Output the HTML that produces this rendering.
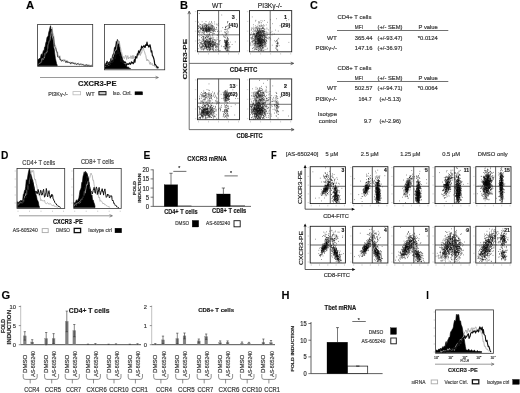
<!DOCTYPE html>
<html><head><meta charset="utf-8"><title>Figure</title>
<style>html,body{margin:0;padding:0;background:#fff;overflow:hidden}body{width:520px;height:393px}</style>
</head><body>
<svg width="520" height="393" viewBox="0 0 520 393" font-family='"Liberation Sans", sans-serif' style="display:block">
<style>text{stroke:#333;stroke-width:.22px;stroke-opacity:.8}</style>
<defs><filter id="bl" x="-2%" y="-2%" width="104%" height="104%"><feGaussianBlur stdDeviation="0.35"/></filter></defs>
<rect width="520" height="393" fill="#fff"/>
<g filter="url(#bl)" stroke-linecap="butt">
<text x="26.0" y="8.7" font-size="11" textLength="8.2" lengthAdjust="spacingAndGlyphs" font-weight="bold" fill="#000" stroke="#000" stroke-width=".4" stroke-opacity="1">A</text>
<text x="180.0" y="8.7" font-size="11" textLength="8.0" lengthAdjust="spacingAndGlyphs" font-weight="bold" fill="#000" stroke="#000" stroke-width=".4" stroke-opacity="1">B</text>
<text x="310.0" y="8.6" font-size="11" textLength="7.8" lengthAdjust="spacingAndGlyphs" font-weight="bold" fill="#000" stroke="#000" stroke-width=".4" stroke-opacity="1">C</text>
<text x="0.9" y="158.6" font-size="11" textLength="7.4" lengthAdjust="spacingAndGlyphs" font-weight="bold" fill="#000" stroke="#000" stroke-width=".4" stroke-opacity="1">D</text>
<text x="143.5" y="158.6" font-size="11" textLength="6.9" lengthAdjust="spacingAndGlyphs" font-weight="bold" fill="#000" stroke="#000" stroke-width=".4" stroke-opacity="1">E</text>
<text x="271.1" y="158.8" font-size="11" textLength="5.7" lengthAdjust="spacingAndGlyphs" font-weight="bold" fill="#000" stroke="#000" stroke-width=".4" stroke-opacity="1">F</text>
<text x="1.4" y="299.1" font-size="11" textLength="8.7" lengthAdjust="spacingAndGlyphs" font-weight="bold" fill="#000" stroke="#000" stroke-width=".4" stroke-opacity="1">G</text>
<text x="281.4" y="298.8" font-size="11" textLength="8.0" lengthAdjust="spacingAndGlyphs" font-weight="bold" fill="#000" stroke="#000" stroke-width=".4" stroke-opacity="1">H</text>
<text x="426.3" y="298.7" font-size="11" textLength="2.6" lengthAdjust="spacingAndGlyphs" font-weight="bold" fill="#000" stroke="#000" stroke-width=".4" stroke-opacity="1">I</text>
<path d="M38.0 59.2L38.6 59.5L39.2 58.4L39.8 58.6L40.4 57.9L41.0 54.9L41.6 53.8L42.2 56.3L42.8 52.7L43.4 50.5L44.0 51.3L44.6 47.1L45.2 46.4L45.8 42.8L46.4 41.3L47.0 37.2L47.6 37.0L48.2 35.7L48.8 32.0L49.4 30.2L50.0 27.3L50.6 25.7L51.2 32.7L51.8 36.3L52.4 38.3L53.0 40.4L53.6 46.9L54.2 49.0L54.8 54.0L55.4 58.5L56.0 61.1L56.6 63.7L57.2 65.1L57.2 65.8L38.0 65.8Z" fill="#000" stroke="#000" stroke-width="0.6" stroke-linejoin="round" opacity="1"/>
<path d="M38.4 64.2L39.0 63.9L39.6 63.5L40.2 63.3L40.8 62.3L41.4 62.1L42.0 58.4L42.6 58.8L43.2 59.8L43.8 57.7L44.4 57.9L45.0 53.5L45.6 54.1L46.2 52.2L46.8 52.5L47.4 50.5L48.0 45.2L48.6 43.3L49.2 40.8L49.8 40.8L50.4 37.5L51.0 32.4L51.6 32.8L52.2 27.4L52.8 32.9L53.4 34.1L54.0 37.0L54.6 44.2L55.2 44.7L55.8 46.6L56.4 51.7L57.0 52.8L57.6 51.9L58.2 56.5L58.8 55.5L59.4 57.0L60.0 55.8L60.6 59.7L61.2 59.5L61.8 61.0L62.4 61.0L63.0 59.3L63.6 59.8L64.2 59.5L64.8 59.8L65.4 59.9L66.0 60.9L66.6 61.9L67.2 60.5L67.8 62.3L68.4 61.6L69.0 61.7L69.6 63.0L70.2 62.3L70.8 62.1L71.4 62.6L72.0 63.2L72.6 61.9L73.2 64.0L73.8 62.1L74.4 63.8L75.0 64.1L75.6 62.6L76.2 64.2L76.8 63.5L77.4 64.0L78.0 63.0L78.6 63.2L79.2 63.5L79.8 64.9L80.4 63.7L81.0 64.7L81.6 65.0L82.2 65.1L82.8 64.2L83.4 64.3L84.0 64.6L84.6 65.1L85.2 64.1L85.8 65.2L86.4 65.3L87.0 65.4L87.6 64.4L88.2 65.7L88.8 64.6L89.4 65.0L90.0 65.4L90.6 65.8L91.2 65.3L91.8 65.8" fill="none" stroke="#aaa" stroke-width="0.8" stroke-linejoin="round" opacity="1"/>
<path d="M38.4 63.5L39.0 62.8L39.6 62.9L40.2 61.8L40.8 61.1L41.4 61.1L42.0 61.7L42.6 60.4L43.2 59.4L43.8 56.3L44.4 56.6L45.0 54.5L45.6 53.0L46.2 51.8L46.8 50.3L47.4 50.7L48.0 47.4L48.6 44.5L49.2 41.7L49.8 36.1L50.4 33.4L51.0 31.7L51.6 29.0L52.2 33.0L52.8 36.6L53.4 36.6L54.0 42.3L54.6 46.1L55.2 47.7L55.8 48.1L56.4 51.2L57.0 51.4L57.6 56.9L58.2 57.4L58.8 56.9L59.4 56.7L60.0 59.9L60.6 59.4L61.2 61.1L61.8 61.2L62.4 60.4L63.0 60.4L63.6 61.2L64.2 61.0L64.8 60.5L65.4 61.2L66.0 62.8L66.6 61.1L67.2 61.3L67.8 62.8L68.4 62.1L69.0 62.8L69.6 62.7L70.2 62.6L70.8 64.1L71.4 62.5L72.0 63.1L72.6 62.8L73.2 63.7L73.8 63.2L74.4 63.4L75.0 64.3L75.6 63.6L76.2 64.2L76.8 64.8L77.4 63.6L78.0 63.6L78.6 63.9L79.2 64.9L79.8 64.7L80.4 64.2L81.0 64.4L81.6 64.2L82.2 64.7L82.8 64.1L83.4 65.2L84.0 65.5L84.6 65.6L85.2 65.4L85.8 65.8L86.4 64.6L87.0 65.0L87.6 65.8L88.2 65.7L88.8 65.3L89.4 65.8L90.0 65.7L90.6 65.8L91.2 65.4L91.8 65.3" fill="none" stroke="#222" stroke-width="0.75" stroke-linejoin="round" opacity="1"/>
<rect x="37.6" y="24.5" width="55.1" height="41.8" fill="none" stroke="#333" stroke-width="0.8"/>
<path d="M104.8 64.4L105.4 64.3L106.0 63.0L106.6 62.1L107.2 60.9L107.8 63.2L108.4 62.3L109.0 63.2L109.6 61.6L110.2 62.2L110.8 58.5L111.4 59.6L112.0 57.8L112.6 54.9L113.2 54.0L113.8 52.5L114.4 47.7L115.0 47.1L115.6 46.0L116.2 41.4L116.8 42.0L117.4 39.4L118.0 41.5L118.6 41.1L119.2 41.9L119.8 47.8L120.4 51.5L121.0 53.3L121.6 55.3L122.2 57.3L122.8 60.6L123.4 60.3L124.0 64.1L124.6 63.9L125.2 64.0L125.8 65.6L126.4 65.3L127.0 67.0L127.6 67.3L128.2 66.8L128.8 67.5L129.4 67.9L130.0 68.5L130.6 68.7L130.6 68.7L104.8 68.7Z" fill="#000" stroke="#000" stroke-width="0.6" stroke-linejoin="round" opacity="1"/>
<path d="M105.0 65.4L105.6 66.9L106.2 64.6L106.8 65.8L107.4 63.9L108.0 64.1L108.6 66.0L109.2 63.5L109.8 64.5L110.4 63.1L111.0 61.8L111.6 60.8L112.2 58.1L112.8 60.0L113.4 55.2L114.0 54.7L114.6 51.7L115.2 50.9L115.8 49.6L116.4 49.9L117.0 45.4L117.6 42.1L118.2 40.7L118.8 43.6L119.4 41.6L120.0 46.6L120.6 47.8L121.2 51.7L121.8 52.7L122.4 56.9L123.0 56.2L123.6 57.2L124.2 58.7L124.8 57.4L125.4 55.5L126.0 55.4L126.6 59.5L127.2 57.1L127.8 55.6L128.4 59.0L129.0 57.1L129.6 57.7L130.2 58.4L130.8 55.7L131.4 56.2L132.0 58.9L132.6 55.5L133.2 58.7L133.8 55.5L134.4 58.1L135.0 57.8L135.6 58.8L136.2 58.0L136.8 56.1L137.4 54.4L138.0 53.9L138.6 55.4L139.2 55.0L139.8 52.2L140.4 55.5L141.0 52.9L141.6 53.1L142.2 50.1L142.8 49.5L143.4 47.7L144.0 50.8L144.6 51.9L145.2 54.2L145.8 55.5L146.4 59.2L147.0 61.0L147.6 59.2L148.2 60.7L148.8 60.3L149.4 62.8L150.0 64.4L150.6 62.2L151.2 64.6L151.8 63.7L152.4 63.5L153.0 66.0L153.6 65.4L154.2 65.6L154.8 66.6L155.4 66.8L156.0 67.6L156.6 68.1" fill="none" stroke="#aaa" stroke-width="0.9" stroke-linejoin="round" opacity="1"/>
<path d="M105.0 66.1L105.6 65.5L106.2 66.5L106.8 64.9L107.4 65.9L108.0 65.2L108.6 64.2L109.2 65.3L109.8 63.7L110.4 64.2L111.0 62.0L111.6 61.0L112.2 61.4L112.8 62.3L113.4 58.0L114.0 57.6L114.6 58.2L115.2 58.3L115.8 54.9L116.4 52.5L117.0 54.0L117.6 47.6L118.2 53.6L118.8 52.4L119.4 53.4L120.0 55.1L120.6 57.8L121.2 61.8L121.8 59.2L122.4 61.6L123.0 62.3L123.6 61.7L124.2 62.9L124.8 61.7L125.4 62.3L126.0 63.3L126.6 65.3L127.2 64.3L127.8 63.7L128.4 64.4L129.0 63.7L129.6 62.9L130.2 64.4L130.8 63.9L131.4 61.9L132.0 62.9L132.6 62.5L133.2 63.7L133.8 62.7L134.4 59.7L135.0 62.2L135.6 56.7L136.2 57.2L136.8 58.0L137.4 53.9L138.0 54.5L138.6 50.8L139.2 52.8L139.8 52.0L140.4 49.7L141.0 49.9L141.6 46.2L142.2 47.8L142.8 46.9L143.4 46.5L144.0 45.5L144.6 47.2L145.2 47.4L145.8 44.6L146.4 45.4L147.0 42.2L147.6 45.5L148.2 45.3L148.8 47.1L149.4 46.2L150.0 44.7L150.6 47.7L151.2 51.8L151.8 50.9L152.4 55.8L153.0 56.3L153.6 58.0L154.2 60.1L154.8 64.8L155.4 64.6L156.0 65.5L156.6 66.4L157.2 67.9L157.8 67.0L158.4 68.2" fill="none" stroke="#111" stroke-width="1.2" stroke-linejoin="round" opacity="1"/>
<rect x="104.4" y="24.4" width="60.3" height="45.4" fill="none" stroke="#333" stroke-width="0.8"/>
<line x1="40.0" y1="77.5" x2="158.0" y2="77.5" stroke="#555" stroke-width="0.6"/>
<path d="M155.5 76.2L158.5 77.5L155.5 78.8" fill="none" stroke="#555" stroke-width="0.6"/>
<text x="78.0" y="86.1" font-size="7" textLength="38.5" lengthAdjust="spacingAndGlyphs" font-weight="bold" stroke="none" fill="#111">CXCR3-PE</text>
<text x="48.3" y="95.8" font-size="5.4" textLength="19.4" lengthAdjust="spacingAndGlyphs" fill="#444">PI3Kγ-/-</text>
<rect x="73.0" y="91.6" width="7.6" height="3.2" fill="#fff" stroke="#bbb" stroke-width="0.8"/>
<text x="86.0" y="95.8" font-size="5.4" textLength="8.6" lengthAdjust="spacingAndGlyphs" fill="#444">WT</text>
<rect x="98.9" y="91.6" width="7.1" height="3.2" fill="#ccc" stroke="#111" stroke-width="1.0"/>
<text x="112.7" y="95.2" font-size="5.4" textLength="19.1" lengthAdjust="spacingAndGlyphs" fill="#444">Iso. Ctrl.</text>
<rect x="135.0" y="91.8" width="7.5" height="3.0" fill="#000" stroke="#000" stroke-width="0.5"/>
<text x="212.0" y="8.1" font-size="7.5" textLength="10.4" lengthAdjust="spacingAndGlyphs" fill="#222">WT</text>
<text x="257.8" y="8.1" font-size="7.5" textLength="24.2" lengthAdjust="spacingAndGlyphs" fill="#222">PI3Kγ-/-</text>
<path d="M205.3 29.9h.6M205.5 27.8h.6M202.5 28.0h.6M211.1 29.7h.6M210.8 29.2h.6M208.1 29.1h.6M199.4 30.8h.6M208.5 29.9h.6M199.3 24.1h.6M202.7 27.4h.6M207.7 28.5h.6M208.6 26.9h.6M207.7 29.6h.6M203.6 33.1h.6M208.7 31.7h.6M203.8 26.7h.6M205.0 28.3h.6M209.1 29.2h.6M204.5 26.1h.6M204.2 31.8h.6M203.0 29.2h.6M208.2 24.7h.6M206.6 32.0h.6M206.0 26.5h.6M208.5 28.4h.6M200.2 30.8h.6M209.2 31.1h.6M212.5 29.5h.6M206.9 25.2h.6M209.0 27.0h.6M204.5 25.3h.6M202.3 27.2h.6M211.8 23.3h.6M200.3 29.2h.6M212.5 30.1h.6M198.4 22.1h.6M207.9 26.7h.6M201.7 31.1h.6M211.0 29.0h.6M207.4 29.7h.6M213.1 30.2h.6M208.6 30.0h.6M199.8 31.9h.6M210.4 30.0h.6M198.1 27.0h.6M209.9 23.9h.6M205.6 31.3h.6M200.9 32.8h.6M208.7 28.2h.6M207.8 30.3h.6M206.9 31.6h.6M203.6 27.5h.6M210.8 28.7h.6M202.7 31.1h.6M212.6 27.4h.6M200.6 28.2h.6M205.8 27.8h.6M212.3 25.9h.6M211.7 25.3h.6M203.1 30.2h.6M211.1 30.8h.6M207.8 29.0h.6M207.0 30.1h.6M205.7 29.3h.6M208.8 28.6h.6M209.6 30.1h.6M214.8 29.4h.6M204.6 27.6h.6M206.3 31.0h.6M205.0 29.6h.6M214.1 21.9h.6M201.7 29.2h.6M208.1 29.2h.6M204.6 30.3h.6M207.6 27.2h.6M216.6 29.5h.6M204.1 28.3h.6M205.5 28.4h.6M210.6 25.6h.6M206.1 31.1h.6M210.0 32.5h.6M199.3 27.7h.6M205.0 30.2h.6M211.0 21.6h.6M211.0 24.8h.6M209.3 24.7h.6M207.1 31.7h.6M205.8 29.1h.6M209.7 29.0h.6M206.0 32.6h.6M210.8 27.8h.6M217.9 25.6h.6M210.2 27.9h.6M207.0 30.4h.6M207.3 30.3h.6M200.0 24.7h.6M209.0 26.1h.6M202.1 24.8h.6M211.7 30.5h.6M212.6 26.2h.6M206.4 25.6h.6M209.6 32.7h.6M202.7 32.7h.6M210.5 28.1h.6M198.1 32.3h.6M206.0 27.0h.6M208.1 29.7h.6M212.7 25.9h.6M211.2 32.5h.6M212.5 28.1h.6M203.3 31.2h.6M206.9 28.9h.6M212.4 27.9h.6M198.6 30.7h.6M207.7 27.0h.6M206.4 30.8h.6M206.7 32.0h.6M206.1 31.3h.6M212.7 32.8h.6M203.6 30.9h.6M198.5 25.8h.6M198.2 31.4h.6M201.2 28.6h.6M205.6 28.5h.6M203.9 29.2h.6M213.9 28.7h.6M208.6 31.2h.6M205.6 25.3h.6M204.1 31.4h.6M199.5 27.0h.6M210.6 30.7h.6M206.4 30.7h.6M207.1 25.5h.6M199.8 26.9h.6M210.3 27.1h.6M202.6 26.6h.6M200.0 28.3h.6M201.4 29.5h.6M203.7 23.6h.6M209.4 27.9h.6M207.6 27.4h.6M209.7 30.5h.6M209.2 29.4h.6M212.0 30.3h.6M208.3 23.2h.6M210.2 32.0h.6M205.2 27.4h.6M214.5 24.0h.6M208.4 34.9h.6M202.5 30.4h.6M214.3 28.3h.6M208.8 30.9h.6M202.6 28.4h.6M207.6 30.7h.6M206.3 28.1h.6M202.1 27.7h.6M210.1 28.9h.6M202.8 26.4h.6M217.6 31.6h.6M209.1 21.9h.6M209.0 29.8h.6M213.5 29.7h.6M206.1 30.0h.6M198.2 31.3h.6M207.8 26.8h.6M212.0 33.3h.6M200.5 26.9h.6M207.6 29.1h.6M204.7 26.1h.6M215.3 31.3h.6M201.4 25.1h.6M213.6 31.2h.6M214.0 30.7h.6M202.7 29.3h.6M206.2 30.0h.6M203.3 28.3h.6M208.3 29.6h.6M209.1 29.1h.6M205.0 30.7h.6M206.6 26.5h.6M203.8 28.6h.6M205.9 29.0h.6M206.4 29.1h.6M205.8 25.3h.6M208.2 31.3h.6M208.2 28.1h.6M208.3 26.1h.6M198.4 28.8h.6M202.5 30.5h.6M201.8 21.8h.6M202.0 32.7h.6M204.8 25.0h.6M203.2 30.0h.6M208.5 29.1h.6M212.6 30.4h.6M206.3 30.2h.6M213.3 31.1h.6M210.7 25.8h.6M205.8 30.5h.6M205.2 31.4h.6M208.9 31.0h.6M205.5 35.2h.6M211.6 28.0h.6M206.8 35.3h.6M205.0 30.9h.6M210.5 28.6h.6M201.5 29.1h.6M207.9 31.5h.6M209.7 28.7h.6M210.0 30.0h.6M207.3 28.7h.6M205.4 30.4h.6M202.0 27.0h.6M206.4 24.8h.6M204.6 23.4h.6M203.5 30.1h.6M208.8 28.5h.6M205.4 24.9h.6M214.1 29.9h.6M211.0 26.3h.6M205.6 23.9h.6M209.7 31.0h.6M198.4 28.5h.6M209.0 24.0h.6M198.7 25.8h.6M203.8 25.0h.6M206.5 29.2h.6M209.1 30.4h.6M212.7 31.6h.6M200.9 27.3h.6M201.9 25.8h.6M206.1 28.6h.6M208.5 24.5h.6M201.2 28.5h.6M205.6 27.8h.6M206.1 26.6h.6M209.3 29.5h.6M206.0 26.9h.6M205.7 21.5h.6M202.3 28.7h.6M200.1 29.1h.6M207.0 25.0h.6M205.3 27.8h.6M208.3 30.2h.6M206.2 26.4h.6M205.8 28.4h.6M209.5 29.4h.6M203.4 25.1h.6M204.8 26.7h.6M201.7 28.3h.6M204.3 28.9h.6M208.6 27.5h.6M216.2 27.8h.6M211.0 28.9h.6M211.1 22.4h.6M203.2 29.2h.6M208.9 34.7h.6M207.8 31.9h.6M209.6 31.1h.6M208.5 28.2h.6M208.5 25.8h.6M211.4 26.0h.6M207.4 34.1h.6M205.5 28.7h.6M211.3 28.7h.6M203.0 29.3h.6M208.8 30.4h.6M203.2 33.2h.6M213.4 28.6h.6M207.5 27.5h.6M212.3 26.8h.6M209.2 27.4h.6M203.5 30.5h.6M212.0 28.6h.6M203.6 30.7h.6M206.2 29.4h.6M212.8 31.5h.6M204.2 34.5h.6M206.4 30.6h.6M203.7 28.5h.6M199.1 33.2h.6M212.1 25.4h.6M200.1 24.4h.6M211.3 27.4h.6M206.1 27.8h.6M205.9 25.8h.6M206.5 24.9h.6M206.1 29.4h.6M208.4 28.0h.6M202.6 29.0h.6M204.4 32.7h.6M209.6 28.3h.6M204.4 26.8h.6M202.5 27.7h.6M207.6 29.9h.6M208.8 34.1h.6M203.4 28.6h.6M218.1 23.7h.6M204.2 29.0h.6M207.0 29.7h.6M205.4 29.6h.6M206.6 30.6h.6M198.5 26.3h.6M206.4 25.9h.6M202.0 30.2h.6M203.7 30.3h.6M209.5 29.4h.6M208.5 28.3h.6M200.5 28.5h.6M208.3 27.2h.6M206.0 30.5h.6M202.7 30.3h.6M214.2 27.2h.6M207.0 28.2h.6M212.9 29.4h.6M210.2 26.8h.6M206.3 28.6h.6M198.9 32.3h.6M210.2 24.1h.6M209.5 28.3h.6M208.3 29.6h.6M200.1 28.0h.6M212.7 27.1h.6M202.1 25.1h.6M202.4 45.2h.6M215.8 45.5h.6M205.6 41.6h.6M210.4 46.0h.6M203.3 39.8h.6M209.3 44.9h.6M202.0 43.3h.6M205.5 45.7h.6M207.5 43.7h.6M206.4 47.8h.6M214.4 42.7h.6M211.9 41.3h.6M208.3 46.7h.6M215.0 42.6h.6M207.7 44.7h.6M201.1 44.1h.6M204.9 45.3h.6M202.8 36.9h.6M208.2 44.9h.6M205.5 47.2h.6M206.7 41.8h.6M210.2 38.4h.6M204.9 43.9h.6M211.9 43.4h.6M209.4 41.6h.6M209.4 50.0h.6M205.0 44.1h.6M208.8 47.7h.6M202.3 36.4h.6M210.8 46.9h.6M208.9 44.9h.6M212.3 45.3h.6M215.7 39.5h.6M206.3 31.6h.6M211.7 42.7h.6M208.0 43.1h.6M205.7 41.0h.6M205.1 46.3h.6M208.2 44.2h.6M207.2 47.3h.6M210.3 43.5h.6M211.1 43.5h.6M202.7 49.2h.6M210.1 40.6h.6M213.0 45.2h.6M200.8 49.8h.6M209.5 47.2h.6M208.9 43.5h.6M200.9 47.5h.6M208.1 43.0h.6M209.6 44.3h.6M211.1 42.7h.6M207.8 36.3h.6M206.1 46.4h.6M214.1 42.7h.6M207.4 49.7h.6M206.5 46.6h.6M215.7 44.1h.6M213.6 41.4h.6M209.0 43.7h.6M208.5 48.1h.6M219.0 41.6h.6M205.4 45.8h.6M203.1 45.8h.6M210.6 43.0h.6M210.4 38.4h.6M211.5 38.4h.6M204.8 42.0h.6M206.2 47.1h.6M208.4 42.6h.6M210.5 49.7h.6M208.0 45.3h.6M213.7 45.0h.6M218.2 36.9h.6M207.8 45.5h.6M212.4 46.4h.6M206.7 40.2h.6M208.5 47.7h.6M203.0 40.3h.6M207.9 37.0h.6M206.8 42.4h.6M210.1 41.5h.6M203.9 42.6h.6M207.8 41.6h.6M208.1 46.7h.6M213.5 50.1h.6M204.4 42.5h.6M204.7 43.9h.6M210.4 39.1h.6M210.1 43.9h.6M199.6 45.1h.6M213.5 37.3h.6M211.7 44.8h.6M210.2 45.6h.6M214.0 43.2h.6M212.0 42.5h.6M211.3 41.1h.6M207.5 50.2h.6M210.0 43.4h.6M202.7 41.2h.6M208.9 47.4h.6M210.0 45.9h.6M207.8 48.9h.6M206.2 42.0h.6M212.1 44.2h.6M206.7 41.9h.6M206.8 46.2h.6M209.6 39.6h.6M210.0 44.6h.6M203.4 46.8h.6M206.7 42.8h.6M211.7 48.8h.6M204.8 45.6h.6M205.7 48.3h.6M205.0 46.9h.6M218.2 34.9h.6M206.0 45.8h.6M207.6 41.6h.6M217.9 44.3h.6M200.4 47.1h.6M200.1 48.1h.6M205.3 44.5h.6M213.8 44.4h.6M201.6 37.9h.6M213.4 46.7h.6M204.2 47.1h.6M210.3 46.3h.6M212.1 46.6h.6M212.1 35.2h.6M208.8 45.8h.6M219.7 40.6h.6M206.5 44.1h.6M212.1 42.4h.6M213.3 41.2h.6M209.2 42.1h.6M208.7 41.5h.6M200.7 47.9h.6M209.4 42.0h.6M208.9 47.6h.6M203.5 43.6h.6M210.5 45.9h.6M206.5 36.4h.6M213.7 45.2h.6M208.1 43.0h.6M209.2 42.5h.6M203.3 41.3h.6M205.3 41.8h.6M202.7 46.3h.6M202.0 46.4h.6M203.3 45.3h.6M214.3 44.7h.6M204.6 44.2h.6M208.7 37.8h.6M205.2 44.6h.6M205.8 44.3h.6M211.4 46.8h.6M212.2 46.1h.6M206.7 43.9h.6M206.8 42.9h.6M207.2 37.8h.6M206.5 43.9h.6M203.5 43.9h.6M210.4 43.4h.6M217.6 34.6h.6M207.1 37.4h.6M210.4 42.9h.6M210.5 35.9h.6M211.9 45.3h.6M208.1 41.9h.6M210.9 42.3h.6M209.0 42.2h.6M208.9 46.7h.6M204.0 43.9h.6M210.8 44.5h.6M213.7 51.2h.6M203.8 37.1h.6M211.9 49.5h.6M212.2 46.9h.6M205.2 41.4h.6M212.1 40.7h.6M199.7 40.4h.6M219.5 50.9h.6M204.8 41.4h.6M209.1 41.3h.6M214.0 43.7h.6M203.0 48.7h.6M205.3 44.8h.6M207.9 42.9h.6M209.5 41.5h.6M199.5 36.1h.6M202.2 41.3h.6M207.9 44.2h.6M210.6 44.4h.6M204.4 41.4h.6M198.3 43.4h.6M210.2 45.9h.6M207.4 43.4h.6M212.3 44.1h.6M211.4 46.1h.6M209.0 48.7h.6M205.4 42.7h.6M204.3 41.1h.6M215.2 50.3h.6M208.1 46.0h.6M213.4 46.9h.6M213.5 39.5h.6M205.1 45.6h.6M214.6 44.4h.6M204.1 42.7h.6M205.0 40.9h.6M214.9 41.7h.6M213.4 45.2h.6M205.2 45.5h.6M215.5 46.2h.6M213.8 44.4h.6M210.4 43.3h.6M210.0 48.7h.6M201.4 43.8h.6M209.1 41.9h.6M206.6 46.8h.6M217.2 46.3h.6M209.5 38.4h.6M216.9 44.3h.6M207.8 40.0h.6M207.7 40.1h.6M208.3 45.7h.6M208.1 45.0h.6M204.1 49.1h.6M205.0 37.5h.6M207.1 41.3h.6M203.4 42.7h.6M209.3 39.7h.6M207.4 49.1h.6M211.1 43.5h.6M208.6 43.6h.6M207.8 46.6h.6M207.6 35.3h.6M207.9 40.8h.6M211.0 41.8h.6M203.2 40.0h.6M201.5 35.4h.6M199.4 45.3h.6M205.1 37.3h.6M201.2 46.2h.6M204.4 42.7h.6M209.5 48.9h.6M216.9 47.7h.6M208.7 44.7h.6M216.3 49.1h.6M206.6 45.6h.6M209.3 44.2h.6M205.7 39.2h.6M205.5 38.4h.6M213.6 45.9h.6M202.5 49.0h.6M212.1 37.1h.6M216.5 46.9h.6M217.5 39.6h.6M210.4 45.5h.6M208.9 44.6h.6M212.8 38.6h.6M202.3 39.0h.6M205.4 41.8h.6M209.7 45.0h.6M208.1 41.6h.6M206.0 47.4h.6M211.5 44.4h.6M206.5 49.6h.6M205.3 46.3h.6M213.3 43.0h.6M211.8 40.0h.6M212.7 44.7h.6M200.7 46.4h.6M203.9 48.6h.6M204.9 43.4h.6M209.3 42.8h.6M209.2 42.0h.6M211.1 44.0h.6M209.0 34.1h.6M213.3 44.1h.6M199.8 44.3h.6M210.1 47.9h.6M203.0 49.6h.6M207.3 46.4h.6M206.3 40.0h.6M213.0 47.3h.6M215.1 47.1h.6M205.4 38.0h.6M205.0 41.6h.6M204.3 46.1h.6M209.5 43.0h.6M208.8 43.5h.6M209.0 46.7h.6M212.4 41.5h.6M201.1 49.1h.6M208.5 48.0h.6M200.4 42.8h.6M208.1 38.8h.6M205.6 46.6h.6M213.0 49.7h.6M204.0 39.0h.6M210.4 47.4h.6M208.9 39.3h.6M211.6 46.9h.6M210.5 42.2h.6M209.4 46.8h.6M205.4 37.4h.6M209.5 45.7h.6M208.1 47.2h.6M205.3 43.7h.6M206.6 46.1h.6M215.3 43.1h.6M217.5 49.5h.6M211.6 46.1h.6M216.1 43.4h.6M207.5 40.2h.6M210.2 48.8h.6M210.4 45.5h.6M207.1 44.6h.6M201.4 47.8h.6M206.1 40.0h.6M204.5 41.0h.6M211.9 47.8h.6M201.8 47.3h.6M212.1 41.9h.6M201.2 41.3h.6M205.1 45.2h.6M206.4 36.7h.6M209.1 38.5h.6M212.2 39.7h.6M204.8 40.9h.6M205.5 48.7h.6M211.9 46.2h.6M209.5 38.4h.6M205.6 42.0h.6M203.5 45.8h.6M204.6 41.4h.6M203.2 36.6h.6M210.7 48.8h.6M208.8 40.5h.6M213.6 45.1h.6M212.3 49.3h.6M213.2 42.4h.6M212.8 46.8h.6M200.9 42.5h.6M201.5 43.6h.6M210.7 40.2h.6M198.5 48.7h.6M209.7 49.3h.6M201.9 47.8h.6M207.0 45.0h.6M207.3 47.6h.6M212.8 44.3h.6M201.7 46.7h.6M205.8 46.3h.6M209.2 49.8h.6M213.2 42.4h.6M209.6 50.4h.6M205.5 45.6h.6M213.5 48.5h.6M210.4 39.2h.6M202.2 44.9h.6M204.0 48.1h.6M211.5 38.0h.6M204.2 44.6h.6M205.7 43.4h.6M210.2 41.1h.6M210.1 41.7h.6M205.5 45.9h.6M205.4 45.0h.6M215.4 44.1h.6M207.3 46.6h.6M206.3 47.9h.6M202.1 46.2h.6M205.6 41.1h.6M216.1 40.9h.6M216.1 46.4h.6M214.7 40.5h.6M213.5 49.2h.6M207.5 43.5h.6M219.3 44.6h.6M206.1 41.7h.6M210.1 45.2h.6M208.8 50.2h.6M206.5 45.7h.6M214.7 40.4h.6M212.8 50.6h.6M201.8 40.0h.6M203.2 37.4h.6M210.1 37.3h.6M210.3 49.2h.6M200.6 42.9h.6M199.2 46.8h.6M204.6 43.0h.6M208.3 46.0h.6M206.4 44.1h.6M205.5 44.4h.6M202.6 44.2h.6M199.1 42.2h.6M216.8 44.3h.6M202.2 44.9h.6M203.5 38.1h.6M204.6 46.7h.6M209.8 43.7h.6M203.7 40.1h.6M214.2 44.9h.6M203.6 36.4h.6M202.7 43.7h.6M209.0 43.4h.6M206.7 39.1h.6M203.2 50.1h.6M204.5 47.0h.6M200.2 43.0h.6M209.2 47.7h.6M202.8 46.1h.6M209.8 41.3h.6M210.2 40.8h.6M204.3 43.9h.6M203.4 38.7h.6M206.0 46.7h.6M206.1 48.6h.6M202.7 39.3h.6M215.1 45.4h.6M212.3 41.0h.6M211.7 44.9h.6M211.0 44.1h.6M213.5 41.7h.6M203.6 38.7h.6M213.3 41.3h.6M203.2 40.6h.6M206.0 39.4h.6M206.7 41.7h.6M205.5 40.5h.6M208.2 42.3h.6M208.5 44.9h.6M209.6 36.1h.6M205.5 41.1h.6M211.6 38.3h.6M204.7 42.9h.6M206.5 47.6h.6M206.0 47.5h.6M201.3 37.5h.6M213.6 45.6h.6M210.2 44.4h.6M210.2 39.6h.6M212.4 42.1h.6M212.5 44.3h.6M198.9 39.4h.6M213.2 43.5h.6M206.2 44.9h.6M206.0 42.0h.6M208.5 44.5h.6M215.0 44.2h.6M216.6 50.5h.6M215.9 47.8h.6M208.6 44.5h.6M207.3 41.4h.6M207.7 41.7h.6M215.5 45.9h.6M205.9 37.1h.6M207.8 42.5h.6M225.0 40.4h.6M223.6 46.5h.6M226.3 44.0h.6M228.0 45.0h.6M226.5 43.2h.6M225.6 49.9h.6M227.5 50.7h.6M225.9 44.6h.6M225.2 48.0h.6M224.6 46.5h.6M227.6 49.6h.6M225.2 48.4h.6M225.4 41.8h.6M224.7 48.7h.6M228.3 42.4h.6M225.4 43.3h.6M229.3 48.1h.6M225.6 38.0h.6M225.5 48.8h.6M228.5 43.5h.6M225.5 42.7h.6M224.0 47.8h.6M225.0 48.3h.6M224.3 39.9h.6M226.6 41.8h.6M227.2 44.5h.6M224.9 46.7h.6M227.3 37.6h.6M228.5 46.3h.6M227.2 37.8h.6M225.4 43.2h.6M227.6 39.2h.6M225.2 37.2h.6M226.0 45.7h.6M224.3 42.4h.6M226.9 50.2h.6M227.1 43.4h.6M224.9 41.1h.6M225.5 45.0h.6M226.2 50.5h.6M226.6 40.6h.6M228.2 47.9h.6M226.4 41.9h.6M224.1 40.8h.6M227.4 41.6h.6M224.7 45.2h.6M226.6 46.7h.6M227.1 49.6h.6M225.3 48.0h.6M225.1 47.0h.6M226.5 45.4h.6M227.5 44.4h.6M227.6 47.7h.6M226.5 42.5h.6M225.4 42.6h.6M226.1 44.4h.6M229.9 46.8h.6M227.2 41.4h.6M225.4 43.4h.6M226.5 40.8h.6M228.2 42.5h.6M227.6 36.1h.6M226.3 45.5h.6M226.5 46.7h.6M226.6 45.1h.6M224.0 41.9h.6M223.5 46.8h.6M226.7 43.8h.6M225.3 42.4h.6M228.5 50.7h.6M226.2 49.1h.6M224.4 37.5h.6M225.7 41.4h.6M225.6 45.2h.6M229.9 42.1h.6M226.4 45.5h.6M226.3 47.9h.6M228.4 40.0h.6M226.5 43.5h.6M226.7 39.0h.6M224.2 36.2h.6M226.9 45.2h.6M226.4 36.0h.6M225.9 41.8h.6M224.6 41.2h.6M227.1 46.5h.6M226.3 46.4h.6M225.6 44.8h.6M226.3 46.5h.6M226.2 44.0h.6M226.1 42.2h.6M229.0 46.4h.6M228.0 38.9h.6M227.1 47.5h.6M228.6 49.2h.6M227.2 40.3h.6M225.3 45.5h.6M226.9 40.8h.6M225.8 43.1h.6M226.4 45.7h.6M226.0 40.0h.6M227.8 50.2h.6M226.2 48.2h.6M226.8 46.9h.6M226.9 41.8h.6M227.0 48.1h.6M228.8 51.1h.6M228.7 47.2h.6M225.9 42.3h.6M225.3 44.9h.6M226.3 46.9h.6M229.0 44.4h.6M227.1 46.2h.6M226.6 43.7h.6M226.2 41.5h.6M226.5 44.4h.6M226.7 41.4h.6M226.3 44.7h.6M227.0 40.7h.6M226.8 48.0h.6M227.0 43.2h.6M225.7 43.6h.6M227.2 50.1h.6M226.1 42.2h.6M226.8 45.2h.6M225.2 41.8h.6M226.2 46.9h.6M224.9 40.8h.6M226.9 40.1h.6M226.4 45.8h.6M226.2 40.8h.6M226.2 43.3h.6M226.7 41.5h.6M227.6 38.5h.6M226.1 44.5h.6M227.5 42.3h.6M227.0 42.5h.6M227.2 50.8h.6M225.8 46.1h.6M225.2 48.0h.6M227.8 44.6h.6M224.9 45.9h.6M227.7 48.4h.6M227.3 37.9h.6M225.5 49.6h.6M224.8 48.6h.6M228.6 47.2h.6M227.6 43.3h.6M224.8 44.1h.6M226.1 44.3h.6M227.1 44.0h.6M226.5 46.0h.6M226.3 51.1h.6M226.8 44.8h.6M226.1 42.2h.6M227.9 45.0h.6M225.0 42.5h.6M226.1 42.9h.6M227.6 40.3h.6M226.9 45.0h.6M224.9 44.7h.6M226.2 46.3h.6M225.8 45.6h.6M224.3 40.6h.6M227.2 48.2h.6M226.3 42.3h.6M227.7 21.6h.6M224.7 32.7h.6M227.0 25.9h.6M223.0 35.8h.6M226.2 26.4h.6M226.1 33.6h.6M221.9 34.4h.6M227.2 21.7h.6M227.2 22.9h.6M227.8 31.6h.6M229.6 27.6h.6M226.0 34.2h.6M225.0 27.2h.6M225.4 29.7h.6M224.3 31.9h.6M226.9 30.3h.6M228.7 28.7h.6M228.1 27.8h.6M227.2 22.3h.6M226.3 29.3h.6M225.2 27.6h.6M225.4 27.1h.6M222.5 27.6h.6M225.1 27.9h.6M224.3 29.5h.6M227.3 29.0h.6M225.2 35.4h.6M227.6 33.7h.6M227.8 28.7h.6M225.8 34.5h.6M225.1 29.5h.6M226.6 31.5h.6M225.6 33.9h.6M225.7 32.9h.6M227.7 32.6h.6M218.4 30.7h.6M206.1 35.1h.6M206.7 42.5h.6M208.9 34.1h.6M212.3 45.5h.6M215.3 49.4h.6M208.1 47.1h.6M219.6 40.6h.6M216.9 35.5h.6M207.5 36.8h.6M215.2 42.5h.6M218.5 33.8h.6M219.5 43.0h.6M204.9 44.8h.6M217.3 43.6h.6M223.5 36.7h.6M217.1 46.0h.6M208.6 49.6h.6M205.3 29.6h.6M217.1 31.3h.6M213.3 26.8h.6M214.4 30.9h.6M216.1 27.7h.6M216.7 37.9h.6M214.4 39.5h.6M214.8 29.4h.6M198.6 40.3h.6M208.4 36.4h.6M216.6 24.1h.6M209.4 35.1h.6M207.7 42.6h.6M213.2 33.4h.6M208.1 46.5h.6M210.0 44.7h.6M216.7 24.8h.6M207.5 40.0h.6M216.1 46.2h.6M204.2 34.2h.6M221.5 15.0h.6M234.8 24.3h.6M231.8 44.5h.6M236.4 19.6h.6M215.3 47.3h.6M198.9 13.5h.6M220.8 31.1h.6M234.9 41.9h.6M219.8 50.7h.6M218.9 31.9h.6M225.6 26.9h.6M212.6 34.9h.6M212.4 48.8h.6M225.2 32.2h.6M202.4 26.3h.6M214.3 33.6h.6M221.2 46.1h.6" stroke="#111" stroke-width="0.7" opacity="0.9" fill="none"/>
<path d="M263.5 35.9h.6M254.5 40.7h.6M262.7 37.4h.6M252.6 35.4h.6M260.8 42.3h.6M266.2 35.9h.6M257.5 37.3h.6M263.8 31.7h.6M264.1 20.5h.6M262.3 33.3h.6M261.0 41.8h.6M254.9 37.0h.6M260.2 41.1h.6M255.9 31.4h.6M258.6 36.1h.6M253.8 43.3h.6M257.3 46.4h.6M262.5 37.6h.6M262.0 30.6h.6M258.1 33.9h.6M254.6 37.6h.6M258.8 46.4h.6M255.9 34.6h.6M260.9 40.0h.6M259.4 34.6h.6M261.1 39.7h.6M252.5 35.9h.6M254.2 30.2h.6M259.8 37.9h.6M259.7 32.1h.6M258.6 31.8h.6M260.7 41.8h.6M265.8 45.3h.6M256.3 34.7h.6M255.8 39.4h.6M266.6 41.9h.6M251.2 29.7h.6M254.5 40.7h.6M259.3 39.4h.6M265.9 32.4h.6M256.2 49.7h.6M260.6 32.7h.6M251.8 28.0h.6M250.3 37.9h.6M259.5 43.7h.6M258.8 33.2h.6M256.6 49.3h.6M252.8 38.6h.6M259.4 41.3h.6M257.8 40.6h.6M262.3 36.6h.6M257.6 36.3h.6M255.7 36.2h.6M258.2 38.8h.6M264.2 45.6h.6M257.7 41.2h.6M260.4 42.2h.6M259.4 39.1h.6M257.6 32.6h.6M262.5 45.6h.6M261.8 40.2h.6M260.3 34.7h.6M252.7 41.6h.6M260.0 34.1h.6M255.7 45.4h.6M252.6 48.4h.6M256.6 37.4h.6M257.4 38.5h.6M258.5 32.9h.6M263.3 32.6h.6M257.4 40.9h.6M257.3 34.8h.6M260.6 35.2h.6M254.7 36.9h.6M258.5 48.1h.6M255.2 43.5h.6M256.4 35.3h.6M258.1 39.2h.6M262.5 48.3h.6M256.9 45.7h.6M263.0 42.5h.6M256.5 43.1h.6M258.9 39.7h.6M258.3 41.6h.6M263.4 44.5h.6M258.5 43.7h.6M264.7 31.7h.6M264.7 29.2h.6M261.3 41.2h.6M264.8 39.2h.6M257.5 32.6h.6M254.7 42.2h.6M258.4 33.1h.6M261.3 32.8h.6M257.7 34.7h.6M265.4 46.6h.6M258.7 27.8h.6M260.3 37.9h.6M260.6 41.0h.6M258.1 43.2h.6M262.4 38.8h.6M257.8 34.5h.6M261.9 30.7h.6M258.7 32.9h.6M254.1 41.2h.6M259.2 37.7h.6M262.5 28.2h.6M259.1 39.3h.6M262.4 30.8h.6M261.9 38.9h.6M264.3 44.6h.6M261.3 50.8h.6M259.3 34.9h.6M258.0 31.7h.6M259.2 25.9h.6M259.0 40.1h.6M263.0 35.3h.6M264.4 33.5h.6M258.8 25.9h.6M256.5 32.6h.6M264.7 40.7h.6M255.3 40.7h.6M261.0 36.1h.6M259.4 35.7h.6M257.3 26.8h.6M259.0 45.3h.6M264.5 35.8h.6M256.6 36.2h.6M262.5 39.6h.6M257.2 39.7h.6M258.6 40.6h.6M257.8 28.6h.6M259.5 42.1h.6M255.3 36.9h.6M262.5 35.2h.6M257.0 49.8h.6M262.3 43.7h.6M255.9 47.4h.6M253.3 34.4h.6M262.0 45.5h.6M256.0 33.5h.6M260.0 25.9h.6M261.6 40.9h.6M257.7 40.7h.6M262.1 39.4h.6M261.2 46.6h.6M257.6 38.5h.6M257.4 43.7h.6M257.8 40.4h.6M259.8 37.9h.6M265.5 37.0h.6M264.4 42.5h.6M264.0 36.5h.6M262.6 42.0h.6M257.1 39.1h.6M258.8 37.3h.6M264.0 33.2h.6M253.3 27.1h.6M257.7 33.6h.6M259.4 40.9h.6M265.6 39.4h.6M261.0 33.1h.6M261.4 45.6h.6M264.1 25.8h.6M262.5 47.0h.6M262.2 28.6h.6M258.2 41.0h.6M260.8 32.7h.6M256.1 43.3h.6M254.5 46.1h.6M259.4 39.3h.6M254.5 33.9h.6M261.8 28.7h.6M266.7 29.1h.6M254.9 37.8h.6M261.0 41.9h.6M258.0 36.3h.6M258.5 34.1h.6M250.1 43.2h.6M260.2 38.4h.6M257.1 39.0h.6M259.3 37.0h.6M263.2 27.2h.6M260.2 31.1h.6M258.2 46.4h.6M255.4 36.9h.6M257.2 43.2h.6M255.8 27.5h.6M261.1 35.4h.6M258.2 43.9h.6M256.1 35.3h.6M259.8 40.0h.6M257.5 43.7h.6M267.3 35.1h.6M265.9 24.9h.6M264.3 35.5h.6M259.8 35.5h.6M257.0 29.9h.6M257.9 45.2h.6M263.4 35.4h.6M257.4 33.3h.6M255.0 48.2h.6M261.7 38.2h.6M257.6 31.4h.6M264.0 42.1h.6M255.9 43.4h.6M255.4 41.3h.6M255.9 35.0h.6M261.1 40.1h.6M262.9 32.5h.6M264.9 45.5h.6M259.3 40.3h.6M256.5 36.6h.6M254.6 38.0h.6M260.0 45.5h.6M262.7 42.3h.6M258.0 36.2h.6M258.1 38.8h.6M252.4 42.1h.6M253.7 34.4h.6M259.4 34.4h.6M265.2 36.9h.6M264.9 44.5h.6M257.5 39.9h.6M263.9 35.5h.6M259.6 34.2h.6M259.5 35.4h.6M259.6 43.5h.6M264.2 38.3h.6M260.0 42.6h.6M258.3 31.2h.6M263.2 31.9h.6M262.6 31.8h.6M265.8 31.3h.6M262.3 46.4h.6M255.9 46.3h.6M256.4 27.0h.6M261.9 41.7h.6M258.6 22.5h.6M259.1 35.7h.6M258.0 35.8h.6M252.9 34.1h.6M265.7 46.7h.6M258.0 33.3h.6M260.7 43.8h.6M261.9 30.5h.6M259.9 38.3h.6M264.4 44.6h.6M261.2 44.7h.6M257.9 46.7h.6M257.8 39.9h.6M262.6 32.1h.6M256.8 27.0h.6M259.9 37.2h.6M258.1 40.5h.6M251.8 37.4h.6M259.6 35.9h.6M262.1 47.9h.6M257.7 31.9h.6M257.2 38.1h.6M261.4 32.4h.6M262.8 31.4h.6M262.2 40.0h.6M260.9 50.3h.6M258.4 36.5h.6M261.0 42.6h.6M254.5 39.1h.6M256.7 41.3h.6M264.2 37.8h.6M258.9 38.6h.6M261.3 38.5h.6M257.9 33.2h.6M258.7 44.7h.6M258.9 45.5h.6M250.2 34.8h.6M260.3 37.4h.6M253.4 33.5h.6M263.7 29.8h.6M255.8 31.0h.6M257.3 41.3h.6M261.4 25.4h.6M264.5 34.0h.6M257.2 47.4h.6M259.0 30.1h.6M257.0 33.2h.6M255.7 35.5h.6M262.4 39.6h.6M255.8 38.2h.6M259.4 42.0h.6M258.1 40.2h.6M266.8 38.1h.6M255.5 39.5h.6M256.4 35.3h.6M260.0 39.5h.6M258.3 42.5h.6M258.6 29.7h.6M262.4 35.3h.6M263.6 33.6h.6M261.3 39.4h.6M255.3 45.9h.6M252.6 42.9h.6M263.2 40.4h.6M261.7 34.5h.6M259.3 38.8h.6M260.8 41.7h.6M258.6 33.3h.6M257.3 39.9h.6M253.4 30.0h.6M257.8 34.2h.6M258.3 21.7h.6M258.1 36.0h.6M262.1 25.7h.6M258.2 40.3h.6M261.0 44.6h.6M263.0 31.3h.6M261.6 35.5h.6M256.4 46.6h.6M257.1 32.4h.6M257.8 32.4h.6M262.9 39.8h.6M264.3 40.0h.6M257.1 43.7h.6M257.0 34.7h.6M258.7 37.7h.6M263.6 33.9h.6M260.6 37.3h.6M254.8 31.0h.6M258.5 39.9h.6M260.4 40.4h.6M259.5 34.8h.6M260.8 31.5h.6M254.5 35.5h.6M254.2 34.4h.6M256.6 34.2h.6M259.1 32.7h.6M257.8 27.3h.6M259.8 32.2h.6M260.7 20.6h.6M256.4 39.0h.6M250.6 35.3h.6M259.6 38.1h.6M254.0 38.9h.6M259.8 31.7h.6M262.0 37.2h.6M259.4 34.8h.6M261.3 38.1h.6M263.4 40.2h.6M257.1 36.2h.6M262.6 35.3h.6M260.7 40.6h.6M258.7 23.6h.6M259.8 38.8h.6M259.8 33.0h.6M263.6 36.7h.6M257.1 33.2h.6M260.6 31.0h.6M255.7 49.5h.6M264.0 43.8h.6M264.2 41.1h.6M253.3 44.7h.6M263.7 40.4h.6M252.3 45.0h.6M264.2 34.5h.6M259.8 42.2h.6M259.0 44.1h.6M259.6 41.7h.6M259.6 28.6h.6M260.3 45.4h.6M263.4 47.8h.6M261.3 33.9h.6M259.4 26.0h.6M258.6 42.9h.6M251.5 38.7h.6M262.3 45.5h.6M256.0 33.6h.6M252.6 31.4h.6M261.2 50.0h.6M255.2 45.8h.6M260.8 34.5h.6M267.2 22.3h.6M259.1 38.8h.6M267.0 48.3h.6M267.4 38.3h.6M262.8 45.7h.6M261.1 39.7h.6M258.6 35.0h.6M254.9 49.2h.6M257.7 25.0h.6M260.2 37.3h.6M259.9 48.4h.6M258.9 35.9h.6M256.6 37.4h.6M257.7 38.7h.6M270.5 39.9h.6M256.2 49.1h.6M262.4 42.4h.6M261.9 42.4h.6M261.7 46.0h.6M262.9 45.6h.6M257.5 37.5h.6M256.7 43.3h.6M262.3 34.7h.6M263.8 30.8h.6M259.0 41.3h.6M259.2 39.8h.6M263.6 39.5h.6M255.3 41.8h.6M258.9 38.2h.6M257.3 29.2h.6M254.8 35.4h.6M255.4 21.1h.6M263.4 30.5h.6M256.7 40.7h.6M250.6 45.6h.6M256.5 41.5h.6M257.6 39.3h.6M259.7 37.5h.6M252.7 28.6h.6M259.2 46.0h.6M257.3 40.7h.6M259.9 40.4h.6M262.9 28.4h.6M260.3 36.4h.6M258.2 32.3h.6M256.5 31.3h.6M265.4 37.6h.6M262.0 31.6h.6M259.8 46.2h.6M259.1 31.5h.6M258.4 31.5h.6M254.3 36.1h.6M257.9 32.6h.6M256.1 31.9h.6M260.2 45.9h.6M258.5 51.0h.6M253.5 39.2h.6M255.1 36.5h.6M259.7 40.9h.6M263.4 34.1h.6M254.8 36.4h.6M260.4 33.3h.6M262.5 47.7h.6M254.2 39.7h.6M263.0 25.9h.6M260.0 36.1h.6M254.2 45.5h.6M260.1 34.6h.6M260.9 41.4h.6M262.1 41.0h.6M260.8 30.4h.6M257.8 38.3h.6M257.9 31.1h.6M252.7 39.0h.6M259.4 34.0h.6M257.8 32.1h.6M256.6 36.9h.6M257.0 41.6h.6M258.8 38.3h.6M260.8 45.2h.6M261.5 38.9h.6M258.7 32.6h.6M258.1 41.6h.6M260.1 35.2h.6M254.5 28.2h.6M260.5 43.7h.6M260.6 29.2h.6M258.5 38.8h.6M256.0 39.6h.6M258.6 32.5h.6M254.8 42.4h.6M260.6 32.1h.6M255.6 42.9h.6M261.4 35.7h.6M265.0 35.8h.6M255.5 44.1h.6M258.6 39.6h.6M259.4 31.4h.6M255.0 36.3h.6M264.4 31.4h.6M264.2 38.8h.6M255.3 39.1h.6M261.3 32.1h.6M251.6 39.7h.6M255.3 40.2h.6M252.4 36.6h.6M256.4 28.6h.6M258.4 38.5h.6M257.3 30.4h.6M260.1 26.9h.6M261.2 40.5h.6M265.3 42.8h.6M260.6 39.1h.6M259.4 29.5h.6M264.6 40.7h.6M258.3 30.6h.6M264.6 40.7h.6M255.0 41.5h.6M266.1 37.4h.6M260.7 35.0h.6M257.0 44.0h.6M270.4 38.2h.6M258.9 42.3h.6M258.2 41.9h.6M262.3 31.4h.6M255.4 37.1h.6M262.3 39.2h.6M263.8 29.2h.6M261.1 33.8h.6M259.7 39.4h.6M255.8 36.1h.6M255.1 39.1h.6M256.2 34.5h.6M260.1 33.6h.6M263.4 33.7h.6M262.3 39.2h.6M255.6 36.2h.6M256.3 35.3h.6M258.3 48.4h.6M257.8 46.9h.6M260.9 29.6h.6M251.0 41.6h.6M252.2 41.8h.6M263.0 39.8h.6M258.5 36.0h.6M260.2 35.7h.6M257.4 35.3h.6M263.5 33.8h.6M260.7 30.6h.6M256.7 29.2h.6M258.6 41.6h.6M260.4 34.5h.6M261.5 35.4h.6M260.6 39.1h.6M261.2 22.6h.6M254.6 42.1h.6M258.9 51.0h.6M258.5 34.2h.6M264.6 40.8h.6M266.1 40.6h.6M258.6 41.8h.6M256.5 34.8h.6M257.3 36.2h.6M262.1 34.6h.6M260.5 34.5h.6M262.5 21.0h.6M258.6 38.5h.6M255.4 43.6h.6M260.1 45.2h.6M262.7 41.3h.6M258.8 31.0h.6M258.5 34.7h.6M260.2 34.7h.6M270.2 27.9h.6M263.5 34.7h.6M258.4 43.0h.6M259.3 30.2h.6M260.8 36.3h.6M251.9 38.7h.6M255.5 33.0h.6M261.0 39.3h.6M258.3 50.5h.6M260.8 33.8h.6M260.1 36.8h.6M251.4 28.1h.6M254.3 49.9h.6M258.6 35.8h.6M257.3 43.4h.6M259.4 47.7h.6M262.1 47.3h.6M258.9 39.7h.6M257.8 36.5h.6M253.1 34.0h.6M255.9 33.6h.6M263.6 39.1h.6M263.7 42.6h.6M262.6 43.5h.6M257.1 42.3h.6M258.2 34.3h.6M263.6 50.4h.6M255.8 47.9h.6M262.3 32.4h.6M260.3 39.7h.6M260.6 35.4h.6M254.7 37.7h.6M262.4 42.2h.6M261.7 44.1h.6M255.8 37.2h.6M260.5 43.5h.6M259.9 40.6h.6M259.8 50.0h.6M251.5 37.4h.6M268.1 38.9h.6M252.8 38.3h.6M254.2 33.4h.6M260.1 47.7h.6M260.9 41.5h.6M262.9 38.7h.6M256.2 36.9h.6M260.5 35.8h.6M256.9 35.4h.6M253.9 31.4h.6M259.0 35.3h.6M259.4 45.9h.6M260.4 37.3h.6M255.1 31.1h.6M260.6 32.3h.6M260.8 31.1h.6M259.8 37.1h.6M262.8 35.2h.6M258.0 39.0h.6M259.5 47.6h.6M258.4 34.3h.6M258.2 40.3h.6M260.1 41.6h.6M265.9 37.3h.6M255.0 38.4h.6M260.8 24.2h.6M259.3 28.7h.6M260.9 45.7h.6M263.0 28.5h.6M264.2 42.9h.6M258.0 40.5h.6M264.7 35.5h.6M259.2 34.2h.6M263.4 24.7h.6M264.4 31.7h.6M262.6 27.8h.6M256.0 33.9h.6M262.2 27.8h.6M261.4 33.7h.6M263.7 35.6h.6M261.0 36.5h.6M265.7 35.4h.6M259.2 49.3h.6M259.6 41.6h.6M256.7 38.7h.6M251.2 38.1h.6M257.0 28.5h.6M254.3 44.3h.6M260.8 28.5h.6M265.8 33.3h.6M258.0 39.0h.6M255.3 27.9h.6M256.6 44.5h.6M262.7 28.1h.6M263.6 37.7h.6M261.1 37.8h.6M260.8 31.5h.6M256.1 33.3h.6M258.0 41.2h.6M255.0 47.0h.6M257.0 34.0h.6M261.8 40.1h.6M258.1 31.1h.6M255.7 28.0h.6M263.4 44.0h.6M266.0 40.5h.6M260.5 42.0h.6M262.7 36.0h.6M260.6 50.4h.6M253.3 29.1h.6M255.9 42.0h.6M263.5 35.5h.6M261.7 37.2h.6M260.4 34.3h.6M259.2 37.5h.6M263.3 50.8h.6M252.8 40.7h.6M259.3 43.3h.6M263.1 42.2h.6M262.2 31.8h.6M253.2 47.5h.6M263.6 31.8h.6M263.9 41.5h.6M250.6 42.9h.6M255.8 44.5h.6M256.9 33.1h.6M253.8 36.2h.6M262.9 33.5h.6M252.7 50.3h.6M265.9 41.6h.6M257.4 30.3h.6M253.5 40.8h.6M263.9 31.2h.6M259.3 35.8h.6M258.4 40.5h.6M266.8 33.7h.6M262.3 44.0h.6M258.3 36.6h.6M254.5 43.9h.6M257.4 33.6h.6M259.5 32.4h.6M255.6 35.7h.6M264.6 36.3h.6M261.2 28.7h.6M252.4 48.4h.6M257.9 28.3h.6M258.9 41.1h.6M253.1 32.2h.6M260.2 32.0h.6M262.1 43.3h.6M260.9 34.9h.6M259.1 33.7h.6M258.8 39.4h.6M258.2 43.3h.6M268.6 34.2h.6M260.5 42.4h.6M261.6 36.1h.6M257.6 43.5h.6M261.5 40.5h.6M256.4 41.3h.6M262.1 36.4h.6M261.6 50.5h.6M252.6 41.1h.6M255.1 29.3h.6M258.5 40.8h.6M259.5 30.5h.6M254.2 34.2h.6M259.3 32.5h.6M253.9 48.0h.6M256.3 36.6h.6M257.3 34.0h.6M259.4 35.7h.6M261.5 30.4h.6M254.0 49.2h.6M259.0 42.1h.6M263.5 40.8h.6M259.4 28.2h.6M253.6 43.4h.6M261.7 40.9h.6M253.4 24.7h.6M255.5 30.4h.6M259.9 31.4h.6M265.0 33.8h.6M257.3 42.7h.6M260.5 32.1h.6M262.2 49.1h.6M254.9 36.0h.6M255.4 25.8h.6M261.5 41.7h.6M262.8 40.1h.6M252.1 37.3h.6M256.9 30.4h.6M255.3 42.1h.6M258.2 49.3h.6M261.0 26.0h.6M262.5 45.0h.6M259.4 30.2h.6M264.7 37.7h.6M259.3 35.5h.6M255.8 36.2h.6M262.7 46.9h.6M258.3 37.5h.6M259.3 43.9h.6M255.0 38.2h.6M259.2 45.1h.6M259.7 44.2h.6M255.9 33.3h.6M260.4 39.1h.6M259.1 41.1h.6M260.9 39.6h.6M263.7 42.6h.6M261.0 44.8h.6M262.5 44.0h.6M254.4 40.2h.6M265.0 44.3h.6M261.1 44.2h.6M257.6 40.0h.6M257.6 46.8h.6M260.6 49.1h.6M261.0 49.5h.6M260.8 38.1h.6M264.6 43.8h.6M263.0 43.3h.6M258.5 43.1h.6M256.2 38.1h.6M256.9 40.5h.6M255.5 42.1h.6M260.4 50.1h.6M264.9 42.3h.6M262.1 41.7h.6M260.7 42.4h.6M257.9 42.8h.6M255.1 44.1h.6M258.6 38.5h.6M258.4 44.6h.6M257.5 44.3h.6M261.2 48.3h.6M256.3 42.1h.6M261.0 48.1h.6M260.3 45.3h.6M255.2 40.3h.6M264.4 41.4h.6M265.9 39.8h.6M258.7 36.5h.6M261.4 43.5h.6M265.5 43.1h.6M258.8 37.2h.6M259.3 46.0h.6M261.7 47.1h.6M262.1 42.3h.6M261.3 43.1h.6M255.6 48.9h.6M260.6 38.6h.6M260.6 43.6h.6M262.5 47.9h.6M250.5 44.6h.6M264.0 38.9h.6M254.0 43.5h.6M260.5 43.8h.6M256.2 40.7h.6M260.1 45.3h.6M266.0 43.6h.6M257.7 33.6h.6M262.7 42.0h.6M259.2 38.8h.6M261.7 35.8h.6M259.8 43.0h.6M260.4 47.4h.6M259.2 42.9h.6M262.0 36.7h.6M258.6 42.8h.6M262.3 39.5h.6M261.9 43.9h.6M255.1 36.9h.6M255.2 43.0h.6M260.1 45.2h.6M261.9 40.4h.6M262.7 45.6h.6M260.9 44.3h.6M255.7 43.9h.6M256.4 38.0h.6M258.5 43.0h.6M259.3 41.3h.6M256.5 43.2h.6M257.3 37.2h.6M259.8 48.0h.6M258.3 38.5h.6M263.6 49.0h.6M258.6 41.7h.6M259.9 46.3h.6M260.8 35.6h.6M256.2 37.8h.6M260.8 42.9h.6M264.8 41.5h.6M260.4 42.8h.6M260.4 48.1h.6M263.4 40.2h.6M261.5 41.1h.6M259.8 43.1h.6M259.6 40.7h.6M264.2 41.5h.6M261.6 48.9h.6M261.4 46.4h.6M263.7 46.6h.6M264.6 37.1h.6M265.4 42.6h.6M254.3 40.1h.6M255.3 42.4h.6M255.0 38.7h.6M260.4 43.1h.6M257.1 41.6h.6M259.2 42.8h.6M259.5 41.7h.6M262.1 36.4h.6M258.0 43.0h.6M258.3 40.4h.6M258.2 43.3h.6M263.2 41.8h.6M258.7 43.9h.6M258.8 35.2h.6M260.3 41.1h.6M257.8 44.9h.6M259.6 40.4h.6M253.0 36.0h.6M259.5 42.1h.6M260.8 43.3h.6M258.1 37.7h.6M256.2 42.0h.6M256.1 45.4h.6M255.5 35.7h.6M258.9 35.8h.6M264.4 38.7h.6M259.3 41.6h.6M257.0 35.8h.6M253.9 45.8h.6M262.6 50.7h.6M255.1 44.6h.6M259.5 45.7h.6M258.0 45.2h.6M262.2 44.8h.6M263.8 41.8h.6M264.1 39.8h.6M264.5 32.1h.6M259.5 39.5h.6M259.5 46.4h.6M261.7 42.9h.6M264.6 36.9h.6M257.1 48.2h.6M260.5 34.6h.6M260.5 38.0h.6M263.9 46.8h.6M257.9 47.4h.6M257.0 46.0h.6M261.2 42.0h.6M255.2 41.4h.6M252.6 40.4h.6M253.9 47.1h.6M256.6 33.3h.6M261.3 43.9h.6M258.0 50.5h.6M261.8 42.8h.6M257.6 31.3h.6M260.9 46.1h.6M257.7 37.1h.6M259.4 36.1h.6M259.5 45.4h.6M264.0 43.5h.6M260.1 45.3h.6M263.7 41.3h.6M255.8 39.5h.6M255.7 39.1h.6M259.1 43.8h.6M260.0 42.8h.6M258.4 44.1h.6M262.2 45.4h.6M264.0 41.4h.6M258.7 48.9h.6M260.1 44.1h.6M258.5 46.2h.6M258.3 38.7h.6M259.3 40.8h.6M262.0 41.1h.6M259.9 41.7h.6M260.5 40.1h.6M262.8 37.1h.6M258.3 39.8h.6M261.4 42.7h.6M261.0 41.2h.6M257.3 38.2h.6M258.5 40.5h.6M260.3 43.8h.6M262.4 42.1h.6M257.3 38.5h.6M259.7 43.9h.6M265.3 43.2h.6M264.8 49.6h.6M256.4 47.1h.6M262.9 47.6h.6M259.5 46.1h.6M258.1 42.2h.6M259.6 49.3h.6M258.9 46.1h.6M259.7 39.8h.6M260.2 45.0h.6M257.4 44.9h.6M257.4 39.2h.6M260.2 41.6h.6M256.6 36.3h.6M259.6 43.4h.6M258.1 43.2h.6M254.9 44.0h.6M260.7 43.6h.6M257.7 42.8h.6M259.9 46.6h.6M260.3 43.5h.6M275.8 48.1h.6M277.7 43.2h.6M277.1 46.1h.6M276.5 40.4h.6M278.3 38.3h.6M276.8 43.6h.6M277.6 43.5h.6M276.5 47.2h.6M277.0 43.1h.6M277.2 46.4h.6M277.5 43.2h.6M276.5 43.6h.6M275.7 45.9h.6M276.9 50.1h.6M276.2 46.4h.6M277.6 44.6h.6M276.6 45.5h.6M275.8 41.5h.6M277.6 45.6h.6M276.4 40.5h.6M276.6 49.2h.6M275.4 41.8h.6M277.6 50.1h.6M278.0 43.0h.6M277.1 42.3h.6M277.0 43.7h.6M276.7 49.8h.6M276.8 44.1h.6M276.6 46.0h.6M276.0 45.7h.6M277.1 50.6h.6M274.4 40.7h.6M275.3 48.1h.6M278.9 45.7h.6M276.6 49.1h.6M251.4 32.8h.6M263.0 30.6h.6M268.0 29.9h.6M272.6 34.0h.6M263.3 40.4h.6M261.1 42.7h.6M271.7 35.0h.6M271.9 45.2h.6M274.2 34.0h.6M265.7 41.7h.6M257.2 29.8h.6M268.9 38.0h.6M277.1 46.2h.6M267.9 37.1h.6M258.2 32.7h.6M267.6 32.4h.6M266.4 38.2h.6M260.3 30.1h.6M255.4 41.9h.6M259.7 22.2h.6M270.6 32.5h.6M271.7 31.4h.6M278.6 38.9h.6M266.9 34.8h.6M264.8 39.6h.6M277.9 31.1h.6M259.5 38.1h.6M272.3 23.7h.6M261.9 27.1h.6M269.3 37.5h.6M261.6 26.2h.6M270.0 19.8h.6M269.8 32.9h.6M277.4 40.9h.6M262.6 32.1h.6M264.4 29.0h.6M266.5 40.7h.6M257.1 32.4h.6M253.4 40.7h.6M275.3 30.1h.6M277.2 42.9h.6M250.9 30.2h.6M277.4 39.4h.6M276.2 18.7h.6M288.6 42.4h.6M259.7 28.5h.6M288.5 19.7h.6M266.7 49.3h.6M286.2 20.7h.6M279.7 25.7h.6M276.8 41.7h.6M255.6 20.3h.6M259.0 22.0h.6M251.9 16.9h.6M266.6 28.1h.6M253.6 34.4h.6" stroke="#111" stroke-width="0.7" opacity="0.8" fill="none"/>
<path d="M211.4 109.8h.6M201.8 115.9h.6M203.5 112.4h.6M205.2 111.6h.6M204.8 109.6h.6M198.3 118.2h.6M206.9 104.7h.6M202.1 107.5h.6M202.8 102.5h.6M208.5 117.3h.6M204.9 114.1h.6M208.6 107.1h.6M211.3 105.5h.6M203.5 110.2h.6M211.4 111.9h.6M205.5 108.7h.6M206.4 111.6h.6M209.1 116.4h.6M209.2 111.6h.6M205.3 117.1h.6M206.9 111.4h.6M213.7 117.0h.6M208.5 111.1h.6M203.3 115.3h.6M204.0 114.9h.6M202.6 111.9h.6M207.7 112.0h.6M207.0 112.8h.6M201.2 107.6h.6M205.4 117.9h.6M205.5 108.2h.6M203.2 111.6h.6M211.1 109.5h.6M208.4 112.2h.6M204.5 108.2h.6M205.3 109.0h.6M208.3 105.3h.6M210.9 114.2h.6M208.5 116.8h.6M208.6 105.5h.6M206.2 113.1h.6M203.1 107.5h.6M207.9 113.3h.6M204.2 110.6h.6M203.8 109.5h.6M205.8 115.3h.6M199.1 110.3h.6M212.9 112.6h.6M206.7 114.4h.6M201.7 107.3h.6M198.9 106.4h.6M207.1 114.5h.6M204.2 109.1h.6M207.7 113.7h.6M207.1 104.8h.6M203.7 102.6h.6M207.0 108.5h.6M203.2 116.8h.6M211.7 113.2h.6M207.2 112.1h.6M203.5 111.3h.6M214.2 108.4h.6M203.2 112.1h.6M209.8 114.4h.6M201.9 111.0h.6M204.9 107.2h.6M206.3 109.8h.6M209.9 113.0h.6M202.7 111.8h.6M204.5 109.3h.6M203.9 115.2h.6M204.2 105.5h.6M202.7 114.3h.6M215.2 107.8h.6M204.5 110.3h.6M200.0 112.9h.6M205.8 112.5h.6M215.6 110.6h.6M209.4 114.4h.6M203.3 109.4h.6M212.7 114.0h.6M206.6 107.7h.6M209.8 113.3h.6M215.4 116.7h.6M209.4 112.4h.6M206.3 109.6h.6M207.3 112.4h.6M208.8 115.3h.6M207.3 109.6h.6M209.5 116.9h.6M202.4 113.0h.6M208.3 113.4h.6M208.2 111.2h.6M205.6 117.4h.6M213.4 106.6h.6M203.1 109.7h.6M199.2 112.7h.6M205.8 109.6h.6M212.3 115.6h.6M204.2 113.8h.6M205.8 115.5h.6M208.5 111.4h.6M208.4 109.0h.6M209.4 116.8h.6M204.5 113.4h.6M198.9 114.8h.6M209.8 107.9h.6M213.5 111.9h.6M198.6 106.7h.6M209.7 110.5h.6M210.7 106.1h.6M205.6 114.9h.6M203.1 113.9h.6M204.5 112.7h.6M200.7 114.2h.6M211.6 107.6h.6M210.5 101.1h.6M205.0 105.5h.6M207.3 109.0h.6M203.6 108.6h.6M207.3 109.9h.6M202.1 110.7h.6M207.7 108.5h.6M210.7 105.7h.6M207.7 110.1h.6M212.7 109.3h.6M203.2 106.8h.6M214.5 113.7h.6M201.4 110.3h.6M201.9 116.8h.6M207.8 104.4h.6M206.9 114.7h.6M206.0 113.2h.6M205.5 112.2h.6M206.9 109.0h.6M207.5 112.1h.6M205.8 109.1h.6M201.7 112.4h.6M209.5 103.0h.6M203.7 116.2h.6M209.9 109.0h.6M211.8 108.0h.6M202.6 118.3h.6M204.1 110.7h.6M198.9 108.0h.6M201.0 111.0h.6M198.2 115.2h.6M204.5 109.4h.6M203.3 114.1h.6M212.6 110.1h.6M212.9 117.1h.6M211.7 112.5h.6M199.6 113.9h.6M204.3 112.2h.6M207.0 108.2h.6M207.3 117.4h.6M207.0 109.1h.6M216.2 104.0h.6M202.1 112.9h.6M203.5 103.5h.6M207.1 114.4h.6M202.6 116.6h.6M208.1 115.7h.6M199.5 111.5h.6M212.9 118.6h.6M211.6 111.5h.6M206.8 109.3h.6M210.7 109.1h.6M206.5 104.3h.6M199.6 117.7h.6M206.3 112.3h.6M214.9 106.3h.6M203.7 110.8h.6M200.6 106.7h.6M200.7 113.8h.6M205.8 114.4h.6M201.4 113.6h.6M204.1 111.8h.6M210.0 111.6h.6M204.5 105.6h.6M206.3 114.3h.6M203.3 111.3h.6M198.4 106.8h.6M207.7 116.1h.6M204.7 105.6h.6M204.4 106.0h.6M204.8 118.3h.6M207.3 111.0h.6M210.5 110.2h.6M207.4 112.2h.6M207.9 106.3h.6M209.1 114.6h.6M202.1 116.8h.6M206.1 113.9h.6M208.4 114.6h.6M203.2 109.4h.6M207.6 113.7h.6M208.5 112.7h.6M203.9 115.4h.6M208.0 115.3h.6M203.1 111.9h.6M203.9 110.4h.6M206.8 112.7h.6M202.5 102.5h.6M202.6 113.4h.6M202.3 113.0h.6M204.4 108.2h.6M211.1 117.4h.6M205.6 111.3h.6M210.2 106.8h.6M202.2 115.5h.6M209.9 109.7h.6M202.6 112.7h.6M199.9 109.7h.6M205.0 102.7h.6M208.6 114.2h.6M210.6 106.4h.6M200.4 108.6h.6M200.3 118.8h.6M201.7 110.4h.6M206.9 113.1h.6M212.3 107.6h.6M209.8 112.0h.6M200.9 112.0h.6M199.9 117.3h.6M202.8 115.1h.6M211.7 109.3h.6M202.1 112.0h.6M201.4 114.7h.6M206.8 108.8h.6M203.0 114.1h.6M199.7 117.5h.6M202.6 110.8h.6M202.0 117.3h.6M209.6 116.2h.6M208.9 111.8h.6M213.4 113.9h.6M207.9 113.6h.6M209.2 112.5h.6M205.3 105.8h.6M215.0 106.8h.6M214.5 115.9h.6M203.4 112.4h.6M205.9 104.4h.6M204.5 112.5h.6M211.1 107.2h.6M207.5 111.8h.6M206.7 112.0h.6M204.4 106.6h.6M208.0 112.9h.6M208.5 116.0h.6M200.6 103.1h.6M202.0 112.9h.6M205.9 114.1h.6M220.1 109.6h.6M205.3 109.4h.6M207.1 113.4h.6M201.7 116.2h.6M211.0 113.1h.6M205.5 110.6h.6M198.8 113.9h.6M201.7 109.7h.6M210.4 108.2h.6M203.7 114.6h.6M214.2 109.0h.6M210.9 109.1h.6M207.7 113.2h.6M201.0 115.2h.6M213.9 111.7h.6M207.2 107.3h.6M213.9 111.7h.6M200.4 114.3h.6M199.6 109.0h.6M215.7 109.2h.6M203.1 109.4h.6M203.5 113.5h.6M212.4 107.9h.6M207.9 105.0h.6M212.7 111.2h.6M202.9 117.0h.6M205.5 116.4h.6M210.7 117.5h.6M202.5 111.7h.6M207.6 110.8h.6M212.7 108.9h.6M210.4 116.4h.6M202.0 109.5h.6M207.7 110.9h.6M206.3 109.8h.6M205.6 113.2h.6M209.3 108.7h.6M205.5 108.8h.6M205.2 106.3h.6M210.2 113.9h.6M205.5 109.0h.6M204.0 109.1h.6M199.2 117.4h.6M220.5 107.1h.6M200.9 113.6h.6M208.7 105.8h.6M203.8 111.8h.6M206.0 109.5h.6M205.4 110.4h.6M211.5 111.2h.6M205.9 109.6h.6M203.2 108.8h.6M206.0 118.1h.6M210.9 112.4h.6M213.3 115.1h.6M206.9 110.9h.6M201.2 112.4h.6M204.6 105.8h.6M200.3 118.5h.6M206.9 113.3h.6M206.9 109.8h.6M208.0 115.4h.6M204.6 113.3h.6M210.5 109.8h.6M206.7 108.8h.6M208.7 110.2h.6M211.0 108.7h.6M213.4 110.4h.6M202.3 108.2h.6M208.9 108.4h.6M213.9 116.1h.6M208.3 106.4h.6M205.9 108.9h.6M215.7 109.6h.6M209.6 116.1h.6M201.8 110.3h.6M207.2 113.2h.6M201.0 112.3h.6M205.5 114.9h.6M199.0 109.5h.6M203.8 110.4h.6M209.2 109.2h.6M218.0 109.0h.6M209.7 115.2h.6M210.2 110.8h.6M202.3 110.6h.6M208.9 111.9h.6M208.6 113.6h.6M202.1 108.1h.6M212.3 109.8h.6M199.0 118.2h.6M202.3 108.1h.6M210.3 107.4h.6M202.2 115.3h.6M206.6 111.7h.6M203.2 110.7h.6M203.8 111.4h.6M209.4 106.9h.6M202.0 104.0h.6M212.6 111.2h.6M205.9 111.3h.6M210.4 112.7h.6M209.7 110.9h.6M205.5 111.3h.6M199.1 107.9h.6M209.0 111.7h.6M209.6 117.6h.6M214.2 116.5h.6M205.0 118.9h.6M202.1 111.2h.6M210.4 110.7h.6M205.5 110.2h.6M212.0 102.6h.6M211.6 115.3h.6M205.7 113.5h.6M201.7 115.5h.6M219.5 108.2h.6M212.1 111.3h.6M204.5 109.7h.6M205.2 107.0h.6M200.0 117.5h.6M205.9 113.5h.6M207.4 113.2h.6M199.3 108.1h.6M208.8 115.1h.6M201.0 109.4h.6M201.3 113.9h.6M207.5 111.6h.6M203.1 112.7h.6M206.1 108.8h.6M207.5 109.1h.6M210.2 113.8h.6M203.0 113.6h.6M206.3 109.0h.6M202.0 105.5h.6M201.0 112.7h.6M211.3 109.2h.6M206.7 112.7h.6M209.4 113.1h.6M211.4 114.3h.6M202.6 112.9h.6M206.1 113.6h.6M204.7 114.5h.6M211.8 108.5h.6M203.6 112.4h.6M208.2 112.0h.6M209.7 107.2h.6M209.4 115.7h.6M210.9 113.0h.6M205.0 112.9h.6M205.7 105.8h.6M203.3 111.4h.6M203.7 108.1h.6M205.0 110.2h.6M206.3 111.3h.6M206.8 115.1h.6M206.6 113.0h.6M200.6 100.9h.6M204.2 113.9h.6M204.5 109.3h.6M200.5 114.7h.6M203.7 112.4h.6M211.0 113.4h.6M215.9 111.0h.6M210.2 114.0h.6M203.1 111.7h.6M203.5 107.8h.6M207.3 108.7h.6M213.4 108.8h.6M203.6 111.8h.6M203.7 111.7h.6M203.3 106.4h.6M212.7 113.1h.6M206.7 109.8h.6M205.4 112.6h.6M199.9 108.6h.6M202.1 116.0h.6M201.4 115.7h.6M205.7 111.6h.6M211.9 114.6h.6M210.1 107.7h.6M211.0 117.5h.6M205.5 109.8h.6M201.2 115.2h.6M207.3 111.5h.6M200.6 117.3h.6M209.9 111.4h.6M212.5 108.1h.6M209.9 107.9h.6M212.2 110.5h.6M211.4 110.0h.6M207.8 115.6h.6M202.0 111.8h.6M202.3 114.6h.6M203.3 110.2h.6M205.1 115.7h.6M201.4 111.4h.6M204.6 109.5h.6M202.5 110.9h.6M206.9 105.9h.6M207.0 107.2h.6M201.7 111.3h.6M204.9 115.0h.6M203.9 105.1h.6M198.9 112.1h.6M207.1 115.3h.6M203.6 113.9h.6M201.3 116.2h.6M205.7 109.1h.6M206.8 117.8h.6M202.3 107.0h.6M201.5 107.3h.6M205.8 112.8h.6M205.3 112.2h.6M211.2 110.5h.6M200.5 103.3h.6M207.1 109.1h.6M204.9 113.0h.6M208.0 105.9h.6M201.8 111.8h.6M205.4 115.6h.6M203.8 104.1h.6M211.1 105.6h.6M201.7 112.9h.6M207.0 113.4h.6M208.4 108.9h.6M211.5 105.4h.6M203.4 112.5h.6M206.6 108.0h.6M213.0 116.8h.6M201.9 112.8h.6M203.2 109.9h.6M210.3 112.0h.6M205.5 111.9h.6M200.8 115.9h.6M202.7 116.2h.6M204.0 109.9h.6M212.5 112.2h.6M203.2 109.6h.6M209.7 102.9h.6M209.7 95.2h.6M202.1 94.2h.6M206.5 97.3h.6M204.1 100.9h.6M202.8 94.1h.6M209.2 98.1h.6M205.3 99.8h.6M200.8 102.1h.6M216.6 103.1h.6M207.5 103.2h.6M207.2 101.0h.6M206.1 97.2h.6M209.3 90.6h.6M206.1 102.3h.6M211.1 97.6h.6M207.9 101.2h.6M208.5 90.1h.6M202.8 95.5h.6M207.6 95.0h.6M206.5 102.2h.6M211.1 98.5h.6M207.1 96.7h.6M208.6 97.3h.6M203.8 99.2h.6M203.4 96.4h.6M205.4 92.6h.6M209.7 96.3h.6M201.9 96.2h.6M200.9 101.4h.6M209.3 103.2h.6M204.5 98.9h.6M202.7 93.6h.6M206.6 97.9h.6M211.1 95.6h.6M211.8 99.8h.6M203.2 95.9h.6M203.0 102.3h.6M204.6 99.5h.6M211.0 95.6h.6M204.9 97.7h.6M203.6 92.2h.6M202.8 97.6h.6M207.8 102.5h.6M199.0 98.2h.6M201.9 100.4h.6M210.0 96.9h.6M213.5 95.2h.6M204.7 92.9h.6M204.1 96.9h.6M209.9 100.8h.6M205.8 94.0h.6M205.5 95.0h.6M205.0 95.1h.6M203.2 96.3h.6M204.8 95.9h.6M200.9 97.0h.6M209.5 98.7h.6M204.6 92.6h.6M201.3 92.5h.6M204.2 95.5h.6M199.2 98.8h.6M200.3 94.2h.6M203.8 99.3h.6M215.0 95.3h.6M205.8 95.2h.6M206.1 95.9h.6M217.8 92.8h.6M206.5 93.8h.6M208.6 94.7h.6M209.5 92.9h.6M216.2 97.2h.6M199.3 98.9h.6M205.0 92.6h.6M208.9 94.8h.6M210.2 94.7h.6M210.9 97.0h.6M208.6 97.0h.6M205.4 95.3h.6M209.0 98.9h.6M205.2 104.0h.6M214.4 92.7h.6M211.7 96.3h.6M208.0 93.9h.6M214.2 93.7h.6M206.6 94.1h.6M215.4 100.7h.6M201.3 95.0h.6M208.6 95.1h.6M205.5 92.9h.6M208.1 92.8h.6M210.6 104.5h.6M205.6 102.0h.6M208.6 94.3h.6M205.5 93.3h.6M207.5 98.8h.6M211.0 95.6h.6M201.8 96.3h.6M214.3 97.4h.6M206.7 89.6h.6M205.1 98.3h.6M202.9 101.0h.6M204.5 93.6h.6M204.5 96.2h.6M211.3 94.6h.6M199.3 96.2h.6M209.3 101.7h.6M202.1 101.5h.6M209.9 98.0h.6M203.7 93.6h.6M202.9 99.6h.6M207.9 100.1h.6M214.9 96.6h.6M206.8 102.9h.6M201.3 95.0h.6M205.4 95.2h.6M207.6 93.7h.6M212.0 92.0h.6M203.5 90.9h.6M200.9 98.5h.6M209.7 95.9h.6M210.7 98.6h.6M204.5 96.4h.6M208.6 103.2h.6M205.1 97.7h.6M209.4 100.6h.6M208.8 100.1h.6M202.4 95.6h.6M223.1 95.9h.6M229.4 96.8h.6M226.1 96.8h.6M226.2 91.9h.6M225.0 95.5h.6M226.2 93.3h.6M225.8 93.7h.6M224.1 94.0h.6M224.8 98.6h.6M228.0 97.8h.6M225.7 94.3h.6M223.7 94.4h.6M228.3 99.6h.6M226.3 95.3h.6M226.0 97.3h.6M226.0 97.4h.6M224.9 96.2h.6M225.5 99.4h.6M224.2 100.1h.6M225.9 94.4h.6M226.0 96.4h.6M225.7 97.3h.6M225.1 90.7h.6M227.0 95.9h.6M228.5 97.2h.6M223.1 99.9h.6M225.0 97.7h.6M229.3 99.4h.6M224.4 95.7h.6M223.6 98.1h.6M226.8 92.8h.6M226.7 98.9h.6M227.2 93.9h.6M225.0 92.5h.6M224.1 97.0h.6M226.1 100.1h.6M226.4 95.0h.6M223.9 100.8h.6M226.2 95.9h.6M224.5 92.8h.6M226.9 93.0h.6M226.9 98.0h.6M225.4 91.0h.6M226.6 100.4h.6M224.8 92.1h.6M227.6 96.5h.6M225.1 99.8h.6M225.6 97.4h.6M225.4 93.7h.6M226.3 93.4h.6M223.4 94.3h.6M227.8 99.4h.6M229.2 99.1h.6M228.4 96.8h.6M225.4 97.5h.6M224.6 98.3h.6M225.3 96.8h.6M224.7 95.6h.6M227.4 95.4h.6M225.0 96.9h.6M227.3 95.5h.6M224.3 91.2h.6M224.0 99.3h.6M225.9 97.5h.6M227.6 96.9h.6M226.7 94.5h.6M223.6 98.0h.6M225.9 97.8h.6M224.4 95.6h.6M229.0 93.4h.6M226.1 100.1h.6M225.7 96.4h.6M222.9 98.4h.6M225.4 100.0h.6M225.9 94.9h.6M226.6 95.3h.6M225.2 100.8h.6M227.4 96.4h.6M227.2 98.6h.6M226.9 96.2h.6M226.1 97.3h.6M226.8 97.1h.6M225.2 95.8h.6M226.7 93.0h.6M226.0 98.4h.6M226.2 95.2h.6M226.0 94.6h.6M227.4 94.9h.6M223.6 92.3h.6M226.4 96.7h.6M225.3 92.0h.6M225.8 93.5h.6M225.0 96.0h.6M224.9 97.0h.6M224.9 94.6h.6M225.7 100.5h.6M228.3 98.9h.6M224.9 96.1h.6M227.3 98.5h.6M223.6 95.9h.6M224.9 98.3h.6M226.9 94.4h.6M229.1 95.2h.6M229.6 95.5h.6M225.9 101.9h.6M225.2 94.6h.6M228.2 95.9h.6M226.7 92.2h.6M228.6 99.1h.6M226.5 98.2h.6M225.3 94.6h.6M223.7 97.2h.6M227.8 98.7h.6M227.4 98.2h.6M224.6 92.1h.6M226.9 96.6h.6M227.4 95.2h.6M224.7 97.4h.6M225.2 91.0h.6M225.1 93.4h.6M224.4 94.4h.6M227.4 103.2h.6M228.5 94.8h.6M227.7 95.8h.6M226.6 94.0h.6M225.9 90.9h.6M228.6 93.7h.6M226.9 94.3h.6M226.4 92.5h.6M225.4 98.8h.6M226.9 90.1h.6M227.3 92.1h.6M226.4 97.6h.6M225.1 95.1h.6M225.6 97.3h.6M227.3 100.2h.6M226.5 102.1h.6M224.6 101.5h.6M225.6 98.4h.6M225.8 96.3h.6M224.7 97.2h.6M229.0 96.5h.6M226.0 96.1h.6M227.0 95.4h.6M226.0 96.7h.6M227.9 98.9h.6M224.5 94.1h.6M226.0 98.6h.6M227.4 95.4h.6M229.1 95.6h.6M228.1 100.4h.6M228.3 96.7h.6M226.8 91.4h.6M223.4 94.2h.6M227.1 99.3h.6M225.8 99.2h.6M226.8 100.7h.6M223.7 93.5h.6M224.6 92.9h.6M228.4 93.2h.6M224.8 109.4h.6M227.3 109.1h.6M227.1 113.4h.6M225.1 101.2h.6M224.7 105.9h.6M228.4 108.1h.6M224.4 112.6h.6M226.1 107.2h.6M227.6 114.9h.6M226.4 107.9h.6M224.7 102.5h.6M226.6 112.7h.6M224.6 111.2h.6M230.8 106.4h.6M223.5 113.6h.6M225.4 109.0h.6M226.9 110.5h.6M227.5 113.2h.6M227.7 111.6h.6M222.8 116.7h.6M223.5 115.4h.6M226.4 105.3h.6M226.1 114.7h.6M224.5 111.2h.6M224.9 106.9h.6M225.1 116.4h.6M227.0 110.9h.6M225.9 111.6h.6M226.4 111.8h.6M223.5 114.9h.6M224.7 100.2h.6M227.0 106.0h.6M225.8 110.7h.6M225.1 113.3h.6M225.6 109.9h.6M224.6 109.9h.6M224.5 111.2h.6M227.9 115.3h.6M226.6 105.4h.6M227.5 115.0h.6M229.0 101.6h.6M226.0 109.7h.6M227.6 106.5h.6M227.5 102.7h.6M226.0 116.8h.6M225.1 113.5h.6M226.1 104.9h.6M225.1 115.8h.6M227.7 108.5h.6M227.7 108.1h.6M226.4 110.9h.6M224.2 112.4h.6M225.4 99.5h.6M224.8 107.5h.6M224.8 106.9h.6M225.0 100.8h.6M227.3 111.3h.6M226.4 109.9h.6M226.1 109.9h.6M224.4 104.7h.6M226.1 115.3h.6M226.3 117.8h.6M224.0 109.9h.6M225.1 116.2h.6M228.5 108.8h.6M227.1 110.0h.6M224.5 110.6h.6M224.5 117.5h.6M226.9 116.0h.6M226.5 100.8h.6M227.2 111.4h.6M222.5 111.5h.6M227.5 118.2h.6M224.5 114.3h.6M226.5 110.3h.6M225.6 113.2h.6M226.9 113.8h.6M225.4 105.5h.6M227.9 116.5h.6M212.7 105.8h.6M220.8 94.3h.6M217.6 101.3h.6M228.1 106.1h.6M217.3 103.2h.6M217.1 94.0h.6M208.4 96.1h.6M221.3 105.4h.6M222.8 92.4h.6M212.5 115.8h.6M211.3 93.5h.6M211.6 103.7h.6M215.9 114.8h.6M223.8 116.4h.6M219.4 102.7h.6M213.1 96.1h.6M223.5 114.4h.6M216.5 100.0h.6M220.0 109.3h.6M216.9 98.2h.6M217.4 102.2h.6M220.4 110.0h.6M218.6 103.1h.6M225.0 111.2h.6M223.5 111.6h.6M219.9 108.6h.6M209.7 93.8h.6M210.5 110.1h.6M221.4 107.2h.6M216.5 118.3h.6M213.7 94.0h.6M206.9 103.9h.6M220.1 110.9h.6M214.7 111.5h.6M215.7 101.2h.6M213.8 111.1h.6M221.6 98.5h.6M210.2 106.8h.6M228.5 98.2h.6M216.3 101.9h.6M232.6 89.8h.6M208.7 83.9h.6M218.3 109.7h.6M204.7 96.7h.6M237.6 98.6h.6M213.6 112.5h.6M233.7 94.5h.6M203.4 104.6h.6M227.7 115.7h.6M224.6 91.8h.6M218.8 91.1h.6M216.1 98.1h.6M234.5 115.0h.6M235.1 98.4h.6M236.6 85.3h.6M234.9 104.7h.6M233.0 95.9h.6" stroke="#111" stroke-width="0.7" opacity="0.9" fill="none"/>
<path d="M258.9 110.4h.6M262.3 103.5h.6M252.7 116.6h.6M259.5 118.0h.6M254.0 111.4h.6M260.4 118.3h.6M257.8 108.5h.6M260.8 110.1h.6M255.1 113.9h.6M250.5 106.0h.6M263.3 108.3h.6M256.7 112.1h.6M262.4 112.8h.6M254.2 108.0h.6M262.1 110.0h.6M255.5 114.4h.6M253.8 107.4h.6M255.3 112.1h.6M256.1 115.4h.6M255.5 109.3h.6M260.2 111.4h.6M254.0 117.1h.6M260.3 108.3h.6M258.8 105.6h.6M253.2 109.2h.6M259.4 110.9h.6M255.0 104.4h.6M251.4 117.5h.6M259.4 107.0h.6M262.6 112.9h.6M256.4 107.8h.6M262.4 111.9h.6M264.4 112.1h.6M255.7 107.9h.6M255.3 111.6h.6M259.0 113.2h.6M259.8 105.9h.6M257.2 106.3h.6M259.9 104.7h.6M255.7 106.7h.6M255.6 109.4h.6M263.9 109.4h.6M252.4 109.2h.6M260.9 112.9h.6M262.3 110.9h.6M262.7 104.6h.6M257.3 106.7h.6M258.7 117.6h.6M256.1 117.5h.6M254.0 116.8h.6M251.4 106.8h.6M261.9 110.1h.6M258.6 110.4h.6M258.7 109.7h.6M254.2 109.2h.6M258.4 106.5h.6M259.8 118.3h.6M251.6 108.1h.6M256.9 110.6h.6M258.4 107.3h.6M257.9 110.5h.6M257.7 117.3h.6M258.5 104.0h.6M251.9 113.1h.6M256.7 107.8h.6M252.7 109.1h.6M257.6 107.5h.6M256.6 114.4h.6M261.1 112.9h.6M257.3 104.5h.6M261.0 117.1h.6M263.0 115.6h.6M259.1 112.2h.6M257.9 116.0h.6M261.0 109.1h.6M258.0 103.4h.6M255.2 109.2h.6M267.5 106.9h.6M261.6 110.8h.6M256.9 113.3h.6M250.3 114.7h.6M265.5 111.8h.6M257.8 111.2h.6M260.6 108.3h.6M258.5 112.7h.6M256.6 112.2h.6M259.3 113.7h.6M254.2 108.1h.6M256.3 115.8h.6M259.0 103.2h.6M253.0 119.1h.6M259.3 104.8h.6M254.5 111.1h.6M263.5 117.6h.6M256.6 109.2h.6M265.5 106.2h.6M264.1 112.0h.6M258.4 116.2h.6M259.9 106.8h.6M252.1 110.6h.6M260.0 116.5h.6M260.4 117.2h.6M261.1 111.4h.6M259.7 112.3h.6M255.6 110.0h.6M258.5 108.5h.6M252.3 104.1h.6M260.0 112.8h.6M258.4 105.3h.6M261.3 108.8h.6M260.1 108.6h.6M263.8 116.5h.6M259.0 102.9h.6M256.5 109.3h.6M259.8 109.9h.6M259.3 103.3h.6M255.5 116.9h.6M252.4 114.6h.6M267.0 113.4h.6M252.6 116.0h.6M250.8 112.0h.6M256.4 116.0h.6M262.6 111.3h.6M265.0 114.8h.6M256.1 106.2h.6M267.6 108.7h.6M259.6 110.0h.6M256.2 103.4h.6M257.4 110.0h.6M261.8 108.2h.6M251.9 105.8h.6M257.8 111.6h.6M260.8 108.8h.6M260.1 111.1h.6M264.6 110.3h.6M258.6 113.0h.6M262.7 106.4h.6M256.2 109.3h.6M262.2 110.6h.6M271.1 116.1h.6M265.9 117.5h.6M261.5 104.2h.6M264.0 112.4h.6M253.4 110.7h.6M260.9 114.9h.6M258.7 108.2h.6M261.0 107.1h.6M257.7 113.9h.6M252.4 112.2h.6M250.4 106.4h.6M253.2 110.1h.6M260.8 110.3h.6M261.6 110.9h.6M257.2 112.7h.6M257.1 111.1h.6M262.0 108.0h.6M262.5 105.6h.6M257.1 102.8h.6M255.9 117.5h.6M259.4 116.1h.6M252.3 106.0h.6M259.8 114.2h.6M261.3 103.1h.6M260.0 110.2h.6M258.5 112.6h.6M256.9 103.0h.6M253.8 104.1h.6M252.9 109.9h.6M263.1 107.3h.6M255.0 105.4h.6M251.3 110.8h.6M256.1 109.4h.6M254.3 112.7h.6M253.3 112.9h.6M255.4 114.0h.6M254.5 112.5h.6M259.7 110.1h.6M264.4 111.3h.6M254.5 113.6h.6M254.8 108.1h.6M258.0 111.3h.6M264.6 102.7h.6M257.0 115.5h.6M257.4 111.9h.6M263.9 105.0h.6M258.2 114.0h.6M255.7 102.7h.6M254.1 111.4h.6M258.7 118.7h.6M263.2 103.6h.6M262.0 114.6h.6M264.3 109.8h.6M255.8 111.2h.6M264.0 113.3h.6M264.6 114.0h.6M255.7 106.0h.6M265.2 103.8h.6M256.6 109.1h.6M254.4 108.0h.6M257.7 108.2h.6M258.5 114.7h.6M254.8 108.7h.6M251.2 113.6h.6M260.7 117.2h.6M261.4 109.3h.6M256.5 109.1h.6M253.3 113.9h.6M255.6 107.3h.6M260.0 111.0h.6M255.7 109.5h.6M256.1 116.5h.6M261.9 107.3h.6M257.8 116.6h.6M256.9 118.4h.6M259.7 113.5h.6M259.3 113.1h.6M259.9 112.8h.6M256.0 114.5h.6M258.2 105.8h.6M254.0 111.2h.6M259.3 100.7h.6M252.0 109.4h.6M255.7 113.0h.6M263.5 117.7h.6M254.1 116.0h.6M253.3 111.9h.6M258.7 113.3h.6M254.9 116.5h.6M257.7 110.4h.6M257.0 105.7h.6M260.8 112.0h.6M259.8 118.8h.6M254.6 109.2h.6M258.0 114.3h.6M257.3 114.7h.6M259.8 102.7h.6M255.3 101.4h.6M256.9 108.6h.6M260.3 111.3h.6M257.8 116.1h.6M260.3 105.0h.6M255.3 112.0h.6M264.6 109.6h.6M257.3 111.7h.6M261.1 110.1h.6M259.2 108.6h.6M255.9 107.0h.6M260.6 108.0h.6M260.1 112.3h.6M261.8 98.5h.6M254.2 105.1h.6M257.4 114.1h.6M267.9 117.4h.6M263.3 112.2h.6M256.5 112.9h.6M258.0 113.3h.6M254.0 105.6h.6M255.5 110.3h.6M259.4 108.9h.6M259.4 113.5h.6M253.5 110.0h.6M251.9 108.1h.6M261.5 107.3h.6M265.3 112.8h.6M261.5 111.0h.6M261.4 115.4h.6M258.4 108.1h.6M257.3 108.5h.6M255.2 103.0h.6M256.0 112.0h.6M256.1 107.1h.6M259.6 112.6h.6M256.3 111.9h.6M254.2 114.3h.6M254.1 109.0h.6M258.5 108.6h.6M263.9 102.7h.6M258.5 104.8h.6M259.2 104.7h.6M260.3 112.9h.6M264.7 115.9h.6M256.2 114.7h.6M256.2 110.0h.6M256.0 102.6h.6M260.4 101.4h.6M257.1 112.9h.6M258.4 103.4h.6M255.5 113.5h.6M262.3 117.6h.6M250.9 112.6h.6M256.1 113.9h.6M251.4 109.9h.6M260.8 107.6h.6M256.6 106.1h.6M262.4 104.6h.6M254.4 109.0h.6M259.1 106.8h.6M260.3 112.0h.6M259.1 110.2h.6M259.8 105.3h.6M253.3 108.6h.6M253.7 113.6h.6M265.6 116.0h.6M259.7 112.0h.6M255.3 104.7h.6M260.1 103.9h.6M259.2 109.9h.6M260.9 110.7h.6M258.4 107.9h.6M251.3 109.0h.6M260.7 115.2h.6M263.4 106.0h.6M254.3 113.6h.6M259.2 103.7h.6M255.8 117.5h.6M250.9 111.2h.6M252.6 117.7h.6M256.3 105.9h.6M251.3 107.3h.6M266.5 110.9h.6M257.0 105.3h.6M259.3 108.4h.6M254.7 116.7h.6M259.7 106.5h.6M263.8 110.3h.6M260.0 111.2h.6M262.6 113.3h.6M256.6 113.7h.6M256.5 111.1h.6M264.4 105.7h.6M254.0 108.7h.6M256.0 116.3h.6M264.2 108.5h.6M258.7 108.9h.6M260.6 113.5h.6M260.9 113.9h.6M265.6 109.7h.6M260.7 109.7h.6M258.2 111.5h.6M257.8 112.1h.6M254.7 109.8h.6M255.6 105.3h.6M255.2 108.3h.6M257.4 103.5h.6M257.0 105.4h.6M254.8 111.3h.6M262.3 111.8h.6M256.1 108.5h.6M263.2 103.2h.6M262.5 103.8h.6M255.5 110.7h.6M257.1 118.0h.6M259.9 110.3h.6M261.7 110.7h.6M254.8 115.5h.6M263.9 116.2h.6M253.4 119.1h.6M256.4 113.9h.6M251.7 105.9h.6M262.6 112.7h.6M256.8 97.4h.6M259.7 109.7h.6M258.0 111.5h.6M261.0 109.3h.6M254.5 108.9h.6M265.7 107.4h.6M257.7 119.0h.6M262.1 111.1h.6M260.9 109.3h.6M254.5 115.0h.6M258.5 117.7h.6M257.0 108.8h.6M259.4 109.6h.6M256.8 106.5h.6M259.0 112.0h.6M265.2 110.4h.6M251.1 112.6h.6M267.0 108.5h.6M254.9 109.8h.6M257.3 103.7h.6M260.3 106.6h.6M250.8 107.3h.6M262.9 111.4h.6M256.0 109.3h.6M261.8 108.2h.6M259.6 114.8h.6M254.4 107.9h.6M259.8 110.5h.6M257.5 108.1h.6M257.8 118.8h.6M263.3 103.2h.6M258.2 110.9h.6M258.1 104.3h.6M257.5 111.2h.6M255.3 111.9h.6M258.4 112.3h.6M257.3 108.4h.6M258.7 115.4h.6M261.5 110.1h.6M256.2 115.3h.6M260.1 114.5h.6M256.9 106.6h.6M258.7 107.7h.6M262.5 114.3h.6M263.2 115.2h.6M256.1 106.6h.6M261.8 115.1h.6M258.2 105.3h.6M252.0 111.7h.6M254.8 107.4h.6M259.7 115.2h.6M263.1 110.3h.6M256.7 113.4h.6M253.5 105.0h.6M258.1 117.5h.6M262.0 110.5h.6M262.0 108.7h.6M253.4 103.0h.6M259.1 114.6h.6M259.5 110.3h.6M256.4 115.4h.6M257.8 104.0h.6M263.4 107.6h.6M259.5 110.5h.6M262.1 111.6h.6M262.8 111.5h.6M256.2 108.2h.6M260.6 106.8h.6M261.6 109.4h.6M254.4 106.6h.6M257.4 118.5h.6M261.0 110.6h.6M254.4 119.1h.6M256.9 110.5h.6M256.3 116.5h.6M258.7 108.4h.6M258.7 106.0h.6M253.9 109.8h.6M265.8 105.5h.6M257.4 103.4h.6M258.7 111.5h.6M260.9 104.5h.6M255.6 107.6h.6M257.2 110.3h.6M256.0 114.1h.6M268.1 115.7h.6M264.0 105.7h.6M262.2 110.6h.6M262.9 115.3h.6M260.6 102.9h.6M258.5 108.2h.6M259.8 110.7h.6M262.1 103.3h.6M255.1 110.2h.6M259.3 108.7h.6M257.9 110.8h.6M262.1 110.0h.6M259.0 102.3h.6M259.4 100.1h.6M259.6 110.1h.6M258.0 107.2h.6M256.3 114.3h.6M259.4 110.4h.6M256.1 111.5h.6M262.7 110.4h.6M256.6 105.2h.6M258.4 106.4h.6M252.3 114.4h.6M255.5 101.3h.6M255.2 118.8h.6M257.6 104.5h.6M253.7 113.7h.6M259.6 111.5h.6M257.2 112.7h.6M264.1 112.7h.6M257.4 104.2h.6M259.8 117.6h.6M260.5 104.8h.6M258.7 116.4h.6M255.5 112.7h.6M262.8 117.9h.6M251.7 102.6h.6M259.5 113.7h.6M256.6 110.4h.6M256.4 115.9h.6M253.0 107.4h.6M252.0 106.4h.6M257.9 110.6h.6M265.0 109.5h.6M259.4 112.1h.6M259.0 117.1h.6M258.5 111.2h.6M257.6 110.5h.6M257.8 115.0h.6M258.1 110.8h.6M257.8 113.9h.6M256.1 114.8h.6M255.7 113.6h.6M265.6 111.6h.6M257.7 105.2h.6M260.9 110.6h.6M261.6 107.5h.6M260.1 118.7h.6M259.6 109.0h.6M252.9 110.5h.6M260.6 113.2h.6M253.6 105.8h.6M254.2 105.9h.6M256.9 111.7h.6M265.6 111.4h.6M263.7 103.0h.6M264.1 114.1h.6M259.7 114.2h.6M261.2 102.6h.6M251.1 117.8h.6M257.7 116.5h.6M256.6 107.5h.6M256.6 111.9h.6M258.7 107.7h.6M260.1 113.3h.6M254.4 105.4h.6M250.3 109.1h.6M258.0 107.3h.6M255.6 109.9h.6M258.1 113.1h.6M261.3 112.5h.6M262.4 106.1h.6M260.4 112.2h.6M253.9 107.4h.6M259.8 110.8h.6M253.0 108.0h.6M264.0 114.3h.6M258.3 116.6h.6M254.4 109.7h.6M261.8 109.0h.6M253.6 113.2h.6M264.3 99.0h.6M258.6 104.8h.6M256.8 104.1h.6M268.3 107.4h.6M258.2 107.3h.6M254.1 108.4h.6M258.8 118.5h.6M259.1 117.6h.6M253.8 110.8h.6M256.3 103.4h.6M272.7 109.4h.6M259.0 107.1h.6M255.7 105.8h.6M262.1 108.7h.6M257.4 111.3h.6M253.2 111.6h.6M257.3 112.5h.6M256.5 110.7h.6M260.0 114.9h.6M255.3 114.9h.6M254.1 109.6h.6M258.5 111.2h.6M257.3 114.7h.6M255.2 117.4h.6M250.9 110.8h.6M260.1 110.6h.6M259.0 114.7h.6M254.8 113.2h.6M262.2 109.4h.6M254.6 105.7h.6M259.7 106.8h.6M267.8 113.1h.6M252.8 109.2h.6M264.0 113.6h.6M254.0 115.2h.6M255.8 113.2h.6M260.2 108.5h.6M257.4 115.8h.6M260.0 110.2h.6M259.8 118.4h.6M261.7 112.7h.6M259.3 103.4h.6M258.5 108.3h.6M260.9 107.7h.6M259.8 105.7h.6M261.5 107.2h.6M257.9 113.1h.6M256.7 110.5h.6M262.2 118.5h.6M250.9 106.4h.6M260.7 114.8h.6M256.1 110.9h.6M257.2 105.1h.6M251.9 104.7h.6M263.2 108.7h.6M265.7 113.4h.6M259.5 113.4h.6M261.1 114.7h.6M254.1 108.0h.6M255.8 111.0h.6M257.0 104.9h.6M255.3 118.6h.6M266.4 106.6h.6M259.5 110.3h.6M254.7 113.7h.6M257.7 118.1h.6M259.8 109.1h.6M261.4 107.3h.6M261.5 113.6h.6M251.0 109.6h.6M259.3 113.9h.6M258.6 110.4h.6M256.6 109.2h.6M258.0 105.7h.6M260.5 109.0h.6M260.1 108.2h.6M259.6 111.1h.6M261.5 112.6h.6M261.7 109.7h.6M257.8 109.3h.6M253.0 109.9h.6M262.3 114.0h.6M254.6 111.9h.6M261.0 104.3h.6M259.4 112.0h.6M261.0 111.7h.6M251.1 101.3h.6M265.8 108.7h.6M263.0 116.2h.6M258.3 105.3h.6M263.4 110.3h.6M260.1 112.7h.6M261.8 115.1h.6M252.4 104.1h.6M258.6 110.5h.6M261.1 109.9h.6M263.4 115.8h.6M262.1 106.9h.6M257.7 110.2h.6M253.7 106.6h.6M258.6 105.0h.6M260.1 112.6h.6M257.1 109.0h.6M260.4 112.7h.6M259.4 105.0h.6M255.4 108.8h.6M250.8 106.9h.6M255.1 114.1h.6M256.4 108.3h.6M254.9 108.5h.6M251.8 111.7h.6M262.7 111.2h.6M255.9 116.2h.6M259.9 105.8h.6M255.7 107.7h.6M257.8 116.0h.6M255.2 109.8h.6M258.4 105.1h.6M256.1 113.3h.6M262.5 102.0h.6M260.8 109.2h.6M263.1 113.3h.6M265.8 111.9h.6M256.4 106.7h.6M252.3 113.0h.6M260.0 114.2h.6M259.4 103.7h.6M256.4 109.4h.6M258.6 114.0h.6M263.6 111.8h.6M253.3 111.6h.6M257.1 115.5h.6M262.3 108.4h.6M261.7 110.6h.6M259.8 116.6h.6M253.5 110.2h.6M264.1 107.1h.6M258.9 111.1h.6M256.4 104.6h.6M255.3 106.1h.6M262.3 111.6h.6M260.8 105.1h.6M260.0 111.1h.6M262.1 107.2h.6M261.2 116.7h.6M265.1 106.3h.6M253.6 103.9h.6M261.8 113.2h.6M259.4 106.6h.6M263.0 117.7h.6M257.9 110.0h.6M262.7 112.8h.6M263.3 108.7h.6M259.3 109.0h.6M255.8 109.2h.6M256.9 112.8h.6M256.8 110.8h.6M254.8 105.0h.6M263.6 106.1h.6M265.2 114.7h.6M256.4 110.6h.6M257.3 107.8h.6M263.0 109.9h.6M261.8 107.4h.6M255.3 116.5h.6M256.9 105.6h.6M257.3 115.2h.6M257.4 107.3h.6M260.5 114.9h.6M257.2 109.1h.6M257.3 118.4h.6M257.4 112.3h.6M258.2 109.1h.6M256.4 104.4h.6M252.1 111.3h.6M255.5 110.1h.6M257.3 108.2h.6M255.1 118.9h.6M253.6 108.2h.6M256.8 105.3h.6M254.2 114.4h.6M261.7 111.1h.6M270.8 114.2h.6M262.9 106.8h.6M262.3 118.1h.6M256.5 118.6h.6M254.8 105.4h.6M257.8 106.9h.6M260.5 105.5h.6M258.3 101.7h.6M257.9 115.2h.6M257.0 111.9h.6M262.3 105.6h.6M253.0 110.9h.6M259.1 109.3h.6M254.2 116.0h.6M253.4 109.3h.6M257.8 113.8h.6M256.2 106.8h.6M266.0 106.7h.6M261.2 109.8h.6M256.1 110.3h.6M257.0 111.9h.6M258.3 106.1h.6M265.3 113.4h.6M258.9 109.1h.6M263.5 108.5h.6M254.8 113.6h.6M254.2 107.0h.6M263.7 103.3h.6M257.8 111.0h.6M259.0 104.0h.6M257.1 109.0h.6M265.6 115.0h.6M256.0 100.8h.6M261.6 96.5h.6M258.1 95.8h.6M252.9 94.2h.6M262.7 103.4h.6M266.3 95.4h.6M261.4 86.4h.6M258.0 91.5h.6M262.3 89.7h.6M254.9 92.1h.6M260.6 100.7h.6M255.4 104.9h.6M259.7 93.3h.6M260.4 96.9h.6M262.3 98.5h.6M267.7 102.1h.6M256.5 100.5h.6M262.0 92.6h.6M256.1 93.5h.6M258.2 102.4h.6M256.8 97.3h.6M261.9 101.3h.6M260.3 92.4h.6M267.7 100.8h.6M264.4 104.1h.6M264.6 98.8h.6M260.9 99.8h.6M253.1 100.6h.6M255.2 98.9h.6M255.0 100.1h.6M257.1 107.9h.6M259.8 99.2h.6M255.5 95.7h.6M258.8 95.7h.6M257.3 93.2h.6M262.0 95.3h.6M255.8 98.6h.6M255.8 96.2h.6M257.0 92.9h.6M258.1 93.4h.6M254.1 98.5h.6M257.9 90.6h.6M257.5 97.8h.6M260.7 98.6h.6M260.0 99.6h.6M257.1 93.5h.6M261.4 95.2h.6M259.1 99.9h.6M262.7 102.4h.6M256.3 95.4h.6M261.2 90.7h.6M254.1 99.7h.6M256.6 93.0h.6M262.2 99.3h.6M262.6 95.6h.6M257.9 95.5h.6M260.2 88.1h.6M256.3 100.1h.6M256.0 96.7h.6M259.5 99.3h.6M257.2 92.0h.6M268.9 93.9h.6M265.8 89.3h.6M259.5 96.1h.6M266.5 105.9h.6M262.9 92.6h.6M255.9 93.7h.6M257.0 98.1h.6M255.9 95.9h.6M264.8 103.3h.6M251.7 92.8h.6M257.6 102.7h.6M257.7 105.4h.6M260.5 103.3h.6M255.7 95.6h.6M263.0 99.5h.6M251.7 95.8h.6M259.7 99.8h.6M256.5 104.6h.6M259.6 103.3h.6M260.6 97.4h.6M257.8 91.9h.6M262.4 100.3h.6M262.7 95.4h.6M255.1 95.4h.6M257.8 97.0h.6M262.9 93.0h.6M257.1 100.0h.6M262.6 106.7h.6M261.1 93.3h.6M255.0 93.6h.6M259.3 98.1h.6M258.8 94.3h.6M258.3 96.7h.6M261.4 97.4h.6M255.9 91.9h.6M264.9 96.6h.6M258.4 96.9h.6M263.5 95.6h.6M259.7 96.0h.6M261.3 92.6h.6M259.8 101.5h.6M263.7 99.7h.6M260.2 103.9h.6M261.8 103.1h.6M254.3 92.2h.6M262.2 95.8h.6M257.4 92.9h.6M264.9 91.8h.6M259.5 90.9h.6M258.4 106.8h.6M268.6 94.9h.6M255.1 104.1h.6M255.7 89.2h.6M260.4 92.3h.6M253.4 101.9h.6M256.2 92.4h.6M259.7 96.2h.6M263.5 97.4h.6M265.3 102.0h.6M266.0 101.9h.6M259.3 99.4h.6M259.1 90.2h.6M254.4 100.2h.6M254.0 96.7h.6M255.0 98.1h.6M258.3 95.0h.6M255.7 87.3h.6M259.3 91.4h.6M257.9 98.6h.6M263.2 100.1h.6M264.9 90.8h.6M261.7 103.8h.6M260.6 92.2h.6M260.6 94.8h.6M256.5 101.6h.6M258.4 92.1h.6M256.4 105.6h.6M255.8 99.9h.6M259.8 102.1h.6M258.0 92.9h.6M256.6 92.5h.6M269.2 97.9h.6M257.8 102.5h.6M261.6 96.2h.6M261.5 98.2h.6M263.5 104.2h.6M257.8 96.9h.6M258.4 102.3h.6M260.6 100.4h.6M262.6 94.2h.6M259.6 103.0h.6M262.7 100.5h.6M258.0 95.4h.6M255.7 95.8h.6M258.8 90.8h.6M263.6 93.7h.6M260.0 99.6h.6M256.9 89.1h.6M262.8 98.8h.6M258.1 101.9h.6M262.6 92.9h.6M258.8 89.3h.6M258.0 103.2h.6M255.8 100.6h.6M253.2 95.7h.6M262.7 104.5h.6M260.8 100.3h.6M265.8 86.4h.6M252.4 105.2h.6M268.7 99.6h.6M259.3 98.1h.6M259.2 94.3h.6M259.0 96.5h.6M261.7 100.0h.6M262.9 99.6h.6M255.3 103.1h.6M260.4 94.7h.6M266.4 92.3h.6M254.5 94.8h.6M260.7 100.5h.6M259.5 99.9h.6M256.3 94.4h.6M259.6 91.2h.6M259.8 95.3h.6M261.7 92.6h.6M257.0 94.5h.6M257.6 92.7h.6M258.1 91.1h.6M261.2 99.9h.6M259.0 96.2h.6M255.6 92.8h.6M258.2 93.1h.6M254.5 97.7h.6M259.0 95.2h.6M255.9 96.8h.6M256.4 95.1h.6M259.8 100.1h.6M262.0 94.4h.6M263.8 92.0h.6M258.4 102.7h.6M268.3 97.6h.6M257.7 95.4h.6M254.4 96.4h.6M257.4 93.7h.6M263.7 93.6h.6M265.6 100.7h.6M261.6 94.5h.6M257.1 88.3h.6M260.1 95.8h.6M260.6 94.1h.6M261.0 90.5h.6M250.6 99.1h.6M263.2 83.3h.6M264.0 95.5h.6M258.4 90.3h.6M255.2 100.1h.6M256.2 96.8h.6M258.5 105.7h.6M262.5 91.3h.6M257.2 92.0h.6M253.7 94.0h.6M263.3 97.2h.6M261.7 96.4h.6M257.4 97.4h.6M258.8 105.4h.6M266.0 98.6h.6M261.4 88.4h.6M258.6 107.4h.6M256.0 100.6h.6M263.8 95.3h.6M258.2 95.0h.6M262.1 97.1h.6M264.9 102.2h.6M259.0 108.3h.6M257.9 94.4h.6M258.1 93.2h.6M257.4 96.7h.6M262.5 90.1h.6M253.6 93.6h.6M257.9 99.0h.6M256.0 103.6h.6M257.0 96.1h.6M259.3 102.1h.6M260.2 97.1h.6M257.0 97.7h.6M260.6 95.5h.6M259.0 89.0h.6M257.0 102.2h.6M264.5 96.7h.6M250.7 105.0h.6M258.4 108.2h.6M257.5 101.4h.6M256.7 103.0h.6M263.5 92.4h.6M264.0 109.5h.6M258.2 91.7h.6M260.1 95.3h.6M253.3 92.4h.6M260.0 90.4h.6M263.2 99.0h.6M258.4 103.1h.6M255.5 100.0h.6M253.8 95.6h.6M261.5 94.7h.6M258.6 99.8h.6M264.9 102.7h.6M260.8 95.9h.6M253.5 104.5h.6M266.3 87.6h.6M262.4 96.8h.6M261.8 98.4h.6M258.3 97.0h.6M258.9 102.1h.6M258.0 94.6h.6M261.6 99.8h.6M260.7 98.2h.6M264.7 101.9h.6M259.9 96.1h.6M261.6 88.8h.6M257.0 93.9h.6M259.7 95.3h.6M268.5 100.2h.6M260.6 106.8h.6M259.0 95.6h.6M263.8 100.6h.6M262.6 102.3h.6M257.6 94.1h.6M256.3 97.5h.6M262.9 92.4h.6M257.0 91.2h.6M266.7 100.5h.6M259.9 91.7h.6M255.1 94.2h.6M259.2 91.4h.6M258.2 102.3h.6M259.1 97.4h.6M251.0 95.8h.6M258.5 94.0h.6M253.7 96.7h.6M255.1 94.6h.6M252.9 96.6h.6M262.5 93.3h.6M260.3 90.4h.6M261.3 99.4h.6M257.5 100.9h.6M255.7 97.2h.6M265.5 96.9h.6M254.7 102.1h.6M261.1 95.8h.6M252.0 88.8h.6M253.2 103.5h.6M260.2 93.3h.6M263.5 103.4h.6M255.8 99.1h.6M252.7 98.6h.6M266.0 90.8h.6M259.3 94.2h.6M258.7 97.4h.6M260.1 100.9h.6M261.0 101.6h.6M262.9 101.8h.6M256.4 98.8h.6M257.6 93.3h.6M266.6 98.3h.6M259.2 87.8h.6M258.1 100.4h.6M276.3 102.8h.6M278.2 104.2h.6M276.1 105.4h.6M276.2 112.2h.6M277.2 105.6h.6M276.1 104.7h.6M278.5 104.2h.6M277.3 96.8h.6M276.9 110.0h.6M278.0 107.9h.6M277.2 107.9h.6M277.7 118.0h.6M276.7 101.2h.6M277.2 105.4h.6M277.2 110.5h.6M276.7 103.4h.6M276.9 98.7h.6M276.8 100.8h.6M277.0 106.7h.6M276.3 99.0h.6M276.6 102.0h.6M276.3 110.1h.6M277.6 98.5h.6M277.6 114.0h.6M277.8 107.6h.6M276.4 116.2h.6M276.1 97.1h.6M276.6 107.7h.6M275.3 98.9h.6M278.8 106.7h.6M277.4 102.6h.6M274.8 105.0h.6M278.1 102.1h.6M274.5 105.0h.6M276.2 106.1h.6M275.3 104.2h.6M275.9 111.2h.6M276.7 111.1h.6M276.5 93.5h.6M274.3 109.1h.6M277.5 111.1h.6M276.4 95.5h.6M275.9 108.4h.6M278.1 104.0h.6M275.9 101.5h.6M277.7 111.1h.6M274.4 113.1h.6M275.5 97.4h.6M274.7 101.7h.6M275.1 102.1h.6M276.7 108.4h.6M276.0 96.7h.6M276.0 102.0h.6M274.5 106.8h.6M274.8 95.8h.6M278.3 111.5h.6M278.2 106.7h.6M276.0 105.5h.6M274.9 110.3h.6M276.8 104.2h.6M274.4 105.4h.6M278.4 114.5h.6M277.5 103.9h.6M276.7 109.3h.6M276.7 112.1h.6M275.7 92.4h.6M273.7 100.7h.6M274.9 109.9h.6M277.7 106.0h.6M277.1 106.5h.6M276.7 103.2h.6M276.0 113.0h.6M276.2 105.8h.6M277.9 111.8h.6M276.1 107.5h.6M275.4 106.8h.6M276.9 106.0h.6M276.7 108.1h.6M273.6 101.2h.6M266.5 98.6h.6M260.5 100.4h.6M275.3 100.4h.6M262.3 98.7h.6M259.2 105.3h.6M260.4 108.2h.6M271.3 105.9h.6M272.0 101.4h.6M256.0 101.6h.6M269.7 91.4h.6M259.1 109.5h.6M268.6 111.2h.6M269.9 102.5h.6M268.5 107.8h.6M265.9 100.6h.6M267.9 99.8h.6M279.9 96.8h.6M257.4 93.2h.6M272.1 99.2h.6M267.0 100.5h.6M267.7 92.1h.6M266.6 98.1h.6M272.3 106.3h.6M258.8 95.4h.6M269.3 110.2h.6M270.5 101.0h.6M272.5 85.9h.6M263.0 95.3h.6M260.1 105.9h.6M267.7 103.9h.6M265.3 106.2h.6M270.6 98.1h.6M271.5 95.6h.6M276.2 93.1h.6M264.4 94.6h.6M266.3 111.0h.6M261.7 114.2h.6M274.2 104.6h.6M262.7 108.2h.6M271.6 101.7h.6M280.4 97.4h.6M258.4 100.5h.6M269.4 113.7h.6M255.9 103.1h.6M273.4 97.4h.6M263.4 93.7h.6M270.5 107.7h.6M269.5 103.7h.6M271.8 101.2h.6M255.9 96.8h.6M252.9 103.5h.6M259.6 88.3h.6M275.8 115.8h.6M251.0 107.6h.6M273.6 98.8h.6M267.2 80.3h.6M264.5 100.2h.6M263.8 118.5h.6M264.0 112.7h.6M282.7 110.7h.6M270.0 99.3h.6M284.0 84.5h.6M259.4 80.4h.6M270.0 97.5h.6M288.4 116.0h.6M266.6 99.1h.6M254.7 109.1h.6" stroke="#111" stroke-width="0.7" opacity="0.9" fill="none"/>
<path d="M198.5 53.0v1.6M194.9 11.6h1.4M208.5 53.0v1.6M194.9 21.4h1.4M218.5 53.0v1.6M194.9 31.2h1.4M228.5 53.0v1.6M194.9 41.0h1.4M238.5 53.0v1.6M194.9 50.8h1.4" stroke="#888" stroke-width="0.6" fill="none" opacity="0.6"/>
<rect x="197.5" y="10.6" width="42.0" height="41.2" fill="none" stroke="#222" stroke-width="0.9"/>
<line x1="218.6" y1="10.6" x2="218.6" y2="51.8" stroke="#333" stroke-width="0.7"/>
<line x1="197.5" y1="34.8" x2="239.5" y2="34.8" stroke="#333" stroke-width="0.7"/>
<path d="M250.5 53.0v1.6M246.9 11.6h1.4M260.6 53.0v1.6M246.9 21.4h1.4M270.6 53.0v1.6M246.9 31.2h1.4M280.6 53.0v1.6M246.9 41.0h1.4M290.7 53.0v1.6M246.9 50.8h1.4" stroke="#888" stroke-width="0.6" fill="none" opacity="0.6"/>
<rect x="249.5" y="10.6" width="42.2" height="41.2" fill="none" stroke="#222" stroke-width="0.9"/>
<line x1="270.2" y1="10.6" x2="270.2" y2="51.8" stroke="#333" stroke-width="0.7"/>
<line x1="249.5" y1="34.4" x2="291.7" y2="34.4" stroke="#333" stroke-width="0.7"/>
<path d="M198.5 120.9v1.6M194.9 79.9h1.4M208.5 120.9v1.6M194.9 89.6h1.4M218.5 120.9v1.6M194.9 99.3h1.4M228.5 120.9v1.6M194.9 109.0h1.4M238.5 120.9v1.6M194.9 118.7h1.4" stroke="#888" stroke-width="0.6" fill="none" opacity="0.6"/>
<rect x="197.5" y="78.9" width="42.0" height="40.8" fill="none" stroke="#222" stroke-width="0.9"/>
<line x1="218.6" y1="78.9" x2="218.6" y2="119.7" stroke="#333" stroke-width="0.7"/>
<line x1="197.5" y1="103.1" x2="239.5" y2="103.1" stroke="#333" stroke-width="0.7"/>
<path d="M250.5 120.9v1.6M246.9 79.9h1.4M260.6 120.9v1.6M246.9 89.6h1.4M270.6 120.9v1.6M246.9 99.3h1.4M280.6 120.9v1.6M246.9 109.0h1.4M290.7 120.9v1.6M246.9 118.7h1.4" stroke="#888" stroke-width="0.6" fill="none" opacity="0.6"/>
<rect x="249.5" y="78.9" width="42.2" height="40.8" fill="none" stroke="#222" stroke-width="0.9"/>
<line x1="270.2" y1="78.9" x2="270.2" y2="119.7" stroke="#333" stroke-width="0.7"/>
<line x1="249.5" y1="104.3" x2="291.7" y2="104.3" stroke="#333" stroke-width="0.7"/>
<text x="233.2" y="19.1" font-size="5.4" font-weight="bold" text-anchor="middle" fill="#111">3</text>
<text x="233.2" y="26.9" font-size="5.4" font-weight="bold" text-anchor="middle" fill="#111">(41)</text>
<text x="285.4" y="19.3" font-size="5.4" font-weight="bold" text-anchor="middle" fill="#111">1</text>
<text x="285.6" y="26.9" font-size="5.4" font-weight="bold" text-anchor="middle" fill="#111">(29)</text>
<text x="232.6" y="87.5" font-size="5.4" font-weight="bold" text-anchor="middle" fill="#111">13</text>
<text x="232.8" y="95.9" font-size="5.4" font-weight="bold" text-anchor="middle" fill="#111">(62)</text>
<text x="285.6" y="87.9" font-size="5.4" font-weight="bold" text-anchor="middle" fill="#111">2</text>
<text x="285.6" y="95.9" font-size="5.4" font-weight="bold" text-anchor="middle" fill="#111">(35)</text>
<line x1="189.2" y1="11.6" x2="189.2" y2="63.4" stroke="#333" stroke-width="0.7"/>
<path d="M187.9 14.1L189.2 11.1L190.5 14.1" fill="none" stroke="#333" stroke-width="0.7"/>
<line x1="189.2" y1="63.4" x2="293.2" y2="63.4" stroke="#333" stroke-width="0.7"/>
<path d="M290.7 62.1L293.7 63.4L290.7 64.7" fill="none" stroke="#333" stroke-width="0.7"/>
<line x1="189.2" y1="63.4" x2="189.2" y2="129.6" stroke="#333" stroke-width="0.7"/>
<line x1="189.2" y1="129.6" x2="293.6" y2="129.6" stroke="#333" stroke-width="0.7"/>
<path d="M291.1 128.3L294.1 129.6L291.1 130.9" fill="none" stroke="#333" stroke-width="0.7"/>
<text transform="translate(186.5 79.5) rotate(-90)" font-size="6.0" textLength="40.5" lengthAdjust="spacingAndGlyphs" font-weight="bold" stroke="none" fill="#111">CXCR3-PE</text>
<text x="229.8" y="71.7" font-size="6.8" textLength="27.5" lengthAdjust="spacingAndGlyphs" font-weight="bold" stroke="none" fill="#111">CD4-FITC</text>
<text x="236.5" y="137.5" font-size="6.8" textLength="26.2" lengthAdjust="spacingAndGlyphs" font-weight="bold" stroke="none" fill="#111">CD8-FITC</text>
<text x="337.5" y="19.2" font-size="6.2" textLength="33.9" lengthAdjust="spacingAndGlyphs" fill="#333">CD4+ T cells</text>
<text x="354.8" y="29.2" font-size="6.2" textLength="8.2" lengthAdjust="spacingAndGlyphs" fill="#333">MFI</text>
<text x="377.5" y="29.2" font-size="6.2" textLength="25.0" lengthAdjust="spacingAndGlyphs" fill="#333">(+/- SEM)</text>
<text x="418.5" y="29.2" font-size="6.2" textLength="19.3" lengthAdjust="spacingAndGlyphs" fill="#333">P value</text>
<line x1="337.0" y1="30.5" x2="448.3" y2="30.5" stroke="#333" stroke-width="0.7"/>
<text x="327.0" y="39.7" font-size="6.2" textLength="10.0" lengthAdjust="spacingAndGlyphs" fill="#333">WT</text>
<text x="354.8" y="39.7" font-size="6.2" textLength="17.8" lengthAdjust="spacingAndGlyphs" fill="#333">365.44</text>
<text x="377.5" y="39.7" font-size="6.2" textLength="25.0" lengthAdjust="spacingAndGlyphs" fill="#333">(+/-93.47)</text>
<text x="417.8" y="39.7" font-size="6.2" textLength="20.0" lengthAdjust="spacingAndGlyphs" fill="#333">*0.0124</text>
<text x="315.4" y="49.9" font-size="6.2" textLength="21.6" lengthAdjust="spacingAndGlyphs" fill="#333">PI3Kγ-/-</text>
<text x="354.8" y="49.9" font-size="6.2" textLength="17.8" lengthAdjust="spacingAndGlyphs" fill="#333">147.16</text>
<text x="377.5" y="49.9" font-size="6.2" textLength="25.0" lengthAdjust="spacingAndGlyphs" fill="#333">(+/-36.97)</text>
<text x="337.5" y="70.1" font-size="6.2" textLength="33.9" lengthAdjust="spacingAndGlyphs" fill="#333">CD8+ T cells</text>
<text x="354.8" y="80.2" font-size="6.2" textLength="8.2" lengthAdjust="spacingAndGlyphs" fill="#333">MFI</text>
<text x="377.5" y="80.2" font-size="6.2" textLength="25.0" lengthAdjust="spacingAndGlyphs" fill="#333">(+/- SEM)</text>
<text x="418.5" y="80.2" font-size="6.2" textLength="19.3" lengthAdjust="spacingAndGlyphs" fill="#333">P value</text>
<line x1="337.0" y1="81.5" x2="448.3" y2="81.5" stroke="#333" stroke-width="0.7"/>
<text x="327.0" y="90.4" font-size="6.2" textLength="10.0" lengthAdjust="spacingAndGlyphs" fill="#333">WT</text>
<text x="354.8" y="90.4" font-size="6.2" textLength="17.8" lengthAdjust="spacingAndGlyphs" fill="#333">502.57</text>
<text x="377.5" y="90.4" font-size="6.2" textLength="25.0" lengthAdjust="spacingAndGlyphs" fill="#333">(+/-94.71)</text>
<text x="417.8" y="90.4" font-size="6.2" textLength="20.0" lengthAdjust="spacingAndGlyphs" fill="#333">*0.0064</text>
<text x="315.4" y="100.9" font-size="6.2" textLength="21.6" lengthAdjust="spacingAndGlyphs" fill="#333">PI3Kγ-/-</text>
<text x="358.5" y="100.9" font-size="6.2" textLength="13.2" lengthAdjust="spacingAndGlyphs" fill="#333">164.7</text>
<text x="379.4" y="100.9" font-size="6.2" textLength="21.6" lengthAdjust="spacingAndGlyphs" fill="#333">(+/-5.13)</text>
<text x="317.8" y="115.7" font-size="6.2" textLength="19.2" lengthAdjust="spacingAndGlyphs" fill="#333">Isotype</text>
<text x="318.8" y="123.4" font-size="6.2" textLength="18.2" lengthAdjust="spacingAndGlyphs" fill="#333">control</text>
<text x="364.0" y="123.4" font-size="6.2" textLength="7.7" lengthAdjust="spacingAndGlyphs" fill="#333">9.7</text>
<text x="379.4" y="123.4" font-size="6.2" textLength="21.6" lengthAdjust="spacingAndGlyphs" fill="#333">(+/-2.96)</text>
<text x="22.3" y="164.5" font-size="7" textLength="32.8" lengthAdjust="spacingAndGlyphs" fill="#444" stroke="none">CD4+ T cells</text>
<text x="80.9" y="164.4" font-size="7" textLength="32.9" lengthAdjust="spacingAndGlyphs" fill="#444" stroke="none">CD8+ T cells</text>
<path d="M17.3 201.8L17.9 202.0L18.5 203.1L19.1 201.4L19.7 201.4L20.3 201.5L20.9 200.0L21.5 201.0L22.1 200.9L22.7 199.7L23.3 194.6L23.9 193.5L24.5 190.5L25.1 190.3L25.7 186.2L26.3 179.7L26.9 180.8L27.5 178.0L28.1 173.9L28.7 171.1L29.3 168.7L29.9 170.1L30.5 174.4L31.1 174.4L31.7 177.0L32.3 179.4L32.9 180.6L33.5 184.6L34.1 186.6L34.7 190.6L35.3 191.5L35.9 194.5L36.5 196.3L37.1 199.5L37.7 200.6L38.3 201.9L38.9 205.4L39.5 206.9L39.5 207.6L17.3 207.6Z" fill="#000" stroke="#000" stroke-width="0.6" stroke-linejoin="round" opacity="1"/>
<path d="M17.5 205.0L18.1 205.0L18.7 204.7L19.3 203.2L19.9 202.6L20.5 203.1L21.1 202.5L21.7 203.5L22.3 202.9L22.9 202.3L23.5 200.9L24.1 199.9L24.7 196.3L25.3 196.0L25.9 193.4L26.5 194.9L27.1 189.8L27.7 190.1L28.3 184.4L28.9 184.1L29.5 179.9L30.1 177.4L30.7 176.8L31.3 171.9L31.9 170.4L32.5 172.2L33.1 170.3L33.7 171.3L34.3 177.6L34.9 180.1L35.5 179.4L36.1 183.5L36.7 185.1L37.3 188.7L37.9 191.8L38.5 191.9L39.1 195.9L39.7 195.3L40.3 197.7L40.9 200.9L41.5 199.8L42.1 200.1L42.7 201.0L43.3 200.9L43.9 200.9L44.5 200.2L45.1 202.6L45.7 203.5L46.3 203.8L46.9 203.2L47.5 202.7L48.1 203.1L48.7 204.1L49.3 204.3L49.9 203.3L50.5 203.9L51.1 204.4L51.7 204.9L52.3 205.7L52.9 205.4L53.5 204.9L54.1 206.4L54.7 206.1L55.3 206.5L55.9 206.3L56.5 206.8L57.1 207.0L57.7 207.6" fill="none" stroke="#aaa" stroke-width="0.8" stroke-linejoin="round" opacity="1"/>
<path d="M17.5 205.2L17.9 205.6L18.4 205.4L18.8 205.4L19.3 204.2L19.7 204.0L20.2 203.7L20.6 203.6L21.1 204.3L21.5 203.0L22.0 203.5L22.4 202.7L22.9 202.6L23.3 202.1L23.8 202.2L24.2 200.8L24.7 198.2L25.1 198.0L25.6 196.7L26.0 198.1L26.5 197.0L26.9 194.2L27.4 191.5L27.8 188.4L28.3 186.3L28.7 183.0L29.2 178.7L29.6 177.9L30.1 174.1L30.5 175.7L31.0 177.0L31.4 178.4L31.9 179.9L32.3 181.6L32.8 182.7L33.2 183.6L33.7 187.4L34.1 188.8L34.6 190.9L35.0 191.0L35.5 191.3L36.0 192.6L36.4 191.4L36.9 193.8L37.3 193.8L37.8 191.2L38.2 189.5L38.7 192.6L39.1 193.8L39.6 195.1L40.0 193.3L40.5 190.4L40.9 190.3L41.4 193.7L41.8 195.2L42.3 194.8L42.7 192.3L43.2 190.4L43.6 189.3L44.1 193.7L44.5 197.2L45.0 196.3L45.4 194.8L45.9 192.9L46.3 188.5L46.8 190.9L47.2 195.1L47.7 196.9L48.1 194.7L48.6 191.5L49.0 190.7L49.5 194.3L49.9 196.4L50.4 198.2L50.8 195.7L51.3 196.8L51.7 194.3L52.2 195.2L52.6 194.8L53.1 198.9L53.5 199.1L54.0 200.9L54.4 201.0L54.9 202.7L55.3 203.1L55.8 203.7L56.2 203.8L56.7 205.0L57.1 204.9L57.6 205.4L58.0 205.8L58.5 206.8L58.9 206.4L59.4 206.7L59.8 206.7L60.3 207.4L60.7 207.4" fill="none" stroke="#111" stroke-width="1.0" stroke-linejoin="round" opacity="1"/>
<rect x="17.0" y="168.5" width="47.7" height="39.9" fill="none" stroke="#333" stroke-width="0.8"/>
<path d="M74.0 202.5L74.6 203.3L75.2 202.5L75.8 201.4L76.4 199.8L77.0 201.3L77.6 200.8L78.2 199.0L78.8 198.3L79.4 194.4L80.0 190.6L80.6 189.5L81.2 187.7L81.8 182.3L82.4 182.3L83.0 176.6L83.6 174.4L84.2 171.8L84.8 174.3L85.4 171.4L86.0 171.8L86.6 173.3L87.2 173.5L87.8 177.5L88.4 181.0L89.0 182.2L89.6 188.8L90.2 189.2L90.8 191.2L91.4 196.1L92.0 194.9L92.6 200.3L93.2 200.0L93.8 202.3L94.4 203.8L95.0 206.2L95.0 207.6L74.0 207.6Z" fill="#000" stroke="#000" stroke-width="0.6" stroke-linejoin="round" opacity="1"/>
<path d="M74.3 206.3L74.9 204.5L75.5 203.8L76.1 205.4L76.7 203.3L77.3 202.8L77.9 203.7L78.5 202.5L79.1 203.6L79.7 201.4L80.3 202.8L80.9 199.6L81.5 199.4L82.1 199.5L82.7 197.3L83.3 197.1L83.9 195.0L84.5 191.2L85.1 193.2L85.7 189.9L86.3 186.7L86.9 184.1L87.5 184.6L88.1 181.5L88.7 180.8L89.3 178.3L89.9 177.4L90.5 174.2L91.1 173.1L91.7 174.9L92.3 175.6L92.9 180.5L93.5 180.2L94.1 184.7L94.7 188.1L95.3 189.5L95.9 190.1L96.5 194.3L97.1 194.9L97.7 194.1L98.3 194.8L98.9 197.9L99.5 197.2L100.1 201.4L100.7 200.5L101.3 201.2L101.9 201.5L102.5 202.8L103.1 204.0L103.7 203.1L104.3 203.9L104.9 204.9L105.5 204.7L106.1 205.5L106.7 205.8L107.3 205.9L107.9 206.6L108.5 206.7L109.1 206.4L109.7 207.6" fill="none" stroke="#aaa" stroke-width="0.8" stroke-linejoin="round" opacity="1"/>
<path d="M74.3 206.5L74.8 206.3L75.2 206.1L75.7 204.7L76.1 205.2L76.6 204.7L77.0 204.6L77.5 203.7L77.9 203.6L78.4 203.8L78.8 203.1L79.3 203.3L79.7 202.2L80.2 201.8L80.6 202.3L81.1 200.7L81.5 200.0L82.0 199.8L82.4 197.7L82.9 195.9L83.3 197.3L83.8 194.6L84.2 191.8L84.7 188.7L85.1 186.8L85.6 181.9L86.0 180.8L86.5 177.3L86.9 175.7L87.4 175.3L87.8 176.4L88.3 177.9L88.7 181.4L89.2 184.4L89.6 186.3L90.1 188.1L90.5 191.0L91.0 191.5L91.4 191.6L91.9 192.2L92.3 193.9L92.8 192.0L93.2 190.3L93.7 188.5L94.1 187.4L94.6 190.1L95.0 192.9L95.5 193.2L95.9 189.2L96.4 186.9L96.8 188.3L97.3 190.6L97.7 194.4L98.2 192.7L98.6 189.8L99.1 187.4L99.5 190.3L100.0 192.1L100.4 194.6L100.9 192.4L101.3 191.1L101.8 190.1L102.2 188.7L102.7 191.9L103.1 191.5L103.6 195.1L104.0 190.9L104.5 190.7L104.9 188.9L105.4 193.2L105.8 194.7L106.3 197.4L106.7 196.8L107.2 196.3L107.6 194.0L108.1 194.7L108.5 195.0L109.0 194.9L109.4 198.0L109.9 197.2L110.3 196.6L110.8 195.6L111.2 196.2L111.7 195.8L112.1 199.6L112.6 201.0L113.0 200.4L113.5 201.7L113.9 203.6L114.4 203.5L114.8 204.5L115.3 205.4L115.7 205.0L116.2 205.7L116.6 206.7L117.1 206.6L117.5 207.0L118.0 207.6L118.4 207.6L118.9 207.6" fill="none" stroke="#111" stroke-width="1.0" stroke-linejoin="round" opacity="1"/>
<rect x="73.7" y="168.5" width="47.5" height="39.9" fill="none" stroke="#333" stroke-width="0.8"/>
<path d="M18.0 210.6v1.4M29.5 210.6v1.4M41.0 210.6v1.4M52.5 210.6v1.4M63.5 210.6v1.4M14.6 171h1.3M14.6 179h1.3M14.6 187h1.3M14.6 195h1.3M14.6 203h1.3" stroke="#888" stroke-width="0.6" opacity="0.6"/>
<path d="M74.7 210.6v1.4M86.2 210.6v1.4M97.7 210.6v1.4M109.2 210.6v1.4M120.2 210.6v1.4M71.3 171h1.3M71.3 179h1.3M71.3 187h1.3M71.3 195h1.3M71.3 203h1.3" stroke="#888" stroke-width="0.6" opacity="0.6"/>
<line x1="19.0" y1="215.8" x2="112.0" y2="215.8" stroke="#555" stroke-width="0.6"/>
<path d="M109.5 214.5L112.5 215.8L109.5 217.1" fill="none" stroke="#555" stroke-width="0.6"/>
<text x="53.0" y="223.9" font-size="6.4" textLength="29.7" lengthAdjust="spacingAndGlyphs" font-weight="bold" stroke="none" fill="#000">CXCR3 -PE</text>
<text x="12.7" y="232.3" font-size="5.4" textLength="25.0" lengthAdjust="spacingAndGlyphs" fill="#444">AS-605240</text>
<rect x="42.2" y="228.6" width="6.0" height="4.0" fill="#fff" stroke="#aaa" stroke-width="0.9"/>
<text x="56.0" y="232.3" font-size="5.4" textLength="14.0" lengthAdjust="spacingAndGlyphs" fill="#444">DMSO</text>
<rect x="74.2" y="228.4" width="6.4" height="4.2" fill="#fff" stroke="#111" stroke-width="1.3"/>
<text x="88.3" y="232.3" font-size="5.2" textLength="23.7" lengthAdjust="spacingAndGlyphs" fill="#555">Isotype ctrl</text>
<rect x="115.0" y="228.2" width="6.6" height="4.6" fill="#000" stroke="#000" stroke-width="0.4"/>
<text x="187.3" y="161.2" font-size="7" textLength="39.4" lengthAdjust="spacingAndGlyphs" font-weight="bold" stroke="none" fill="#111">CXCR3 mRNA</text>
<line x1="153.2" y1="169.4" x2="153.2" y2="206.4" stroke="#222" stroke-width="0.7"/>
<line x1="153.2" y1="206.4" x2="251.0" y2="206.4" stroke="#222" stroke-width="0.7"/>
<line x1="150.6" y1="206.4" x2="153.2" y2="206.4" stroke="#222" stroke-width="0.6"/>
<text x="145.7" y="208.8" font-size="6.6" textLength="3.3" lengthAdjust="spacingAndGlyphs" fill="#222">0</text>
<line x1="150.6" y1="197.2" x2="153.2" y2="197.2" stroke="#222" stroke-width="0.6"/>
<text x="145.7" y="199.6" font-size="6.6" textLength="3.3" lengthAdjust="spacingAndGlyphs" fill="#222">5</text>
<line x1="150.6" y1="188.1" x2="153.2" y2="188.1" stroke="#222" stroke-width="0.6"/>
<text x="142.4" y="190.5" font-size="6.6" textLength="6.6" lengthAdjust="spacingAndGlyphs" fill="#222">10</text>
<line x1="150.6" y1="178.9" x2="153.2" y2="178.9" stroke="#222" stroke-width="0.6"/>
<text x="142.4" y="181.3" font-size="6.6" textLength="6.6" lengthAdjust="spacingAndGlyphs" fill="#222">15</text>
<line x1="150.6" y1="169.8" x2="153.2" y2="169.8" stroke="#222" stroke-width="0.6"/>
<text x="142.4" y="172.2" font-size="6.6" textLength="6.6" lengthAdjust="spacingAndGlyphs" fill="#222">20</text>
<text transform="translate(135.8 195.0) rotate(-90)" font-size="4.0" textLength="14.0" lengthAdjust="spacingAndGlyphs" font-weight="bold" stroke="none" fill="#222">FOLD</text>
<text transform="translate(141.0 202.8) rotate(-90)" font-size="4.0" textLength="29.3" lengthAdjust="spacingAndGlyphs" font-weight="bold" stroke="none" fill="#222">INDUCTION</text>
<rect x="164.2" y="184.8" width="13.5" height="21.6" fill="#000" stroke="#000" stroke-width="0.3"/>
<line x1="171.0" y1="173.3" x2="171.0" y2="185.0" stroke="#222" stroke-width="0.6"/>
<line x1="169.4" y1="173.3" x2="172.6" y2="173.3" stroke="#222" stroke-width="0.6"/>
<rect x="177.7" y="205.9" width="13.7" height="0.5" fill="#fff" stroke="#222" stroke-width="0.5"/>
<line x1="173.3" y1="171.4" x2="186.4" y2="171.4" stroke="#333" stroke-width="0.7"/>
<text x="178.2" y="170.0" font-size="5" textLength="2.0" lengthAdjust="spacingAndGlyphs" fill="#333">*</text>
<rect x="216.7" y="194.0" width="13.5" height="12.4" fill="#000" stroke="#000" stroke-width="0.3"/>
<line x1="223.4" y1="188.0" x2="223.4" y2="194.5" stroke="#222" stroke-width="0.6"/>
<line x1="221.8" y1="188.0" x2="225.0" y2="188.0" stroke="#222" stroke-width="0.6"/>
<rect x="230.2" y="205.6" width="14.2" height="0.8" fill="#fff" stroke="#222" stroke-width="0.5"/>
<line x1="224.5" y1="175.9" x2="237.8" y2="175.9" stroke="#333" stroke-width="0.7"/>
<text x="230.0" y="175.0" font-size="5" textLength="2.0" lengthAdjust="spacingAndGlyphs" fill="#333">*</text>
<text x="164.2" y="213.5" font-size="6.4" textLength="33.4" lengthAdjust="spacingAndGlyphs" font-weight="bold" stroke="none" fill="#111">CD4+ T cells</text>
<text x="212.0" y="212.9" font-size="6.4" textLength="34.3" lengthAdjust="spacingAndGlyphs" font-weight="bold" stroke="none" fill="#111">CD8+ T cells</text>
<text x="175.2" y="224.5" font-size="5.2" textLength="14.0" lengthAdjust="spacingAndGlyphs" fill="#444">DMSO</text>
<rect x="192.2" y="220.4" width="6.5" height="6.6" fill="#000" stroke="#000" stroke-width="0.3"/>
<text x="206.0" y="224.5" font-size="5.2" textLength="24.2" lengthAdjust="spacingAndGlyphs" fill="#444">AS-605240</text>
<rect x="234.0" y="220.7" width="6.2" height="6.1" fill="#fff" stroke="#111" stroke-width="0.9"/>
<text x="285.8" y="156.2" font-size="6.0" textLength="32.5" lengthAdjust="spacingAndGlyphs" fill="#333">[AS-650240]</text>
<text x="325.5" y="156.4" font-size="6.0" textLength="12.7" lengthAdjust="spacingAndGlyphs" fill="#333">5 µM</text>
<text x="360.8" y="156.4" font-size="6.0" textLength="17.9" lengthAdjust="spacingAndGlyphs" fill="#333">2.5 µM</text>
<text x="400.2" y="156.4" font-size="6.0" textLength="20.3" lengthAdjust="spacingAndGlyphs" fill="#333">1.25 µM</text>
<text x="442.2" y="156.4" font-size="6.0" textLength="17.8" lengthAdjust="spacingAndGlyphs" fill="#333">0.5 µM</text>
<text x="477.8" y="156.2" font-size="6.0" textLength="29.8" lengthAdjust="spacingAndGlyphs" fill="#333">DMSO only</text>
<path d="M325.1 188.3h.6M326.4 188.3h.6M324.5 192.9h.6M326.6 189.2h.6M322.6 195.0h.6M320.9 195.0h.6M326.6 189.7h.6M321.8 194.8h.6M325.9 192.8h.6M331.6 184.0h.6M326.5 187.9h.6M324.7 188.7h.6M325.6 191.1h.6M327.8 184.2h.6M325.5 191.4h.6M327.1 193.5h.6M327.8 184.9h.6M330.6 188.3h.6M324.8 191.6h.6M324.3 193.8h.6M325.6 185.9h.6M328.1 184.8h.6M322.7 193.3h.6M326.4 188.7h.6M325.0 188.7h.6M327.6 185.2h.6M329.0 185.0h.6M328.1 188.6h.6M325.4 182.1h.6M327.7 186.1h.6M325.9 194.9h.6M327.1 193.4h.6M328.6 187.7h.6M328.3 188.2h.6M328.0 184.2h.6M325.2 190.3h.6M327.6 185.0h.6M325.5 192.7h.6M324.4 191.6h.6M328.8 186.1h.6M328.9 182.4h.6M323.7 189.7h.6M324.0 189.7h.6M329.8 182.0h.6M322.6 193.9h.6M325.6 189.3h.6M327.6 182.9h.6M318.8 197.9h.6M327.0 185.8h.6M329.2 182.2h.6M324.8 195.8h.6M324.3 189.5h.6M323.2 191.3h.6M324.9 187.9h.6M326.7 191.6h.6M327.9 183.4h.6M321.6 192.1h.6M326.4 189.4h.6M327.3 190.2h.6M325.0 188.1h.6M325.7 188.8h.6M328.2 192.6h.6M326.6 188.2h.6M326.6 185.0h.6M324.1 186.1h.6M326.9 181.4h.6M328.0 181.2h.6M325.6 194.2h.6M321.1 195.4h.6M331.0 180.5h.6M327.5 185.4h.6M323.9 186.9h.6M326.6 191.2h.6M325.0 185.6h.6M322.9 192.4h.6M327.3 185.4h.6M327.9 181.4h.6M323.2 191.5h.6M322.9 188.3h.6M324.3 191.7h.6M322.7 191.4h.6M324.0 198.0h.6M323.7 187.7h.6M325.3 189.2h.6M323.0 191.3h.6M326.4 195.7h.6M325.5 186.3h.6M326.6 189.9h.6M322.7 192.7h.6M324.8 192.8h.6M323.4 193.3h.6M327.1 184.7h.6M328.2 184.0h.6M326.3 192.3h.6M323.2 188.4h.6M327.6 188.2h.6M327.4 187.1h.6M325.9 188.6h.6M328.1 185.8h.6M323.7 189.3h.6M324.2 190.4h.6M327.4 184.0h.6M326.4 190.3h.6M327.4 188.2h.6M323.2 193.1h.6M320.6 193.9h.6M326.6 189.0h.6M324.9 191.1h.6M324.3 189.4h.6M327.7 181.8h.6M325.9 189.4h.6M325.7 191.3h.6M325.4 192.1h.6M322.3 192.5h.6M330.4 188.7h.6M322.9 190.5h.6M325.3 193.1h.6M330.2 185.0h.6M325.5 190.8h.6M329.0 186.6h.6M326.5 187.6h.6M325.8 188.3h.6M328.6 182.6h.6M325.6 189.1h.6M331.3 176.2h.6M326.0 186.1h.6M321.9 194.0h.6M327.4 188.9h.6M321.0 200.9h.6M323.7 189.9h.6M322.5 193.7h.6M327.5 189.2h.6M328.0 186.5h.6M322.2 190.8h.6M328.5 188.9h.6M328.1 182.2h.6M330.8 186.1h.6M324.8 187.6h.6M327.4 189.9h.6M325.7 189.0h.6M327.0 189.3h.6M326.1 188.7h.6M322.0 192.9h.6M327.1 183.8h.6M325.2 188.7h.6M329.4 184.3h.6M323.8 188.7h.6M328.2 185.3h.6M324.0 188.8h.6M328.4 183.1h.6M322.1 193.6h.6M322.6 191.9h.6M321.2 193.1h.6M329.1 187.7h.6M323.8 190.7h.6M323.2 190.0h.6M327.0 190.6h.6M326.5 188.6h.6M328.6 186.7h.6M328.0 189.9h.6M328.1 182.9h.6M324.8 189.4h.6M330.2 184.0h.6M326.8 186.4h.6M324.2 188.1h.6M323.3 191.5h.6M320.9 189.7h.6M326.5 180.8h.6M327.1 188.0h.6M327.6 185.6h.6M325.6 185.6h.6M327.2 185.9h.6M326.7 185.6h.6M328.1 185.0h.6M327.4 178.3h.6M325.6 189.2h.6M328.4 186.9h.6M326.8 182.9h.6M327.9 187.2h.6M327.3 189.3h.6M328.6 182.2h.6M323.5 191.2h.6M323.8 190.9h.6M321.8 191.4h.6M327.7 194.7h.6M328.3 184.8h.6M326.2 186.2h.6M329.5 181.9h.6M323.3 191.1h.6M324.7 191.6h.6M328.9 185.4h.6M323.2 189.7h.6M325.7 189.2h.6M323.0 192.0h.6M324.5 193.2h.6M324.1 191.1h.6M327.3 185.5h.6M328.5 183.0h.6M325.3 189.4h.6M328.5 185.6h.6M325.2 185.5h.6M324.1 185.2h.6M329.1 191.1h.6M325.9 186.0h.6M330.2 186.0h.6M325.8 188.5h.6M326.0 185.9h.6M325.0 184.8h.6M325.2 194.7h.6M324.2 191.2h.6M326.2 189.6h.6M323.5 193.1h.6M327.0 188.5h.6M323.9 192.0h.6M326.2 186.0h.6M326.3 187.0h.6M326.9 191.0h.6M326.6 187.0h.6M327.0 191.4h.6M327.1 193.5h.6M326.4 186.8h.6M325.1 189.4h.6M326.0 191.1h.6M330.5 184.6h.6M328.3 183.9h.6M325.4 186.1h.6M326.6 185.1h.6M321.8 191.9h.6M323.7 192.1h.6M328.3 180.0h.6M324.8 189.8h.6M325.1 189.1h.6M324.0 190.3h.6M325.4 190.4h.6M324.7 190.5h.6M326.2 188.0h.6M325.3 188.6h.6M326.0 186.7h.6M325.4 189.8h.6M325.0 189.8h.6M327.8 187.4h.6M326.7 187.4h.6M325.2 188.7h.6M323.7 188.7h.6M326.0 189.8h.6M325.0 191.5h.6M324.8 190.2h.6M326.5 189.9h.6M324.6 187.8h.6M326.7 186.3h.6M325.2 189.8h.6M325.7 188.3h.6M327.3 188.3h.6M325.1 188.4h.6M326.2 189.9h.6M326.2 188.0h.6M326.1 190.4h.6M324.3 188.6h.6M323.0 190.0h.6M326.7 188.0h.6M325.1 187.8h.6M324.1 188.9h.6M326.7 186.0h.6M325.0 190.4h.6M325.1 187.7h.6M327.0 189.6h.6M325.3 188.8h.6M327.1 187.5h.6M326.9 186.3h.6M325.7 185.9h.6M337.0 195.6h.6M337.4 200.1h.6M335.6 195.4h.6M336.4 196.4h.6M333.4 193.0h.6M335.2 194.4h.6M334.0 193.7h.6M336.0 195.1h.6M336.9 198.2h.6M336.9 198.9h.6M337.7 201.0h.6M336.1 191.0h.6M340.0 199.3h.6M337.9 197.6h.6M334.8 188.5h.6M335.9 192.3h.6M333.4 183.6h.6M337.3 188.1h.6M333.8 196.7h.6M335.9 190.1h.6M335.5 195.5h.6M336.0 196.8h.6M336.5 192.2h.6M334.2 189.3h.6M337.0 197.0h.6M332.2 201.0h.6M335.5 195.7h.6M335.8 193.0h.6M335.2 187.6h.6M331.8 200.9h.6M331.1 190.4h.6M336.6 192.0h.6M333.5 186.8h.6M335.1 193.3h.6M333.4 186.6h.6M335.9 196.3h.6M337.6 196.5h.6M338.7 199.9h.6M334.6 189.0h.6M336.7 198.9h.6M332.0 188.4h.6M336.2 191.3h.6M338.0 195.0h.6M333.7 187.7h.6M335.4 185.5h.6M332.4 187.9h.6M339.3 202.3h.6M334.8 192.3h.6M337.3 200.3h.6M335.7 199.9h.6M331.4 194.4h.6M334.3 187.9h.6M338.3 190.4h.6M334.6 188.0h.6M336.7 195.0h.6M334.7 192.3h.6M334.0 190.7h.6M333.7 200.5h.6M336.1 187.1h.6M333.7 196.5h.6M339.1 192.7h.6M334.7 193.0h.6M335.7 193.3h.6M337.8 198.9h.6M337.3 201.9h.6M334.7 191.5h.6M339.3 184.0h.6M331.3 182.8h.6M335.4 188.8h.6M335.9 183.5h.6M334.9 192.3h.6M334.2 200.0h.6M335.0 196.5h.6M334.6 195.1h.6M334.7 194.7h.6M334.8 190.8h.6M336.0 193.2h.6M333.1 189.2h.6M336.9 200.7h.6M332.9 192.4h.6M336.8 199.3h.6M335.9 188.1h.6M336.0 198.7h.6M335.7 193.0h.6M333.5 195.3h.6M335.3 194.4h.6M338.7 199.8h.6M334.2 195.5h.6M334.9 194.8h.6M338.7 198.4h.6M335.1 190.9h.6M335.3 196.0h.6M335.2 199.8h.6M334.7 188.3h.6M337.1 179.3h.6M334.9 193.6h.6M337.7 199.5h.6M338.8 201.7h.6M336.0 194.7h.6M337.1 193.9h.6M333.0 192.2h.6M336.9 197.1h.6M334.2 200.4h.6M335.0 186.6h.6M336.8 199.1h.6M336.1 192.5h.6M334.7 199.9h.6M335.8 194.1h.6M334.1 189.1h.6M332.0 192.9h.6M337.7 197.8h.6M335.2 201.9h.6M334.4 189.2h.6M337.9 200.9h.6M334.0 188.2h.6M333.8 182.1h.6M336.4 201.8h.6M335.4 190.5h.6M336.3 191.6h.6M337.3 192.2h.6M338.6 192.0h.6M335.2 189.5h.6M333.4 196.2h.6M335.4 189.3h.6M336.1 192.0h.6M334.4 194.0h.6M336.5 197.7h.6M337.7 195.8h.6M333.8 190.9h.6M335.3 188.2h.6M334.9 192.3h.6M335.3 195.1h.6M338.1 202.1h.6M337.5 199.0h.6M334.2 199.6h.6M336.8 187.2h.6M339.3 190.9h.6M335.0 190.2h.6M335.1 199.6h.6M335.6 192.3h.6M336.8 189.3h.6M333.6 191.6h.6M334.5 197.8h.6M334.4 189.0h.6M333.4 184.4h.6M335.7 194.7h.6M336.3 192.9h.6M335.5 189.5h.6M335.5 195.0h.6M333.7 197.4h.6M335.7 194.4h.6M334.9 190.4h.6M334.3 197.3h.6M334.6 190.3h.6M334.7 199.0h.6M336.2 199.4h.6M334.7 188.3h.6M337.1 195.6h.6M334.1 192.8h.6M334.3 198.5h.6M335.0 196.7h.6M335.7 192.9h.6M335.9 192.9h.6M333.2 192.4h.6M333.9 198.2h.6M336.1 191.2h.6M336.6 195.3h.6M336.5 189.4h.6M334.8 189.3h.6M335.1 201.1h.6M331.5 190.1h.6M336.7 198.0h.6M332.9 184.3h.6M332.7 196.4h.6M337.8 198.5h.6M335.0 201.1h.6M335.4 197.3h.6M336.0 202.1h.6M333.2 183.6h.6M335.0 195.2h.6M335.4 190.6h.6M334.3 188.6h.6M335.1 194.7h.6M336.8 202.3h.6M332.3 197.2h.6M335.4 188.4h.6M335.5 194.1h.6M334.1 198.0h.6M339.0 197.1h.6M337.3 199.3h.6M335.8 199.1h.6M334.1 195.2h.6M337.4 200.5h.6M334.7 192.8h.6M336.1 193.7h.6M336.1 198.2h.6M334.6 198.7h.6M335.9 192.8h.6M332.9 191.3h.6M335.9 198.9h.6M332.5 198.1h.6M335.0 188.6h.6M337.1 196.0h.6M335.5 189.3h.6M334.1 198.9h.6M338.0 195.7h.6M334.8 192.0h.6M333.1 199.4h.6M336.0 200.3h.6M334.8 199.5h.6M334.5 197.2h.6M337.3 190.4h.6M336.9 194.0h.6M333.9 195.4h.6M336.1 190.5h.6M334.6 191.5h.6M334.0 193.3h.6M336.5 191.6h.6M337.3 192.1h.6M334.9 199.6h.6M337.4 190.7h.6M335.7 188.3h.6M334.5 192.4h.6M335.8 187.9h.6M334.1 190.9h.6M334.8 188.1h.6M334.9 186.7h.6M336.0 187.6h.6M333.2 202.8h.6M337.0 189.8h.6M333.9 196.7h.6M339.2 196.7h.6M335.8 188.2h.6M332.7 196.5h.6M337.2 194.7h.6M336.2 201.0h.6M334.6 199.8h.6M336.4 191.0h.6M335.7 194.7h.6M335.8 189.3h.6M335.1 194.7h.6M335.5 194.3h.6M335.7 193.2h.6M335.2 199.4h.6M334.1 192.8h.6M333.3 188.8h.6M336.1 193.9h.6M335.4 196.4h.6M335.5 197.6h.6M338.6 195.5h.6M335.9 202.4h.6M335.6 185.9h.6M337.7 195.0h.6M336.1 188.4h.6M333.6 191.2h.6M335.7 188.6h.6M334.8 199.0h.6M334.4 194.9h.6M332.9 186.1h.6M335.2 193.6h.6M333.6 199.2h.6M337.0 200.3h.6M335.3 194.3h.6M335.9 198.2h.6M335.8 196.0h.6M334.7 195.5h.6M335.9 196.3h.6M338.1 196.9h.6M336.6 196.3h.6M335.8 194.8h.6M335.4 193.3h.6M333.3 201.6h.6M334.7 199.0h.6M335.8 196.0h.6M336.9 196.1h.6M336.6 196.6h.6M337.2 200.5h.6M336.1 200.9h.6M336.6 202.3h.6M335.8 193.1h.6M336.3 198.4h.6M335.5 197.1h.6M335.7 194.0h.6M338.2 195.4h.6M334.6 193.0h.6M334.9 197.6h.6M337.9 199.5h.6M335.1 194.0h.6M334.6 197.5h.6M337.1 196.3h.6M336.2 191.3h.6M337.4 197.4h.6M336.8 200.6h.6M334.7 197.9h.6M336.2 195.5h.6M336.9 197.3h.6M336.2 202.5h.6M335.8 200.7h.6M335.0 198.1h.6M337.4 191.3h.6M336.7 196.9h.6M337.4 198.2h.6M335.9 193.9h.6M339.7 195.5h.6M335.6 195.6h.6M335.6 198.3h.6M334.3 200.8h.6M335.7 199.5h.6M333.3 196.2h.6M335.6 196.6h.6M335.1 198.6h.6M336.5 194.8h.6M333.5 199.8h.6M335.6 200.8h.6M337.1 197.4h.6M334.2 196.6h.6M335.1 201.3h.6M333.8 200.4h.6M334.0 196.0h.6M323.1 176.2h.6M325.6 180.0h.6M325.2 181.1h.6M331.1 179.3h.6M323.8 178.1h.6M326.4 177.4h.6M329.6 182.8h.6M331.8 180.5h.6M319.9 178.2h.6M328.4 175.8h.6M325.2 181.9h.6M327.1 174.7h.6M325.2 167.8h.6M326.7 174.4h.6M326.6 174.5h.6M324.3 176.9h.6M333.8 174.5h.6M323.7 176.8h.6M329.4 181.5h.6M328.4 177.5h.6M327.0 176.0h.6M326.2 175.8h.6M323.0 175.2h.6M331.6 180.1h.6M324.8 178.3h.6M325.5 183.0h.6M326.6 176.4h.6M328.4 179.8h.6M324.9 176.0h.6M327.0 172.9h.6M324.4 182.2h.6M328.9 182.6h.6M325.6 176.6h.6M326.0 177.0h.6M329.9 177.9h.6M330.1 176.2h.6M327.6 184.4h.6M324.8 176.4h.6M325.2 173.0h.6M325.9 176.4h.6M332.3 177.0h.6M321.3 182.0h.6M329.1 178.6h.6M327.4 181.2h.6M325.3 178.8h.6M327.0 184.5h.6M330.3 179.3h.6M323.3 181.8h.6M326.5 182.8h.6M326.8 179.3h.6M328.3 176.1h.6M325.0 186.8h.6M324.5 182.0h.6M328.4 181.6h.6M330.1 174.0h.6M329.1 171.4h.6M326.8 179.9h.6M329.3 182.5h.6M324.3 177.7h.6M326.3 176.2h.6M331.4 179.4h.6M335.6 186.5h.6M334.8 187.6h.6M333.4 177.9h.6M331.8 182.4h.6M335.4 186.0h.6M331.3 185.1h.6M332.0 183.8h.6M335.1 186.9h.6M332.0 182.5h.6M334.1 180.2h.6M333.4 183.8h.6M329.6 179.4h.6M338.1 183.3h.6M332.0 175.2h.6M331.1 183.5h.6M334.6 183.3h.6M334.4 179.6h.6M336.6 177.7h.6M334.3 180.8h.6M329.5 184.9h.6M332.6 184.2h.6M335.9 182.3h.6M331.8 180.9h.6M333.0 186.8h.6M335.0 187.3h.6M334.8 179.0h.6M335.2 185.1h.6M332.9 183.3h.6M332.5 177.2h.6M333.0 184.4h.6M332.4 173.8h.6M331.5 185.5h.6M333.7 185.7h.6M331.6 180.2h.6M331.0 186.6h.6M312.6 171.8h.6M324.7 172.9h.6M329.1 188.4h.6M331.6 198.6h.6M331.1 194.6h.6M315.0 198.2h.6M341.6 188.3h.6M338.3 186.9h.6M325.4 173.3h.6" stroke="#0a0a0a" stroke-width="0.7" opacity="0.92" fill="none"/>
<path d="M311.2 204.8v1.6M307.6 167.7h1.4M319.5 204.8v1.6M307.6 176.4h1.4M327.8 204.8v1.6M307.6 185.1h1.4M336.1 204.8v1.6M307.6 193.9h1.4M344.4 204.8v1.6M307.6 202.6h1.4" stroke="#888" stroke-width="0.6" fill="none" opacity="0.6"/>
<rect x="310.2" y="166.7" width="35.2" height="36.9" fill="none" stroke="#1a1a1a" stroke-width="0.85"/>
<line x1="330.3" y1="166.7" x2="330.3" y2="203.6" stroke="#222" stroke-width="0.7"/>
<line x1="310.2" y1="186.3" x2="345.4" y2="186.3" stroke="#222" stroke-width="0.7"/>
<text x="344.2" y="171.9" font-size="5" font-weight="bold" text-anchor="end" fill="#111">3</text>
<path d="M322.2 246.5h.6M329.8 239.5h.6M322.1 244.1h.6M324.2 247.3h.6M322.1 248.3h.6M326.4 244.2h.6M326.2 249.0h.6M321.8 254.4h.6M324.5 245.7h.6M322.9 244.8h.6M320.0 256.7h.6M325.0 248.0h.6M324.8 242.8h.6M325.2 240.4h.6M324.2 248.1h.6M324.0 245.4h.6M322.4 248.7h.6M326.7 245.2h.6M326.6 241.9h.6M319.5 254.9h.6M322.9 250.1h.6M322.4 252.9h.6M326.1 243.2h.6M324.1 251.1h.6M321.6 250.6h.6M324.8 246.7h.6M325.9 250.2h.6M325.7 245.9h.6M322.7 251.0h.6M326.8 244.3h.6M325.5 246.7h.6M325.5 246.4h.6M325.2 239.2h.6M328.8 238.2h.6M318.5 253.6h.6M326.5 245.6h.6M329.8 238.6h.6M322.9 250.8h.6M327.7 242.0h.6M327.0 245.5h.6M323.5 247.2h.6M320.0 254.5h.6M320.0 255.0h.6M327.9 242.5h.6M324.6 247.1h.6M323.9 252.8h.6M329.3 246.1h.6M319.2 255.5h.6M322.8 247.6h.6M328.9 244.1h.6M325.8 243.8h.6M324.5 248.8h.6M323.3 249.4h.6M324.5 244.9h.6M321.1 254.9h.6M324.5 247.1h.6M326.2 248.1h.6M325.9 248.7h.6M325.8 248.4h.6M325.3 243.0h.6M321.3 254.4h.6M327.7 247.0h.6M330.2 244.4h.6M321.6 249.9h.6M320.8 249.3h.6M323.8 249.6h.6M322.3 247.5h.6M326.0 247.3h.6M326.0 247.7h.6M325.8 245.9h.6M323.3 245.3h.6M326.9 244.3h.6M325.4 239.6h.6M326.8 247.0h.6M321.1 251.1h.6M327.6 241.0h.6M326.0 243.2h.6M326.4 243.2h.6M323.8 248.7h.6M324.4 245.7h.6M322.7 250.0h.6M322.2 249.3h.6M326.7 247.0h.6M324.1 245.0h.6M323.5 243.6h.6M323.5 245.4h.6M323.1 248.6h.6M323.9 248.6h.6M324.0 247.9h.6M321.8 248.6h.6M324.0 252.1h.6M322.1 247.6h.6M321.0 248.7h.6M325.4 245.0h.6M324.2 245.4h.6M326.7 243.2h.6M324.2 247.9h.6M325.5 247.1h.6M319.8 255.8h.6M325.3 248.9h.6M321.6 248.3h.6M331.0 237.1h.6M323.7 248.2h.6M324.5 247.3h.6M321.6 252.1h.6M325.8 246.1h.6M320.0 254.8h.6M324.7 244.2h.6M324.8 247.7h.6M322.2 252.3h.6M325.3 249.3h.6M324.9 246.7h.6M322.3 250.6h.6M325.2 242.0h.6M326.1 242.9h.6M321.2 251.0h.6M320.6 247.5h.6M323.5 245.0h.6M326.0 242.7h.6M322.6 246.1h.6M325.3 236.6h.6M321.9 250.9h.6M327.7 247.1h.6M324.2 245.2h.6M323.3 250.8h.6M322.4 248.0h.6M322.2 251.3h.6M324.6 245.8h.6M326.4 241.2h.6M323.5 249.8h.6M325.6 248.7h.6M326.0 243.0h.6M324.7 243.3h.6M324.9 247.5h.6M321.9 244.9h.6M326.5 242.7h.6M323.5 248.9h.6M326.2 240.9h.6M323.7 247.7h.6M321.1 252.7h.6M327.0 243.1h.6M327.1 244.9h.6M325.4 247.8h.6M328.4 243.9h.6M324.7 249.0h.6M322.0 249.0h.6M326.9 249.9h.6M324.0 245.8h.6M325.8 248.8h.6M328.0 245.4h.6M329.7 241.7h.6M325.1 245.6h.6M321.5 251.3h.6M323.2 247.8h.6M325.4 251.4h.6M325.7 243.8h.6M321.3 246.9h.6M323.5 251.8h.6M320.5 255.4h.6M330.6 238.5h.6M321.9 249.4h.6M322.4 249.8h.6M329.6 245.8h.6M327.7 248.2h.6M322.6 246.2h.6M327.1 245.3h.6M328.6 244.7h.6M322.5 250.3h.6M325.6 244.6h.6M323.3 249.4h.6M324.1 253.4h.6M327.2 248.1h.6M322.6 245.6h.6M326.3 242.8h.6M324.2 246.3h.6M322.8 250.5h.6M321.1 250.7h.6M323.2 249.8h.6M328.9 243.0h.6M328.3 245.3h.6M322.9 251.4h.6M329.2 241.5h.6M322.5 251.4h.6M324.7 246.5h.6M321.3 253.3h.6M326.0 242.9h.6M324.4 244.1h.6M323.7 248.1h.6M328.2 240.2h.6M321.2 248.4h.6M328.5 242.2h.6M331.1 238.2h.6M326.5 250.8h.6M321.4 247.7h.6M325.6 245.1h.6M324.7 245.8h.6M326.5 243.3h.6M322.8 248.6h.6M328.2 242.1h.6M320.7 252.6h.6M322.1 253.8h.6M325.1 241.9h.6M325.9 237.8h.6M326.4 242.6h.6M324.7 243.4h.6M322.7 250.0h.6M329.1 240.5h.6M327.4 246.7h.6M323.4 246.1h.6M327.1 241.2h.6M328.0 245.8h.6M322.8 248.5h.6M325.9 250.0h.6M322.6 247.9h.6M325.4 249.2h.6M326.6 245.5h.6M328.2 240.3h.6M326.2 242.0h.6M321.5 252.7h.6M324.5 240.2h.6M323.7 245.9h.6M327.9 244.7h.6M321.1 251.0h.6M324.1 249.2h.6M327.4 244.6h.6M326.4 244.5h.6M323.5 246.9h.6M328.0 242.3h.6M322.4 248.7h.6M323.5 249.6h.6M326.0 243.6h.6M324.5 249.8h.6M319.1 248.2h.6M322.3 248.9h.6M327.4 247.0h.6M322.9 247.2h.6M323.6 249.2h.6M322.3 246.8h.6M324.4 250.3h.6M323.0 252.0h.6M321.0 251.0h.6M327.1 243.2h.6M323.7 247.7h.6M322.3 252.4h.6M326.0 245.1h.6M328.3 247.2h.6M321.6 249.9h.6M325.8 243.5h.6M320.8 250.7h.6M323.1 246.5h.6M324.5 245.8h.6M323.3 246.9h.6M323.3 251.4h.6M326.7 242.1h.6M322.7 245.9h.6M318.6 250.3h.6M324.5 247.4h.6M324.2 243.4h.6M322.3 249.0h.6M322.8 249.0h.6M326.4 244.5h.6M323.6 248.5h.6M324.3 246.9h.6M325.5 245.2h.6M326.1 247.5h.6M325.4 246.5h.6M324.7 248.9h.6M324.7 248.6h.6M324.1 249.0h.6M324.8 247.2h.6M325.8 246.0h.6M322.5 247.1h.6M325.3 246.0h.6M325.2 245.6h.6M324.0 246.9h.6M324.2 248.0h.6M324.2 247.7h.6M325.6 246.2h.6M324.1 245.4h.6M324.9 246.1h.6M326.5 246.8h.6M325.5 246.1h.6M326.0 245.5h.6M325.2 247.5h.6M325.3 245.2h.6M326.1 246.7h.6M327.3 244.2h.6M322.7 248.9h.6M325.8 247.5h.6M324.9 248.0h.6M324.4 247.0h.6M324.9 244.8h.6M324.2 247.9h.6M325.7 245.4h.6M325.2 247.3h.6M325.4 246.8h.6M323.8 248.2h.6M326.4 245.8h.6M323.3 247.8h.6M324.9 247.1h.6M336.2 259.2h.6M336.4 254.8h.6M335.3 251.3h.6M336.6 254.3h.6M337.5 255.3h.6M332.5 251.5h.6M337.6 259.5h.6M337.0 259.6h.6M339.0 257.3h.6M339.0 252.5h.6M338.6 259.4h.6M338.3 258.3h.6M338.3 260.5h.6M332.5 244.9h.6M337.0 252.4h.6M333.8 253.1h.6M337.5 259.4h.6M336.1 253.4h.6M334.0 249.8h.6M333.9 252.2h.6M333.1 248.8h.6M337.1 258.8h.6M336.4 253.7h.6M335.8 252.6h.6M335.7 258.8h.6M340.0 254.9h.6M335.0 257.1h.6M334.7 252.9h.6M333.1 254.6h.6M333.2 246.4h.6M334.5 251.9h.6M335.5 257.5h.6M339.0 254.9h.6M338.7 256.8h.6M336.8 256.7h.6M336.9 251.2h.6M332.8 247.7h.6M331.4 251.4h.6M337.8 255.1h.6M338.7 259.8h.6M335.8 261.4h.6M337.4 257.5h.6M336.2 249.4h.6M335.2 256.4h.6M334.5 251.3h.6M334.1 250.7h.6M335.2 252.1h.6M336.2 248.1h.6M336.7 254.0h.6M336.2 248.5h.6M338.4 262.2h.6M334.0 252.6h.6M333.3 249.7h.6M340.5 260.1h.6M334.1 250.6h.6M335.0 257.8h.6M336.0 256.8h.6M331.3 253.5h.6M337.5 255.5h.6M332.1 257.1h.6M335.9 253.8h.6M334.4 252.2h.6M336.9 256.2h.6M331.0 255.9h.6M336.7 252.4h.6M335.7 248.9h.6M340.4 257.2h.6M340.9 260.3h.6M333.7 254.2h.6M338.5 258.5h.6M333.3 248.0h.6M337.2 252.4h.6M335.8 252.2h.6M332.9 247.8h.6M335.5 250.7h.6M333.9 257.0h.6M337.5 258.4h.6M334.6 247.9h.6M335.5 254.1h.6M333.8 249.1h.6M337.7 258.4h.6M340.4 259.8h.6M332.0 242.0h.6M334.3 251.6h.6M337.1 253.4h.6M337.2 255.9h.6M338.1 260.4h.6M340.0 256.6h.6M335.4 255.5h.6M338.6 256.6h.6M336.5 258.7h.6M337.9 256.2h.6M335.1 254.1h.6M332.8 255.0h.6M334.5 252.9h.6M334.7 252.7h.6M336.0 254.3h.6M334.6 253.7h.6M336.5 256.3h.6M335.7 252.0h.6M331.3 247.0h.6M334.7 256.6h.6M337.5 261.8h.6M334.7 252.3h.6M334.4 251.6h.6M334.9 254.6h.6M333.8 255.5h.6M333.8 249.9h.6M337.9 255.0h.6M336.0 250.2h.6M331.6 249.3h.6M329.8 246.3h.6M337.1 250.8h.6M335.0 251.4h.6M338.5 261.2h.6M331.3 250.5h.6M334.2 249.7h.6M339.2 259.4h.6M338.5 256.8h.6M337.4 258.6h.6M332.2 249.0h.6M334.9 253.0h.6M335.6 248.7h.6M335.9 249.7h.6M330.6 247.0h.6M332.9 247.4h.6M336.1 254.0h.6M331.4 245.4h.6M335.8 256.3h.6M334.4 258.2h.6M334.7 251.5h.6M337.3 256.8h.6M334.2 250.4h.6M335.6 250.4h.6M338.1 258.1h.6M340.7 260.4h.6M337.5 254.0h.6M335.8 254.9h.6M335.1 249.8h.6M334.9 245.7h.6M334.7 247.5h.6M333.1 252.3h.6M332.7 248.0h.6M336.4 253.0h.6M335.7 248.5h.6M334.4 258.2h.6M337.3 258.5h.6M329.9 249.7h.6M330.2 246.0h.6M337.8 260.6h.6M335.4 246.7h.6M331.3 245.9h.6M332.6 250.1h.6M338.5 258.8h.6M338.5 250.8h.6M337.3 254.4h.6M339.8 260.6h.6M337.8 257.7h.6M336.3 253.2h.6M333.9 252.5h.6M335.0 252.2h.6M333.8 250.9h.6M336.5 252.3h.6M335.1 253.0h.6M336.6 250.7h.6M336.1 249.1h.6M339.1 255.8h.6M335.9 256.3h.6M335.6 248.9h.6M336.0 255.5h.6M334.8 252.7h.6M336.3 255.3h.6M339.7 260.2h.6M338.6 262.2h.6M332.7 247.4h.6M334.4 252.6h.6M333.4 244.1h.6M334.5 253.7h.6M337.4 255.3h.6M336.7 252.7h.6M337.7 259.6h.6M339.0 254.6h.6M334.3 249.9h.6M339.6 254.4h.6M333.5 246.2h.6M335.1 253.1h.6M337.6 252.1h.6M340.7 262.2h.6M332.4 250.9h.6M336.9 254.0h.6M335.5 253.1h.6M336.6 255.5h.6M334.5 252.9h.6M334.0 248.8h.6M332.1 243.6h.6M336.4 253.0h.6M336.6 260.8h.6M337.0 259.9h.6M338.7 261.3h.6M337.4 258.8h.6M331.6 245.6h.6M337.2 255.8h.6M339.5 261.3h.6M331.9 247.9h.6M334.8 250.6h.6M335.6 254.0h.6M336.6 259.4h.6M339.0 262.2h.6M338.1 258.6h.6M334.0 251.1h.6M333.2 250.2h.6M336.6 254.3h.6M331.2 247.6h.6M330.9 246.1h.6M331.5 247.5h.6M334.5 248.2h.6M334.6 253.7h.6M336.6 255.8h.6M338.1 256.4h.6M337.6 259.8h.6M334.9 250.5h.6M335.6 247.6h.6M338.8 259.3h.6M336.5 255.4h.6M337.2 256.9h.6M336.1 253.8h.6M333.1 244.8h.6M335.5 252.4h.6M339.1 254.0h.6M336.0 257.3h.6M332.9 248.7h.6M336.3 256.4h.6M339.5 258.0h.6M335.7 253.0h.6M338.3 259.3h.6M337.8 259.3h.6M334.5 254.3h.6M338.2 256.6h.6M335.0 251.4h.6M332.2 253.0h.6M333.7 252.6h.6M336.5 249.4h.6M336.9 253.3h.6M334.3 255.1h.6M334.5 248.0h.6M333.3 252.9h.6M335.6 250.7h.6M337.2 255.7h.6M336.6 256.0h.6M337.2 252.3h.6M334.1 248.9h.6M334.5 253.9h.6M335.6 250.4h.6M335.5 259.0h.6M334.2 240.7h.6M334.4 255.1h.6M334.6 249.3h.6M338.3 258.7h.6M336.7 257.4h.6M334.1 249.6h.6M333.6 251.5h.6M339.9 258.4h.6M333.1 246.6h.6M334.2 252.4h.6M332.9 255.0h.6M333.6 247.7h.6M334.2 252.1h.6M339.7 255.8h.6M337.0 253.8h.6M335.6 258.9h.6M331.0 245.6h.6M336.1 251.9h.6M336.7 256.2h.6M336.2 255.9h.6M337.0 251.7h.6M335.2 254.2h.6M335.9 251.7h.6M334.5 250.8h.6M336.6 256.4h.6M334.2 253.6h.6M332.3 251.6h.6M336.8 256.3h.6M334.0 254.1h.6M335.0 255.9h.6M336.9 255.8h.6M332.7 247.6h.6M332.3 248.2h.6M334.6 254.1h.6M336.0 250.3h.6M335.0 255.3h.6M335.4 259.5h.6M339.0 257.7h.6M337.0 257.3h.6M337.1 258.5h.6M333.2 250.6h.6M335.4 251.6h.6M335.0 249.6h.6M334.2 249.3h.6M331.8 249.0h.6M333.0 253.8h.6M337.2 250.9h.6M336.7 252.5h.6M333.7 244.9h.6M335.1 256.4h.6M336.2 252.5h.6M337.2 256.2h.6M337.1 258.6h.6M335.9 257.8h.6M335.9 239.0h.6M332.2 238.2h.6M326.7 239.2h.6M329.1 231.2h.6M335.4 235.1h.6M334.2 238.5h.6M328.1 235.1h.6M332.4 240.0h.6M333.4 233.8h.6M331.7 238.7h.6M329.5 236.7h.6M331.6 230.8h.6M338.2 241.4h.6M331.9 241.7h.6M330.2 243.7h.6M332.1 238.8h.6M331.5 238.6h.6M334.2 238.4h.6M330.8 241.0h.6M334.8 238.3h.6M336.3 235.7h.6M336.9 237.7h.6M337.6 236.7h.6M332.5 239.1h.6M336.4 243.4h.6M331.9 235.7h.6M335.4 242.7h.6M335.3 237.1h.6M336.9 238.2h.6M333.7 240.5h.6M331.6 230.3h.6M333.8 240.8h.6M334.5 240.2h.6M333.7 242.0h.6M333.5 243.6h.6M333.4 241.1h.6M331.6 239.4h.6M334.4 238.8h.6M337.7 238.5h.6M336.5 239.6h.6M336.4 235.1h.6M332.1 241.7h.6M330.8 239.7h.6M334.9 239.0h.6M334.5 240.2h.6M332.5 239.8h.6M331.7 236.7h.6M328.6 237.9h.6M328.3 238.4h.6M333.8 234.4h.6M333.4 239.3h.6M332.2 235.1h.6M332.9 239.8h.6M335.9 245.2h.6M327.5 239.5h.6M334.5 236.0h.6M334.1 245.7h.6M333.5 243.1h.6M336.3 236.7h.6M326.5 242.4h.6M337.7 232.1h.6M332.6 235.8h.6M333.8 238.5h.6M336.5 236.2h.6M338.8 232.2h.6M333.8 247.8h.6M332.9 240.5h.6M331.8 250.0h.6M335.8 237.1h.6M327.6 239.1h.6M335.3 231.1h.6M331.8 240.3h.6M326.2 237.6h.6M328.6 233.5h.6M334.4 242.3h.6M336.6 236.0h.6M334.7 232.0h.6M328.9 240.2h.6M332.0 234.7h.6M327.8 237.5h.6M332.8 232.3h.6M324.6 241.6h.6M322.4 236.5h.6M327.4 241.7h.6M327.0 243.7h.6M327.1 238.0h.6M328.3 239.3h.6M323.4 235.5h.6M326.6 239.3h.6M324.1 236.2h.6M325.3 239.3h.6M326.1 240.1h.6M328.2 235.6h.6M326.5 234.6h.6M327.5 240.7h.6M324.7 233.0h.6M328.5 237.4h.6M327.1 239.7h.6M328.2 241.1h.6M326.0 231.8h.6M326.0 237.4h.6M326.2 239.5h.6M326.6 242.2h.6M325.6 238.3h.6M326.3 244.6h.6M324.8 235.3h.6M326.2 240.6h.6M327.2 237.8h.6M323.5 232.1h.6M326.7 237.6h.6M331.7 239.4h.6M328.3 241.2h.6M324.9 234.6h.6M326.3 242.7h.6M329.7 236.6h.6M324.2 251.1h.6M339.8 251.1h.6M341.5 254.4h.6M342.5 236.0h.6M333.2 234.6h.6M315.0 239.2h.6M342.1 237.5h.6M321.3 259.5h.6M343.3 253.6h.6M322.7 255.9h.6" stroke="#0a0a0a" stroke-width="0.7" opacity="0.92" fill="none"/>
<path d="M311.2 264.2v1.6M307.6 227.3h1.4M319.5 264.2v1.6M307.6 236.0h1.4M327.8 264.2v1.6M307.6 244.7h1.4M336.1 264.2v1.6M307.6 253.3h1.4M344.4 264.2v1.6M307.6 262.0h1.4" stroke="#888" stroke-width="0.6" fill="none" opacity="0.6"/>
<rect x="310.2" y="226.3" width="35.2" height="36.7" fill="none" stroke="#1a1a1a" stroke-width="0.85"/>
<line x1="330.3" y1="226.3" x2="330.3" y2="263.0" stroke="#222" stroke-width="0.7"/>
<line x1="310.2" y1="245.0" x2="345.4" y2="245.0" stroke="#222" stroke-width="0.7"/>
<text x="344.2" y="231.5" font-size="5" font-weight="bold" text-anchor="end" fill="#111">3</text>
<path d="M366.5 188.6h.6M366.9 190.0h.6M363.8 195.8h.6M363.3 189.9h.6M365.1 188.1h.6M365.8 189.2h.6M362.6 189.8h.6M369.7 187.8h.6M366.6 191.0h.6M367.4 186.6h.6M366.8 189.6h.6M367.0 192.0h.6M369.5 177.1h.6M367.5 190.8h.6M367.4 186.1h.6M367.6 194.4h.6M367.0 187.0h.6M365.2 193.6h.6M365.7 192.1h.6M366.2 189.7h.6M364.7 188.2h.6M366.6 188.1h.6M365.7 189.3h.6M366.0 187.3h.6M361.7 196.4h.6M367.0 183.4h.6M366.3 186.5h.6M368.4 178.7h.6M367.0 192.8h.6M365.2 190.2h.6M367.3 181.7h.6M366.0 190.6h.6M365.6 188.0h.6M362.9 186.5h.6M367.4 189.4h.6M365.8 190.5h.6M365.6 182.6h.6M364.5 188.6h.6M368.2 181.0h.6M367.7 188.0h.6M364.9 196.3h.6M366.1 182.8h.6M365.8 194.1h.6M366.4 189.8h.6M366.3 191.1h.6M363.8 190.5h.6M368.2 187.2h.6M366.0 186.1h.6M365.0 190.0h.6M367.3 188.7h.6M368.5 181.5h.6M367.2 184.4h.6M365.3 189.3h.6M361.8 201.5h.6M366.1 185.9h.6M365.4 186.8h.6M364.7 191.9h.6M362.8 190.8h.6M367.9 186.6h.6M365.3 188.7h.6M367.2 187.9h.6M366.2 188.3h.6M364.7 188.8h.6M367.0 188.7h.6M365.0 187.8h.6M365.8 189.4h.6M364.8 191.2h.6M366.6 191.9h.6M365.0 192.9h.6M366.6 187.7h.6M364.6 187.7h.6M369.2 185.3h.6M369.1 183.9h.6M364.3 195.2h.6M368.0 184.0h.6M366.9 187.9h.6M368.1 186.7h.6M364.9 185.8h.6M365.7 192.4h.6M366.7 188.5h.6M367.5 187.9h.6M365.5 188.9h.6M368.4 186.9h.6M367.9 186.2h.6M365.3 188.6h.6M365.9 184.6h.6M365.8 185.6h.6M362.1 196.5h.6M367.0 188.8h.6M368.0 178.9h.6M367.8 186.2h.6M368.2 187.3h.6M365.7 185.4h.6M366.4 182.4h.6M368.0 186.7h.6M368.0 186.6h.6M366.8 186.2h.6M366.6 185.6h.6M368.3 188.8h.6M361.7 193.7h.6M366.4 193.0h.6M366.5 187.7h.6M365.6 188.6h.6M367.0 188.5h.6M366.7 184.4h.6M366.1 195.2h.6M365.7 185.4h.6M365.6 190.4h.6M365.9 189.1h.6M365.3 192.7h.6M363.3 191.8h.6M366.2 190.5h.6M364.9 186.8h.6M365.2 190.5h.6M366.3 191.1h.6M363.1 192.3h.6M365.2 191.7h.6M367.3 185.7h.6M368.7 191.9h.6M367.9 187.0h.6M364.6 192.3h.6M364.6 194.9h.6M369.3 184.9h.6M363.0 191.9h.6M367.5 187.6h.6M366.8 186.1h.6M368.8 188.5h.6M363.5 191.0h.6M365.8 189.6h.6M366.0 188.0h.6M363.4 189.4h.6M366.1 186.6h.6M365.1 193.1h.6M363.9 186.9h.6M365.7 192.2h.6M364.8 189.1h.6M365.6 191.9h.6M365.9 187.4h.6M364.2 192.2h.6M368.3 187.2h.6M365.9 189.1h.6M365.4 187.5h.6M366.4 191.5h.6M366.4 185.7h.6M368.2 183.0h.6M366.6 188.9h.6M365.1 186.9h.6M365.9 187.0h.6M363.5 192.9h.6M364.2 190.6h.6M364.7 193.6h.6M366.3 188.3h.6M368.9 181.6h.6M369.6 188.6h.6M367.5 184.1h.6M364.1 194.1h.6M364.9 189.6h.6M366.4 192.2h.6M368.2 181.9h.6M366.1 190.6h.6M366.5 186.6h.6M370.6 183.4h.6M366.5 185.9h.6M365.4 185.2h.6M363.8 192.4h.6M366.0 182.6h.6M368.7 182.9h.6M364.7 185.2h.6M366.2 184.3h.6M365.6 189.9h.6M365.9 187.1h.6M367.4 188.1h.6M368.0 186.6h.6M365.3 193.1h.6M360.8 198.4h.6M366.4 187.0h.6M365.6 189.9h.6M364.8 187.9h.6M363.8 193.2h.6M363.4 189.9h.6M367.0 185.5h.6M366.8 187.5h.6M366.1 189.2h.6M368.4 187.4h.6M371.9 179.5h.6M367.0 193.5h.6M368.0 189.7h.6M368.0 184.8h.6M369.5 184.8h.6M365.4 188.0h.6M366.2 189.7h.6M365.4 186.6h.6M365.4 192.8h.6M366.8 190.2h.6M366.7 186.3h.6M365.9 187.8h.6M367.7 186.8h.6M370.2 185.7h.6M367.6 188.0h.6M366.7 186.9h.6M368.6 188.0h.6M366.9 189.0h.6M366.5 190.8h.6M369.3 186.5h.6M363.2 194.0h.6M367.8 189.2h.6M365.7 189.1h.6M368.9 186.2h.6M368.2 188.8h.6M366.4 186.8h.6M363.4 188.6h.6M365.5 185.8h.6M365.0 188.8h.6M367.2 188.8h.6M366.1 189.9h.6M367.6 191.1h.6M368.3 188.8h.6M367.6 186.2h.6M368.2 185.6h.6M367.8 186.3h.6M364.3 192.5h.6M365.5 191.2h.6M368.5 181.6h.6M368.4 188.4h.6M364.3 191.4h.6M365.9 185.2h.6M368.7 186.4h.6M368.1 187.8h.6M366.0 188.5h.6M364.4 191.9h.6M367.6 189.1h.6M366.4 190.5h.6M370.5 183.5h.6M366.4 192.0h.6M366.0 188.3h.6M364.3 192.6h.6M364.2 190.0h.6M367.2 190.9h.6M366.4 186.5h.6M365.1 183.8h.6M368.9 185.5h.6M364.7 186.8h.6M364.0 189.3h.6M364.1 191.3h.6M368.0 183.3h.6M366.3 185.7h.6M363.7 192.4h.6M364.7 189.2h.6M364.9 190.2h.6M366.6 182.2h.6M366.0 190.3h.6M365.6 187.6h.6M366.5 187.0h.6M367.0 188.6h.6M365.6 187.7h.6M367.6 187.7h.6M366.4 187.1h.6M366.8 187.6h.6M367.4 187.4h.6M365.2 188.6h.6M364.8 186.3h.6M366.4 188.7h.6M366.2 187.6h.6M364.9 193.4h.6M365.9 187.9h.6M365.8 188.9h.6M366.1 189.1h.6M367.6 188.3h.6M366.0 188.7h.6M367.9 188.3h.6M366.9 190.3h.6M365.1 186.3h.6M365.5 188.6h.6M367.2 188.7h.6M365.4 191.2h.6M365.6 191.3h.6M365.0 190.3h.6M367.2 185.0h.6M366.1 187.5h.6M366.0 189.3h.6M366.6 189.2h.6M365.0 190.5h.6M367.1 188.7h.6M366.0 188.1h.6M366.6 187.3h.6M366.7 187.4h.6M367.1 187.6h.6M366.5 188.9h.6M366.2 189.1h.6M364.5 191.5h.6M376.6 195.1h.6M377.4 188.3h.6M379.5 197.3h.6M377.1 194.1h.6M378.2 200.1h.6M378.6 189.8h.6M377.1 184.0h.6M377.7 195.9h.6M376.9 194.7h.6M377.5 188.1h.6M375.9 197.3h.6M380.4 194.0h.6M376.1 184.7h.6M377.7 194.6h.6M379.2 176.7h.6M379.6 191.8h.6M377.5 193.1h.6M377.0 189.1h.6M378.6 180.6h.6M377.2 194.1h.6M375.4 189.9h.6M379.2 193.0h.6M378.2 194.9h.6M377.7 192.9h.6M376.4 189.6h.6M379.6 183.6h.6M377.2 183.4h.6M376.7 186.3h.6M375.9 192.2h.6M376.3 193.9h.6M379.6 175.8h.6M377.2 178.5h.6M377.2 193.0h.6M377.6 197.9h.6M377.6 180.7h.6M379.2 185.2h.6M377.3 192.7h.6M376.3 191.3h.6M379.2 180.9h.6M375.4 188.2h.6M377.2 183.3h.6M374.6 196.2h.6M377.9 183.0h.6M378.1 190.4h.6M377.6 182.9h.6M377.1 193.6h.6M375.3 184.6h.6M378.6 202.5h.6M378.2 190.4h.6M376.1 188.4h.6M377.1 193.4h.6M379.0 177.8h.6M376.0 190.8h.6M378.6 193.2h.6M374.1 181.1h.6M379.0 194.3h.6M380.5 195.5h.6M377.9 199.8h.6M376.9 187.6h.6M376.2 192.2h.6M377.9 196.3h.6M379.1 194.5h.6M378.9 189.3h.6M376.2 195.1h.6M378.6 198.7h.6M377.2 188.0h.6M377.0 192.9h.6M377.3 189.7h.6M377.7 189.0h.6M377.8 187.2h.6M375.5 188.9h.6M379.7 186.0h.6M378.5 198.7h.6M376.7 192.3h.6M374.7 194.2h.6M379.2 191.9h.6M375.0 187.3h.6M376.5 191.4h.6M377.7 188.3h.6M377.0 185.9h.6M378.1 191.9h.6M377.8 187.8h.6M378.0 189.0h.6M377.8 189.8h.6M376.6 184.2h.6M375.2 182.6h.6M375.4 185.9h.6M377.2 183.8h.6M374.0 183.8h.6M378.9 183.8h.6M377.3 187.0h.6M378.3 182.1h.6M377.8 192.1h.6M378.1 193.3h.6M377.6 180.2h.6M377.0 185.1h.6M378.0 189.4h.6M377.6 197.3h.6M377.3 200.8h.6M378.4 181.9h.6M376.7 198.0h.6M376.8 197.9h.6M376.7 190.0h.6M378.6 181.3h.6M377.5 188.0h.6M377.6 201.0h.6M378.0 182.7h.6M378.6 188.0h.6M377.6 197.7h.6M377.0 196.5h.6M377.6 185.3h.6M377.0 182.6h.6M378.8 191.7h.6M378.6 184.1h.6M378.4 183.6h.6M377.7 190.6h.6M376.7 192.6h.6M377.4 185.5h.6M376.5 182.9h.6M379.0 191.6h.6M377.0 194.9h.6M376.4 183.8h.6M377.8 200.2h.6M377.8 191.6h.6M379.5 181.5h.6M381.1 184.1h.6M377.3 182.7h.6M375.9 189.3h.6M380.3 185.1h.6M376.7 192.3h.6M376.2 189.2h.6M378.4 177.6h.6M377.0 188.9h.6M376.8 190.0h.6M375.2 188.1h.6M376.8 184.5h.6M378.9 202.7h.6M378.4 185.5h.6M379.1 193.7h.6M376.4 194.3h.6M376.7 194.1h.6M378.5 197.6h.6M376.1 189.9h.6M377.4 183.4h.6M377.9 194.9h.6M375.7 187.4h.6M376.1 183.1h.6M376.1 199.0h.6M376.6 188.3h.6M378.6 196.9h.6M379.1 178.2h.6M378.3 180.2h.6M376.6 188.2h.6M376.7 202.5h.6M377.2 197.8h.6M377.2 190.3h.6M378.0 193.4h.6M378.0 180.3h.6M378.0 192.6h.6M378.1 190.4h.6M377.9 182.9h.6M378.8 183.4h.6M379.1 196.8h.6M377.3 188.9h.6M378.3 188.9h.6M376.0 192.4h.6M375.9 188.0h.6M379.6 195.6h.6M376.9 190.3h.6M376.6 190.6h.6M375.7 194.8h.6M377.4 187.0h.6M376.9 187.8h.6M376.7 187.7h.6M379.0 194.8h.6M377.9 192.9h.6M376.0 176.2h.6M379.2 195.0h.6M377.7 192.4h.6M377.6 190.8h.6M377.1 177.3h.6M378.1 191.0h.6M378.6 192.6h.6M377.1 194.3h.6M377.6 188.0h.6M376.9 188.1h.6M377.0 188.0h.6M377.3 197.5h.6M375.0 171.2h.6M376.8 189.8h.6M376.5 182.5h.6M376.4 187.6h.6M377.6 188.7h.6M376.0 188.5h.6M379.2 185.4h.6M377.5 196.8h.6M376.4 187.3h.6M380.9 198.2h.6M376.8 191.7h.6M377.5 191.6h.6M378.0 188.9h.6M374.7 184.9h.6M377.6 182.5h.6M377.0 199.8h.6M377.7 186.7h.6M377.6 197.0h.6M375.3 183.2h.6M376.6 188.1h.6M377.3 187.2h.6M377.5 191.2h.6M376.0 186.9h.6M375.9 192.4h.6M377.7 194.6h.6M376.3 187.5h.6M374.7 190.8h.6M375.5 192.8h.6M378.7 193.4h.6M378.2 192.1h.6M377.8 196.4h.6M378.9 202.9h.6M377.1 195.7h.6M378.4 193.3h.6M377.7 183.1h.6M378.7 185.4h.6M376.6 185.6h.6M378.1 184.9h.6M377.9 194.1h.6M377.5 188.7h.6M378.1 198.6h.6M376.8 184.4h.6M376.7 185.4h.6M377.1 189.8h.6M374.6 199.5h.6M376.4 188.1h.6M375.1 178.8h.6M376.2 192.1h.6M378.4 179.8h.6M377.7 199.8h.6M377.1 196.2h.6M377.8 185.1h.6M378.6 187.0h.6M377.8 188.3h.6M377.1 191.6h.6M379.0 180.6h.6M376.1 191.3h.6M378.6 189.6h.6M377.2 193.9h.6M379.3 185.3h.6M375.5 189.0h.6M378.3 182.8h.6M378.7 196.3h.6M378.3 185.6h.6M375.9 194.6h.6M377.7 194.8h.6M375.8 172.9h.6M378.7 196.7h.6M377.1 190.7h.6M377.9 195.2h.6M377.2 187.6h.6M376.2 196.9h.6M377.5 170.2h.6M377.8 187.3h.6M375.9 187.6h.6M375.9 188.0h.6M376.7 193.8h.6M376.2 179.8h.6M376.7 182.4h.6M378.3 189.5h.6M375.4 185.4h.6M377.4 190.5h.6M375.2 189.9h.6M377.8 196.6h.6M378.7 190.0h.6M375.8 188.4h.6M378.2 185.2h.6M378.9 184.9h.6M376.1 195.7h.6M377.3 192.6h.6M377.0 190.9h.6M376.7 202.1h.6M378.2 189.9h.6M378.0 195.7h.6M376.8 191.7h.6M377.6 187.3h.6M376.5 189.5h.6M377.0 188.2h.6M375.1 191.2h.6M378.2 191.1h.6M379.5 195.9h.6M377.0 186.6h.6M378.0 188.5h.6M375.5 191.4h.6M377.0 189.3h.6M378.1 191.9h.6M379.8 186.3h.6M377.3 192.5h.6M376.9 187.6h.6M379.5 182.0h.6M377.8 180.2h.6M377.8 179.2h.6M376.0 197.5h.6M379.2 191.5h.6M374.1 196.8h.6M377.7 184.1h.6M377.0 182.8h.6M377.3 190.2h.6M377.5 195.4h.6M376.6 177.5h.6M376.0 183.2h.6M377.0 188.1h.6M377.3 198.9h.6M377.4 184.2h.6M377.0 185.4h.6M377.1 194.2h.6M376.0 194.9h.6M379.5 199.8h.6M379.3 191.2h.6M375.8 202.7h.6M377.3 192.1h.6M377.0 185.1h.6M378.1 182.3h.6M375.8 194.0h.6M377.0 185.7h.6M378.0 199.2h.6M377.1 189.9h.6M378.1 196.3h.6M378.6 194.7h.6M376.6 193.9h.6M377.4 180.6h.6M378.9 194.1h.6M379.0 190.3h.6M378.3 190.3h.6M377.6 196.1h.6M377.5 194.3h.6M377.4 198.0h.6M378.2 180.8h.6M379.4 193.3h.6M376.8 187.0h.6M379.8 191.2h.6M378.0 194.3h.6M376.7 201.1h.6M379.9 186.1h.6M378.8 181.0h.6M377.0 191.1h.6M377.5 194.1h.6M377.9 192.9h.6M377.2 192.5h.6M376.7 202.4h.6M377.5 198.1h.6M377.5 189.8h.6M377.2 183.0h.6M379.9 193.2h.6M377.6 187.9h.6M378.9 188.7h.6M376.9 187.5h.6M379.2 192.6h.6M377.2 186.9h.6M378.9 192.4h.6M377.0 196.0h.6M378.4 184.8h.6M378.8 197.2h.6M377.1 182.8h.6M378.7 188.7h.6M377.2 189.0h.6M377.1 195.7h.6M376.1 193.9h.6M378.8 197.0h.6M378.3 192.3h.6M377.2 190.0h.6M376.4 200.6h.6M377.3 184.7h.6M378.4 199.7h.6M377.7 188.8h.6M376.1 194.5h.6M377.1 186.8h.6M378.1 183.1h.6M378.3 176.3h.6M376.7 182.3h.6M377.1 195.4h.6M375.9 198.8h.6M376.6 187.9h.6M378.6 186.4h.6M379.1 189.5h.6M377.3 185.0h.6M378.8 190.3h.6M376.8 185.1h.6M376.7 190.1h.6M376.6 195.4h.6M377.4 187.1h.6M378.0 199.1h.6M375.0 192.8h.6M378.7 191.5h.6M378.4 181.6h.6M376.5 196.7h.6M377.3 191.1h.6M378.2 192.9h.6M377.9 187.8h.6M377.1 198.4h.6M376.8 182.2h.6M377.0 196.0h.6M379.5 191.6h.6M376.7 194.3h.6M377.8 197.7h.6M378.0 195.1h.6M378.0 193.2h.6M376.3 189.8h.6M379.3 198.5h.6M378.6 193.0h.6M377.3 192.8h.6M377.0 197.1h.6M377.1 186.2h.6M375.5 199.9h.6M376.5 185.7h.6M377.9 201.3h.6M378.2 188.8h.6M378.1 185.9h.6M377.1 190.9h.6M377.4 195.3h.6M378.1 201.8h.6M378.4 189.1h.6M377.7 185.7h.6M376.7 188.7h.6M378.6 186.7h.6M375.6 184.8h.6M376.0 189.6h.6M377.1 183.9h.6M376.5 188.3h.6M377.9 194.3h.6M379.0 189.2h.6M378.2 191.2h.6M376.2 187.0h.6M380.0 189.8h.6M379.4 195.6h.6M379.4 189.6h.6M378.5 188.9h.6M376.1 183.9h.6M378.0 181.3h.6M377.9 185.6h.6M377.9 182.7h.6M378.4 189.4h.6M375.7 182.3h.6M377.5 181.1h.6M377.8 193.6h.6M376.7 198.9h.6M379.1 192.6h.6M378.0 193.5h.6M377.1 198.4h.6M376.8 176.0h.6M377.5 193.3h.6M378.4 184.2h.6M379.1 185.9h.6M378.2 195.0h.6M377.7 197.4h.6M376.9 202.7h.6M378.0 188.3h.6M380.5 190.7h.6M375.6 199.0h.6M379.2 187.3h.6M376.3 197.3h.6M377.5 185.1h.6M376.9 191.1h.6M378.6 199.9h.6M376.7 199.7h.6M375.7 194.9h.6M377.3 193.3h.6M376.9 186.5h.6M377.8 197.3h.6M374.9 191.0h.6M377.0 184.4h.6M375.9 193.7h.6M378.1 194.5h.6M375.1 181.8h.6M376.7 188.2h.6M379.5 188.5h.6M377.9 200.3h.6M379.6 198.0h.6M377.3 190.3h.6M376.9 195.6h.6M379.2 197.8h.6M379.1 197.1h.6M377.8 194.6h.6M376.4 198.5h.6M378.2 198.8h.6M377.2 195.2h.6M378.2 198.9h.6M380.0 193.6h.6M378.8 199.9h.6M377.5 197.2h.6M377.7 202.2h.6M380.6 197.9h.6M377.5 200.1h.6M378.3 196.0h.6M378.6 199.8h.6M377.3 199.8h.6M375.3 192.1h.6M377.4 197.3h.6M376.1 202.0h.6M377.3 197.3h.6M377.7 199.4h.6M377.1 199.4h.6M376.8 191.4h.6M378.3 197.3h.6M378.7 189.7h.6M377.9 194.4h.6M377.5 195.3h.6M377.3 194.3h.6M378.9 190.5h.6M375.9 197.9h.6M380.0 194.0h.6M376.7 192.5h.6M376.6 201.2h.6M378.5 200.0h.6M378.1 197.6h.6M377.1 193.2h.6M377.3 201.3h.6M377.0 196.8h.6M379.6 196.4h.6M378.5 194.7h.6M379.8 192.3h.6M378.4 195.8h.6M378.0 198.0h.6M379.2 199.9h.6M378.9 198.0h.6M376.6 201.5h.6M379.5 198.4h.6M378.6 195.9h.6M376.1 200.3h.6M378.5 196.6h.6M377.1 197.1h.6M376.6 195.4h.6M379.5 195.6h.6M379.8 196.4h.6M378.2 193.4h.6M377.4 195.1h.6M378.4 196.4h.6M376.5 196.8h.6M376.6 193.2h.6M375.8 198.7h.6M377.1 186.2h.6M376.2 196.2h.6M377.8 194.0h.6M379.7 198.6h.6M377.0 190.8h.6M377.9 194.3h.6M378.9 192.9h.6M379.1 195.0h.6M378.0 195.7h.6M378.4 200.9h.6M377.1 193.4h.6M379.9 200.2h.6M379.9 200.2h.6M377.9 202.6h.6M377.0 195.2h.6M377.3 199.2h.6M376.8 196.1h.6M376.8 195.9h.6M379.0 200.7h.6M377.0 198.4h.6M377.2 188.7h.6M376.4 201.2h.6M377.6 197.7h.6M379.1 196.8h.6M377.0 194.5h.6M376.7 198.7h.6M377.2 198.6h.6M376.1 195.1h.6M380.0 198.0h.6M377.6 201.0h.6M378.0 202.3h.6M376.4 199.5h.6M376.6 199.2h.6M380.5 202.3h.6M376.8 198.2h.6M378.2 194.1h.6M378.0 192.8h.6M378.8 200.0h.6M377.6 199.2h.6M380.4 196.1h.6M375.6 197.9h.6M377.2 193.9h.6M378.7 200.3h.6M378.4 202.6h.6M377.0 195.2h.6M378.2 186.9h.6M374.7 198.0h.6M377.5 196.9h.6M376.7 197.5h.6M378.9 194.4h.6M378.4 196.1h.6M377.6 197.1h.6M379.4 198.6h.6M378.5 197.3h.6M375.3 200.1h.6M377.7 197.1h.6M377.2 191.1h.6M379.5 190.0h.6M378.3 192.4h.6M377.5 194.8h.6M377.0 193.9h.6M377.2 199.5h.6M379.5 200.1h.6M377.7 196.2h.6M377.5 196.6h.6M377.0 196.1h.6M378.7 195.9h.6M376.8 196.3h.6M377.8 196.4h.6M377.4 199.3h.6M377.7 193.0h.6M378.4 194.1h.6M378.6 199.7h.6M378.3 197.8h.6M376.2 196.0h.6M377.9 199.0h.6M376.5 196.1h.6M376.0 197.4h.6M377.8 197.2h.6M379.6 199.4h.6M377.5 194.6h.6M377.2 199.6h.6M378.7 194.9h.6M377.6 195.1h.6M378.5 197.4h.6M376.9 193.5h.6M379.2 191.6h.6M375.7 185.5h.6M374.9 176.9h.6M371.9 180.6h.6M371.9 182.6h.6M368.6 178.6h.6M372.3 180.6h.6M367.8 176.1h.6M366.1 179.6h.6M368.4 173.4h.6M368.3 179.8h.6M370.2 177.9h.6M370.2 181.0h.6M366.7 175.9h.6M372.2 181.2h.6M366.2 176.2h.6M373.4 181.3h.6M369.4 182.2h.6M373.2 183.6h.6M366.2 174.2h.6M368.4 178.5h.6M368.8 179.5h.6M373.5 182.5h.6M372.3 178.7h.6M374.0 180.3h.6M370.4 178.6h.6M365.1 186.1h.6M369.7 181.8h.6M375.5 178.1h.6M366.8 182.2h.6M370.4 175.5h.6M372.2 178.7h.6M376.3 201.4h.6M368.1 182.0h.6M366.2 188.9h.6M354.4 199.6h.6M384.9 168.8h.6M353.9 178.7h.6M358.5 194.6h.6M382.1 186.8h.6M384.6 175.7h.6M360.1 181.1h.6" stroke="#0a0a0a" stroke-width="0.7" opacity="0.92" fill="none"/>
<path d="M353.7 204.8v1.6M350.1 167.7h1.4M362.0 204.8v1.6M350.1 176.4h1.4M370.3 204.8v1.6M350.1 185.1h1.4M378.6 204.8v1.6M350.1 193.9h1.4M386.9 204.8v1.6M350.1 202.6h1.4" stroke="#888" stroke-width="0.6" fill="none" opacity="0.6"/>
<rect x="352.7" y="166.7" width="35.2" height="36.9" fill="none" stroke="#1a1a1a" stroke-width="0.85"/>
<line x1="372.3" y1="166.7" x2="372.3" y2="203.6" stroke="#222" stroke-width="0.7"/>
<line x1="352.7" y1="186.3" x2="387.9" y2="186.3" stroke="#222" stroke-width="0.7"/>
<text x="386.7" y="171.9" font-size="5" font-weight="bold" text-anchor="end" fill="#111">4</text>
<path d="M364.4 248.1h.6M369.5 245.7h.6M363.9 250.5h.6M363.2 251.6h.6M367.5 241.3h.6M366.5 247.6h.6M364.1 251.8h.6M367.9 247.3h.6M369.3 240.1h.6M363.9 248.0h.6M369.1 242.3h.6M366.9 248.3h.6M368.0 247.3h.6M369.4 244.3h.6M364.8 243.3h.6M365.8 249.9h.6M362.8 247.0h.6M363.1 254.8h.6M365.7 250.4h.6M362.7 248.1h.6M363.6 245.2h.6M367.2 243.8h.6M364.6 246.5h.6M367.9 245.8h.6M364.6 250.8h.6M361.7 255.1h.6M366.8 244.8h.6M360.8 250.5h.6M367.0 247.6h.6M366.4 247.6h.6M367.0 248.4h.6M366.2 247.7h.6M369.1 238.6h.6M369.1 243.5h.6M364.9 250.6h.6M369.9 246.4h.6M363.9 251.6h.6M366.0 245.1h.6M362.0 256.1h.6M365.2 252.3h.6M363.0 249.6h.6M369.9 243.9h.6M366.1 247.1h.6M370.3 241.6h.6M366.7 248.4h.6M369.8 239.5h.6M364.0 244.2h.6M365.7 249.9h.6M370.3 241.9h.6M363.2 253.1h.6M362.2 249.1h.6M363.6 249.4h.6M369.3 241.7h.6M361.6 251.9h.6M363.0 252.5h.6M364.3 251.5h.6M364.7 248.4h.6M363.3 251.0h.6M362.6 251.6h.6M370.4 244.4h.6M364.3 249.8h.6M365.8 253.6h.6M369.4 241.3h.6M368.1 246.2h.6M365.1 249.5h.6M361.5 250.8h.6M365.8 250.7h.6M365.8 249.6h.6M364.8 244.8h.6M367.5 247.2h.6M365.0 249.3h.6M365.3 248.9h.6M366.4 248.2h.6M364.7 246.0h.6M368.5 246.0h.6M365.7 249.3h.6M370.4 236.4h.6M367.3 244.8h.6M362.9 250.9h.6M363.9 248.6h.6M365.5 248.7h.6M372.6 241.8h.6M367.4 248.0h.6M366.7 245.1h.6M365.7 248.0h.6M361.0 253.4h.6M365.0 246.7h.6M363.6 247.4h.6M364.0 252.2h.6M368.1 246.7h.6M368.2 248.6h.6M364.3 255.5h.6M367.4 243.4h.6M363.5 253.7h.6M364.0 252.3h.6M364.7 251.7h.6M368.2 247.7h.6M364.0 246.3h.6M367.1 242.7h.6M364.0 250.4h.6M366.3 240.7h.6M368.7 245.0h.6M362.4 252.7h.6M366.5 250.0h.6M372.1 237.9h.6M365.7 249.7h.6M363.4 247.5h.6M366.6 247.7h.6M365.0 251.8h.6M366.3 246.9h.6M361.7 251.3h.6M364.3 248.6h.6M366.2 251.9h.6M364.1 246.5h.6M368.1 241.0h.6M363.4 249.4h.6M366.6 247.3h.6M368.4 243.5h.6M365.0 246.6h.6M367.5 247.2h.6M364.8 249.0h.6M370.4 244.1h.6M366.1 248.9h.6M365.1 248.7h.6M362.9 246.4h.6M368.0 242.9h.6M367.1 248.0h.6M363.7 250.4h.6M365.9 244.4h.6M365.0 251.7h.6M369.5 247.6h.6M366.8 241.1h.6M363.8 247.3h.6M366.8 245.1h.6M365.8 244.4h.6M362.7 252.1h.6M363.7 253.5h.6M365.3 251.3h.6M366.4 250.4h.6M365.5 253.3h.6M367.8 250.0h.6M359.4 256.8h.6M364.2 249.6h.6M366.6 244.9h.6M368.6 243.9h.6M362.6 253.1h.6M364.2 251.0h.6M365.8 249.8h.6M364.6 250.2h.6M363.2 249.3h.6M365.8 244.1h.6M367.7 242.3h.6M362.2 247.8h.6M365.0 250.7h.6M368.4 250.2h.6M368.3 245.5h.6M369.1 244.0h.6M370.4 245.6h.6M363.6 250.3h.6M359.9 251.2h.6M364.0 247.8h.6M366.7 249.1h.6M368.0 246.6h.6M371.0 240.0h.6M369.2 246.4h.6M364.5 247.2h.6M369.5 246.4h.6M366.4 246.4h.6M367.1 242.1h.6M365.1 250.9h.6M364.2 248.1h.6M365.5 249.6h.6M365.4 247.9h.6M368.3 244.0h.6M363.9 250.7h.6M362.2 252.4h.6M367.7 243.4h.6M368.1 242.4h.6M369.9 242.2h.6M366.2 246.9h.6M364.4 249.2h.6M367.3 245.9h.6M367.8 246.7h.6M364.2 253.6h.6M364.3 251.6h.6M362.7 248.9h.6M364.0 246.0h.6M372.2 238.1h.6M366.2 244.3h.6M364.4 247.2h.6M369.0 243.9h.6M368.7 240.3h.6M369.1 239.3h.6M362.6 248.4h.6M368.6 245.4h.6M367.8 245.1h.6M363.6 255.3h.6M364.1 242.7h.6M365.8 245.5h.6M364.6 255.0h.6M364.4 250.2h.6M364.1 245.5h.6M365.6 247.0h.6M369.4 242.1h.6M359.8 255.1h.6M363.2 246.7h.6M365.7 250.2h.6M369.1 241.7h.6M368.3 241.5h.6M367.7 250.7h.6M366.3 249.1h.6M362.7 252.0h.6M365.6 250.9h.6M365.0 251.1h.6M364.4 249.2h.6M366.3 246.9h.6M362.2 256.4h.6M359.9 251.7h.6M362.6 252.0h.6M364.7 246.3h.6M367.3 248.3h.6M368.7 243.5h.6M360.7 253.3h.6M366.1 247.6h.6M365.9 242.8h.6M364.4 246.8h.6M366.8 245.4h.6M364.5 247.7h.6M370.2 243.4h.6M361.4 251.0h.6M364.6 245.2h.6M362.1 254.8h.6M368.9 235.2h.6M363.4 251.8h.6M367.6 244.8h.6M370.2 240.1h.6M363.8 254.1h.6M363.7 250.8h.6M361.2 252.6h.6M366.5 244.3h.6M368.3 240.5h.6M362.5 255.9h.6M364.1 246.0h.6M367.5 246.0h.6M362.8 247.9h.6M366.9 249.0h.6M364.8 245.8h.6M363.1 246.1h.6M365.1 253.0h.6M364.7 249.4h.6M364.7 247.9h.6M364.5 248.0h.6M364.6 248.2h.6M366.7 248.3h.6M362.9 248.7h.6M366.4 245.7h.6M368.2 245.0h.6M365.8 250.6h.6M366.2 244.6h.6M367.4 244.3h.6M371.7 239.9h.6M366.6 246.6h.6M362.9 249.4h.6M364.1 249.2h.6M365.7 246.4h.6M364.4 251.8h.6M367.1 248.5h.6M368.5 247.6h.6M367.7 239.7h.6M365.5 243.4h.6M362.6 247.7h.6M365.8 247.7h.6M366.3 247.6h.6M366.0 246.4h.6M368.1 243.5h.6M364.3 254.6h.6M361.0 256.5h.6M362.5 250.5h.6M362.2 248.9h.6M362.6 251.1h.6M365.1 249.0h.6M365.7 248.7h.6M364.5 249.7h.6M365.6 248.5h.6M366.7 248.0h.6M366.0 249.7h.6M366.7 246.0h.6M366.6 247.8h.6M365.7 248.0h.6M365.8 248.9h.6M365.0 246.4h.6M365.8 248.1h.6M365.8 248.8h.6M367.2 247.4h.6M366.2 248.7h.6M365.4 248.8h.6M365.0 248.6h.6M365.1 248.6h.6M364.4 249.0h.6M365.2 246.5h.6M365.5 248.1h.6M365.5 247.0h.6M365.1 249.2h.6M366.8 247.6h.6M365.9 247.4h.6M365.1 246.7h.6M367.3 246.5h.6M366.8 250.0h.6M366.6 248.6h.6M364.0 247.6h.6M367.1 247.6h.6M366.0 249.2h.6M365.7 249.0h.6M365.6 248.8h.6M366.1 248.7h.6M365.8 248.5h.6M366.4 246.8h.6M365.3 246.0h.6M366.0 245.6h.6M366.3 247.6h.6M377.1 250.2h.6M377.0 251.6h.6M380.7 262.3h.6M381.4 257.8h.6M380.2 260.9h.6M379.5 256.5h.6M373.8 250.6h.6M376.6 251.7h.6M372.5 243.9h.6M375.4 252.7h.6M375.4 247.7h.6M379.6 261.3h.6M373.6 243.6h.6M376.4 252.9h.6M379.0 253.0h.6M379.4 253.6h.6M380.8 258.4h.6M379.5 252.8h.6M375.1 254.4h.6M376.3 249.3h.6M377.7 251.6h.6M378.3 253.2h.6M377.0 258.2h.6M381.4 255.9h.6M374.3 244.7h.6M377.2 252.5h.6M372.2 244.4h.6M379.1 257.1h.6M374.3 255.5h.6M379.1 259.4h.6M375.0 248.3h.6M377.4 254.9h.6M374.2 249.6h.6M378.6 256.7h.6M377.2 255.2h.6M375.4 251.5h.6M378.7 257.2h.6M379.0 251.3h.6M380.8 261.7h.6M377.4 250.7h.6M375.0 246.0h.6M372.2 250.5h.6M373.3 247.0h.6M377.6 250.1h.6M377.0 253.1h.6M374.4 247.5h.6M376.4 242.5h.6M377.9 256.1h.6M376.2 252.5h.6M377.6 253.7h.6M378.0 258.0h.6M380.1 259.5h.6M373.5 243.5h.6M373.3 251.4h.6M374.7 245.0h.6M378.0 258.9h.6M376.0 249.3h.6M376.8 253.4h.6M375.5 251.6h.6M376.1 254.2h.6M381.7 258.7h.6M374.2 246.4h.6M374.7 254.3h.6M376.0 249.7h.6M375.1 252.3h.6M378.3 255.8h.6M373.6 241.4h.6M376.3 254.4h.6M378.7 256.3h.6M377.1 261.0h.6M374.5 252.6h.6M375.2 250.9h.6M376.9 257.1h.6M378.6 254.0h.6M373.7 250.6h.6M377.3 254.7h.6M375.4 251.9h.6M380.9 251.6h.6M372.1 241.6h.6M378.3 260.8h.6M376.0 246.8h.6M378.3 253.2h.6M376.9 257.0h.6M375.3 251.8h.6M377.1 253.8h.6M376.6 254.4h.6M377.1 253.7h.6M376.3 249.6h.6M374.5 253.3h.6M379.2 253.7h.6M375.8 249.2h.6M372.9 247.7h.6M374.7 251.6h.6M374.1 253.1h.6M375.4 256.7h.6M373.7 244.7h.6M376.3 254.2h.6M378.6 256.2h.6M375.9 252.3h.6M377.3 255.5h.6M375.4 252.5h.6M376.4 251.1h.6M377.4 259.7h.6M376.0 248.3h.6M378.5 248.2h.6M374.8 251.6h.6M380.1 259.5h.6M379.8 254.6h.6M378.0 255.9h.6M374.3 250.0h.6M377.9 253.5h.6M375.4 248.0h.6M374.7 246.0h.6M378.2 252.4h.6M374.9 251.0h.6M378.0 259.6h.6M374.2 259.7h.6M377.2 254.0h.6M373.0 247.3h.6M376.4 250.6h.6M379.3 257.5h.6M377.5 255.4h.6M377.4 253.8h.6M376.3 254.2h.6M377.5 252.9h.6M373.6 246.3h.6M377.8 260.7h.6M378.8 253.6h.6M376.9 252.0h.6M379.4 256.9h.6M376.9 254.4h.6M375.5 244.9h.6M374.3 250.7h.6M374.2 251.4h.6M374.8 251.5h.6M375.5 247.1h.6M379.2 259.2h.6M375.0 247.0h.6M377.8 258.6h.6M375.3 250.1h.6M376.7 249.1h.6M376.1 256.3h.6M375.7 249.8h.6M379.3 257.7h.6M378.6 252.7h.6M378.3 254.9h.6M377.3 261.4h.6M374.8 250.6h.6M373.8 248.8h.6M378.4 252.2h.6M372.8 244.6h.6M376.9 252.5h.6M375.0 253.0h.6M375.0 256.9h.6M375.7 255.8h.6M373.3 242.9h.6M373.9 250.4h.6M379.0 255.2h.6M380.6 260.3h.6M375.4 250.6h.6M372.1 249.1h.6M376.2 248.6h.6M377.0 257.8h.6M375.3 260.7h.6M375.7 243.8h.6M377.5 252.5h.6M377.6 250.7h.6M379.0 259.5h.6M376.5 255.1h.6M377.5 251.9h.6M379.0 254.8h.6M375.1 244.4h.6M375.7 254.8h.6M381.0 258.8h.6M375.5 249.4h.6M371.8 244.4h.6M377.0 255.8h.6M374.1 246.0h.6M376.7 253.1h.6M378.1 260.0h.6M379.3 257.7h.6M375.3 248.3h.6M380.3 257.4h.6M373.6 247.0h.6M377.0 249.7h.6M374.8 253.1h.6M376.3 249.0h.6M378.5 257.4h.6M375.3 245.2h.6M380.9 260.7h.6M378.0 251.9h.6M374.6 245.3h.6M375.0 250.7h.6M379.9 251.7h.6M378.1 261.3h.6M375.8 244.5h.6M373.6 245.1h.6M374.5 241.7h.6M377.8 246.9h.6M378.2 254.2h.6M376.4 247.7h.6M377.6 251.0h.6M377.9 253.6h.6M376.7 246.1h.6M375.7 256.7h.6M381.3 254.1h.6M377.6 256.1h.6M375.1 253.9h.6M374.4 254.3h.6M380.8 260.4h.6M377.6 257.5h.6M377.0 247.2h.6M373.2 244.3h.6M376.2 255.4h.6M373.1 252.6h.6M380.3 259.1h.6M373.6 256.0h.6M371.9 242.4h.6M376.2 256.2h.6M377.9 256.1h.6M377.4 256.1h.6M373.6 248.8h.6M373.5 244.8h.6M378.2 251.0h.6M373.8 249.4h.6M375.5 254.0h.6M377.7 257.1h.6M374.9 253.1h.6M373.7 251.5h.6M378.6 251.5h.6M378.0 252.1h.6M373.6 249.3h.6M375.6 255.1h.6M380.7 255.9h.6M375.5 253.9h.6M377.6 258.7h.6M376.0 257.2h.6M374.1 251.3h.6M377.2 253.4h.6M376.5 252.6h.6M375.2 252.8h.6M375.0 248.5h.6M377.9 253.3h.6M377.8 259.4h.6M372.6 244.2h.6M378.0 250.4h.6M379.7 254.1h.6M377.3 258.6h.6M379.0 256.9h.6M379.5 260.1h.6M377.6 250.7h.6M374.4 253.5h.6M375.2 248.2h.6M379.0 260.0h.6M377.9 258.4h.6M373.7 248.8h.6M377.9 251.5h.6M378.8 257.5h.6M377.1 246.1h.6M378.0 253.6h.6M380.0 261.2h.6M375.4 250.2h.6M374.0 243.0h.6M375.8 248.4h.6M376.0 249.2h.6M377.1 251.4h.6M376.6 255.8h.6M375.1 244.9h.6M374.3 252.3h.6M378.4 259.3h.6M380.0 254.2h.6M377.9 250.7h.6M375.2 255.0h.6M376.8 261.5h.6M379.1 258.2h.6M373.0 245.6h.6M377.3 255.2h.6M375.5 250.6h.6M376.5 251.9h.6M376.6 245.9h.6M373.2 253.6h.6M374.5 245.5h.6M377.4 254.9h.6M377.8 254.1h.6M373.1 246.4h.6M377.6 250.6h.6M377.3 260.9h.6M373.0 239.2h.6M380.9 252.1h.6M375.9 258.2h.6M379.4 258.5h.6M373.9 245.0h.6M375.7 250.9h.6M376.9 251.8h.6M375.5 246.8h.6M375.0 250.7h.6M374.4 244.6h.6M375.8 258.7h.6M378.6 257.4h.6M377.3 254.0h.6M378.1 254.8h.6M374.7 252.9h.6M382.0 258.5h.6M373.8 248.8h.6M378.3 257.9h.6M377.1 249.5h.6M373.0 253.9h.6M376.2 259.4h.6M380.1 255.2h.6M378.6 255.2h.6M381.4 256.9h.6M377.0 246.6h.6M375.9 253.1h.6M372.8 252.7h.6M376.6 252.5h.6M380.2 250.5h.6M376.2 252.4h.6M373.8 246.3h.6M378.5 252.3h.6M377.3 252.8h.6M372.8 245.7h.6M377.2 255.5h.6M377.8 256.3h.6M375.0 251.9h.6M376.8 252.3h.6M379.5 259.5h.6M376.3 253.7h.6M376.7 255.7h.6M375.8 249.2h.6M373.1 247.7h.6M376.5 253.7h.6M375.8 252.6h.6M377.3 253.8h.6M380.4 253.5h.6M376.8 250.1h.6M377.2 256.8h.6M374.7 250.0h.6M374.9 255.0h.6M377.5 255.4h.6M370.9 234.0h.6M377.3 238.4h.6M376.3 234.3h.6M369.5 229.5h.6M374.7 241.8h.6M378.0 244.5h.6M367.8 234.5h.6M372.0 235.6h.6M373.0 235.5h.6M368.9 238.2h.6M374.1 235.6h.6M373.8 233.8h.6M372.6 237.1h.6M372.2 238.0h.6M369.6 233.6h.6M371.0 240.9h.6M370.6 235.1h.6M380.2 237.4h.6M372.5 235.2h.6M378.5 240.1h.6M374.6 243.8h.6M369.8 232.5h.6M377.3 239.8h.6M372.0 241.1h.6M373.4 245.1h.6M369.6 239.6h.6M376.9 241.4h.6M372.5 236.9h.6M372.3 240.7h.6M372.4 237.8h.6M377.1 237.9h.6M374.5 237.9h.6M373.7 230.6h.6M370.6 239.6h.6M371.6 236.2h.6M373.9 246.3h.6M371.2 235.0h.6M367.8 239.9h.6M373.5 235.4h.6M372.4 241.7h.6M377.0 239.6h.6M377.5 241.8h.6M372.2 241.1h.6M374.2 241.0h.6M374.6 245.7h.6M369.6 239.6h.6M370.2 246.4h.6M372.0 237.0h.6M373.6 238.1h.6M379.3 238.1h.6M374.5 242.0h.6M378.6 235.0h.6M374.7 233.7h.6M375.3 243.2h.6M372.0 237.3h.6M377.6 239.8h.6M376.3 236.7h.6M372.7 237.0h.6M378.8 233.1h.6M372.0 243.7h.6M373.5 234.5h.6M374.5 237.5h.6M373.3 240.0h.6M376.3 233.1h.6M374.4 243.5h.6M369.3 238.0h.6M369.9 240.6h.6M370.9 237.1h.6M372.3 239.9h.6M369.4 233.4h.6M374.3 243.1h.6M372.0 239.8h.6M374.6 238.7h.6M373.6 236.4h.6M372.9 242.5h.6M375.2 242.8h.6M371.3 238.7h.6M371.6 233.7h.6M376.6 237.3h.6M374.5 233.3h.6M372.9 237.9h.6M372.4 241.9h.6M375.2 238.8h.6M374.4 236.7h.6M371.4 237.3h.6M370.4 237.7h.6M373.3 242.3h.6M372.3 246.8h.6M372.0 238.8h.6M373.6 236.1h.6M373.5 232.1h.6M377.3 236.3h.6M373.6 231.9h.6M375.5 233.8h.6M378.1 234.6h.6M371.3 240.6h.6M377.9 231.3h.6M368.2 244.0h.6M375.1 233.0h.6M372.3 240.8h.6M363.2 251.1h.6M368.8 235.0h.6M358.5 255.4h.6M359.9 233.2h.6M371.1 229.2h.6M366.9 234.4h.6M381.8 246.5h.6M369.8 243.6h.6M354.3 256.6h.6M384.6 227.6h.6" stroke="#0a0a0a" stroke-width="0.7" opacity="0.92" fill="none"/>
<path d="M353.7 264.2v1.6M350.1 227.3h1.4M362.0 264.2v1.6M350.1 236.0h1.4M370.3 264.2v1.6M350.1 244.7h1.4M378.6 264.2v1.6M350.1 253.3h1.4M386.9 264.2v1.6M350.1 262.0h1.4" stroke="#888" stroke-width="0.6" fill="none" opacity="0.6"/>
<rect x="352.7" y="226.3" width="35.2" height="36.7" fill="none" stroke="#1a1a1a" stroke-width="0.85"/>
<line x1="372.3" y1="226.3" x2="372.3" y2="263.0" stroke="#222" stroke-width="0.7"/>
<line x1="352.7" y1="245.0" x2="387.9" y2="245.0" stroke="#222" stroke-width="0.7"/>
<text x="386.7" y="231.5" font-size="5" font-weight="bold" text-anchor="end" fill="#111">4</text>
<path d="M405.5 183.5h.6M411.0 178.6h.6M410.6 182.4h.6M407.8 198.3h.6M409.4 186.7h.6M408.5 184.8h.6M406.4 187.6h.6M402.4 188.3h.6M407.7 182.3h.6M406.3 189.5h.6M405.8 188.2h.6M405.3 186.9h.6M405.0 189.7h.6M405.3 189.2h.6M404.3 187.1h.6M409.4 183.8h.6M408.0 183.3h.6M407.2 190.2h.6M407.6 192.7h.6M409.6 184.2h.6M406.9 189.1h.6M408.6 181.5h.6M407.8 198.0h.6M409.5 176.1h.6M409.8 186.6h.6M411.2 183.2h.6M407.2 190.3h.6M405.5 185.1h.6M407.3 189.8h.6M409.9 176.1h.6M403.6 187.7h.6M410.7 180.9h.6M406.9 190.9h.6M407.2 180.0h.6M407.9 185.1h.6M407.2 186.0h.6M406.8 188.1h.6M406.5 186.6h.6M407.2 183.1h.6M408.4 183.5h.6M407.9 186.9h.6M408.2 189.6h.6M404.5 186.2h.6M408.0 187.5h.6M406.3 191.4h.6M409.2 181.5h.6M406.5 191.1h.6M408.5 181.6h.6M407.7 189.6h.6M408.6 187.9h.6M406.6 190.5h.6M404.2 193.7h.6M407.5 187.9h.6M407.6 190.4h.6M403.4 190.1h.6M407.7 183.6h.6M407.6 191.1h.6M408.2 184.4h.6M408.1 182.9h.6M411.2 184.8h.6M407.0 193.9h.6M406.5 184.4h.6M404.3 185.2h.6M405.3 187.2h.6M406.9 186.9h.6M407.6 184.9h.6M407.4 186.6h.6M406.5 185.4h.6M407.5 181.3h.6M408.7 179.1h.6M407.9 186.9h.6M406.4 191.8h.6M408.9 185.3h.6M406.7 191.9h.6M406.7 188.4h.6M408.6 182.7h.6M407.9 185.3h.6M406.5 188.6h.6M408.8 183.3h.6M407.0 186.0h.6M405.6 188.2h.6M407.5 183.9h.6M408.5 186.8h.6M405.7 186.2h.6M406.7 188.1h.6M409.8 189.8h.6M409.3 186.6h.6M407.4 189.1h.6M406.8 187.9h.6M406.0 189.6h.6M404.5 193.8h.6M403.3 180.1h.6M406.7 188.4h.6M408.8 180.2h.6M408.5 183.3h.6M407.8 185.2h.6M408.1 180.5h.6M405.9 184.2h.6M405.5 187.6h.6M405.1 187.4h.6M408.6 183.9h.6M406.2 185.2h.6M407.1 192.9h.6M410.0 187.8h.6M407.9 187.9h.6M408.1 182.4h.6M405.8 191.4h.6M409.6 184.7h.6M403.4 194.3h.6M406.8 188.8h.6M408.5 179.3h.6M408.4 182.9h.6M407.3 184.2h.6M404.8 196.8h.6M410.9 179.1h.6M405.5 184.3h.6M405.6 189.9h.6M409.9 184.3h.6M408.1 186.2h.6M403.5 191.2h.6M410.3 183.9h.6M408.5 184.9h.6M407.4 184.9h.6M407.0 187.0h.6M406.1 187.9h.6M404.7 189.9h.6M407.5 178.8h.6M408.6 185.7h.6M405.7 190.5h.6M405.5 195.0h.6M409.0 181.0h.6M407.1 183.9h.6M405.4 193.8h.6M409.4 194.8h.6M407.3 189.3h.6M409.3 177.7h.6M407.4 195.6h.6M406.5 186.6h.6M406.4 185.8h.6M407.0 181.9h.6M410.5 179.1h.6M409.6 182.4h.6M408.5 178.4h.6M408.9 182.9h.6M411.4 183.7h.6M407.0 189.7h.6M406.6 183.1h.6M405.3 188.9h.6M406.7 191.2h.6M406.0 182.6h.6M407.4 185.0h.6M406.7 191.7h.6M408.0 183.6h.6M407.7 183.9h.6M404.7 194.5h.6M406.6 194.7h.6M407.0 186.5h.6M405.3 187.5h.6M407.6 190.0h.6M405.5 187.0h.6M408.8 185.2h.6M408.6 185.0h.6M407.7 184.4h.6M405.9 183.0h.6M407.7 185.7h.6M407.7 184.5h.6M408.5 186.4h.6M408.1 185.0h.6M409.0 186.8h.6M405.9 196.2h.6M409.1 180.5h.6M406.0 188.0h.6M406.6 180.3h.6M408.4 180.2h.6M408.3 189.0h.6M405.7 191.8h.6M407.3 181.7h.6M408.4 187.2h.6M406.0 191.1h.6M406.5 189.5h.6M406.5 191.8h.6M408.3 185.1h.6M409.5 185.8h.6M410.6 182.1h.6M409.2 177.5h.6M406.8 192.6h.6M406.3 188.7h.6M405.7 192.8h.6M407.3 188.5h.6M410.0 180.8h.6M408.0 187.6h.6M408.9 187.4h.6M408.1 186.8h.6M406.3 184.5h.6M408.1 181.3h.6M407.5 184.9h.6M409.9 186.4h.6M407.3 187.3h.6M409.5 180.3h.6M403.5 193.0h.6M406.8 182.9h.6M408.5 188.5h.6M405.5 189.8h.6M404.3 193.4h.6M406.5 188.2h.6M405.6 194.9h.6M406.0 186.2h.6M411.8 179.0h.6M406.3 187.9h.6M406.5 188.7h.6M409.7 182.5h.6M405.2 192.2h.6M412.1 176.3h.6M407.1 191.2h.6M407.0 183.1h.6M405.8 185.7h.6M405.0 189.5h.6M405.8 188.9h.6M404.3 190.2h.6M407.3 191.0h.6M405.6 196.6h.6M408.5 187.4h.6M409.7 185.8h.6M406.0 193.8h.6M406.6 186.8h.6M407.4 187.7h.6M406.0 191.1h.6M410.5 185.9h.6M405.6 184.5h.6M406.4 181.2h.6M404.9 191.0h.6M406.8 189.9h.6M406.2 191.1h.6M405.5 192.2h.6M408.2 188.1h.6M406.1 181.9h.6M408.4 182.6h.6M407.1 186.2h.6M409.6 184.4h.6M407.8 185.0h.6M405.8 188.5h.6M409.7 181.2h.6M407.4 196.6h.6M407.0 189.1h.6M406.1 184.9h.6M407.7 186.6h.6M409.8 183.6h.6M406.4 189.0h.6M407.3 185.9h.6M406.7 188.6h.6M402.4 197.2h.6M409.1 182.7h.6M406.9 181.9h.6M409.4 179.3h.6M411.0 185.3h.6M403.5 195.1h.6M406.8 189.0h.6M407.2 185.8h.6M411.7 179.3h.6M408.2 183.9h.6M406.8 186.6h.6M404.2 189.0h.6M407.0 189.3h.6M405.8 189.8h.6M405.9 190.0h.6M408.5 189.9h.6M405.2 186.8h.6M404.2 194.7h.6M408.5 181.7h.6M404.0 192.0h.6M405.5 188.3h.6M406.9 186.2h.6M406.6 186.8h.6M410.1 183.7h.6M407.5 189.1h.6M407.2 182.2h.6M405.5 189.1h.6M406.6 191.2h.6M407.6 187.5h.6M407.0 187.9h.6M406.7 189.7h.6M405.1 191.1h.6M409.5 187.0h.6M409.0 182.2h.6M408.5 181.0h.6M408.5 187.4h.6M407.7 191.9h.6M405.5 190.1h.6M407.4 196.5h.6M406.6 189.2h.6M405.8 189.4h.6M406.8 193.1h.6M406.9 187.1h.6M408.0 186.4h.6M411.9 178.3h.6M405.3 184.4h.6M408.1 187.2h.6M409.0 180.8h.6M407.6 189.3h.6M408.7 190.8h.6M417.1 187.2h.6M416.5 188.8h.6M417.7 199.4h.6M419.8 192.2h.6M418.5 190.7h.6M416.3 195.0h.6M416.9 181.9h.6M416.8 200.8h.6M416.4 200.0h.6M416.2 191.3h.6M418.4 189.3h.6M416.6 191.8h.6M419.8 195.7h.6M418.0 195.2h.6M419.2 199.8h.6M417.5 186.4h.6M416.6 192.1h.6M417.5 191.8h.6M417.0 200.4h.6M416.8 187.0h.6M416.4 185.1h.6M415.8 186.7h.6M417.5 196.0h.6M415.7 194.4h.6M417.7 191.7h.6M415.2 194.7h.6M418.6 198.7h.6M417.5 199.3h.6M417.9 186.2h.6M418.4 197.7h.6M418.1 191.5h.6M417.5 195.8h.6M415.6 193.6h.6M416.3 188.6h.6M418.1 199.2h.6M417.8 186.1h.6M421.1 193.7h.6M414.6 191.2h.6M416.9 188.1h.6M417.9 183.6h.6M418.9 192.3h.6M417.3 193.0h.6M416.4 192.9h.6M418.2 199.0h.6M420.2 187.9h.6M418.3 186.9h.6M418.0 198.7h.6M418.6 190.0h.6M420.0 197.1h.6M419.3 192.2h.6M419.4 190.9h.6M418.9 192.0h.6M417.8 182.4h.6M419.0 195.2h.6M417.1 192.1h.6M418.5 195.6h.6M415.3 200.8h.6M419.2 192.6h.6M418.1 193.5h.6M417.3 200.9h.6M417.0 188.5h.6M417.5 182.1h.6M419.1 184.6h.6M419.6 197.5h.6M420.3 188.1h.6M417.4 189.0h.6M418.8 186.3h.6M417.4 177.7h.6M417.9 193.0h.6M420.2 186.7h.6M419.0 195.2h.6M418.9 185.0h.6M413.6 188.8h.6M419.0 192.8h.6M417.0 189.3h.6M419.7 181.6h.6M414.7 193.4h.6M418.2 201.0h.6M418.7 191.5h.6M417.1 180.6h.6M418.5 188.0h.6M417.3 193.7h.6M415.3 191.2h.6M417.7 198.7h.6M416.6 182.1h.6M418.9 189.6h.6M416.2 198.3h.6M418.4 181.2h.6M417.9 183.4h.6M416.8 200.3h.6M419.7 196.0h.6M416.0 196.9h.6M416.8 188.6h.6M417.2 198.4h.6M418.4 195.3h.6M417.3 188.6h.6M419.1 188.0h.6M417.5 195.2h.6M417.6 197.8h.6M418.5 195.7h.6M420.7 188.4h.6M420.4 183.8h.6M416.8 176.3h.6M417.0 186.8h.6M418.7 199.6h.6M420.7 188.5h.6M419.1 190.6h.6M417.4 179.7h.6M418.9 185.9h.6M418.6 187.6h.6M418.4 185.8h.6M418.3 183.2h.6M416.8 192.6h.6M418.8 184.0h.6M416.7 181.6h.6M420.0 193.5h.6M418.2 189.0h.6M420.2 195.3h.6M417.7 199.3h.6M418.5 190.0h.6M417.4 191.8h.6M419.5 182.9h.6M415.8 196.0h.6M419.1 200.8h.6M418.5 182.3h.6M418.8 192.8h.6M416.6 181.7h.6M415.9 192.2h.6M416.2 194.0h.6M417.6 195.8h.6M418.9 186.0h.6M417.3 196.4h.6M417.0 198.1h.6M418.6 197.4h.6M417.1 196.7h.6M417.5 193.1h.6M418.6 188.2h.6M417.8 176.8h.6M417.0 195.6h.6M416.5 178.4h.6M416.0 189.8h.6M418.6 195.1h.6M416.1 194.3h.6M416.3 198.6h.6M418.3 187.7h.6M417.2 191.2h.6M417.1 199.1h.6M418.2 188.1h.6M418.4 183.0h.6M418.0 189.6h.6M417.1 191.3h.6M418.1 182.5h.6M418.8 188.0h.6M418.3 202.2h.6M416.5 202.2h.6M416.8 198.3h.6M417.1 199.6h.6M418.9 193.8h.6M416.8 198.3h.6M418.3 184.9h.6M418.5 190.6h.6M417.7 185.5h.6M418.1 197.1h.6M416.8 196.8h.6M415.6 192.4h.6M418.1 185.7h.6M418.0 183.4h.6M420.1 194.2h.6M419.1 185.8h.6M415.1 191.2h.6M419.4 190.7h.6M419.2 194.2h.6M418.2 198.3h.6M417.1 189.1h.6M419.1 194.6h.6M417.2 184.9h.6M419.6 171.3h.6M418.9 190.8h.6M416.2 194.3h.6M418.2 175.8h.6M416.7 196.5h.6M417.2 191.3h.6M417.7 200.8h.6M418.2 190.7h.6M417.0 198.1h.6M417.0 194.3h.6M418.3 196.4h.6M418.8 193.5h.6M420.2 196.6h.6M416.9 186.0h.6M417.0 200.1h.6M416.5 201.6h.6M418.3 188.0h.6M416.6 191.1h.6M418.7 191.2h.6M418.7 192.8h.6M419.4 188.6h.6M417.7 184.5h.6M417.4 185.4h.6M416.0 190.3h.6M418.6 177.5h.6M416.3 182.9h.6M418.2 195.3h.6M418.2 190.5h.6M416.9 192.9h.6M416.8 190.2h.6M418.3 190.1h.6M419.2 177.9h.6M415.9 198.0h.6M417.1 188.7h.6M417.2 191.3h.6M417.6 194.0h.6M415.3 191.0h.6M416.8 193.0h.6M416.6 192.1h.6M418.1 191.4h.6M418.1 195.8h.6M416.6 191.4h.6M419.0 197.6h.6M419.0 186.4h.6M417.0 197.9h.6M417.8 193.5h.6M417.4 197.4h.6M418.0 185.4h.6M418.2 189.5h.6M417.5 195.3h.6M418.0 188.1h.6M416.4 188.9h.6M417.6 184.2h.6M417.1 192.1h.6M416.4 189.6h.6M418.1 192.7h.6M415.8 191.9h.6M416.7 198.6h.6M417.7 201.7h.6M418.2 184.3h.6M418.9 188.6h.6M417.7 192.3h.6M416.3 199.1h.6M418.0 185.2h.6M416.2 194.6h.6M419.2 194.2h.6M418.2 189.1h.6M419.1 195.1h.6M416.9 187.8h.6M415.3 199.0h.6M421.3 191.0h.6M418.3 196.5h.6M416.6 186.4h.6M419.7 197.4h.6M418.7 191.0h.6M417.8 192.6h.6M418.3 187.9h.6M419.0 202.7h.6M417.2 185.7h.6M416.7 200.2h.6M417.0 187.0h.6M419.1 190.6h.6M417.8 196.1h.6M419.1 193.2h.6M419.6 187.5h.6M417.2 196.0h.6M418.6 180.8h.6M417.4 196.0h.6M415.9 193.0h.6M416.8 181.7h.6M417.5 191.3h.6M417.3 187.8h.6M418.8 185.2h.6M417.1 183.0h.6M419.2 182.5h.6M419.8 186.0h.6M417.7 202.0h.6M416.6 200.0h.6M416.3 188.8h.6M418.5 193.9h.6M418.2 193.7h.6M419.7 181.7h.6M417.0 197.2h.6M416.1 187.4h.6M420.7 200.2h.6M418.4 192.3h.6M417.6 186.2h.6M416.8 185.6h.6M416.3 192.6h.6M418.3 185.9h.6M418.0 183.5h.6M418.2 189.8h.6M417.7 193.0h.6M419.3 193.1h.6M417.0 192.8h.6M418.3 195.1h.6M419.0 186.7h.6M416.4 195.7h.6M416.5 194.6h.6M421.0 199.6h.6M416.1 186.6h.6M418.3 190.0h.6M418.6 193.3h.6M418.2 195.3h.6M416.0 199.0h.6M416.1 186.3h.6M415.0 191.8h.6M418.3 189.5h.6M416.4 178.1h.6M418.5 184.6h.6M417.4 193.3h.6M417.7 194.4h.6M419.8 196.3h.6M416.6 191.5h.6M417.5 186.4h.6M418.6 189.4h.6M418.1 195.8h.6M420.3 188.0h.6M419.7 193.7h.6M416.9 192.8h.6M417.1 189.2h.6M415.8 190.0h.6M415.4 198.0h.6M418.4 189.3h.6M417.8 192.6h.6M417.5 193.7h.6M417.6 194.7h.6M416.8 192.3h.6M419.8 186.8h.6M416.8 197.8h.6M418.2 192.8h.6M418.0 189.3h.6M417.2 195.1h.6M418.0 195.9h.6M417.9 200.7h.6M419.0 187.1h.6M419.7 188.3h.6M419.0 187.1h.6M418.2 192.9h.6M419.5 178.4h.6M415.5 198.1h.6M418.7 188.7h.6M417.9 181.0h.6M417.4 187.8h.6M418.9 193.5h.6M417.6 199.2h.6M417.0 196.7h.6M417.5 194.8h.6M417.5 200.7h.6M418.8 186.7h.6M417.3 200.4h.6M419.6 184.4h.6M418.0 195.9h.6M420.6 196.2h.6M417.6 197.8h.6M417.9 186.6h.6M417.8 190.6h.6M417.6 192.5h.6M418.2 187.1h.6M418.6 182.1h.6M418.6 195.1h.6M418.3 182.6h.6M417.2 193.3h.6M418.4 196.7h.6M416.0 192.1h.6M419.1 184.7h.6M416.4 189.1h.6M417.5 190.4h.6M419.3 193.8h.6M415.5 197.0h.6M417.9 197.4h.6M417.8 200.7h.6M418.0 189.0h.6M416.4 197.9h.6M417.6 181.1h.6M418.8 200.2h.6M415.3 195.6h.6M418.6 202.9h.6M419.3 187.4h.6M418.4 196.7h.6M416.1 201.1h.6M418.4 197.4h.6M416.8 197.3h.6M417.8 190.2h.6M417.9 194.3h.6M416.0 192.1h.6M418.2 182.0h.6M418.6 192.1h.6M416.6 185.2h.6M416.3 197.7h.6M416.8 193.3h.6M417.3 197.7h.6M419.3 197.9h.6M418.6 198.8h.6M419.9 186.7h.6M418.1 188.1h.6M417.9 190.8h.6M418.0 196.6h.6M416.3 175.9h.6M418.1 198.8h.6M417.3 201.4h.6M420.5 192.6h.6M417.6 195.4h.6M418.7 182.8h.6M418.4 179.3h.6M416.5 193.6h.6M418.2 184.7h.6M417.9 200.2h.6M415.8 195.7h.6M419.3 183.8h.6M419.2 195.0h.6M417.4 192.3h.6M417.8 192.4h.6M417.6 187.6h.6M418.9 202.9h.6M417.6 201.1h.6M416.9 184.2h.6M418.6 193.7h.6M418.4 186.2h.6M417.3 198.6h.6M419.7 193.8h.6M418.3 175.7h.6M417.0 200.4h.6M420.2 193.8h.6M415.1 199.0h.6M416.5 195.4h.6M417.3 195.6h.6M416.9 199.5h.6M418.4 192.0h.6M418.7 197.8h.6M416.8 197.5h.6M418.4 194.2h.6M418.1 195.3h.6M415.6 191.7h.6M417.3 195.0h.6M417.5 197.4h.6M417.7 190.5h.6M417.9 196.2h.6M417.0 199.9h.6M418.5 195.8h.6M417.0 198.2h.6M417.1 193.7h.6M417.4 200.7h.6M417.7 196.4h.6M417.6 199.3h.6M417.8 200.2h.6M417.8 200.3h.6M417.6 194.2h.6M418.5 196.3h.6M417.5 202.6h.6M417.4 194.0h.6M417.6 202.6h.6M416.5 201.5h.6M418.6 195.5h.6M417.6 194.2h.6M415.7 193.5h.6M416.4 190.9h.6M417.5 199.3h.6M416.9 195.8h.6M417.1 196.3h.6M418.4 201.7h.6M418.7 198.5h.6M419.5 199.8h.6M418.5 199.2h.6M418.9 193.1h.6M417.0 197.4h.6M415.9 196.0h.6M417.6 198.3h.6M418.8 202.1h.6M415.3 197.9h.6M418.3 202.6h.6M417.2 198.7h.6M417.8 193.4h.6M418.2 200.8h.6M417.6 197.4h.6M419.2 196.3h.6M417.6 198.2h.6M418.5 198.6h.6M419.4 198.8h.6M416.6 190.8h.6M418.0 195.4h.6M418.3 199.1h.6M419.4 192.1h.6M418.8 197.8h.6M418.9 201.2h.6M415.4 200.6h.6M418.5 194.0h.6M417.8 201.1h.6M416.2 200.5h.6M417.0 194.7h.6M419.1 196.0h.6M418.4 187.0h.6M420.7 189.9h.6M416.1 199.0h.6M418.5 193.9h.6M415.4 199.2h.6M418.2 193.5h.6M418.1 194.8h.6M416.8 199.8h.6M417.9 197.2h.6M416.5 194.3h.6M417.6 194.7h.6M418.3 197.2h.6M417.7 196.4h.6M418.4 201.0h.6M416.7 200.8h.6M419.0 200.1h.6M417.3 197.9h.6M420.3 191.9h.6M418.9 196.1h.6M419.8 197.6h.6M418.9 194.7h.6M416.5 195.0h.6M417.6 192.2h.6M418.6 192.3h.6M418.0 196.1h.6M415.4 197.6h.6M416.2 197.2h.6M415.3 195.0h.6M418.9 198.1h.6M418.8 196.3h.6M417.8 199.5h.6M416.5 193.0h.6M416.7 198.0h.6M417.1 199.8h.6M418.3 196.9h.6M419.0 196.1h.6M417.8 198.3h.6M418.8 193.9h.6M417.4 194.1h.6M418.6 198.6h.6M418.2 192.0h.6M417.0 191.4h.6M416.4 194.2h.6M418.3 199.0h.6M415.9 199.5h.6M418.9 191.2h.6M418.5 198.0h.6M418.3 194.2h.6M419.6 197.4h.6M417.3 190.0h.6M417.6 191.7h.6M417.9 200.8h.6M419.2 199.9h.6M417.4 192.5h.6M417.7 197.5h.6M417.8 195.9h.6M418.1 191.4h.6M419.1 192.4h.6M418.1 193.6h.6M419.5 194.9h.6M416.9 195.6h.6M418.9 192.2h.6M416.4 195.0h.6M418.8 185.6h.6M417.7 200.7h.6M417.8 189.8h.6M417.4 199.4h.6M416.7 195.9h.6M417.2 198.6h.6M420.8 197.3h.6M417.6 195.4h.6M418.5 200.0h.6M418.2 198.4h.6M418.1 192.3h.6M418.8 200.4h.6M417.0 190.2h.6M417.2 197.7h.6M419.6 197.9h.6M414.2 194.6h.6M418.0 198.0h.6M416.2 195.6h.6M418.1 199.7h.6M417.1 195.3h.6M417.4 199.0h.6M420.2 197.7h.6M418.1 193.4h.6M417.8 202.6h.6M418.9 195.1h.6M418.2 193.5h.6M418.7 196.4h.6M418.8 201.9h.6M417.3 200.2h.6M418.4 194.9h.6M418.3 201.9h.6M418.1 200.8h.6M418.3 202.0h.6M409.3 177.8h.6M411.5 170.5h.6M408.2 184.7h.6M407.5 185.9h.6M414.3 177.1h.6M407.5 180.5h.6M412.3 185.5h.6M414.1 176.4h.6M412.2 177.1h.6M412.8 180.7h.6M413.8 178.7h.6M412.1 174.2h.6M406.9 180.9h.6M410.0 182.3h.6M416.3 176.7h.6M406.2 175.0h.6M407.9 183.3h.6M410.8 177.9h.6M411.6 178.4h.6M410.4 178.9h.6M405.7 182.0h.6M410.2 187.3h.6M410.0 176.7h.6M410.2 176.3h.6M409.6 177.6h.6M410.7 175.5h.6M409.4 177.4h.6M406.8 178.7h.6M411.7 181.7h.6M410.6 178.5h.6M426.2 179.6h.6M421.1 196.1h.6M413.8 189.2h.6M426.5 183.2h.6M421.2 184.5h.6M405.4 202.5h.6M399.4 200.9h.6M419.1 173.8h.6M423.9 169.1h.6M418.3 201.3h.6" stroke="#0a0a0a" stroke-width="0.7" opacity="0.92" fill="none"/>
<path d="M394.8 204.8v1.6M391.2 167.7h1.4M403.1 204.8v1.6M391.2 176.4h1.4M411.4 204.8v1.6M391.2 185.1h1.4M419.7 204.8v1.6M391.2 193.9h1.4M428.0 204.8v1.6M391.2 202.6h1.4" stroke="#888" stroke-width="0.6" fill="none" opacity="0.6"/>
<rect x="393.8" y="166.7" width="35.2" height="36.9" fill="none" stroke="#1a1a1a" stroke-width="0.85"/>
<line x1="413.7" y1="166.7" x2="413.7" y2="203.6" stroke="#222" stroke-width="0.7"/>
<line x1="393.8" y1="186.3" x2="429.0" y2="186.3" stroke="#222" stroke-width="0.7"/>
<text x="427.8" y="171.9" font-size="5" font-weight="bold" text-anchor="end" fill="#111">5</text>
<path d="M412.6 238.0h.6M409.4 240.8h.6M413.2 244.5h.6M404.3 250.6h.6M404.8 250.0h.6M409.5 246.7h.6M407.4 248.9h.6M402.9 249.3h.6M401.2 253.3h.6M405.6 250.0h.6M410.2 245.8h.6M400.6 255.7h.6M406.2 252.0h.6M402.4 247.2h.6M406.1 245.0h.6M407.7 239.0h.6M404.2 250.6h.6M405.7 247.6h.6M402.5 256.1h.6M404.7 249.2h.6M411.2 251.6h.6M410.9 243.8h.6M405.4 245.7h.6M413.4 248.9h.6M410.1 247.9h.6M409.1 238.2h.6M403.4 254.6h.6M405.8 246.2h.6M406.1 244.2h.6M409.5 247.3h.6M402.5 251.1h.6M406.7 249.1h.6M409.0 252.6h.6M411.7 243.8h.6M402.4 255.5h.6M404.9 254.5h.6M404.2 246.1h.6M405.1 258.2h.6M405.8 236.2h.6M406.4 254.5h.6M416.5 236.0h.6M404.1 253.2h.6M411.1 245.3h.6M405.9 254.2h.6M400.7 256.7h.6M406.0 254.9h.6M404.5 250.0h.6M401.4 257.6h.6M413.1 247.1h.6M408.6 253.3h.6M406.9 244.6h.6M408.1 252.2h.6M405.5 247.3h.6M405.8 248.0h.6M411.4 247.3h.6M414.1 233.1h.6M404.4 254.4h.6M411.7 247.9h.6M406.7 246.6h.6M403.8 247.7h.6M405.3 247.0h.6M404.3 253.1h.6M399.5 261.4h.6M405.3 252.1h.6M407.4 249.0h.6M407.5 250.8h.6M405.1 244.9h.6M413.5 242.2h.6M409.2 251.4h.6M403.2 255.7h.6M407.9 246.8h.6M403.8 243.6h.6M402.0 251.4h.6M409.0 244.2h.6M405.9 254.8h.6M409.6 252.7h.6M403.6 248.3h.6M405.1 254.3h.6M402.4 250.1h.6M406.4 251.7h.6M404.4 244.9h.6M406.6 247.7h.6M409.0 247.9h.6M408.7 236.2h.6M409.4 245.3h.6M403.0 254.6h.6M405.3 248.3h.6M406.9 241.3h.6M404.1 255.5h.6M405.5 247.3h.6M408.1 247.0h.6M407.5 247.0h.6M408.8 246.9h.6M409.1 241.5h.6M408.9 240.5h.6M403.2 253.9h.6M406.2 243.2h.6M403.5 250.5h.6M406.6 247.0h.6M405.2 246.6h.6M407.8 244.4h.6M407.5 252.9h.6M405.1 250.3h.6M408.9 254.4h.6M405.3 248.2h.6M407.1 252.4h.6M405.4 249.1h.6M405.0 246.1h.6M406.1 247.2h.6M408.7 250.5h.6M408.5 250.1h.6M400.0 253.6h.6M405.6 247.7h.6M404.5 257.1h.6M403.0 255.5h.6M403.5 251.7h.6M401.8 252.9h.6M403.4 251.6h.6M400.0 255.0h.6M410.1 249.2h.6M409.0 244.1h.6M409.9 241.3h.6M407.8 249.3h.6M408.5 250.1h.6M408.1 244.4h.6M407.8 248.9h.6M408.1 240.1h.6M408.4 249.3h.6M407.7 246.0h.6M405.3 248.3h.6M409.9 243.0h.6M408.4 256.1h.6M402.5 247.2h.6M410.2 246.7h.6M402.2 250.2h.6M405.1 248.2h.6M409.4 250.6h.6M411.0 246.3h.6M403.9 245.0h.6M403.7 251.9h.6M412.6 239.3h.6M405.4 245.5h.6M406.7 244.8h.6M405.2 249.3h.6M406.0 242.6h.6M401.2 254.0h.6M410.0 241.2h.6M404.6 254.0h.6M406.6 241.0h.6M407.0 249.6h.6M403.0 257.6h.6M404.8 254.6h.6M401.5 255.5h.6M404.0 249.8h.6M403.6 244.7h.6M410.3 245.0h.6M411.4 237.4h.6M409.2 241.9h.6M407.7 246.5h.6M405.9 246.4h.6M405.5 248.4h.6M402.6 254.3h.6M415.2 237.3h.6M409.4 249.1h.6M409.5 244.6h.6M405.9 252.3h.6M408.3 242.6h.6M406.1 251.6h.6M410.5 237.1h.6M403.1 249.7h.6M411.4 245.2h.6M408.2 242.8h.6M409.1 245.2h.6M407.9 253.5h.6M407.0 246.6h.6M409.3 247.8h.6M405.3 248.9h.6M404.4 257.0h.6M409.0 242.3h.6M405.1 247.0h.6M414.7 236.3h.6M406.4 251.5h.6M410.8 241.6h.6M407.9 246.3h.6M402.9 250.8h.6M408.2 251.0h.6M404.7 254.4h.6M407.6 246.7h.6M410.8 247.2h.6M404.9 250.2h.6M408.2 243.6h.6M408.4 249.8h.6M406.6 245.2h.6M405.2 253.5h.6M403.6 254.8h.6M402.0 256.7h.6M411.2 244.0h.6M405.3 250.3h.6M409.0 243.8h.6M407.4 248.9h.6M407.1 240.9h.6M403.1 253.0h.6M405.8 249.7h.6M408.7 248.6h.6M406.6 248.4h.6M409.8 246.4h.6M409.1 245.6h.6M403.5 254.4h.6M403.6 250.4h.6M405.9 250.0h.6M407.1 249.7h.6M402.4 258.3h.6M408.1 242.7h.6M406.7 251.5h.6M411.7 247.7h.6M409.2 246.8h.6M407.1 245.3h.6M407.5 243.3h.6M406.2 247.7h.6M404.3 252.9h.6M405.0 247.5h.6M402.6 252.0h.6M405.7 246.1h.6M402.1 253.3h.6M407.3 241.9h.6M406.6 246.6h.6M401.7 253.5h.6M411.1 237.9h.6M409.6 242.0h.6M406.5 245.7h.6M405.9 245.8h.6M404.0 251.5h.6M412.9 247.8h.6M402.5 253.9h.6M407.4 254.3h.6M400.7 258.1h.6M403.3 254.8h.6M408.7 242.2h.6M411.2 245.7h.6M404.1 248.4h.6M402.9 251.2h.6M407.1 247.8h.6M401.4 255.5h.6M405.8 255.8h.6M399.5 255.7h.6M402.0 257.4h.6M409.2 246.0h.6M405.2 243.8h.6M409.8 247.7h.6M412.8 244.1h.6M407.9 248.9h.6M402.8 249.3h.6M406.4 247.0h.6M405.3 241.8h.6M405.6 247.4h.6M399.4 258.1h.6M405.1 249.4h.6M402.4 254.8h.6M404.7 254.3h.6M403.2 248.1h.6M404.4 251.8h.6M404.8 248.8h.6M405.6 246.1h.6M408.4 246.7h.6M405.2 247.3h.6M405.8 251.2h.6M405.4 245.5h.6M407.0 242.7h.6M407.4 257.1h.6M408.4 248.1h.6M403.7 257.3h.6M406.6 253.6h.6M398.1 259.7h.6M405.4 253.8h.6M406.0 251.0h.6M410.2 240.0h.6M405.4 252.6h.6M404.3 252.6h.6M406.3 248.2h.6M412.1 241.0h.6M409.9 248.3h.6M405.7 252.4h.6M404.7 258.7h.6M406.6 242.8h.6M411.1 240.8h.6M407.8 248.8h.6M402.6 252.2h.6M406.7 244.2h.6M404.0 253.1h.6M406.9 246.9h.6M407.7 247.1h.6M400.5 251.5h.6M404.2 254.7h.6M405.3 251.3h.6M407.0 240.3h.6M399.6 252.7h.6M401.4 254.7h.6M408.3 247.0h.6M408.3 244.7h.6M404.6 250.0h.6M408.8 247.0h.6M400.4 252.9h.6M402.3 251.2h.6M406.0 242.8h.6M400.9 250.0h.6M409.3 251.3h.6M403.2 245.6h.6M405.8 250.8h.6M409.3 243.9h.6M400.6 257.8h.6M406.3 246.3h.6M405.8 244.5h.6M407.5 251.8h.6M406.3 246.4h.6M409.3 246.7h.6M405.7 246.4h.6M398.5 251.9h.6M402.7 251.7h.6M403.5 253.8h.6M398.6 260.5h.6M407.8 248.2h.6M412.4 238.8h.6M409.7 237.4h.6M399.9 259.3h.6M410.8 241.8h.6M402.4 249.1h.6M408.0 248.4h.6M408.2 251.4h.6M407.6 255.0h.6M417.2 237.7h.6M405.5 253.4h.6M407.3 253.2h.6M406.1 250.7h.6M405.1 251.8h.6M413.5 242.4h.6M409.4 241.1h.6M404.4 249.5h.6M405.5 250.8h.6M406.4 251.6h.6M406.0 247.8h.6M405.5 245.5h.6M405.0 250.5h.6M400.4 252.7h.6M410.3 241.0h.6M404.4 251.5h.6M407.5 246.8h.6M404.0 249.0h.6M405.7 250.4h.6M402.2 254.4h.6M402.9 246.9h.6M408.5 237.5h.6M404.3 253.1h.6M404.5 250.7h.6M402.8 254.3h.6M403.7 250.8h.6M411.1 241.3h.6M409.9 247.0h.6M405.9 244.4h.6M408.9 247.6h.6M410.2 244.9h.6M411.3 240.5h.6M402.2 254.8h.6M404.8 249.1h.6M398.4 255.1h.6M404.6 250.7h.6M408.3 243.2h.6M406.5 246.8h.6M404.8 246.9h.6M405.8 245.3h.6M403.7 241.1h.6M406.2 250.1h.6M404.7 250.5h.6M408.4 252.2h.6M406.6 248.4h.6M405.1 252.2h.6M396.5 256.9h.6M406.7 252.0h.6M405.4 247.6h.6M401.2 254.5h.6M409.3 240.1h.6M408.1 244.3h.6M406.1 249.6h.6M408.8 240.3h.6M409.1 242.0h.6M405.4 249.4h.6M405.0 249.1h.6M401.0 256.4h.6M405.9 241.6h.6M411.5 243.8h.6M407.9 248.2h.6M410.0 241.8h.6M405.8 247.5h.6M402.3 246.7h.6M411.4 237.2h.6M407.4 247.1h.6M400.4 252.8h.6M409.0 243.0h.6M403.8 249.2h.6M403.3 251.6h.6M403.2 248.7h.6M405.6 251.6h.6M407.2 243.2h.6M403.9 248.0h.6M395.0 260.2h.6M402.5 254.2h.6M402.1 254.7h.6M403.0 253.3h.6M407.2 251.0h.6M402.8 249.4h.6M407.2 247.3h.6M403.9 251.8h.6M401.0 249.3h.6M410.8 246.9h.6M409.6 247.6h.6M406.5 246.6h.6M408.1 244.9h.6M405.7 246.9h.6M404.7 247.4h.6M410.2 245.6h.6M408.5 245.1h.6M404.1 247.4h.6M403.0 253.1h.6M407.1 249.7h.6M401.4 254.5h.6M405.8 243.6h.6M406.4 251.3h.6M407.8 248.1h.6M404.3 254.9h.6M405.9 244.3h.6M414.3 238.1h.6M408.7 243.6h.6M413.3 242.1h.6M406.7 243.0h.6M411.2 240.7h.6M414.4 233.8h.6M411.8 239.8h.6M413.1 241.0h.6M416.4 242.9h.6M409.9 235.8h.6M410.7 242.0h.6M416.0 243.7h.6M412.0 238.6h.6M412.1 238.4h.6M407.4 243.9h.6M410.2 236.9h.6M414.8 247.0h.6M412.8 235.7h.6M409.0 238.4h.6M412.2 255.5h.6M414.1 241.8h.6M409.0 236.7h.6M409.4 242.9h.6M410.8 244.2h.6M413.0 237.7h.6M413.9 242.3h.6M416.1 241.6h.6M410.4 241.7h.6M415.0 244.2h.6M414.9 246.2h.6M412.4 251.3h.6M411.2 241.3h.6M414.7 237.7h.6M412.4 246.1h.6M408.9 234.8h.6M407.4 246.6h.6M418.7 238.7h.6M407.7 237.3h.6M416.0 245.2h.6M413.5 239.3h.6M413.4 239.3h.6M413.2 239.2h.6M407.9 240.4h.6M412.7 243.4h.6M409.9 245.8h.6M406.9 234.5h.6M413.3 241.6h.6M411.4 240.4h.6M413.1 243.0h.6M415.5 238.5h.6M407.9 241.6h.6M410.8 241.0h.6M405.3 243.6h.6M416.4 243.6h.6M415.1 244.5h.6M412.3 243.7h.6M414.7 243.9h.6M413.5 241.9h.6M409.4 243.5h.6M410.4 244.4h.6M405.1 249.1h.6M415.4 248.1h.6M412.7 238.0h.6M410.4 237.6h.6M412.8 242.2h.6M412.1 234.9h.6M407.3 233.5h.6M415.7 244.1h.6M411.8 240.7h.6M406.4 240.7h.6M410.4 238.9h.6M414.5 234.2h.6M412.1 245.3h.6M414.0 236.3h.6M403.5 247.6h.6M415.8 241.5h.6M410.9 243.5h.6M414.8 242.6h.6M410.6 243.0h.6M412.8 250.2h.6M411.7 238.5h.6M417.3 248.0h.6M416.0 238.5h.6M409.9 236.8h.6M411.3 247.4h.6M414.4 242.3h.6M412.4 244.1h.6M411.3 238.0h.6M409.7 248.7h.6M408.9 237.7h.6M413.4 240.8h.6M410.7 242.8h.6M411.3 235.7h.6M414.5 243.0h.6M416.8 245.5h.6M410.0 240.4h.6M409.6 233.5h.6M413.9 239.5h.6M414.6 242.9h.6M411.4 248.5h.6M409.0 249.1h.6M410.6 250.6h.6M415.2 240.1h.6M417.0 243.8h.6M412.8 240.6h.6M411.6 240.6h.6M410.8 245.3h.6M414.2 247.1h.6M415.3 241.9h.6M414.0 241.2h.6M413.5 244.7h.6M412.9 239.1h.6M408.3 248.9h.6M409.5 239.8h.6M412.9 240.7h.6M413.1 247.6h.6M407.2 242.6h.6M413.6 236.7h.6M414.0 248.0h.6M411.9 244.1h.6M410.9 246.1h.6M410.3 242.2h.6M409.8 239.4h.6M415.2 242.0h.6M414.5 236.0h.6M408.3 238.7h.6M417.4 246.8h.6M418.4 240.5h.6M413.6 243.7h.6M411.1 244.6h.6M411.7 244.1h.6M406.6 238.1h.6M408.9 248.8h.6M414.4 238.4h.6M413.3 240.0h.6M408.5 238.6h.6M420.6 242.6h.6M411.6 247.1h.6M412.7 237.9h.6M418.2 250.9h.6M414.2 238.9h.6M411.7 242.7h.6M408.6 252.6h.6M411.9 240.0h.6M411.0 240.9h.6M404.4 242.8h.6M415.3 243.1h.6M413.1 241.9h.6M406.7 244.5h.6M413.9 238.2h.6M408.5 239.9h.6M407.9 232.5h.6M410.6 239.9h.6M412.2 246.9h.6M409.2 236.1h.6M411.5 244.9h.6M416.1 245.9h.6M412.2 242.4h.6M406.7 244.9h.6M414.1 241.9h.6M410.9 243.8h.6M413.1 244.3h.6M413.1 236.2h.6M410.2 235.7h.6M414.2 252.3h.6M409.5 241.7h.6M412.6 239.5h.6M416.8 243.0h.6M418.2 251.2h.6M413.3 239.3h.6M415.7 241.2h.6M409.4 241.4h.6M415.2 239.1h.6M411.2 245.7h.6M411.0 245.7h.6M415.4 240.3h.6M408.3 237.6h.6M415.6 244.4h.6M412.1 240.7h.6M415.0 240.3h.6M419.9 243.5h.6M407.1 246.4h.6M412.6 242.2h.6M411.3 246.9h.6M410.4 248.3h.6M409.6 245.8h.6M407.4 246.0h.6M408.9 241.3h.6M414.0 239.2h.6M418.3 254.9h.6M420.8 258.0h.6M417.5 254.3h.6M417.3 261.3h.6M415.3 250.4h.6M413.5 248.3h.6M415.1 253.9h.6M418.8 258.6h.6M416.6 247.6h.6M417.1 257.8h.6M417.9 254.9h.6M416.6 258.4h.6M416.8 254.3h.6M416.8 254.4h.6M419.1 259.3h.6M416.6 252.7h.6M416.8 254.6h.6M419.1 257.9h.6M421.4 257.7h.6M413.0 252.9h.6M415.2 257.1h.6M422.2 255.6h.6M417.9 260.9h.6M417.4 251.6h.6M417.2 261.5h.6M416.1 246.6h.6M416.5 257.8h.6M414.7 255.9h.6M413.6 249.1h.6M415.6 253.4h.6M415.7 248.3h.6M417.3 253.6h.6M415.7 260.8h.6M416.9 257.1h.6M420.7 255.9h.6M419.2 255.5h.6M416.4 256.3h.6M414.8 258.0h.6M419.3 256.4h.6M414.5 250.9h.6M415.5 254.5h.6M415.8 256.2h.6M416.5 255.9h.6M411.9 252.4h.6M417.1 255.0h.6M417.3 252.9h.6M419.0 255.6h.6M417.1 255.3h.6M419.2 254.4h.6M420.3 254.8h.6M417.7 255.1h.6M418.3 256.8h.6M417.0 258.6h.6M422.7 255.8h.6M416.5 252.0h.6M414.8 252.4h.6M416.9 252.3h.6M419.7 252.6h.6M414.4 252.2h.6M416.8 254.7h.6M418.1 251.8h.6M419.0 258.7h.6M414.6 248.6h.6M418.9 259.0h.6M418.0 255.0h.6M415.4 250.6h.6M416.8 256.0h.6M416.2 251.6h.6M423.2 258.6h.6M419.9 257.1h.6M415.0 250.8h.6M416.1 260.1h.6M419.3 261.5h.6M414.5 261.7h.6M417.4 252.8h.6M418.1 252.1h.6M417.3 257.4h.6M417.8 256.2h.6M418.9 259.1h.6M413.2 247.8h.6M412.5 246.3h.6M420.1 251.5h.6M417.5 256.5h.6M415.1 253.7h.6M417.7 255.1h.6M418.4 253.8h.6M414.2 249.9h.6M414.3 257.2h.6M417.3 253.4h.6M416.2 243.9h.6M417.0 250.1h.6M416.3 254.5h.6M415.4 254.5h.6M418.1 258.0h.6M417.6 251.0h.6M417.6 253.3h.6M418.2 252.4h.6M418.1 251.0h.6M417.3 258.8h.6M420.2 258.0h.6M422.2 258.0h.6M418.3 258.8h.6M416.6 258.8h.6M417.8 254.4h.6M417.1 259.7h.6M413.2 255.7h.6M414.1 254.7h.6M415.4 252.2h.6M416.4 256.7h.6M423.0 260.8h.6M416.3 253.6h.6M417.3 251.5h.6M415.5 259.9h.6M418.3 261.4h.6M416.1 249.3h.6M418.3 256.9h.6M415.6 249.8h.6M410.7 253.1h.6M420.9 261.7h.6M418.4 254.7h.6M419.3 259.4h.6M417.7 260.5h.6M417.9 255.8h.6M418.4 256.2h.6M417.3 261.8h.6M415.9 254.4h.6M410.7 250.1h.6M418.1 254.5h.6M416.5 253.8h.6M417.6 252.3h.6M412.4 249.7h.6M416.1 256.9h.6M420.6 256.6h.6M414.3 250.4h.6M419.4 256.7h.6M417.8 257.7h.6M418.9 256.8h.6M417.8 248.3h.6M415.3 253.5h.6M418.4 256.6h.6M418.4 253.8h.6M418.5 253.9h.6M419.3 256.9h.6M417.8 248.4h.6M414.5 252.7h.6M416.1 257.2h.6M418.6 253.2h.6M420.3 258.0h.6M416.9 258.1h.6M419.3 252.5h.6M413.7 258.7h.6M418.5 257.5h.6M418.1 254.7h.6M416.2 252.0h.6M422.8 260.2h.6M415.9 251.9h.6M420.0 261.2h.6M416.3 251.9h.6M419.3 255.7h.6M415.4 254.8h.6M416.2 250.7h.6M419.3 260.1h.6M420.7 259.5h.6M418.5 254.4h.6M419.9 259.7h.6M417.9 257.2h.6M416.1 255.6h.6M415.0 251.3h.6M413.4 254.3h.6M416.7 252.2h.6M418.6 258.5h.6M414.0 255.8h.6M419.0 257.1h.6M420.9 255.0h.6M418.9 252.3h.6M414.9 253.6h.6M417.5 259.0h.6M418.7 254.9h.6M415.7 256.3h.6M416.0 254.0h.6M422.4 253.9h.6M420.9 252.3h.6M422.5 253.4h.6M413.8 256.3h.6M420.9 261.6h.6M421.3 261.7h.6M415.8 249.1h.6M416.5 251.7h.6M416.2 246.4h.6M414.0 251.2h.6M418.7 259.3h.6M415.1 250.3h.6M416.1 255.0h.6M419.6 255.1h.6M416.4 243.2h.6M415.5 259.9h.6M414.1 253.6h.6M418.5 255.9h.6M417.6 254.4h.6M411.8 249.9h.6M414.4 251.8h.6M414.3 248.8h.6M417.6 257.3h.6M418.0 260.9h.6M418.8 258.8h.6M415.8 256.6h.6M412.2 248.6h.6M413.4 254.7h.6M417.4 253.6h.6M419.4 255.1h.6M417.5 255.8h.6M421.1 261.1h.6M414.7 256.5h.6M416.4 255.6h.6M421.5 253.0h.6M413.7 260.2h.6M415.2 251.9h.6M424.0 262.0h.6M419.5 255.7h.6M417.7 261.5h.6M417.1 256.3h.6M417.1 256.0h.6M412.0 251.6h.6M412.1 247.3h.6M414.4 254.0h.6M416.8 255.0h.6M417.7 259.7h.6M412.7 254.4h.6M415.7 251.9h.6M419.7 254.0h.6M420.0 256.8h.6M418.0 259.4h.6M413.0 251.2h.6M413.5 245.9h.6M416.2 254.7h.6M412.6 252.1h.6M420.4 256.9h.6M419.3 260.5h.6M419.0 260.2h.6M418.6 252.4h.6M419.8 259.4h.6M417.3 253.4h.6M420.4 259.3h.6M417.9 257.4h.6M417.9 256.2h.6M417.5 253.4h.6M419.1 256.3h.6M421.0 255.4h.6M416.0 250.3h.6M421.3 253.0h.6M416.0 254.5h.6M417.2 254.8h.6M419.9 252.3h.6M416.3 253.6h.6M416.4 248.3h.6M418.7 253.2h.6M407.0 257.7h.6M408.7 250.6h.6M419.4 234.4h.6M413.3 255.3h.6M426.9 236.0h.6M405.8 243.3h.6M400.2 227.4h.6M416.4 253.0h.6M408.4 232.0h.6M408.0 231.5h.6" stroke="#0a0a0a" stroke-width="0.7" opacity="0.92" fill="none"/>
<path d="M394.8 264.2v1.6M391.2 227.3h1.4M403.1 264.2v1.6M391.2 236.0h1.4M411.4 264.2v1.6M391.2 244.7h1.4M419.7 264.2v1.6M391.2 253.3h1.4M428.0 264.2v1.6M391.2 262.0h1.4" stroke="#888" stroke-width="0.6" fill="none" opacity="0.6"/>
<rect x="393.8" y="226.3" width="35.2" height="36.7" fill="none" stroke="#1a1a1a" stroke-width="0.85"/>
<line x1="413.7" y1="226.3" x2="413.7" y2="263.0" stroke="#222" stroke-width="0.7"/>
<line x1="393.8" y1="245.0" x2="429.0" y2="245.0" stroke="#222" stroke-width="0.7"/>
<text x="427.8" y="231.5" font-size="5" font-weight="bold" text-anchor="end" fill="#111">5</text>
<path d="M446.8 184.0h.6M446.7 187.1h.6M443.3 184.7h.6M447.0 182.9h.6M447.7 191.6h.6M448.4 189.4h.6M447.7 186.1h.6M448.8 182.0h.6M446.5 186.9h.6M447.7 178.7h.6M447.2 183.1h.6M445.4 188.3h.6M448.7 186.0h.6M445.2 184.0h.6M447.5 179.7h.6M445.9 185.8h.6M445.7 187.4h.6M444.3 188.3h.6M445.7 185.7h.6M447.4 182.6h.6M450.2 176.2h.6M446.8 188.6h.6M446.6 184.8h.6M445.1 184.7h.6M447.8 182.1h.6M447.3 183.3h.6M445.3 184.5h.6M445.0 189.5h.6M444.6 192.2h.6M447.0 185.0h.6M445.4 187.2h.6M446.5 176.9h.6M449.4 174.5h.6M449.3 182.7h.6M449.5 186.8h.6M450.9 178.0h.6M446.1 186.4h.6M446.0 185.4h.6M446.2 188.5h.6M451.1 174.3h.6M449.0 179.4h.6M450.9 177.9h.6M445.2 187.6h.6M446.2 188.6h.6M448.2 181.3h.6M443.3 190.7h.6M446.7 184.5h.6M446.7 183.7h.6M445.7 185.2h.6M448.4 178.8h.6M443.9 187.6h.6M448.9 182.6h.6M447.1 182.5h.6M447.7 184.8h.6M446.7 181.0h.6M447.5 187.1h.6M446.0 187.1h.6M442.1 182.1h.6M448.9 174.7h.6M445.8 186.2h.6M448.8 187.4h.6M444.2 189.4h.6M445.9 189.3h.6M445.9 176.3h.6M443.8 187.7h.6M448.8 186.7h.6M447.4 184.6h.6M448.1 179.9h.6M448.5 189.5h.6M448.7 184.9h.6M447.7 190.3h.6M450.4 191.3h.6M446.4 180.8h.6M448.1 187.9h.6M447.9 185.5h.6M445.5 185.6h.6M444.3 186.2h.6M450.3 189.4h.6M446.2 180.4h.6M450.6 189.1h.6M445.7 188.0h.6M447.3 179.6h.6M446.9 187.8h.6M450.2 179.0h.6M449.7 184.3h.6M442.9 189.7h.6M448.3 188.1h.6M449.1 180.7h.6M449.2 176.9h.6M443.9 197.9h.6M449.5 187.6h.6M447.8 185.7h.6M447.9 186.3h.6M445.7 183.1h.6M444.4 180.2h.6M446.4 187.0h.6M452.1 177.4h.6M451.0 183.5h.6M446.3 184.6h.6M451.6 180.2h.6M446.0 187.8h.6M448.4 187.4h.6M446.5 190.2h.6M444.1 192.9h.6M445.9 187.0h.6M445.9 181.8h.6M448.3 188.3h.6M446.1 189.2h.6M454.4 173.4h.6M443.4 185.6h.6M443.3 189.9h.6M445.6 184.9h.6M444.0 195.5h.6M451.0 176.9h.6M448.4 183.8h.6M449.3 187.2h.6M446.1 182.7h.6M445.8 193.9h.6M447.6 182.5h.6M445.7 189.4h.6M445.1 194.0h.6M448.4 186.2h.6M447.5 183.5h.6M442.0 190.6h.6M449.8 184.5h.6M448.6 178.3h.6M446.5 186.0h.6M446.8 185.4h.6M448.2 189.1h.6M448.8 182.4h.6M446.1 185.1h.6M445.4 177.4h.6M447.6 185.3h.6M446.2 191.3h.6M443.0 186.7h.6M447.6 178.4h.6M447.1 192.6h.6M444.4 185.0h.6M448.7 185.7h.6M445.5 190.0h.6M444.1 184.5h.6M446.0 184.6h.6M444.7 185.8h.6M448.8 187.8h.6M445.2 182.2h.6M446.9 177.4h.6M447.9 187.9h.6M445.6 192.7h.6M448.7 182.4h.6M447.2 184.5h.6M446.0 191.9h.6M449.9 180.6h.6M451.6 177.5h.6M444.7 197.6h.6M447.3 191.4h.6M446.9 187.9h.6M444.8 192.6h.6M447.1 182.5h.6M442.8 196.0h.6M445.2 179.6h.6M447.8 185.5h.6M449.5 188.9h.6M448.2 181.3h.6M449.1 178.0h.6M444.7 192.1h.6M448.4 179.4h.6M446.0 184.4h.6M447.4 186.3h.6M450.7 170.2h.6M449.7 175.8h.6M446.1 185.8h.6M449.3 182.3h.6M445.4 180.7h.6M445.6 197.6h.6M445.3 182.3h.6M444.9 190.9h.6M448.1 184.6h.6M446.3 193.4h.6M447.4 179.4h.6M448.0 179.0h.6M446.7 189.8h.6M445.7 189.9h.6M447.7 195.0h.6M446.0 188.2h.6M447.8 189.7h.6M448.3 188.0h.6M447.5 190.2h.6M447.4 188.4h.6M447.6 185.1h.6M444.0 184.5h.6M447.5 182.5h.6M445.3 191.6h.6M448.3 173.7h.6M446.2 184.6h.6M448.9 187.2h.6M448.3 182.7h.6M447.3 177.0h.6M448.1 185.6h.6M445.8 185.5h.6M448.2 190.4h.6M447.5 191.4h.6M447.4 185.4h.6M446.6 187.8h.6M443.9 186.4h.6M447.8 180.9h.6M445.2 191.1h.6M446.4 184.8h.6M450.3 180.8h.6M447.3 183.2h.6M446.3 184.3h.6M448.2 184.1h.6M448.1 189.4h.6M445.1 185.4h.6M447.7 178.7h.6M443.2 190.0h.6M446.6 191.7h.6M449.1 189.7h.6M446.7 192.0h.6M447.1 183.3h.6M448.2 188.9h.6M446.5 183.1h.6M443.3 195.7h.6M446.8 182.7h.6M446.4 182.6h.6M447.2 185.6h.6M450.3 172.8h.6M446.0 193.9h.6M447.6 182.3h.6M450.8 183.2h.6M448.0 186.7h.6M447.5 180.2h.6M447.1 186.4h.6M451.3 178.1h.6M444.0 187.8h.6M446.7 170.5h.6M445.6 191.1h.6M445.1 177.2h.6M450.2 181.2h.6M445.6 184.3h.6M449.9 184.7h.6M448.5 184.7h.6M445.0 186.4h.6M443.2 190.1h.6M444.2 185.6h.6M443.5 184.2h.6M448.3 181.6h.6M450.3 185.8h.6M448.9 177.9h.6M446.0 186.4h.6M447.8 188.5h.6M445.8 177.4h.6M444.3 190.7h.6M445.0 178.6h.6M447.3 185.1h.6M447.5 181.1h.6M447.7 184.8h.6M446.5 186.4h.6M446.8 184.3h.6M448.4 189.2h.6M447.0 186.0h.6M450.4 178.8h.6M443.7 184.9h.6M444.9 179.4h.6M447.2 186.4h.6M447.0 181.3h.6M445.1 181.3h.6M445.6 184.9h.6M448.8 184.0h.6M444.8 187.1h.6M448.8 187.2h.6M446.5 183.2h.6M447.3 179.9h.6M448.8 183.9h.6M449.3 191.9h.6M444.2 198.2h.6M446.8 181.2h.6M444.0 184.8h.6M448.0 183.5h.6M446.5 187.6h.6M445.7 184.8h.6M445.4 192.9h.6M448.2 184.9h.6M445.4 184.3h.6M445.9 183.2h.6M447.0 189.5h.6M449.2 182.6h.6M447.3 185.2h.6M446.8 196.6h.6M448.0 190.1h.6M447.0 188.0h.6M443.4 186.5h.6M446.8 185.0h.6M445.8 201.4h.6M448.4 179.3h.6M445.7 189.4h.6M448.1 186.4h.6M448.5 181.4h.6M451.1 175.2h.6M447.0 181.4h.6M446.1 186.3h.6M446.5 190.2h.6M449.8 188.4h.6M445.4 185.1h.6M446.3 181.1h.6M445.6 190.0h.6M445.4 186.8h.6M445.1 189.5h.6M450.0 178.4h.6M448.9 181.1h.6M447.6 185.0h.6M449.4 179.2h.6M449.9 187.6h.6M445.0 191.6h.6M448.9 188.3h.6M446.8 181.2h.6M444.3 193.2h.6M447.1 185.2h.6M445.5 191.4h.6M445.8 189.6h.6M444.6 180.9h.6M448.3 180.6h.6M451.8 175.5h.6M447.3 188.1h.6M447.8 185.1h.6M447.9 182.3h.6M441.0 194.1h.6M445.6 194.4h.6M446.1 190.9h.6M449.7 182.9h.6M442.2 190.7h.6M451.4 178.3h.6M446.2 184.8h.6M446.1 188.4h.6M446.4 188.3h.6M446.8 177.2h.6M449.9 187.1h.6M448.6 179.6h.6M447.8 185.2h.6M447.7 186.1h.6M447.7 192.7h.6M446.7 183.4h.6M449.3 178.2h.6M446.1 183.4h.6M442.0 194.5h.6M446.7 184.2h.6M444.6 187.8h.6M447.2 179.3h.6M446.4 193.2h.6M444.5 184.9h.6M450.8 184.9h.6M444.6 193.3h.6M446.7 190.1h.6M449.3 189.1h.6M446.1 195.2h.6M445.4 179.3h.6M447.1 182.2h.6M448.2 175.8h.6M443.7 188.6h.6M446.4 187.5h.6M446.4 185.2h.6M443.1 193.9h.6M449.8 178.9h.6M446.0 187.1h.6M446.3 185.0h.6M448.8 176.1h.6M447.9 188.0h.6M445.5 184.2h.6M447.0 184.0h.6M448.2 177.7h.6M446.8 187.5h.6M447.3 187.8h.6M445.9 185.9h.6M448.6 186.0h.6M447.3 185.8h.6M448.9 179.0h.6M446.3 189.7h.6M445.1 188.0h.6M446.6 183.1h.6M445.8 180.5h.6M450.1 178.3h.6M448.3 178.5h.6M449.9 189.5h.6M446.5 179.4h.6M446.3 187.0h.6M448.7 193.2h.6M445.2 186.4h.6M449.1 182.0h.6M445.5 190.0h.6M444.7 185.2h.6M447.1 183.9h.6M448.3 177.1h.6M448.7 183.3h.6M448.8 196.0h.6M444.7 195.1h.6M450.0 181.7h.6M445.6 191.5h.6M446.0 183.5h.6M443.9 177.6h.6M445.6 181.5h.6M456.7 190.5h.6M458.2 186.1h.6M455.8 190.4h.6M458.7 188.3h.6M459.8 185.5h.6M459.0 190.6h.6M459.7 200.1h.6M456.1 176.1h.6M459.3 190.9h.6M458.3 185.6h.6M456.7 197.1h.6M458.5 185.0h.6M457.9 190.8h.6M455.9 184.3h.6M458.5 189.7h.6M455.8 190.9h.6M460.7 193.0h.6M455.9 185.5h.6M456.9 183.3h.6M456.6 184.7h.6M457.7 180.1h.6M459.1 191.0h.6M460.6 194.6h.6M459.2 192.3h.6M457.6 181.3h.6M458.8 189.4h.6M456.9 191.6h.6M458.3 184.2h.6M459.9 185.4h.6M458.0 196.2h.6M457.1 186.6h.6M458.5 186.5h.6M457.1 180.9h.6M458.1 186.1h.6M459.0 195.8h.6M457.8 194.1h.6M456.8 199.9h.6M457.0 187.9h.6M457.3 185.3h.6M459.0 188.7h.6M456.5 194.1h.6M457.9 192.8h.6M458.1 185.6h.6M455.2 186.7h.6M456.5 197.2h.6M457.5 199.0h.6M461.1 196.9h.6M461.2 182.3h.6M457.1 181.6h.6M455.9 179.9h.6M459.1 183.3h.6M457.3 192.8h.6M457.2 199.6h.6M459.5 193.8h.6M460.2 192.5h.6M458.1 196.4h.6M459.3 179.4h.6M459.4 195.9h.6M454.6 203.0h.6M458.0 198.6h.6M456.1 190.3h.6M456.8 183.0h.6M458.2 178.8h.6M457.8 193.6h.6M456.7 181.3h.6M458.6 195.2h.6M459.1 185.1h.6M457.2 198.3h.6M459.1 191.1h.6M458.1 187.7h.6M458.7 193.7h.6M457.9 190.7h.6M455.8 187.9h.6M460.1 190.4h.6M455.8 185.7h.6M457.9 198.9h.6M460.9 188.6h.6M457.6 189.8h.6M456.2 198.0h.6M456.1 193.9h.6M457.2 181.7h.6M458.3 200.4h.6M456.1 190.4h.6M456.8 196.3h.6M455.7 180.1h.6M457.3 180.0h.6M459.2 178.6h.6M457.9 185.5h.6M459.2 185.2h.6M457.5 200.6h.6M458.7 197.6h.6M459.8 192.3h.6M458.3 177.3h.6M455.3 186.1h.6M458.2 196.6h.6M456.7 186.7h.6M460.8 181.2h.6M457.5 188.2h.6M456.8 199.2h.6M455.5 186.9h.6M455.4 184.0h.6M460.0 175.1h.6M455.4 189.0h.6M458.3 183.9h.6M458.4 187.6h.6M457.2 189.5h.6M459.6 180.8h.6M459.0 190.8h.6M457.5 183.9h.6M458.3 194.4h.6M456.5 194.0h.6M457.9 194.7h.6M458.2 187.5h.6M458.1 193.4h.6M455.7 189.0h.6M454.3 190.3h.6M457.1 189.1h.6M459.2 195.3h.6M459.9 195.4h.6M457.5 183.4h.6M461.5 184.2h.6M457.3 191.8h.6M456.6 190.0h.6M458.1 185.2h.6M456.3 189.1h.6M458.4 182.1h.6M458.0 189.6h.6M456.5 191.8h.6M455.8 195.2h.6M456.8 196.0h.6M457.9 189.3h.6M455.9 194.1h.6M458.4 190.3h.6M457.8 193.6h.6M458.5 191.6h.6M459.1 187.8h.6M460.1 178.4h.6M455.4 192.9h.6M457.8 178.5h.6M456.1 184.0h.6M459.6 193.4h.6M455.4 179.6h.6M458.0 180.4h.6M456.9 184.9h.6M457.9 192.9h.6M456.8 185.3h.6M458.2 200.1h.6M458.4 186.4h.6M459.1 188.0h.6M455.8 193.4h.6M460.2 181.2h.6M458.9 180.4h.6M457.7 188.1h.6M457.3 188.1h.6M458.8 185.4h.6M457.5 186.8h.6M458.2 184.4h.6M458.9 191.0h.6M457.0 180.0h.6M457.4 195.9h.6M458.7 189.0h.6M460.7 199.6h.6M458.6 198.5h.6M457.4 186.4h.6M458.1 175.8h.6M457.9 185.4h.6M459.7 192.8h.6M460.0 185.8h.6M459.9 189.9h.6M458.6 191.7h.6M456.0 195.2h.6M457.2 193.3h.6M457.7 182.1h.6M457.4 190.9h.6M457.4 200.6h.6M459.6 189.5h.6M457.3 198.9h.6M457.9 196.9h.6M455.9 175.1h.6M458.9 195.2h.6M457.6 187.7h.6M458.5 192.5h.6M457.7 189.0h.6M458.1 196.3h.6M458.8 170.9h.6M458.3 186.7h.6M459.4 193.8h.6M457.1 188.2h.6M454.5 188.0h.6M456.2 189.7h.6M456.8 197.4h.6M459.7 186.4h.6M456.5 197.8h.6M455.9 186.4h.6M457.3 190.5h.6M457.9 182.5h.6M459.1 191.5h.6M458.3 199.8h.6M460.5 190.6h.6M457.2 186.9h.6M457.6 181.4h.6M456.8 185.3h.6M458.6 194.0h.6M454.3 177.7h.6M456.9 181.4h.6M457.8 176.6h.6M457.5 190.2h.6M458.4 185.8h.6M458.4 194.0h.6M457.3 181.5h.6M457.1 190.9h.6M458.2 177.1h.6M455.7 177.6h.6M460.4 191.8h.6M458.1 180.6h.6M454.8 202.9h.6M458.7 171.7h.6M460.1 191.5h.6M457.7 190.6h.6M459.1 175.0h.6M458.2 179.9h.6M457.2 187.4h.6M457.2 183.6h.6M458.1 186.0h.6M458.2 194.0h.6M456.6 187.5h.6M456.6 194.5h.6M458.9 195.9h.6M459.3 189.6h.6M456.4 183.5h.6M459.6 189.7h.6M459.0 184.8h.6M457.5 202.1h.6M459.2 177.8h.6M456.8 189.8h.6M459.3 195.5h.6M459.0 197.3h.6M458.8 194.7h.6M456.5 180.4h.6M457.1 197.6h.6M459.8 181.3h.6M457.4 189.3h.6M458.6 191.1h.6M459.9 190.6h.6M457.5 187.1h.6M459.4 187.0h.6M458.6 185.9h.6M456.1 174.0h.6M457.4 183.3h.6M459.0 186.2h.6M456.5 193.8h.6M457.2 189.3h.6M456.7 199.4h.6M458.2 187.2h.6M457.7 174.4h.6M459.6 188.8h.6M459.5 183.0h.6M459.9 184.2h.6M457.9 202.8h.6M457.1 188.9h.6M457.6 189.6h.6M458.0 187.7h.6M458.4 185.8h.6M459.7 193.5h.6M456.2 185.1h.6M457.3 195.4h.6M455.0 196.5h.6M455.0 184.5h.6M456.6 186.4h.6M458.9 195.2h.6M457.6 187.4h.6M456.4 196.9h.6M455.5 184.2h.6M458.8 201.5h.6M457.4 191.8h.6M456.9 190.3h.6M454.8 193.3h.6M457.0 191.8h.6M457.6 182.1h.6M455.6 181.9h.6M457.7 193.8h.6M459.4 195.5h.6M460.8 195.7h.6M460.4 194.3h.6M458.3 176.9h.6M459.2 187.8h.6M457.2 179.6h.6M459.6 188.7h.6M457.2 183.4h.6M457.7 191.9h.6M458.7 189.6h.6M458.1 189.2h.6M457.2 196.8h.6M457.6 184.8h.6M460.3 182.3h.6M457.1 189.6h.6M457.6 188.2h.6M459.2 195.8h.6M455.9 201.8h.6M456.1 181.7h.6M458.8 181.8h.6M456.1 194.6h.6M458.5 191.4h.6M459.8 196.0h.6M457.1 185.5h.6M458.4 185.9h.6M458.2 194.9h.6M458.2 179.0h.6M460.2 188.3h.6M458.3 177.5h.6M457.7 179.9h.6M460.1 185.5h.6M455.8 187.9h.6M456.5 189.2h.6M456.4 176.9h.6M457.5 186.7h.6M456.6 193.5h.6M459.0 188.1h.6M457.7 191.3h.6M459.1 190.0h.6M456.2 193.2h.6M461.2 193.2h.6M458.3 184.9h.6M455.6 192.3h.6M458.6 191.9h.6M458.0 197.6h.6M457.6 175.8h.6M457.6 190.0h.6M458.9 192.7h.6M458.8 192.0h.6M458.2 180.7h.6M457.3 195.8h.6M460.2 170.4h.6M457.6 185.8h.6M459.0 175.2h.6M457.0 190.1h.6M456.6 176.8h.6M460.5 187.1h.6M457.9 193.0h.6M460.5 183.9h.6M457.6 186.5h.6M459.2 195.2h.6M460.1 185.7h.6M456.1 184.4h.6M455.0 191.2h.6M454.8 191.7h.6M456.3 191.7h.6M459.9 188.0h.6M457.6 189.1h.6M456.9 191.2h.6M457.4 189.9h.6M456.6 192.5h.6M458.3 182.8h.6M457.7 179.1h.6M455.7 181.1h.6M458.4 186.0h.6M457.7 190.7h.6M457.4 187.5h.6M456.6 193.0h.6M457.4 201.3h.6M456.1 188.1h.6M458.3 185.4h.6M460.9 190.6h.6M458.4 177.2h.6M458.4 180.5h.6M458.6 191.3h.6M457.6 184.9h.6M456.6 184.4h.6M460.0 183.2h.6M457.3 191.6h.6M455.8 185.9h.6M459.4 190.5h.6M458.6 193.7h.6M457.7 172.5h.6M458.9 192.7h.6M454.4 187.3h.6M459.8 180.7h.6M459.1 198.8h.6M457.6 186.9h.6M456.3 193.2h.6M458.1 192.6h.6M457.7 189.0h.6M456.9 196.2h.6M457.6 197.4h.6M459.1 183.7h.6M456.2 195.9h.6M458.4 186.3h.6M459.3 174.8h.6M458.6 186.3h.6M458.8 184.8h.6M457.1 193.5h.6M458.3 178.8h.6M458.5 193.6h.6M455.4 182.2h.6M456.1 182.0h.6M456.8 201.8h.6M456.3 182.2h.6M457.4 197.9h.6M457.2 195.3h.6M459.3 185.9h.6M458.3 195.6h.6M458.1 199.9h.6M458.3 199.7h.6M456.3 190.4h.6M454.3 178.9h.6M457.0 186.0h.6M457.5 192.3h.6M455.7 176.9h.6M458.9 190.8h.6M459.1 194.5h.6M458.2 185.2h.6M458.5 182.3h.6M455.9 186.5h.6M461.0 182.1h.6M459.7 187.5h.6M460.3 185.3h.6M456.1 184.3h.6M457.5 192.6h.6M456.7 190.2h.6M461.2 188.9h.6M456.7 188.7h.6M457.3 190.6h.6M456.6 186.7h.6M458.8 188.8h.6M455.0 196.6h.6M458.3 202.0h.6M456.6 191.2h.6M456.5 194.2h.6M456.9 197.6h.6M457.9 173.7h.6M456.1 193.3h.6M458.8 195.7h.6M458.5 185.5h.6M458.0 189.1h.6M457.8 195.7h.6M456.4 186.6h.6M459.7 187.8h.6M458.6 185.0h.6M457.8 197.7h.6M460.1 189.0h.6M456.8 199.1h.6M455.0 187.4h.6M459.3 187.8h.6M457.7 188.4h.6M456.4 185.9h.6M458.2 177.0h.6M456.6 168.2h.6M459.1 189.5h.6M455.4 178.4h.6M456.7 200.0h.6M458.5 181.0h.6M457.0 177.4h.6M456.4 176.8h.6M460.4 193.5h.6M459.6 191.8h.6M456.7 195.5h.6M458.5 183.7h.6M455.4 188.4h.6M456.0 186.7h.6M454.8 176.0h.6M459.1 192.5h.6M458.0 186.8h.6M458.0 182.0h.6M458.9 199.7h.6M456.9 177.9h.6M457.8 176.7h.6M460.6 187.9h.6M458.4 189.9h.6M457.0 183.5h.6M456.2 202.4h.6M457.9 196.1h.6M459.9 186.6h.6M457.0 185.9h.6M458.3 181.8h.6M459.1 186.9h.6M456.6 193.5h.6M459.8 182.4h.6M457.5 187.4h.6M458.5 194.1h.6M457.6 182.2h.6M456.9 194.7h.6M460.4 189.9h.6M459.4 183.5h.6M455.9 182.2h.6M462.1 197.4h.6M456.3 183.2h.6M457.2 179.6h.6M458.6 181.0h.6M457.4 192.7h.6M457.4 195.5h.6M457.0 196.8h.6M456.8 184.5h.6M455.6 190.9h.6M458.8 188.7h.6M459.8 193.1h.6M458.3 177.0h.6M457.5 191.1h.6M456.0 198.9h.6M458.2 199.1h.6M455.9 201.2h.6M459.8 189.6h.6M457.2 200.0h.6M456.3 187.1h.6M459.4 188.0h.6M456.6 180.5h.6M457.0 197.5h.6M461.8 181.7h.6M456.0 193.0h.6M457.5 185.6h.6M457.5 198.0h.6M458.9 183.3h.6M458.5 180.0h.6M459.4 174.3h.6M457.1 195.0h.6M460.3 192.2h.6M454.9 187.2h.6M459.1 193.1h.6M458.3 184.6h.6M454.9 185.2h.6M458.0 183.9h.6M456.5 191.3h.6M457.3 189.9h.6M459.3 183.5h.6M459.2 180.6h.6M459.0 191.4h.6M458.5 193.7h.6M458.1 176.3h.6M460.2 190.1h.6M458.1 189.0h.6M458.3 187.0h.6M455.8 180.3h.6M460.4 192.9h.6M456.2 200.0h.6M458.2 180.7h.6M456.6 183.9h.6M459.4 193.9h.6M457.4 186.9h.6M456.7 189.4h.6M456.2 194.8h.6M457.6 195.3h.6M460.1 190.7h.6M456.4 190.4h.6M456.5 196.2h.6M457.3 187.3h.6M454.7 193.4h.6M457.0 197.8h.6M458.5 188.2h.6M459.0 186.7h.6M456.6 188.3h.6M457.4 196.3h.6M456.7 181.0h.6M459.8 194.9h.6M457.5 195.2h.6M455.7 202.2h.6M457.2 184.8h.6M457.8 196.9h.6M458.9 195.7h.6M458.3 193.9h.6M457.9 193.6h.6M461.4 195.0h.6M458.2 185.3h.6M457.9 197.2h.6M458.9 187.6h.6M457.9 201.8h.6M457.7 193.7h.6M458.8 194.2h.6M457.2 191.7h.6M455.6 195.5h.6M458.8 197.4h.6M456.9 196.5h.6M456.5 187.2h.6M458.8 188.9h.6M456.1 193.2h.6M457.5 201.7h.6M458.2 187.2h.6M456.2 195.9h.6M456.1 196.6h.6M459.4 197.3h.6M455.7 199.7h.6M460.3 199.3h.6M461.2 191.0h.6M457.8 198.5h.6M459.4 201.5h.6M457.8 191.5h.6M457.7 191.4h.6M458.1 193.1h.6M459.0 191.4h.6M459.2 191.1h.6M459.7 200.2h.6M457.9 193.7h.6M458.5 196.7h.6M456.6 197.9h.6M455.4 189.3h.6M456.3 195.6h.6M456.8 183.9h.6M459.5 192.0h.6M457.5 196.2h.6M458.5 197.3h.6M456.2 196.1h.6M459.3 198.1h.6M460.0 188.0h.6M459.6 188.1h.6M456.4 195.6h.6M461.2 200.1h.6M457.8 195.1h.6M459.5 189.0h.6M457.5 191.9h.6M459.6 197.2h.6M458.4 200.2h.6M457.6 190.5h.6M459.2 186.3h.6M458.4 194.6h.6M455.8 195.5h.6M456.8 200.9h.6M459.0 198.8h.6M459.3 194.6h.6M459.5 197.5h.6M458.8 199.6h.6M460.7 187.0h.6M457.4 188.0h.6M456.3 197.8h.6M456.7 193.7h.6M457.2 199.1h.6M460.2 195.2h.6M457.0 192.1h.6M457.7 187.2h.6M456.3 195.6h.6M458.3 195.5h.6M458.5 191.3h.6M457.8 190.1h.6M458.3 185.5h.6M458.7 195.8h.6M457.4 195.4h.6M459.4 195.0h.6M460.6 200.2h.6M458.2 193.8h.6M456.4 189.8h.6M458.3 195.2h.6M458.5 202.3h.6M458.6 196.5h.6M457.7 189.7h.6M457.4 194.2h.6M459.0 197.8h.6M456.6 194.2h.6M459.0 188.2h.6M457.7 188.0h.6M457.1 200.0h.6M456.6 198.9h.6M457.8 187.4h.6M458.3 195.7h.6M457.6 200.2h.6M457.6 198.1h.6M458.0 192.3h.6M458.5 199.5h.6M460.0 200.1h.6M455.7 188.6h.6M457.6 200.1h.6M455.4 195.3h.6M456.4 198.3h.6M459.4 193.4h.6M459.9 198.1h.6M457.8 201.3h.6M460.9 194.3h.6M458.4 196.2h.6M459.1 192.9h.6M457.7 200.1h.6M457.9 200.8h.6M458.4 202.5h.6M460.0 189.5h.6M459.0 193.6h.6M457.2 198.7h.6M459.5 197.1h.6M459.5 202.2h.6M458.5 197.6h.6M458.7 201.6h.6M456.8 194.4h.6M456.4 192.2h.6M458.5 193.1h.6M457.0 193.7h.6M451.5 173.2h.6M451.7 173.6h.6M452.1 178.1h.6M456.9 173.2h.6M450.7 172.9h.6M454.3 172.5h.6M455.0 182.0h.6M445.9 179.6h.6M458.0 176.1h.6M450.9 182.8h.6M450.4 175.4h.6M448.4 178.0h.6M455.1 173.1h.6M453.6 177.5h.6M455.8 175.4h.6M448.8 176.6h.6M452.5 174.8h.6M448.3 178.0h.6M446.3 171.8h.6M450.7 171.1h.6M452.6 170.2h.6M450.5 177.3h.6M455.2 172.9h.6M451.9 180.0h.6M448.7 177.1h.6M454.5 179.7h.6M450.9 177.0h.6M449.0 177.7h.6M452.4 174.0h.6M458.3 178.0h.6M451.9 177.3h.6M463.0 184.4h.6M448.6 184.9h.6M456.1 167.7h.6M467.6 183.6h.6M455.7 195.9h.6M457.2 168.4h.6M458.5 179.7h.6M453.0 194.9h.6M439.1 172.6h.6" stroke="#0a0a0a" stroke-width="0.7" opacity="0.92" fill="none"/>
<path d="M436.0 204.8v1.6M432.4 167.7h1.4M444.3 204.8v1.6M432.4 176.4h1.4M452.6 204.8v1.6M432.4 185.1h1.4M460.9 204.8v1.6M432.4 193.9h1.4M469.2 204.8v1.6M432.4 202.6h1.4" stroke="#888" stroke-width="0.6" fill="none" opacity="0.6"/>
<rect x="435.0" y="166.7" width="35.2" height="36.9" fill="none" stroke="#1a1a1a" stroke-width="0.85"/>
<line x1="454.4" y1="166.7" x2="454.4" y2="203.6" stroke="#222" stroke-width="0.7"/>
<line x1="435.0" y1="186.3" x2="470.2" y2="186.3" stroke="#222" stroke-width="0.7"/>
<text x="469.0" y="171.9" font-size="5" font-weight="bold" text-anchor="end" fill="#111">11</text>
<path d="M445.4 243.7h.6M453.2 235.0h.6M449.1 248.7h.6M455.8 251.6h.6M446.7 248.4h.6M448.0 244.4h.6M449.2 251.6h.6M448.5 247.3h.6M443.1 243.7h.6M442.5 242.3h.6M448.6 247.4h.6M443.4 257.6h.6M446.1 254.8h.6M446.9 246.2h.6M439.7 255.3h.6M450.2 249.3h.6M447.7 250.4h.6M449.4 252.9h.6M449.3 242.4h.6M446.1 232.3h.6M443.5 255.0h.6M445.7 246.3h.6M444.8 258.3h.6M441.0 245.0h.6M443.7 252.6h.6M450.2 238.1h.6M444.7 236.2h.6M448.5 241.9h.6M438.5 258.2h.6M443.7 244.9h.6M450.3 249.8h.6M441.5 246.2h.6M443.7 256.0h.6M448.5 238.7h.6M448.6 241.6h.6M446.0 252.3h.6M446.9 248.0h.6M447.0 239.1h.6M444.4 256.7h.6M449.5 235.0h.6M446.2 249.8h.6M449.3 236.6h.6M455.2 239.1h.6M446.3 253.8h.6M450.7 249.5h.6M450.1 248.0h.6M445.8 256.8h.6M451.1 238.4h.6M455.4 231.7h.6M452.3 246.4h.6M443.1 253.4h.6M448.2 252.2h.6M443.7 251.8h.6M448.2 246.5h.6M443.7 250.2h.6M441.8 255.0h.6M444.6 240.5h.6M451.6 238.8h.6M455.4 242.4h.6M446.3 245.2h.6M444.1 256.5h.6M447.1 244.9h.6M450.5 249.7h.6M449.0 249.5h.6M447.1 244.2h.6M446.2 242.6h.6M447.6 248.2h.6M448.9 249.8h.6M450.2 243.8h.6M440.1 252.3h.6M452.6 248.7h.6M451.5 244.2h.6M443.6 249.5h.6M447.9 252.6h.6M449.8 250.1h.6M446.4 248.7h.6M445.5 245.2h.6M445.3 239.7h.6M450.4 246.1h.6M443.6 239.1h.6M449.3 248.8h.6M445.3 251.6h.6M450.9 247.9h.6M442.8 260.0h.6M450.0 245.9h.6M445.9 244.7h.6M455.1 237.9h.6M449.7 246.6h.6M448.3 250.1h.6M443.9 243.7h.6M442.0 245.2h.6M442.7 252.6h.6M441.3 247.8h.6M445.6 244.3h.6M437.9 256.9h.6M446.2 248.5h.6M457.4 241.0h.6M449.0 242.9h.6M447.3 245.6h.6M446.6 253.2h.6M444.3 255.1h.6M449.2 240.6h.6M440.3 251.2h.6M444.9 250.6h.6M451.1 243.9h.6M448.7 254.0h.6M449.7 254.3h.6M442.5 250.3h.6M450.8 240.2h.6M450.0 247.8h.6M444.1 258.2h.6M451.6 247.4h.6M446.5 255.0h.6M444.8 254.7h.6M449.7 246.4h.6M451.4 248.5h.6M446.6 245.6h.6M439.6 252.3h.6M448.1 236.5h.6M453.2 236.1h.6M444.4 252.2h.6M447.0 250.9h.6M448.5 242.5h.6M445.9 253.1h.6M444.5 253.8h.6M442.7 240.3h.6M440.9 242.8h.6M450.5 241.2h.6M445.7 247.2h.6M445.3 246.0h.6M449.6 249.5h.6M448.8 252.0h.6M445.4 248.2h.6M450.9 246.1h.6M442.2 254.6h.6M447.7 253.0h.6M446.0 246.7h.6M447.1 251.1h.6M452.0 243.0h.6M451.9 243.6h.6M445.6 244.4h.6M443.0 253.7h.6M445.1 261.8h.6M444.8 248.4h.6M454.8 239.9h.6M444.6 260.1h.6M451.5 245.2h.6M446.4 249.1h.6M447.7 241.6h.6M452.3 244.6h.6M452.5 243.4h.6M450.4 234.3h.6M435.7 256.2h.6M446.2 245.3h.6M452.8 241.0h.6M444.3 254.8h.6M445.6 257.7h.6M450.3 239.4h.6M445.8 251.4h.6M445.0 245.3h.6M441.6 260.9h.6M447.1 243.0h.6M448.0 244.4h.6M448.4 245.4h.6M445.3 242.9h.6M437.7 255.8h.6M451.0 249.2h.6M445.9 252.5h.6M450.1 243.6h.6M442.7 252.0h.6M445.3 250.4h.6M443.8 252.9h.6M446.0 249.5h.6M453.5 237.4h.6M446.3 257.0h.6M449.7 238.4h.6M450.2 243.7h.6M440.5 256.2h.6M449.3 242.0h.6M442.6 249.1h.6M447.0 251.0h.6M445.6 243.1h.6M447.9 246.0h.6M448.0 246.4h.6M446.4 249.3h.6M445.6 256.5h.6M451.9 236.5h.6M454.6 241.2h.6M444.8 255.5h.6M445.5 256.6h.6M441.7 261.0h.6M452.5 239.5h.6M449.8 247.3h.6M451.7 245.5h.6M452.5 241.9h.6M446.5 247.4h.6M452.1 245.0h.6M445.2 255.1h.6M438.3 255.2h.6M446.2 249.4h.6M452.4 250.2h.6M445.9 256.4h.6M448.0 257.1h.6M444.4 249.8h.6M446.1 239.6h.6M446.9 246.2h.6M447.4 243.2h.6M454.8 242.7h.6M451.5 241.6h.6M449.9 243.8h.6M447.3 234.7h.6M447.2 256.8h.6M446.7 247.0h.6M451.7 239.7h.6M449.8 238.2h.6M445.4 247.7h.6M441.9 258.0h.6M450.1 245.7h.6M448.7 246.0h.6M441.2 256.2h.6M448.0 244.8h.6M451.6 248.3h.6M456.2 234.1h.6M451.7 242.6h.6M443.8 253.1h.6M457.4 237.0h.6M451.4 248.1h.6M443.2 253.8h.6M448.1 244.9h.6M447.0 246.7h.6M443.0 254.0h.6M453.7 244.9h.6M445.6 246.8h.6M444.7 248.0h.6M447.4 248.4h.6M444.3 249.2h.6M444.5 244.6h.6M446.5 248.4h.6M449.7 248.1h.6M443.3 249.5h.6M444.7 252.6h.6M447.7 259.0h.6M449.4 242.5h.6M448.1 247.4h.6M448.7 238.6h.6M452.5 243.9h.6M447.2 255.6h.6M443.5 249.6h.6M450.4 239.7h.6M445.0 248.3h.6M451.4 245.1h.6M443.9 254.0h.6M447.6 243.8h.6M441.8 249.0h.6M447.5 241.8h.6M447.6 243.4h.6M456.2 248.3h.6M452.2 241.7h.6M448.4 251.3h.6M440.5 260.8h.6M447.1 240.8h.6M445.0 231.5h.6M445.3 247.0h.6M449.3 248.6h.6M447.3 241.7h.6M452.5 247.5h.6M451.9 249.6h.6M446.9 245.6h.6M446.4 253.5h.6M444.8 250.8h.6M447.6 237.2h.6M443.9 243.7h.6M443.5 251.5h.6M447.1 245.3h.6M449.8 239.4h.6M438.9 258.0h.6M452.1 240.5h.6M442.8 248.9h.6M446.8 232.3h.6M447.2 244.3h.6M451.7 242.9h.6M442.5 249.3h.6M444.0 248.0h.6M442.8 243.8h.6M455.4 242.0h.6M447.1 247.4h.6M447.7 247.5h.6M450.6 245.1h.6M444.0 248.3h.6M452.1 237.9h.6M449.9 246.8h.6M449.6 249.3h.6M444.6 244.6h.6M446.3 255.0h.6M444.9 251.7h.6M449.8 251.4h.6M449.3 253.6h.6M447.5 239.9h.6M440.6 257.2h.6M452.4 244.3h.6M441.8 260.2h.6M444.8 247.4h.6M444.0 252.8h.6M441.1 248.0h.6M444.7 255.1h.6M447.2 251.0h.6M443.8 248.8h.6M441.2 258.2h.6M447.8 248.9h.6M447.2 248.9h.6M444.3 251.6h.6M449.2 243.1h.6M447.5 253.7h.6M451.0 247.2h.6M445.8 258.2h.6M447.8 251.4h.6M450.7 239.2h.6M444.4 246.8h.6M448.5 252.6h.6M445.0 249.0h.6M448.5 244.0h.6M444.8 253.2h.6M445.0 244.6h.6M449.4 242.4h.6M443.4 249.9h.6M452.6 251.2h.6M441.7 257.0h.6M452.0 237.6h.6M450.3 236.5h.6M442.6 256.5h.6M450.4 247.6h.6M446.2 245.3h.6M446.4 241.8h.6M447.6 249.5h.6M447.9 247.7h.6M441.6 249.9h.6M445.0 253.1h.6M449.8 242.8h.6M447.6 254.0h.6M444.5 252.3h.6M449.3 246.2h.6M449.4 244.3h.6M451.7 247.3h.6M445.1 259.9h.6M445.5 252.4h.6M455.5 239.2h.6M451.2 254.3h.6M443.3 248.0h.6M452.5 251.5h.6M448.1 256.2h.6M444.4 249.8h.6M453.5 245.9h.6M448.6 245.4h.6M446.0 246.7h.6M442.8 242.4h.6M444.7 241.0h.6M442.9 253.8h.6M441.9 252.3h.6M447.8 243.5h.6M442.1 247.5h.6M444.8 252.9h.6M450.4 235.8h.6M445.2 256.9h.6M446.7 249.2h.6M447.6 250.6h.6M454.1 250.8h.6M446.1 254.3h.6M452.6 239.2h.6M448.8 247.0h.6M442.0 252.8h.6M444.2 250.1h.6M443.6 251.2h.6M452.6 245.1h.6M442.6 253.0h.6M442.0 253.6h.6M450.2 243.7h.6M442.2 255.5h.6M448.8 250.4h.6M444.9 255.1h.6M444.5 249.9h.6M444.9 256.8h.6M446.4 247.1h.6M448.2 247.6h.6M444.9 251.5h.6M446.3 246.4h.6M447.3 249.6h.6M446.2 247.6h.6M445.5 242.9h.6M447.7 241.4h.6M446.5 247.8h.6M447.4 246.3h.6M443.2 253.1h.6M451.5 241.7h.6M449.5 244.0h.6M450.5 244.9h.6M449.5 244.6h.6M445.5 250.4h.6M452.1 241.4h.6M447.5 243.2h.6M441.8 248.0h.6M447.1 246.6h.6M440.4 257.9h.6M451.0 232.5h.6M445.3 249.8h.6M444.4 246.5h.6M441.4 244.5h.6M449.4 243.2h.6M446.6 241.2h.6M442.9 254.0h.6M448.7 245.1h.6M443.7 252.4h.6M447.3 242.6h.6M449.0 249.3h.6M451.0 248.6h.6M445.1 250.6h.6M447.4 248.9h.6M446.0 243.6h.6M446.1 244.8h.6M452.5 244.7h.6M447.1 251.5h.6M440.3 252.6h.6M446.6 250.9h.6M445.0 254.4h.6M449.6 245.2h.6M447.4 242.8h.6M446.9 242.7h.6M445.2 254.3h.6M443.9 254.1h.6M448.3 253.6h.6M448.8 231.8h.6M448.6 252.5h.6M445.0 242.6h.6M447.6 248.6h.6M443.6 246.7h.6M443.6 245.4h.6M447.9 250.7h.6M443.9 251.4h.6M452.8 249.0h.6M450.8 240.4h.6M453.0 240.1h.6M444.1 253.4h.6M456.4 230.4h.6M450.7 233.6h.6M449.7 239.7h.6M450.0 257.8h.6M445.1 245.5h.6M444.7 254.1h.6M449.0 253.8h.6M451.2 228.8h.6M445.7 240.0h.6M452.2 241.6h.6M448.5 254.4h.6M445.1 253.3h.6M442.5 253.6h.6M448.7 245.1h.6M449.9 235.5h.6M444.8 251.1h.6M447.0 245.3h.6M440.3 254.0h.6M446.9 248.2h.6M445.4 245.9h.6M446.8 251.2h.6M446.7 244.6h.6M445.0 257.8h.6M444.6 250.9h.6M448.1 251.3h.6M444.4 247.5h.6M449.9 242.0h.6M447.1 248.4h.6M441.1 257.1h.6M449.9 243.8h.6M450.9 248.0h.6M447.2 240.3h.6M452.7 242.8h.6M457.0 251.2h.6M454.4 252.9h.6M459.0 248.0h.6M456.0 252.4h.6M456.2 256.4h.6M458.2 248.9h.6M456.7 246.0h.6M457.9 244.0h.6M455.9 240.8h.6M462.9 250.2h.6M456.2 251.2h.6M451.2 257.2h.6M451.3 252.2h.6M454.9 252.9h.6M457.9 250.0h.6M458.9 246.5h.6M456.7 246.5h.6M454.0 241.8h.6M457.1 258.8h.6M453.6 245.4h.6M454.0 250.8h.6M450.2 249.4h.6M453.9 242.3h.6M456.7 249.6h.6M456.9 255.8h.6M451.9 255.1h.6M460.0 251.5h.6M450.4 249.9h.6M460.5 253.4h.6M455.8 240.9h.6M456.2 239.4h.6M453.7 245.9h.6M457.2 244.5h.6M455.8 248.2h.6M456.8 252.1h.6M457.4 246.6h.6M456.5 244.5h.6M452.5 244.8h.6M456.0 236.0h.6M458.3 250.6h.6M451.5 242.1h.6M453.4 234.4h.6M451.0 250.9h.6M450.2 261.8h.6M460.1 257.9h.6M457.5 255.5h.6M459.9 242.4h.6M460.6 243.5h.6M455.0 232.2h.6M455.1 237.8h.6M462.6 250.6h.6M458.6 245.4h.6M458.8 251.7h.6M454.9 251.7h.6M454.8 240.4h.6M450.1 238.3h.6M457.7 260.4h.6M454.6 244.6h.6M459.9 247.4h.6M457.0 248.4h.6M448.9 240.0h.6M456.9 248.9h.6M455.2 240.1h.6M456.4 246.5h.6M453.1 246.9h.6M456.7 261.6h.6M459.2 242.7h.6M458.3 238.7h.6M449.1 243.4h.6M461.7 252.9h.6M453.9 250.8h.6M449.9 247.1h.6M453.1 240.5h.6M454.8 243.3h.6M457.0 240.5h.6M457.1 251.1h.6M458.4 252.3h.6M458.1 254.8h.6M459.7 254.9h.6M459.5 240.1h.6M455.3 257.4h.6M454.2 252.9h.6M459.2 256.7h.6M454.2 249.8h.6M455.6 252.4h.6M450.3 247.9h.6M459.5 248.2h.6M459.0 257.2h.6M456.5 245.7h.6M454.4 240.9h.6M454.7 247.2h.6M458.9 244.1h.6M454.0 248.0h.6M455.4 256.2h.6M456.1 257.2h.6M456.3 232.1h.6M455.5 241.4h.6M456.1 242.6h.6M458.7 246.6h.6M455.0 261.3h.6M455.1 245.4h.6M455.0 252.9h.6M456.8 248.5h.6M459.5 244.6h.6M458.2 253.5h.6M456.9 245.2h.6M455.6 255.3h.6M448.0 257.7h.6M453.3 254.2h.6M457.6 251.0h.6M457.6 245.3h.6M460.8 248.7h.6M458.5 247.1h.6M455.1 255.1h.6M453.2 248.1h.6M453.6 238.4h.6M459.0 248.5h.6M450.6 247.9h.6M463.0 254.9h.6M455.4 250.6h.6M455.2 249.8h.6M455.7 249.5h.6M454.7 253.7h.6M452.5 237.6h.6M451.1 244.1h.6M456.4 251.9h.6M458.4 238.8h.6M451.4 252.2h.6M461.3 252.2h.6M455.6 254.8h.6M460.9 254.6h.6M456.7 246.5h.6M454.4 245.6h.6M452.5 250.5h.6M459.1 246.5h.6M458.3 252.5h.6M455.7 248.0h.6M460.5 243.7h.6M454.0 245.8h.6M453.8 251.9h.6M457.8 246.6h.6M457.9 237.2h.6M458.9 242.0h.6M458.7 244.3h.6M457.8 252.7h.6M451.8 259.9h.6M452.0 245.6h.6M458.1 252.2h.6M456.7 246.4h.6M458.4 250.7h.6M455.1 255.4h.6M460.7 244.7h.6M454.9 241.8h.6M452.5 249.5h.6M458.9 239.4h.6M455.4 250.5h.6M454.3 253.8h.6M457.8 248.1h.6M459.5 250.6h.6M459.3 252.3h.6M455.3 257.9h.6M454.1 250.8h.6M455.1 243.3h.6M452.3 255.7h.6M460.1 255.3h.6M450.3 252.5h.6M456.4 252.2h.6M456.9 252.2h.6M457.5 255.2h.6M456.5 245.1h.6M449.6 250.4h.6M449.8 244.8h.6M456.0 247.7h.6M453.9 259.4h.6M451.9 256.0h.6M455.2 247.7h.6M456.3 251.4h.6M450.9 251.6h.6M455.6 248.3h.6M456.1 247.7h.6M459.3 242.9h.6M453.8 251.6h.6M455.5 254.2h.6M447.6 246.9h.6M456.3 259.5h.6M459.1 242.7h.6M459.2 243.2h.6M457.0 246.1h.6M452.0 253.5h.6M457.7 246.5h.6M453.6 243.6h.6M455.6 255.3h.6M454.7 248.0h.6M454.9 240.8h.6M454.9 244.5h.6M459.6 249.5h.6M459.8 247.9h.6M456.6 257.1h.6M457.4 248.9h.6M457.5 250.5h.6M459.4 244.6h.6M454.7 242.9h.6M459.6 252.4h.6M455.2 251.9h.6M461.7 253.3h.6M455.8 242.5h.6M459.5 246.5h.6M451.5 254.5h.6M453.6 245.9h.6M462.4 245.9h.6M461.1 233.8h.6M458.4 246.9h.6M456.6 244.6h.6M457.0 252.4h.6M455.2 253.4h.6M458.3 241.2h.6M461.4 249.4h.6M458.6 257.3h.6M453.4 241.9h.6M455.0 259.8h.6M460.8 253.5h.6M453.2 246.0h.6M455.5 249.1h.6M452.7 248.7h.6M454.7 251.2h.6M453.2 245.0h.6M456.5 252.5h.6M456.3 249.5h.6M455.6 244.6h.6M454.8 243.0h.6M457.6 250.8h.6M455.6 243.1h.6M454.9 247.3h.6M459.0 246.3h.6M456.7 244.3h.6M458.0 246.7h.6M453.6 236.5h.6M455.1 246.2h.6M459.4 240.6h.6M454.3 240.7h.6M458.3 250.0h.6M455.0 252.1h.6M456.5 245.3h.6M455.9 252.0h.6M458.8 259.1h.6M456.9 248.7h.6M456.3 243.3h.6M455.5 251.8h.6M454.9 246.5h.6M452.3 252.0h.6M459.1 248.3h.6M456.5 249.5h.6M456.2 247.0h.6M458.9 262.1h.6M459.0 250.2h.6M455.0 240.8h.6M459.0 247.1h.6M457.7 245.2h.6M448.8 261.1h.6M452.5 252.0h.6M459.4 238.3h.6M456.5 247.7h.6M451.5 259.0h.6M454.6 251.5h.6M456.1 259.8h.6M453.4 245.9h.6M456.8 252.7h.6M456.0 255.3h.6M459.4 250.9h.6M452.1 242.6h.6M451.3 245.4h.6M458.7 258.2h.6M456.6 253.7h.6M454.9 246.6h.6M458.2 238.3h.6M455.5 243.0h.6M456.8 251.9h.6M456.6 256.7h.6M456.3 256.0h.6M456.7 235.9h.6M456.0 243.0h.6M455.0 233.8h.6M455.3 246.2h.6M452.8 246.9h.6M458.4 248.8h.6M458.0 242.9h.6M461.0 242.8h.6M452.5 249.5h.6M457.7 256.3h.6M458.2 254.2h.6M451.6 249.5h.6M454.3 235.2h.6M460.3 241.1h.6M457.9 253.5h.6M455.1 242.3h.6M459.9 248.4h.6M456.5 249.1h.6M457.0 252.1h.6M456.5 254.3h.6M455.9 240.1h.6M453.7 251.7h.6M453.4 249.7h.6M458.2 244.4h.6M455.9 240.7h.6M452.4 251.3h.6M456.6 241.6h.6M454.8 244.1h.6M455.1 244.4h.6M454.6 261.9h.6M454.6 240.3h.6M454.8 255.8h.6M455.4 252.3h.6M455.0 245.8h.6M460.2 249.9h.6M454.4 252.6h.6M452.0 239.2h.6M455.2 245.7h.6M456.3 240.8h.6M457.2 247.1h.6M455.3 250.3h.6M455.0 254.6h.6M453.5 250.1h.6M455.5 234.4h.6M453.1 245.2h.6M457.3 240.4h.6M454.3 245.3h.6M451.8 245.0h.6M458.7 253.9h.6M453.0 243.6h.6M453.9 235.3h.6M462.4 243.7h.6M456.8 245.2h.6M455.1 238.9h.6M452.9 247.2h.6M454.0 252.3h.6M454.4 250.6h.6M457.4 240.9h.6M459.4 247.0h.6M463.0 244.8h.6M458.9 252.6h.6M451.6 238.7h.6M451.7 253.2h.6M456.0 253.9h.6M452.8 252.9h.6M455.8 251.9h.6M457.7 248.9h.6M459.9 239.7h.6M454.9 254.5h.6M452.9 252.7h.6M456.1 250.0h.6M449.0 242.9h.6M457.9 241.0h.6M458.2 252.6h.6M447.4 248.9h.6M452.7 241.8h.6M451.3 250.0h.6M460.1 245.4h.6M451.2 254.7h.6M458.2 248.6h.6M451.9 240.9h.6M455.2 257.4h.6M460.3 242.5h.6M450.8 247.6h.6M458.3 243.6h.6M456.2 253.8h.6M451.0 259.4h.6M460.0 248.7h.6M456.8 251.6h.6M453.8 252.8h.6M456.2 243.6h.6M455.6 246.5h.6M454.5 252.6h.6M458.2 254.0h.6M454.6 252.3h.6M455.1 258.5h.6M452.8 254.6h.6M454.4 237.8h.6M458.1 240.3h.6M453.4 247.9h.6M457.1 247.5h.6M457.1 250.0h.6M451.1 255.8h.6M460.0 244.7h.6M457.9 246.5h.6M453.5 246.6h.6M450.3 244.4h.6M457.9 254.4h.6M457.3 249.7h.6M454.1 254.1h.6M461.4 250.4h.6M461.0 249.0h.6M455.2 253.7h.6M456.3 246.9h.6M454.4 249.1h.6M450.8 233.4h.6M452.5 243.5h.6M452.1 239.7h.6M452.6 241.0h.6M453.4 237.3h.6M447.3 239.7h.6M452.3 236.7h.6M450.1 239.7h.6M455.9 236.5h.6M448.0 238.3h.6M448.4 236.8h.6M447.9 241.9h.6M452.4 238.9h.6M456.0 247.9h.6M452.8 240.9h.6M447.9 240.1h.6M449.0 233.8h.6M452.2 236.6h.6M455.5 237.5h.6M450.1 235.8h.6M450.4 238.1h.6M453.0 236.0h.6M448.7 235.1h.6M448.8 237.1h.6M450.5 236.3h.6M453.8 236.1h.6M451.7 237.9h.6M452.1 238.6h.6M449.6 238.3h.6M449.3 237.9h.6M454.6 240.9h.6M455.2 235.8h.6M454.7 239.6h.6M453.0 237.5h.6M456.5 235.7h.6M451.7 234.3h.6M450.1 239.5h.6M451.7 239.2h.6M455.1 235.2h.6M445.5 241.4h.6M446.2 237.4h.6M458.3 240.5h.6M450.5 241.1h.6M448.3 240.5h.6M449.7 236.3h.6M447.9 236.6h.6M451.8 243.7h.6M453.9 241.1h.6M450.6 243.4h.6M450.7 242.7h.6M447.1 240.2h.6M447.7 237.4h.6M450.4 232.9h.6M452.2 238.6h.6M445.6 238.0h.6M450.6 233.6h.6M448.9 241.4h.6M449.6 237.8h.6M450.6 237.7h.6M447.6 237.9h.6M444.8 238.8h.6M450.0 234.3h.6M446.2 238.9h.6M449.6 236.4h.6M449.2 239.0h.6M454.2 237.1h.6M445.0 235.7h.6M448.0 239.6h.6M454.4 239.4h.6M448.3 241.1h.6M458.6 246.0h.6M444.7 257.7h.6M460.2 234.4h.6M464.4 242.0h.6M439.0 247.3h.6M453.9 248.2h.6M458.2 238.2h.6M465.6 230.1h.6M436.9 253.3h.6M440.3 247.6h.6" stroke="#0a0a0a" stroke-width="0.7" opacity="0.92" fill="none"/>
<path d="M436.0 264.2v1.6M432.4 227.3h1.4M444.3 264.2v1.6M432.4 236.0h1.4M452.6 264.2v1.6M432.4 244.7h1.4M460.9 264.2v1.6M432.4 253.3h1.4M469.2 264.2v1.6M432.4 262.0h1.4" stroke="#888" stroke-width="0.6" fill="none" opacity="0.6"/>
<rect x="435.0" y="226.3" width="35.2" height="36.7" fill="none" stroke="#1a1a1a" stroke-width="0.85"/>
<line x1="454.4" y1="226.3" x2="454.4" y2="263.0" stroke="#222" stroke-width="0.7"/>
<line x1="435.0" y1="245.0" x2="470.2" y2="245.0" stroke="#222" stroke-width="0.7"/>
<text x="469.0" y="231.5" font-size="5" font-weight="bold" text-anchor="end" fill="#111">9</text>
<path d="M487.3 189.5h.6M484.5 190.3h.6M488.4 191.1h.6M485.8 180.7h.6M489.5 184.1h.6M492.4 188.0h.6M483.7 188.0h.6M488.5 172.6h.6M486.8 170.5h.6M493.6 177.6h.6M485.0 182.0h.6M484.2 191.6h.6M487.0 175.4h.6M488.3 186.5h.6M482.9 189.7h.6M484.2 178.4h.6M490.5 181.5h.6M487.4 179.1h.6M487.3 171.6h.6M486.5 179.3h.6M489.2 181.7h.6M485.1 181.0h.6M482.1 186.3h.6M483.4 176.2h.6M487.6 182.3h.6M492.4 176.1h.6M486.5 195.3h.6M486.1 176.0h.6M488.0 196.0h.6M484.5 189.2h.6M488.3 185.1h.6M488.9 182.7h.6M488.4 182.8h.6M487.1 177.5h.6M486.7 183.6h.6M485.1 179.5h.6M485.0 192.8h.6M487.5 188.5h.6M489.4 188.8h.6M489.8 193.3h.6M488.5 183.8h.6M487.1 183.7h.6M486.0 174.5h.6M488.6 176.0h.6M487.3 195.2h.6M487.6 178.5h.6M484.9 187.8h.6M486.8 181.5h.6M488.1 177.1h.6M484.2 186.4h.6M484.7 187.9h.6M485.6 184.6h.6M485.6 192.0h.6M486.1 184.7h.6M484.1 184.8h.6M486.2 186.0h.6M481.7 187.6h.6M486.8 186.1h.6M487.1 190.6h.6M484.9 180.8h.6M488.3 175.1h.6M493.2 172.4h.6M488.3 181.4h.6M487.3 193.6h.6M491.6 180.3h.6M487.4 179.5h.6M483.5 184.7h.6M486.1 176.5h.6M486.4 180.4h.6M484.0 185.2h.6M487.8 186.6h.6M485.8 178.5h.6M481.0 188.0h.6M489.6 179.1h.6M484.4 176.5h.6M490.2 183.3h.6M485.7 184.5h.6M487.0 182.3h.6M486.0 188.1h.6M489.7 177.7h.6M486.5 183.7h.6M485.7 198.9h.6M487.9 188.9h.6M486.2 187.6h.6M488.8 192.0h.6M484.8 185.1h.6M488.3 177.7h.6M486.3 181.3h.6M488.8 184.7h.6M491.1 188.0h.6M485.6 185.8h.6M487.5 179.4h.6M488.5 175.9h.6M487.5 181.4h.6M487.4 180.0h.6M491.2 180.6h.6M488.6 184.8h.6M489.9 180.4h.6M483.4 188.2h.6M488.8 188.5h.6M476.9 193.7h.6M490.2 184.8h.6M484.4 187.1h.6M483.0 181.9h.6M487.4 192.8h.6M486.0 182.8h.6M483.7 183.1h.6M485.2 184.2h.6M484.8 186.8h.6M487.0 180.1h.6M487.8 187.6h.6M486.3 183.1h.6M488.4 187.5h.6M485.2 196.1h.6M486.5 176.3h.6M485.2 185.4h.6M481.6 195.3h.6M489.5 178.7h.6M488.4 176.6h.6M486.9 182.8h.6M491.5 173.4h.6M486.8 172.7h.6M485.9 182.2h.6M486.2 190.5h.6M485.0 180.7h.6M490.1 184.8h.6M484.5 184.1h.6M484.8 178.7h.6M486.5 175.0h.6M491.2 182.2h.6M487.5 182.8h.6M487.0 179.3h.6M488.0 181.7h.6M484.3 189.6h.6M490.0 187.2h.6M488.2 182.4h.6M486.6 188.6h.6M486.1 192.2h.6M489.9 186.0h.6M487.8 179.2h.6M486.2 180.2h.6M486.5 178.8h.6M487.5 186.3h.6M485.4 194.0h.6M487.4 183.9h.6M487.6 180.7h.6M489.1 178.9h.6M485.5 196.1h.6M488.1 177.9h.6M483.5 190.8h.6M481.5 193.7h.6M490.1 181.8h.6M487.7 181.4h.6M484.4 186.6h.6M484.8 187.7h.6M487.9 180.6h.6M486.9 184.5h.6M486.5 182.8h.6M490.0 180.1h.6M486.5 190.4h.6M487.9 181.9h.6M484.3 182.3h.6M482.5 181.1h.6M485.9 192.1h.6M487.6 190.6h.6M487.7 185.8h.6M483.5 180.4h.6M486.3 183.7h.6M484.8 174.8h.6M487.4 182.6h.6M486.9 182.9h.6M486.9 177.3h.6M488.5 186.8h.6M485.7 194.5h.6M484.6 189.0h.6M486.6 184.3h.6M488.8 184.4h.6M487.4 177.1h.6M487.2 186.7h.6M486.5 177.1h.6M488.9 185.3h.6M489.5 184.1h.6M493.4 177.6h.6M488.4 185.2h.6M487.5 183.0h.6M487.6 189.4h.6M487.6 178.2h.6M488.4 190.3h.6M484.0 185.4h.6M489.9 188.2h.6M485.5 185.8h.6M488.2 177.9h.6M486.3 182.3h.6M485.2 192.0h.6M483.3 177.8h.6M484.4 191.5h.6M486.7 182.7h.6M485.4 193.4h.6M491.1 186.1h.6M484.7 182.4h.6M482.2 189.3h.6M485.7 190.7h.6M485.9 179.7h.6M481.7 185.2h.6M490.5 171.8h.6M484.4 183.5h.6M488.1 195.6h.6M490.4 186.2h.6M484.0 179.0h.6M488.0 184.4h.6M485.0 183.5h.6M485.8 197.5h.6M485.7 187.5h.6M487.0 188.8h.6M484.3 192.8h.6M489.6 187.6h.6M484.9 177.7h.6M486.4 183.5h.6M484.8 183.3h.6M483.3 182.8h.6M483.5 185.6h.6M481.5 179.3h.6M486.6 175.6h.6M485.9 182.9h.6M489.4 188.5h.6M485.3 188.9h.6M486.2 188.9h.6M485.6 185.8h.6M485.5 189.7h.6M489.8 194.1h.6M490.1 183.6h.6M490.6 182.9h.6M487.2 179.0h.6M489.9 174.9h.6M486.2 188.3h.6M483.9 186.8h.6M484.5 182.1h.6M486.7 192.5h.6M492.1 178.9h.6M483.4 179.5h.6M487.3 183.6h.6M484.3 178.8h.6M487.2 184.5h.6M492.1 177.8h.6M483.3 190.3h.6M485.5 184.8h.6M489.9 181.2h.6M486.2 184.3h.6M485.8 194.2h.6M490.4 180.7h.6M490.6 175.6h.6M485.6 179.8h.6M485.2 185.0h.6M487.9 179.0h.6M488.0 180.4h.6M487.8 186.0h.6M484.7 178.6h.6M489.1 183.9h.6M487.6 182.2h.6M490.1 187.2h.6M485.0 185.2h.6M484.5 181.5h.6M486.5 178.0h.6M484.2 190.2h.6M484.8 182.6h.6M483.2 191.2h.6M484.1 188.3h.6M487.9 187.4h.6M486.9 171.2h.6M484.8 182.6h.6M484.1 177.0h.6M487.5 184.2h.6M488.9 187.0h.6M489.5 186.1h.6M486.3 185.2h.6M488.2 189.9h.6M488.5 181.5h.6M483.8 189.8h.6M489.8 178.5h.6M487.4 178.4h.6M485.7 196.6h.6M486.2 181.6h.6M486.9 181.5h.6M488.6 175.0h.6M488.9 179.9h.6M485.4 198.7h.6M489.5 185.6h.6M486.2 187.0h.6M490.5 193.2h.6M484.1 192.6h.6M486.3 185.2h.6M486.2 182.0h.6M488.0 185.5h.6M488.8 181.3h.6M485.0 181.5h.6M486.0 186.3h.6M490.9 185.4h.6M484.7 198.9h.6M490.5 189.9h.6M490.1 174.0h.6M486.0 184.0h.6M488.0 172.8h.6M486.4 194.9h.6M489.8 186.2h.6M488.0 184.3h.6M481.5 186.9h.6M489.8 176.0h.6M491.7 189.3h.6M487.1 192.8h.6M484.6 183.4h.6M482.8 189.5h.6M486.5 197.8h.6M488.8 181.9h.6M482.3 181.8h.6M486.0 183.8h.6M485.8 182.1h.6M487.5 180.7h.6M485.0 182.7h.6M484.6 170.4h.6M487.3 178.3h.6M483.4 183.0h.6M486.1 191.6h.6M485.5 183.9h.6M486.7 180.4h.6M484.8 172.4h.6M483.2 177.3h.6M485.0 180.8h.6M482.3 185.3h.6M488.3 176.9h.6M485.4 181.3h.6M487.5 191.2h.6M487.7 188.4h.6M489.3 188.4h.6M486.9 187.4h.6M488.9 185.3h.6M489.4 181.2h.6M484.2 183.7h.6M486.8 196.3h.6M486.9 178.0h.6M483.2 178.3h.6M486.2 181.6h.6M487.5 184.4h.6M483.9 198.7h.6M485.6 182.4h.6M484.2 180.1h.6M488.4 174.0h.6M486.5 179.5h.6M486.6 187.7h.6M486.0 189.7h.6M485.3 186.0h.6M485.6 174.2h.6M484.5 182.1h.6M486.8 195.1h.6M487.3 187.9h.6M483.8 193.9h.6M485.3 183.2h.6M490.7 190.0h.6M492.2 181.1h.6M488.4 177.0h.6M488.0 180.4h.6M489.5 187.6h.6M483.0 181.5h.6M484.9 184.5h.6M489.9 177.2h.6M485.8 188.0h.6M484.9 181.4h.6M484.6 190.1h.6M489.2 177.6h.6M488.3 194.0h.6M485.8 186.0h.6M487.7 188.4h.6M491.8 185.3h.6M485.9 185.4h.6M487.6 173.3h.6M488.6 186.1h.6M485.3 178.8h.6M483.0 184.7h.6M487.4 185.1h.6M489.2 182.8h.6M484.1 184.2h.6M489.6 192.6h.6M485.6 195.3h.6M484.9 180.6h.6M484.7 196.2h.6M479.8 185.2h.6M487.5 178.8h.6M488.9 172.5h.6M487.9 178.4h.6M484.9 185.6h.6M486.8 181.0h.6M487.3 179.8h.6M489.6 186.5h.6M486.7 192.5h.6M492.0 175.7h.6M487.8 176.9h.6M488.6 180.8h.6M485.4 182.4h.6M490.0 178.6h.6M487.8 182.6h.6M485.9 184.8h.6M491.1 182.0h.6M487.0 186.5h.6M483.4 182.1h.6M487.8 186.4h.6M487.6 178.3h.6M485.6 187.4h.6M484.6 189.5h.6M486.8 193.7h.6M483.1 183.6h.6M483.8 177.1h.6M490.9 188.9h.6M488.3 177.9h.6M486.6 187.0h.6M491.1 172.5h.6M487.3 177.2h.6M490.9 194.1h.6M487.1 182.3h.6M489.2 194.3h.6M485.3 189.6h.6M487.4 185.6h.6M482.2 196.2h.6M487.2 177.8h.6M482.8 192.8h.6M486.9 189.8h.6M487.9 175.9h.6M486.8 179.4h.6M484.2 184.8h.6M484.9 185.9h.6M487.4 181.1h.6M484.9 182.4h.6M488.6 190.7h.6M490.1 179.3h.6M484.6 185.3h.6M486.3 188.0h.6M488.6 175.7h.6M486.4 193.1h.6M486.6 183.7h.6M487.9 174.8h.6M488.2 186.8h.6M489.1 181.1h.6M485.8 177.7h.6M486.5 183.9h.6M488.7 178.6h.6M485.8 177.0h.6M485.1 189.1h.6M488.8 184.5h.6M489.1 187.0h.6M485.4 187.9h.6M484.3 179.5h.6M487.3 184.3h.6M485.5 182.0h.6M484.8 179.2h.6M492.7 188.3h.6M488.3 191.5h.6M482.8 188.2h.6M485.9 175.5h.6M485.4 184.6h.6M488.6 190.9h.6M486.4 191.5h.6M482.2 182.9h.6M486.7 198.9h.6M484.6 168.8h.6M486.5 182.5h.6M488.1 182.9h.6M484.9 181.2h.6M485.9 199.0h.6M480.8 176.3h.6M486.6 181.2h.6M483.6 180.8h.6M485.4 184.7h.6M488.3 181.8h.6M488.6 179.6h.6M485.3 185.9h.6M485.4 188.2h.6M489.1 180.6h.6M491.3 188.7h.6M486.1 176.8h.6M486.4 184.2h.6M488.1 186.2h.6M489.1 175.3h.6M485.5 183.5h.6M488.7 183.5h.6M487.9 178.1h.6M489.4 184.7h.6M483.9 182.0h.6M486.1 184.9h.6M492.0 177.4h.6M490.6 177.0h.6M487.2 177.2h.6M486.0 190.6h.6M490.2 189.8h.6M486.0 189.0h.6M483.4 182.8h.6M486.4 171.2h.6M486.9 176.2h.6M490.1 178.9h.6M489.7 182.9h.6M488.9 188.0h.6M490.5 178.9h.6M483.7 184.8h.6M491.6 191.9h.6M486.3 190.5h.6M486.6 185.2h.6M489.5 186.3h.6M486.5 184.7h.6M488.8 192.1h.6M490.1 187.3h.6M484.0 189.0h.6M486.6 179.2h.6M487.0 179.7h.6M483.8 184.3h.6M484.1 189.1h.6M488.3 176.6h.6M487.6 186.6h.6M483.6 188.6h.6M486.1 182.2h.6M489.8 171.3h.6M485.1 188.1h.6M486.8 192.7h.6M488.1 184.6h.6M489.6 183.4h.6M490.2 168.8h.6M482.8 190.2h.6M489.0 187.4h.6M490.2 173.9h.6M488.7 176.2h.6M486.1 179.1h.6M489.8 179.5h.6M488.6 188.8h.6M487.4 186.6h.6M489.5 185.7h.6M488.2 187.3h.6M481.8 195.1h.6M488.1 183.7h.6M488.9 178.6h.6M487.1 177.0h.6M485.9 190.6h.6M484.4 177.6h.6M488.4 180.3h.6M493.4 179.4h.6M489.5 184.6h.6M487.3 190.5h.6M490.6 192.7h.6M488.5 183.6h.6M488.2 189.5h.6M487.2 178.9h.6M485.6 175.3h.6M487.0 190.8h.6M488.3 182.9h.6M484.0 186.6h.6M492.4 194.2h.6M485.8 192.7h.6M486.9 184.1h.6M487.9 176.1h.6M490.8 181.8h.6M487.0 185.6h.6M488.7 179.5h.6M485.4 182.3h.6M485.2 178.8h.6M488.8 182.5h.6M488.5 182.6h.6M488.1 180.3h.6M490.8 180.9h.6M486.9 195.1h.6M490.8 180.4h.6M485.1 185.5h.6M486.7 191.9h.6M485.5 187.5h.6M486.8 180.6h.6M489.4 193.4h.6M488.1 186.3h.6M484.9 195.0h.6M484.1 191.0h.6M485.0 187.9h.6M487.4 182.1h.6M486.3 185.5h.6M486.3 179.8h.6M490.6 179.8h.6M487.8 177.4h.6M484.3 180.9h.6M491.8 185.8h.6M488.1 189.5h.6M485.1 178.3h.6M486.1 190.3h.6M488.0 177.0h.6M487.6 174.4h.6M488.4 176.1h.6M485.8 172.7h.6M485.4 180.3h.6M489.1 181.7h.6M486.6 180.9h.6M487.3 181.7h.6M484.2 182.3h.6M489.2 174.3h.6M481.8 188.5h.6M487.0 178.9h.6M483.5 182.0h.6M489.7 180.5h.6M485.9 197.9h.6M488.5 183.5h.6M483.4 191.2h.6M489.4 182.3h.6M488.4 187.7h.6M490.1 190.0h.6M486.7 188.8h.6M487.0 177.8h.6M486.4 181.4h.6M489.6 184.9h.6M488.6 179.4h.6M489.0 180.9h.6M482.9 187.6h.6M486.5 192.8h.6M490.8 184.5h.6M485.1 170.7h.6M487.8 176.0h.6M489.7 187.5h.6M485.3 172.1h.6M489.7 191.1h.6M488.3 193.6h.6M488.5 179.9h.6M487.3 184.4h.6M485.5 183.2h.6M481.0 176.4h.6M487.7 170.2h.6M487.7 180.2h.6M491.8 193.4h.6M489.1 183.1h.6M482.9 176.7h.6M485.4 189.9h.6M482.0 182.4h.6M489.4 187.9h.6M484.6 182.9h.6M487.1 190.6h.6M485.9 182.4h.6M487.1 177.0h.6M485.0 188.3h.6M486.1 180.7h.6M485.6 178.9h.6M488.4 186.0h.6M487.7 185.3h.6M486.6 188.1h.6M485.4 181.8h.6M483.4 191.4h.6M488.5 184.7h.6M487.4 188.4h.6M488.2 188.0h.6M486.9 183.5h.6M488.7 188.7h.6M487.1 191.1h.6M485.0 184.1h.6M483.6 190.6h.6M488.4 184.5h.6M485.9 183.2h.6M480.2 188.5h.6M488.0 187.6h.6M485.2 181.6h.6M485.7 183.5h.6M485.8 178.5h.6M491.6 180.5h.6M487.1 186.6h.6M489.1 192.0h.6M485.7 187.9h.6M488.7 186.5h.6M483.2 172.5h.6M484.0 194.5h.6M489.3 183.4h.6M486.9 185.7h.6M486.4 188.6h.6M485.3 181.1h.6M487.1 176.1h.6M484.4 178.7h.6M483.4 188.9h.6M488.9 187.2h.6M484.1 185.8h.6M487.9 175.6h.6M489.2 187.0h.6M489.7 171.2h.6M483.3 196.7h.6M483.6 194.0h.6M488.2 180.6h.6M485.5 178.4h.6M487.2 169.5h.6M488.6 199.9h.6M487.2 184.4h.6M485.5 182.9h.6M484.8 190.8h.6M485.0 183.0h.6M489.4 193.2h.6M486.3 172.9h.6M491.7 179.3h.6M486.0 184.1h.6M488.9 181.2h.6M486.2 181.3h.6M483.4 189.9h.6M485.6 185.0h.6M484.6 189.1h.6M491.8 180.4h.6M487.0 183.8h.6M490.6 181.1h.6M489.3 186.1h.6M489.2 181.1h.6M485.2 182.0h.6M489.0 183.5h.6M487.7 193.8h.6M483.8 177.1h.6M485.8 179.8h.6M488.7 177.3h.6M484.8 183.0h.6M486.6 184.6h.6M487.7 174.3h.6M485.2 186.8h.6M487.2 186.6h.6M484.6 179.5h.6M482.8 181.9h.6M484.1 187.8h.6M485.3 191.0h.6M491.7 186.2h.6M488.5 176.6h.6M487.0 169.0h.6M483.7 198.2h.6M487.5 192.1h.6M486.4 182.2h.6M487.4 181.3h.6M487.5 188.1h.6M484.9 170.9h.6M486.3 182.7h.6M482.9 187.9h.6M489.6 187.6h.6M483.3 184.8h.6M483.9 189.8h.6M487.3 186.3h.6M488.4 188.0h.6M493.7 176.1h.6M486.6 189.3h.6M490.2 167.8h.6M489.6 181.3h.6M483.3 194.5h.6M485.9 188.7h.6M487.8 187.8h.6M489.1 186.4h.6M489.8 184.4h.6M483.7 192.7h.6M486.4 188.8h.6M484.9 168.0h.6M486.9 185.7h.6M491.1 176.6h.6M484.6 185.4h.6M489.4 186.1h.6M487.5 189.3h.6M490.9 193.6h.6M487.1 174.1h.6M482.9 181.7h.6M484.5 184.5h.6M487.8 169.8h.6M488.7 188.1h.6M485.6 175.7h.6M490.0 186.0h.6M486.8 177.9h.6M484.2 193.5h.6M485.0 183.7h.6M485.9 182.9h.6M483.1 191.5h.6M486.5 189.0h.6M484.5 182.6h.6M491.5 184.2h.6M486.6 175.2h.6M484.8 187.3h.6M486.1 179.9h.6M488.4 194.3h.6M484.8 200.8h.6M486.1 181.4h.6M483.6 177.5h.6M483.5 198.9h.6M484.1 183.3h.6M486.8 187.0h.6M481.5 182.2h.6M484.0 183.0h.6M482.4 180.8h.6M486.8 176.7h.6M486.8 186.4h.6M489.4 176.8h.6M483.6 183.7h.6M487.2 180.3h.6M482.8 183.5h.6M489.9 178.4h.6M488.8 176.3h.6M489.2 175.6h.6M489.3 183.7h.6M489.6 181.6h.6M484.0 177.6h.6M484.2 185.3h.6M484.8 187.3h.6M486.7 180.9h.6M485.6 182.1h.6M487.1 192.2h.6M485.5 184.1h.6M488.3 192.8h.6M485.4 176.3h.6M484.6 191.5h.6M485.1 189.8h.6M486.0 187.6h.6M487.8 183.4h.6M485.1 184.3h.6M493.0 178.4h.6M488.7 182.7h.6M483.6 183.0h.6M489.6 176.5h.6M483.6 188.4h.6M482.7 191.0h.6M489.8 180.1h.6M486.4 191.3h.6M490.2 171.8h.6M483.2 184.3h.6M488.4 194.0h.6M487.7 183.4h.6M484.2 188.3h.6M485.6 196.3h.6M490.8 189.5h.6M484.9 183.4h.6M489.2 186.1h.6M488.4 180.6h.6M480.8 188.1h.6M491.4 182.0h.6M488.4 172.8h.6M488.7 199.4h.6M490.7 178.1h.6M487.0 185.2h.6M488.0 180.6h.6M487.8 185.3h.6M484.6 177.7h.6M490.6 186.1h.6M486.6 197.0h.6M484.5 191.7h.6M489.9 180.0h.6M486.2 186.2h.6M484.1 173.3h.6M484.5 192.2h.6M485.2 194.0h.6M482.9 181.8h.6M486.9 191.3h.6M488.0 191.0h.6M488.4 185.4h.6M490.0 189.7h.6M484.7 189.5h.6M488.1 185.6h.6M488.4 182.7h.6M486.9 174.2h.6M484.9 192.8h.6M480.9 181.2h.6M487.8 188.4h.6M483.1 183.6h.6M486.7 191.0h.6M487.4 180.2h.6M488.1 185.1h.6M484.1 184.1h.6M487.5 183.8h.6M485.7 184.0h.6M486.5 188.7h.6M484.4 180.9h.6M488.5 181.7h.6M485.4 176.2h.6M484.0 177.9h.6M486.2 188.1h.6M487.0 185.2h.6M488.3 183.9h.6M483.6 184.5h.6M485.8 197.2h.6M485.5 197.3h.6M487.2 175.8h.6M486.3 182.6h.6M486.7 182.2h.6M492.1 186.7h.6M486.4 184.0h.6M486.0 190.9h.6M486.2 190.0h.6M484.3 185.5h.6M486.4 185.4h.6M484.3 180.1h.6M482.8 186.5h.6M489.8 184.3h.6M483.6 181.7h.6M490.3 174.5h.6M485.9 184.8h.6M485.5 185.7h.6M487.6 186.6h.6M488.2 190.9h.6M483.6 177.3h.6M486.2 184.7h.6M487.9 177.3h.6M482.7 194.7h.6M486.9 186.4h.6M492.0 173.1h.6M487.4 182.9h.6M485.6 192.7h.6M487.4 175.4h.6M484.8 175.9h.6M489.8 180.8h.6M484.1 182.8h.6M499.6 189.5h.6M501.2 187.9h.6M502.3 183.3h.6M502.0 173.8h.6M502.1 199.7h.6M500.2 192.1h.6M500.0 187.1h.6M501.6 182.3h.6M499.9 185.5h.6M501.0 189.2h.6M501.2 173.5h.6M502.2 189.8h.6M499.5 185.1h.6M502.2 201.9h.6M500.9 182.2h.6M502.4 185.9h.6M501.1 174.5h.6M500.0 189.3h.6M503.0 189.1h.6M500.9 183.5h.6M499.9 177.5h.6M501.9 200.1h.6M500.7 179.9h.6M499.4 182.9h.6M502.2 174.1h.6M500.8 195.4h.6M502.7 181.1h.6M501.4 189.9h.6M501.3 185.7h.6M501.3 187.7h.6M500.9 184.8h.6M501.1 194.4h.6M500.1 197.2h.6M502.2 187.4h.6M503.7 192.4h.6M503.0 179.8h.6M498.7 191.9h.6M501.1 181.6h.6M500.0 190.4h.6M502.0 194.6h.6M501.1 183.2h.6M499.6 179.1h.6M502.5 176.5h.6M501.0 182.7h.6M500.4 176.8h.6M500.7 189.9h.6M500.8 188.7h.6M500.4 178.6h.6M501.9 185.4h.6M500.8 190.2h.6M502.1 182.1h.6M501.2 184.6h.6M502.5 176.3h.6M500.3 185.8h.6M498.5 175.0h.6M501.6 194.5h.6M502.8 184.0h.6M501.6 186.6h.6M500.3 188.1h.6M501.0 195.8h.6M500.8 175.8h.6M501.3 181.8h.6M501.2 189.2h.6M499.2 173.7h.6M501.4 192.4h.6M500.4 185.9h.6M501.6 181.9h.6M501.0 182.5h.6M502.1 186.1h.6M500.1 188.0h.6M500.3 183.9h.6M499.8 184.6h.6M501.9 191.4h.6M501.7 179.9h.6M501.0 185.9h.6M500.8 184.1h.6M499.5 200.1h.6M500.3 187.3h.6M501.3 178.1h.6M500.4 188.9h.6M501.0 190.1h.6M500.0 185.6h.6M500.1 186.4h.6M500.4 182.4h.6M501.7 194.4h.6M501.0 188.0h.6M500.1 182.6h.6M500.6 189.2h.6M502.9 172.5h.6M502.3 196.5h.6M501.7 183.8h.6M501.9 175.5h.6M499.7 187.4h.6M500.4 191.7h.6M500.1 172.6h.6M500.9 190.5h.6M499.5 186.8h.6M501.2 189.3h.6M501.9 188.3h.6M500.4 176.5h.6M501.7 184.2h.6M502.0 195.2h.6M500.4 182.1h.6M502.4 187.8h.6M499.9 184.9h.6M500.7 195.4h.6M499.7 181.4h.6M501.9 192.5h.6M501.3 182.5h.6M501.8 188.3h.6M501.1 176.7h.6M499.2 183.2h.6M500.6 195.2h.6M503.5 176.1h.6M500.3 192.4h.6M502.1 192.2h.6M500.9 182.5h.6M500.6 176.1h.6M500.4 180.5h.6M502.3 196.7h.6M501.4 174.7h.6M500.9 182.4h.6M502.3 178.9h.6M501.5 185.8h.6M502.0 182.0h.6M502.8 188.7h.6M500.9 184.6h.6M500.6 194.3h.6M501.9 184.4h.6M504.0 189.8h.6M502.1 198.1h.6M502.3 189.7h.6M500.1 179.5h.6M501.9 185.6h.6M500.8 195.6h.6M501.8 197.0h.6M500.8 179.0h.6M501.0 192.8h.6M500.0 186.0h.6M501.7 187.9h.6M501.6 167.9h.6M501.6 193.5h.6M500.1 188.7h.6M501.1 186.1h.6M504.6 183.9h.6M499.8 180.5h.6M500.4 186.7h.6M501.5 182.6h.6M503.6 189.8h.6M501.1 183.6h.6M501.3 179.8h.6M500.9 182.3h.6M501.9 180.4h.6M499.9 183.1h.6M502.2 189.2h.6M500.6 185.5h.6M500.2 180.1h.6M501.4 181.2h.6M500.2 183.6h.6M501.1 190.3h.6M500.6 187.8h.6M501.5 199.2h.6M501.2 169.8h.6M501.4 178.5h.6M501.5 187.3h.6M500.0 168.8h.6M501.6 180.1h.6M502.2 175.6h.6M499.7 175.1h.6M501.3 197.1h.6M501.3 177.1h.6M501.7 175.4h.6M501.1 197.4h.6M501.0 175.4h.6M501.1 188.8h.6M499.4 189.7h.6M501.1 169.1h.6M501.6 178.2h.6M500.6 194.7h.6M501.7 181.9h.6M501.8 201.2h.6M502.7 182.1h.6M503.0 184.2h.6M499.9 178.9h.6M499.1 181.6h.6M500.9 199.4h.6M500.8 178.8h.6M501.5 186.6h.6M502.3 178.1h.6M501.9 178.4h.6M500.6 193.3h.6M500.5 189.8h.6M500.6 193.2h.6M501.4 189.7h.6M502.8 177.4h.6M501.9 187.7h.6M500.0 185.7h.6M501.4 177.6h.6M500.6 195.7h.6M500.7 175.9h.6M503.6 198.9h.6M500.6 189.3h.6M500.8 189.1h.6M501.8 202.7h.6M502.1 201.3h.6M501.3 180.9h.6M501.4 184.6h.6M498.4 196.6h.6M500.3 200.0h.6M499.6 182.9h.6M502.9 180.7h.6M501.2 197.6h.6M500.0 193.5h.6M501.3 180.5h.6M501.1 190.5h.6M501.4 182.5h.6M501.5 188.3h.6M500.0 176.2h.6M500.3 185.5h.6M501.0 191.7h.6M500.8 185.6h.6M502.3 176.8h.6M499.2 196.7h.6M502.1 180.1h.6M502.4 188.6h.6M500.4 198.7h.6M499.4 180.4h.6M501.2 191.9h.6M501.2 193.3h.6M500.0 184.4h.6M502.6 183.9h.6M500.5 181.7h.6M501.1 184.4h.6M498.6 172.8h.6M502.7 196.1h.6M501.0 193.1h.6M500.3 190.9h.6M502.1 182.7h.6M500.8 188.5h.6M502.2 182.6h.6M501.8 185.9h.6M500.5 194.7h.6M502.6 177.0h.6M501.3 183.7h.6M499.9 187.0h.6M501.0 181.6h.6M499.7 191.9h.6M502.2 186.6h.6M498.9 191.2h.6M502.8 185.6h.6M499.4 176.8h.6M501.0 183.1h.6M500.8 186.0h.6M501.8 197.9h.6M501.6 184.5h.6M500.5 174.3h.6M502.6 183.5h.6M501.0 175.8h.6M501.5 185.6h.6M500.3 189.7h.6M503.6 184.1h.6M500.9 190.6h.6M500.4 183.9h.6M502.7 184.3h.6M501.3 179.3h.6M499.8 184.0h.6M501.0 177.2h.6M500.5 188.8h.6M501.3 198.9h.6M500.3 177.3h.6M501.5 183.3h.6M501.7 180.6h.6M499.2 200.0h.6M500.6 190.8h.6M502.7 182.7h.6M499.6 188.1h.6M501.8 190.1h.6M499.3 183.9h.6M503.4 176.8h.6M502.5 175.0h.6M500.4 176.8h.6M502.3 193.6h.6M501.7 179.8h.6M501.6 189.7h.6M502.8 176.7h.6M500.9 190.8h.6M500.9 178.6h.6M500.7 202.3h.6M502.0 194.7h.6M501.6 185.4h.6M500.7 184.4h.6M500.8 184.2h.6M499.8 182.9h.6M501.2 178.7h.6M502.6 198.2h.6M500.1 177.3h.6M498.7 186.3h.6M500.3 184.8h.6M499.5 188.2h.6M500.0 187.7h.6M500.8 191.8h.6M500.5 191.5h.6M500.6 176.7h.6M502.1 186.5h.6M502.8 186.2h.6M500.9 201.0h.6M500.2 177.1h.6M501.4 176.4h.6M501.0 173.0h.6M502.5 191.1h.6M501.5 181.3h.6M499.6 196.6h.6M501.8 183.8h.6M499.9 186.3h.6M500.5 183.7h.6M499.6 196.2h.6M501.3 201.2h.6M501.5 185.6h.6M501.8 183.1h.6M502.0 192.2h.6M502.5 186.1h.6M500.9 196.1h.6M500.9 181.7h.6M502.2 183.1h.6M502.0 195.0h.6M500.2 186.0h.6M501.2 185.2h.6M500.8 196.4h.6M501.2 187.6h.6M501.1 181.9h.6M501.5 193.2h.6M500.0 190.0h.6M502.7 192.3h.6M502.6 187.1h.6M500.5 182.4h.6M501.0 180.2h.6M502.5 194.4h.6M501.6 189.6h.6M500.6 176.9h.6M501.0 183.0h.6M500.8 179.4h.6M500.9 189.3h.6M501.2 196.7h.6M501.0 198.0h.6M501.1 186.8h.6M501.3 186.7h.6M500.2 173.5h.6M499.4 181.9h.6M500.5 184.7h.6M501.2 193.5h.6M499.3 180.6h.6M501.6 179.6h.6M501.5 180.4h.6M499.7 180.4h.6M500.6 174.5h.6M500.9 180.6h.6M502.2 176.3h.6M501.5 180.9h.6M500.3 190.5h.6M501.8 178.4h.6M499.7 174.7h.6M500.2 193.0h.6M500.2 186.7h.6M499.7 185.6h.6M502.3 191.2h.6M500.7 190.3h.6M500.1 173.3h.6M500.3 172.9h.6M501.6 193.2h.6M501.2 189.1h.6M500.8 182.6h.6M501.7 178.4h.6M499.2 191.6h.6M500.2 200.4h.6M500.7 175.3h.6M501.6 177.9h.6M500.0 194.7h.6M501.9 197.0h.6M502.9 197.0h.6M501.9 183.9h.6M500.3 196.1h.6M502.3 183.6h.6M499.9 189.2h.6M502.7 195.6h.6M500.1 176.4h.6M501.4 182.7h.6M500.7 197.5h.6M501.7 194.8h.6M500.2 185.7h.6M502.3 191.0h.6M502.4 194.2h.6M501.5 183.1h.6M500.3 177.9h.6M500.4 182.5h.6M501.2 182.7h.6M501.3 193.3h.6M500.6 187.7h.6M502.4 178.9h.6M500.7 193.2h.6M501.5 191.1h.6M501.1 202.0h.6M500.7 185.4h.6M501.8 182.2h.6M502.8 189.1h.6M501.1 172.6h.6M502.8 197.0h.6M501.8 195.5h.6M502.7 185.3h.6M499.9 193.3h.6M499.6 184.8h.6M499.0 178.4h.6M501.1 178.7h.6M501.1 174.7h.6M501.0 197.8h.6M500.5 184.2h.6M499.9 182.6h.6M499.2 184.6h.6M500.4 170.8h.6M502.1 199.4h.6M501.2 185.5h.6M499.2 193.1h.6M502.9 191.4h.6M502.5 185.1h.6M499.8 185.9h.6M500.4 190.4h.6M501.0 178.5h.6M500.8 184.7h.6M503.9 185.2h.6M500.8 198.7h.6M499.4 182.5h.6M501.7 199.7h.6M499.7 188.1h.6M500.9 184.5h.6M499.4 185.2h.6M501.7 192.9h.6M500.4 185.2h.6M501.3 180.5h.6M499.8 188.0h.6M502.1 197.9h.6M501.7 186.2h.6M501.3 175.3h.6M500.6 170.7h.6M500.5 173.4h.6M500.8 179.1h.6M501.3 180.7h.6M501.8 175.5h.6M502.5 198.2h.6M500.9 177.9h.6M501.4 177.9h.6M501.3 184.9h.6M502.5 191.7h.6M499.8 186.3h.6M500.5 196.6h.6M502.3 185.6h.6M501.3 178.6h.6M499.9 188.1h.6M501.6 180.2h.6M502.8 189.8h.6M502.9 173.9h.6M500.7 189.9h.6M501.8 188.8h.6M500.2 184.0h.6M499.6 191.1h.6M500.1 187.6h.6M502.1 198.7h.6M502.4 187.7h.6M498.8 185.2h.6M500.0 193.9h.6M499.2 185.1h.6M498.6 183.5h.6M500.6 184.9h.6M501.5 184.9h.6M502.1 188.4h.6M500.3 177.4h.6M502.3 191.8h.6M500.6 175.0h.6M500.3 182.5h.6M501.6 187.8h.6M501.9 192.7h.6M500.3 178.7h.6M500.7 179.9h.6M501.6 195.5h.6M501.6 179.7h.6M502.4 200.3h.6M502.3 193.3h.6M500.2 191.2h.6M501.7 182.9h.6M502.0 170.7h.6M501.2 183.2h.6M500.9 189.2h.6M500.8 194.5h.6M499.2 195.1h.6M502.7 182.7h.6M499.0 184.2h.6M501.4 187.2h.6M502.1 180.1h.6M502.1 177.3h.6M500.1 184.0h.6M501.0 167.9h.6M500.3 185.2h.6M500.4 189.8h.6M501.6 180.3h.6M500.1 183.9h.6M503.2 193.9h.6M500.2 175.6h.6M500.1 187.7h.6M502.6 189.8h.6M500.2 177.3h.6M501.9 192.2h.6M500.9 186.7h.6M477.8 186.0h.6M480.4 191.4h.6M484.1 195.6h.6M487.3 180.5h.6M488.4 193.1h.6M496.3 198.3h.6M487.1 199.3h.6M484.0 197.2h.6M503.8 192.3h.6M484.5 170.7h.6" stroke="#0a0a0a" stroke-width="0.7" opacity="0.92" fill="none"/>
<path d="M476.8 204.8v1.6M473.2 167.7h1.4M485.1 204.8v1.6M473.2 176.4h1.4M493.4 204.8v1.6M473.2 185.1h1.4M501.7 204.8v1.6M473.2 193.9h1.4M510.0 204.8v1.6M473.2 202.6h1.4" stroke="#888" stroke-width="0.6" fill="none" opacity="0.6"/>
<rect x="475.8" y="166.7" width="35.2" height="36.9" fill="none" stroke="#1a1a1a" stroke-width="0.85"/>
<line x1="495.6" y1="166.7" x2="495.6" y2="203.6" stroke="#222" stroke-width="0.7"/>
<line x1="475.8" y1="186.3" x2="511.0" y2="186.3" stroke="#222" stroke-width="0.7"/>
<text x="509.8" y="171.9" font-size="5" font-weight="bold" text-anchor="end" fill="#111">15</text>
<path d="M482.2 253.5h.6M488.3 247.7h.6M487.6 241.1h.6M488.2 260.3h.6M484.9 251.0h.6M486.0 249.5h.6M486.1 247.0h.6M487.8 243.3h.6M479.7 259.0h.6M485.1 257.7h.6M491.4 248.2h.6M484.1 251.5h.6M487.5 245.9h.6M481.0 253.3h.6M490.8 240.6h.6M483.8 247.1h.6M489.1 237.4h.6M489.9 241.8h.6M489.0 241.5h.6M484.9 255.9h.6M487.0 249.5h.6M488.5 248.7h.6M494.4 244.8h.6M478.6 258.4h.6M492.4 244.3h.6M482.5 254.4h.6M488.3 237.9h.6M490.0 245.2h.6M486.9 245.6h.6M489.2 244.1h.6M486.5 246.7h.6M482.0 251.0h.6M482.8 247.2h.6M491.3 248.9h.6M484.8 249.1h.6M482.6 259.7h.6M488.7 239.8h.6M487.8 243.4h.6M482.9 247.7h.6M482.0 253.5h.6M485.9 254.6h.6M486.9 240.6h.6M492.3 236.1h.6M486.7 241.6h.6M482.7 251.5h.6M487.4 247.1h.6M485.5 253.4h.6M483.9 257.0h.6M490.7 247.2h.6M484.2 244.3h.6M481.8 251.9h.6M487.9 242.0h.6M484.8 252.1h.6M488.7 250.6h.6M487.0 243.8h.6M485.0 243.4h.6M485.8 250.8h.6M492.8 233.7h.6M481.7 255.7h.6M481.9 249.9h.6M481.8 254.3h.6M485.5 252.3h.6M484.7 255.2h.6M486.1 241.2h.6M481.2 255.7h.6M478.3 251.8h.6M484.1 250.2h.6M483.2 249.2h.6M491.9 239.2h.6M489.7 246.8h.6M490.4 238.6h.6M486.4 249.6h.6M494.8 240.4h.6M484.8 249.1h.6M482.3 260.0h.6M480.1 254.4h.6M487.7 242.5h.6M486.6 250.5h.6M483.9 252.5h.6M482.1 246.6h.6M484.4 246.5h.6M486.9 247.2h.6M489.7 241.7h.6M486.3 247.3h.6M490.9 253.4h.6M482.7 247.7h.6M489.3 253.8h.6M477.5 258.3h.6M486.4 252.4h.6M494.2 238.1h.6M487.4 246.5h.6M492.0 235.9h.6M492.0 241.6h.6M484.4 255.2h.6M486.0 249.1h.6M484.8 242.3h.6M487.5 246.3h.6M490.4 242.2h.6M488.2 242.5h.6M481.7 247.1h.6M485.1 249.2h.6M481.0 256.5h.6M489.3 259.9h.6M483.4 245.7h.6M487.2 255.1h.6M484.9 244.1h.6M487.7 244.4h.6M481.0 261.2h.6M496.8 231.5h.6M490.9 240.1h.6M482.5 259.5h.6M493.7 233.0h.6M487.0 245.5h.6M492.0 240.1h.6M485.7 246.7h.6M485.3 250.2h.6M488.3 250.1h.6M489.2 251.1h.6M489.4 255.9h.6M489.2 241.3h.6M486.5 244.4h.6M490.1 247.3h.6M484.8 250.6h.6M483.9 252.6h.6M486.6 242.5h.6M482.7 253.9h.6M489.2 233.4h.6M487.8 244.4h.6M487.6 246.8h.6M489.0 251.6h.6M485.6 245.7h.6M491.8 245.5h.6M482.3 258.9h.6M485.3 254.8h.6M483.0 248.0h.6M487.6 254.0h.6M478.3 253.7h.6M487.7 249.8h.6M490.5 242.4h.6M486.1 258.3h.6M485.4 254.9h.6M483.5 245.6h.6M484.1 252.5h.6M482.6 247.3h.6M491.5 243.4h.6M488.7 253.1h.6M487.2 241.7h.6M491.4 246.4h.6M484.5 246.4h.6M485.4 257.0h.6M490.6 234.7h.6M489.4 249.9h.6M485.1 248.0h.6M477.7 256.3h.6M481.6 261.7h.6M485.1 240.6h.6M478.7 254.7h.6M484.0 248.4h.6M487.3 239.4h.6M483.6 249.0h.6M486.1 244.4h.6M487.8 244.3h.6M489.0 240.4h.6M485.9 237.7h.6M481.4 251.4h.6M485.7 237.8h.6M493.6 247.7h.6M491.4 243.0h.6M485.8 245.8h.6M483.6 250.4h.6M483.3 255.0h.6M484.6 249.3h.6M480.8 254.3h.6M486.7 237.4h.6M486.0 242.8h.6M486.7 234.7h.6M483.2 247.5h.6M491.9 244.8h.6M483.5 247.3h.6M484.5 257.2h.6M489.7 244.1h.6M494.2 234.1h.6M482.3 258.7h.6M484.6 248.1h.6M483.5 253.0h.6M489.1 248.7h.6M486.6 251.0h.6M490.2 239.2h.6M484.2 253.6h.6M489.0 236.9h.6M484.1 259.3h.6M482.7 254.2h.6M479.2 254.6h.6M482.1 255.1h.6M482.4 248.5h.6M489.6 234.9h.6M480.6 249.6h.6M482.6 252.1h.6M484.9 253.3h.6M486.9 243.3h.6M484.3 250.2h.6M482.6 250.4h.6M486.0 247.9h.6M486.9 255.3h.6M484.7 238.6h.6M487.2 260.0h.6M489.1 242.2h.6M483.1 248.9h.6M490.5 245.8h.6M486.3 251.8h.6M481.8 253.1h.6M481.8 244.6h.6M480.1 258.1h.6M488.4 239.0h.6M489.5 235.0h.6M490.7 239.8h.6M486.7 249.4h.6M486.3 248.8h.6M484.7 254.1h.6M481.9 249.9h.6M483.3 244.2h.6M479.7 254.6h.6M488.3 245.3h.6M488.2 240.8h.6M490.1 242.9h.6M484.0 256.6h.6M484.6 257.3h.6M488.3 236.2h.6M486.1 245.3h.6M489.6 240.1h.6M490.3 254.5h.6M486.5 249.7h.6M479.2 250.6h.6M489.1 236.4h.6M484.4 244.8h.6M485.3 259.4h.6M481.3 252.5h.6M484.1 252.7h.6M487.6 244.1h.6M481.4 249.6h.6M486.1 241.8h.6M491.7 245.9h.6M495.4 238.3h.6M487.1 250.1h.6M484.6 249.5h.6M485.5 240.7h.6M485.2 238.7h.6M484.8 242.3h.6M490.9 236.8h.6M487.0 247.6h.6M485.7 244.8h.6M492.5 237.7h.6M487.0 245.9h.6M485.7 251.4h.6M491.5 248.6h.6M491.8 239.9h.6M485.0 240.5h.6M479.0 249.8h.6M487.8 241.4h.6M482.5 256.6h.6M483.9 247.6h.6M484.9 259.8h.6M489.0 246.8h.6M487.1 248.3h.6M487.0 239.8h.6M491.0 237.5h.6M486.1 240.1h.6M490.7 242.7h.6M487.4 241.2h.6M484.1 253.1h.6M488.7 257.7h.6M489.7 240.8h.6M495.8 233.3h.6M490.1 249.5h.6M482.0 251.2h.6M486.0 251.6h.6M490.0 236.2h.6M487.7 251.2h.6M484.0 247.9h.6M489.7 250.0h.6M482.9 242.1h.6M485.9 255.5h.6M483.9 248.6h.6M483.2 250.1h.6M484.5 252.7h.6M486.7 247.0h.6M484.9 250.8h.6M493.6 235.5h.6M482.6 253.4h.6M482.8 249.8h.6M485.5 252.0h.6M488.5 245.5h.6M492.6 241.2h.6M490.8 243.8h.6M483.0 253.6h.6M485.1 247.6h.6M489.0 242.1h.6M492.1 233.9h.6M485.2 245.1h.6M488.5 246.6h.6M483.4 244.8h.6M490.0 249.9h.6M487.2 248.0h.6M488.1 242.1h.6M485.8 248.4h.6M481.2 252.6h.6M482.5 257.4h.6M483.9 253.3h.6M481.5 249.6h.6M486.5 245.6h.6M480.4 253.4h.6M483.9 254.4h.6M491.3 243.1h.6M481.4 246.0h.6M488.6 239.7h.6M486.7 244.6h.6M484.0 246.8h.6M484.7 247.1h.6M487.1 253.8h.6M483.5 256.6h.6M485.9 248.7h.6M490.6 237.1h.6M489.6 239.6h.6M489.2 251.3h.6M481.6 253.0h.6M488.6 242.1h.6M486.9 253.4h.6M484.2 256.7h.6M485.4 239.6h.6M485.0 248.1h.6M485.2 243.2h.6M491.6 239.4h.6M487.6 251.5h.6M488.5 244.3h.6M486.2 240.5h.6M488.2 255.8h.6M483.6 246.4h.6M484.8 242.3h.6M481.6 259.9h.6M478.0 256.2h.6M491.9 240.2h.6M480.4 254.9h.6M488.9 255.2h.6M485.2 251.7h.6M486.1 243.2h.6M484.4 245.3h.6M484.6 248.1h.6M481.8 254.7h.6M480.7 252.2h.6M483.4 255.6h.6M481.1 259.0h.6M480.3 258.7h.6M482.0 250.9h.6M487.4 246.7h.6M487.1 247.5h.6M486.0 250.4h.6M482.8 246.3h.6M490.5 242.1h.6M485.8 251.8h.6M488.4 249.1h.6M485.4 243.1h.6M481.9 253.8h.6M487.7 252.0h.6M481.7 254.3h.6M479.7 254.5h.6M484.8 248.3h.6M480.9 252.8h.6M483.9 256.8h.6M479.1 261.5h.6M479.6 246.1h.6M485.1 253.1h.6M483.8 248.5h.6M483.0 251.2h.6M488.7 242.7h.6M492.8 238.2h.6M483.5 251.3h.6M484.2 238.2h.6M487.5 256.3h.6M483.4 246.5h.6M484.5 252.4h.6M488.1 244.8h.6M486.2 246.9h.6M485.4 247.5h.6M486.8 241.1h.6M484.7 252.2h.6M485.4 247.4h.6M485.4 251.8h.6M486.2 244.3h.6M493.2 250.8h.6M483.6 242.2h.6M487.3 248.5h.6M485.5 242.3h.6M495.3 242.1h.6M488.5 250.0h.6M488.7 250.8h.6M488.9 247.4h.6M482.2 254.7h.6M488.0 236.1h.6M486.9 250.0h.6M483.6 250.0h.6M488.7 241.7h.6M483.1 252.9h.6M488.6 240.5h.6M488.9 250.1h.6M482.1 259.5h.6M486.3 247.5h.6M490.6 250.7h.6M484.9 246.3h.6M484.1 256.9h.6M486.3 243.0h.6M485.4 251.7h.6M486.7 244.9h.6M480.3 251.4h.6M489.9 237.7h.6M488.2 249.2h.6M481.0 251.8h.6M487.1 253.4h.6M493.6 248.0h.6M482.6 249.3h.6M484.0 255.1h.6M488.5 241.3h.6M480.4 255.1h.6M486.2 247.5h.6M490.7 243.8h.6M491.9 238.7h.6M487.6 244.6h.6M485.8 254.2h.6M485.9 248.4h.6M483.3 242.7h.6M485.7 260.8h.6M488.2 242.2h.6M483.9 244.8h.6M479.8 254.3h.6M489.6 236.7h.6M478.8 257.7h.6M487.0 251.2h.6M486.1 242.0h.6M487.1 255.3h.6M490.9 240.1h.6M483.1 259.5h.6M489.5 235.5h.6M483.6 245.6h.6M481.6 248.3h.6M483.9 251.0h.6M484.6 248.0h.6M483.0 259.3h.6M490.0 251.4h.6M489.2 234.5h.6M488.1 239.5h.6M485.3 251.4h.6M493.0 239.6h.6M487.9 237.2h.6M488.7 242.1h.6M483.3 250.1h.6M484.8 255.6h.6M479.3 255.1h.6M484.5 250.4h.6M488.1 250.9h.6M492.0 248.2h.6M487.6 237.6h.6M489.6 251.4h.6M485.7 244.7h.6M488.9 251.4h.6M487.4 252.1h.6M488.9 250.9h.6M490.6 254.0h.6M487.1 245.7h.6M491.9 251.4h.6M492.3 238.7h.6M480.9 247.5h.6M490.8 235.7h.6M484.8 250.4h.6M482.2 247.9h.6M490.5 244.6h.6M485.6 249.3h.6M489.6 249.6h.6M490.0 245.9h.6M491.2 242.1h.6M482.6 250.5h.6M487.0 250.0h.6M487.9 253.2h.6M486.1 247.7h.6M485.1 248.3h.6M485.8 243.6h.6M485.8 245.1h.6M491.3 244.3h.6M491.2 235.5h.6M485.0 248.3h.6M484.8 242.6h.6M489.6 239.6h.6M484.7 246.4h.6M485.4 250.7h.6M480.2 255.5h.6M487.4 251.5h.6M485.9 245.7h.6M486.8 261.8h.6M487.7 244.4h.6M489.1 248.3h.6M482.4 261.0h.6M483.4 250.2h.6M480.5 242.7h.6M482.5 256.5h.6M485.7 247.3h.6M486.4 251.8h.6M490.5 237.9h.6M486.8 254.2h.6M488.2 244.3h.6M483.1 246.0h.6M485.7 244.7h.6M488.2 239.6h.6M488.2 247.6h.6M485.0 251.3h.6M487.2 241.5h.6M483.5 243.7h.6M484.7 256.4h.6M486.4 255.4h.6M488.3 245.2h.6M485.7 245.5h.6M488.5 241.0h.6M484.7 253.6h.6M489.7 235.9h.6M481.2 256.9h.6M480.8 252.9h.6M484.6 246.7h.6M486.0 248.7h.6M488.7 246.6h.6M488.6 235.3h.6M479.8 253.5h.6M482.5 257.4h.6M485.6 242.0h.6M487.7 245.3h.6M480.3 253.0h.6M486.8 244.7h.6M485.2 248.7h.6M485.4 247.6h.6M491.1 244.4h.6M487.7 245.8h.6M484.1 249.2h.6M481.3 251.9h.6M495.8 233.9h.6M479.6 256.3h.6M494.1 236.5h.6M481.4 258.9h.6M487.7 252.4h.6M488.8 245.9h.6M481.2 254.0h.6M480.7 254.7h.6M486.2 249.9h.6M486.9 250.1h.6M484.9 245.8h.6M478.4 257.5h.6M491.2 233.1h.6M489.1 245.9h.6M484.5 255.8h.6M488.2 244.2h.6M484.6 249.4h.6M489.1 243.3h.6M481.0 249.6h.6M487.7 251.0h.6M478.6 258.3h.6M487.7 253.3h.6M485.0 245.6h.6M494.7 236.6h.6M484.4 242.1h.6M483.6 249.6h.6M488.7 251.6h.6M482.6 248.7h.6M480.2 248.7h.6M483.1 260.1h.6M483.7 246.8h.6M479.7 253.5h.6M484.4 245.0h.6M483.2 255.0h.6M485.4 243.6h.6M481.7 251.4h.6M481.8 247.2h.6M483.1 253.5h.6M485.0 250.3h.6M489.1 242.0h.6M486.7 258.1h.6M484.6 251.3h.6M486.9 235.6h.6M484.6 248.1h.6M488.5 241.8h.6M491.4 236.4h.6M488.4 248.9h.6M492.4 237.7h.6M480.5 260.4h.6M490.9 243.0h.6M490.4 238.1h.6M490.5 238.0h.6M489.7 251.8h.6M488.9 242.7h.6M491.4 242.9h.6M491.6 237.6h.6M490.8 234.2h.6M492.6 236.5h.6M492.7 240.8h.6M490.5 246.3h.6M493.5 235.3h.6M491.9 241.3h.6M493.3 237.6h.6M489.0 228.9h.6M490.2 244.8h.6M491.2 241.4h.6M491.9 240.6h.6M492.3 238.6h.6M496.4 232.4h.6M495.1 236.1h.6M491.9 238.0h.6M499.6 249.4h.6M492.6 245.2h.6M494.3 235.6h.6M495.0 232.3h.6M494.1 236.1h.6M485.1 235.5h.6M495.1 236.3h.6M493.5 238.5h.6M493.1 242.6h.6M491.9 229.2h.6M491.5 243.8h.6M486.1 240.1h.6M493.1 244.2h.6M489.3 232.2h.6M493.9 231.0h.6M495.7 242.0h.6M493.3 243.0h.6M497.8 242.7h.6M491.4 243.7h.6M490.9 231.6h.6M491.3 237.3h.6M491.0 246.7h.6M486.7 231.3h.6M488.7 240.8h.6M498.1 241.8h.6M497.1 234.7h.6M494.6 239.3h.6M484.0 236.2h.6M493.7 241.8h.6M493.4 233.3h.6M495.4 237.8h.6M491.0 230.2h.6M487.3 241.3h.6M492.6 240.3h.6M487.8 240.4h.6M495.2 230.0h.6M495.2 231.5h.6M495.7 235.8h.6M493.9 231.7h.6M495.1 241.0h.6M496.3 244.8h.6M495.0 237.9h.6M492.4 237.9h.6M489.9 238.1h.6M490.7 234.9h.6M494.1 241.3h.6M494.7 235.7h.6M494.8 236.4h.6M493.8 237.6h.6M487.5 244.7h.6M493.7 246.2h.6M497.2 238.6h.6M492.6 237.0h.6M497.8 231.9h.6M490.9 234.2h.6M491.8 234.1h.6M492.3 239.0h.6M489.4 242.1h.6M491.9 237.7h.6M490.1 242.6h.6M498.2 238.1h.6M493.4 231.0h.6M498.9 237.9h.6M494.5 238.1h.6M486.3 234.2h.6M490.1 236.5h.6M499.8 241.1h.6M492.4 234.0h.6M495.2 235.3h.6M487.9 239.2h.6M494.2 238.4h.6M489.9 238.6h.6M493.9 229.5h.6M497.5 239.7h.6M494.6 235.8h.6M488.5 239.2h.6M497.2 237.5h.6M488.0 240.0h.6M503.8 239.4h.6M502.6 242.3h.6M502.6 245.3h.6M502.0 231.2h.6M503.1 240.8h.6M506.3 233.4h.6M502.5 240.6h.6M500.7 237.4h.6M500.7 247.1h.6M500.9 234.7h.6M502.5 234.9h.6M503.3 239.8h.6M504.5 240.5h.6M503.0 238.7h.6M500.7 237.2h.6M500.6 238.9h.6M504.4 241.7h.6M505.4 239.0h.6M502.3 243.3h.6M500.3 241.2h.6M501.8 237.6h.6M504.0 243.1h.6M500.6 236.7h.6M503.8 231.9h.6M501.6 239.2h.6M501.4 247.2h.6M506.0 241.9h.6M501.0 238.8h.6M501.1 238.5h.6M501.6 236.5h.6M502.8 241.3h.6M501.3 244.6h.6M502.0 239.1h.6M501.6 232.6h.6M504.1 242.0h.6M502.7 238.2h.6M503.4 236.2h.6M500.2 245.2h.6M503.8 241.4h.6M503.9 238.1h.6M500.1 237.9h.6M503.3 236.1h.6M504.5 241.2h.6M503.8 240.7h.6M501.8 238.5h.6M503.4 230.7h.6M504.0 244.6h.6M503.3 235.6h.6M502.6 244.1h.6M503.9 239.1h.6M506.4 242.7h.6M502.1 244.6h.6M502.3 240.5h.6M501.4 235.6h.6M504.4 239.2h.6M503.0 234.6h.6M502.0 237.6h.6M503.9 233.3h.6M502.2 242.0h.6M503.5 236.4h.6M503.7 238.7h.6M502.3 244.0h.6M500.1 235.5h.6M504.8 242.7h.6M503.6 236.2h.6M503.2 241.0h.6M503.9 244.5h.6M500.0 239.0h.6M505.0 239.1h.6M504.5 241.3h.6M505.5 242.4h.6M504.7 233.2h.6M500.5 239.9h.6M502.0 241.6h.6M503.0 236.0h.6M503.1 236.4h.6M501.6 240.0h.6M503.6 243.4h.6M503.5 239.8h.6M503.2 237.3h.6M503.7 230.9h.6M504.1 247.0h.6M504.9 234.9h.6M504.2 240.1h.6M505.6 238.4h.6M501.1 233.6h.6M504.3 245.0h.6M501.1 239.0h.6M507.7 237.8h.6M503.2 243.1h.6M500.7 238.8h.6M500.9 237.6h.6M503.6 233.8h.6M503.4 243.2h.6M503.0 238.8h.6M501.3 238.1h.6M504.7 240.6h.6M505.8 234.7h.6M501.7 239.5h.6M503.5 236.4h.6M502.1 236.6h.6M503.8 236.7h.6M501.5 243.5h.6M503.8 236.0h.6M498.8 237.5h.6M501.4 235.4h.6M504.0 235.5h.6M503.6 235.6h.6M504.0 236.5h.6M506.0 237.2h.6M502.5 241.1h.6M503.0 237.0h.6M501.8 237.7h.6M500.2 238.0h.6M504.3 239.7h.6M502.7 245.8h.6M502.5 235.9h.6M502.4 237.7h.6M505.2 240.8h.6M501.2 239.0h.6M502.8 243.8h.6M504.0 237.4h.6M504.7 242.1h.6M503.9 240.1h.6M503.4 239.4h.6M502.8 236.3h.6M504.1 237.3h.6M501.3 243.8h.6M502.7 236.8h.6M501.9 238.7h.6M502.9 236.5h.6M505.3 236.8h.6M501.4 245.0h.6M504.2 240.4h.6M503.3 238.7h.6M502.4 235.6h.6M500.3 242.6h.6M501.5 232.9h.6M502.6 228.9h.6M501.6 242.2h.6M502.1 236.6h.6M506.3 241.6h.6M504.1 238.4h.6M502.8 245.7h.6M503.6 240.1h.6M503.0 242.3h.6M503.8 239.2h.6M501.7 236.8h.6M503.7 240.0h.6M504.0 235.4h.6M498.6 233.6h.6M502.0 237.4h.6M500.6 240.8h.6M502.7 235.4h.6M504.4 239.0h.6M502.3 238.0h.6M502.4 241.3h.6M499.2 241.7h.6M504.1 239.9h.6M507.2 239.6h.6M503.7 241.2h.6M504.2 233.4h.6M500.3 235.0h.6M505.1 240.5h.6M498.7 242.8h.6M505.2 242.0h.6M500.4 239.5h.6M504.2 243.3h.6M501.5 244.8h.6M504.5 238.0h.6M501.8 237.8h.6M503.0 233.8h.6M503.8 241.9h.6M504.0 240.2h.6M507.8 240.0h.6M502.4 243.0h.6M503.1 239.4h.6M506.3 246.9h.6M501.3 244.0h.6M502.1 245.2h.6M501.8 248.6h.6M501.7 237.0h.6M502.7 240.7h.6M502.8 244.6h.6M504.8 236.3h.6M503.9 237.5h.6M501.1 235.4h.6M502.6 241.6h.6M502.7 239.5h.6M501.5 230.6h.6M504.6 260.6h.6M501.4 251.3h.6M504.6 256.4h.6M504.8 257.6h.6M501.2 253.4h.6M502.9 257.8h.6M502.3 248.4h.6M505.3 252.4h.6M502.4 252.4h.6M501.6 256.7h.6M503.4 254.7h.6M503.9 251.9h.6M501.5 258.5h.6M502.8 252.2h.6M501.2 252.6h.6M499.6 256.8h.6M502.5 258.4h.6M503.9 253.7h.6M501.5 253.8h.6M498.5 257.2h.6M502.7 252.6h.6M506.2 252.3h.6M505.6 257.0h.6M502.7 254.4h.6M505.9 246.6h.6M504.6 252.1h.6M504.9 255.2h.6M501.0 253.6h.6M501.0 247.0h.6M500.6 252.9h.6M499.9 251.3h.6M504.3 259.6h.6M505.0 260.1h.6M502.5 256.8h.6M500.8 253.9h.6M498.2 251.5h.6M503.0 256.9h.6M501.1 258.6h.6M504.4 255.8h.6M502.5 254.9h.6M503.4 258.7h.6M501.6 253.4h.6M501.0 255.9h.6M503.5 251.9h.6M505.5 258.1h.6M504.4 256.4h.6M505.6 259.5h.6M503.9 252.4h.6M502.0 251.9h.6M503.8 255.3h.6M502.9 252.4h.6M502.7 257.6h.6M501.4 254.3h.6M503.9 252.4h.6M502.5 255.6h.6M504.0 258.2h.6M502.6 257.0h.6M504.1 255.0h.6M500.0 249.4h.6M502.0 252.0h.6M504.2 252.7h.6M503.5 253.7h.6M499.2 253.5h.6M501.8 256.7h.6M502.5 255.2h.6M501.5 254.3h.6M503.4 252.5h.6M506.4 256.5h.6M505.5 259.2h.6M501.3 252.9h.6M504.0 257.2h.6M502.9 254.0h.6M503.1 250.2h.6M504.0 251.4h.6M505.3 251.2h.6M501.5 259.4h.6M502.6 257.2h.6M503.4 257.5h.6M505.1 254.9h.6M503.3 255.4h.6M502.4 250.6h.6M502.1 254.0h.6M503.3 253.8h.6M504.4 256.0h.6M503.1 257.3h.6M506.4 250.7h.6M503.3 256.3h.6M502.4 256.5h.6M505.1 256.9h.6M504.4 256.1h.6M505.4 257.9h.6M502.7 255.6h.6M502.9 252.2h.6M502.8 257.2h.6M502.8 257.7h.6M503.9 256.2h.6M501.6 252.5h.6M504.8 256.8h.6M501.9 250.7h.6M501.4 256.1h.6M501.5 259.9h.6M500.7 255.5h.6M502.5 251.3h.6M504.0 256.8h.6M502.8 251.5h.6M504.2 256.9h.6M502.4 247.1h.6M503.2 252.4h.6M503.2 258.7h.6M502.8 256.9h.6M505.9 247.8h.6M504.8 250.4h.6M502.0 253.8h.6M502.2 256.1h.6M502.1 253.5h.6M504.3 252.5h.6M499.2 254.4h.6M502.0 250.1h.6M506.6 256.1h.6M502.7 254.5h.6M491.3 261.5h.6M489.6 247.1h.6M490.8 261.1h.6M502.0 245.4h.6M484.3 234.1h.6M485.9 258.9h.6M487.2 254.3h.6M505.7 250.2h.6M492.7 255.4h.6M507.3 250.2h.6" stroke="#0a0a0a" stroke-width="0.7" opacity="0.92" fill="none"/>
<path d="M476.8 264.2v1.6M473.2 227.3h1.4M485.1 264.2v1.6M473.2 236.0h1.4M493.4 264.2v1.6M473.2 244.7h1.4M501.7 264.2v1.6M473.2 253.3h1.4M510.0 264.2v1.6M473.2 262.0h1.4" stroke="#888" stroke-width="0.6" fill="none" opacity="0.6"/>
<rect x="475.8" y="226.3" width="35.2" height="36.7" fill="none" stroke="#1a1a1a" stroke-width="0.85"/>
<line x1="495.6" y1="226.3" x2="495.6" y2="263.0" stroke="#222" stroke-width="0.7"/>
<line x1="475.8" y1="245.0" x2="511.0" y2="245.0" stroke="#222" stroke-width="0.7"/>
<text x="509.8" y="231.5" font-size="5" font-weight="bold" text-anchor="end" fill="#111">21</text>
<path d="M305.1 167.4V209.2H352.4" fill="none" stroke="#222" stroke-width="0.75"/>
<path d="M303.6 168.0L305.1 164.8L306.6 168.0ZM351.8 207.7L355.0 209.2L351.8 210.7Z" fill="#111"/>
<path d="M305.1 226.0V269.5H352.8" fill="none" stroke="#222" stroke-width="0.75"/>
<path d="M303.6 226.6L305.1 223.4L306.6 226.6ZM352.2 268.0L355.4 269.5L352.2 271.0Z" fill="#111"/>
<text transform="translate(302.1 204.0) rotate(-90)" font-size="5.8" textLength="33.5" lengthAdjust="spacingAndGlyphs" fill="#000">CXCR3-PE</text>
<text transform="translate(302.5 265.0) rotate(-90)" font-size="5.8" textLength="34.0" lengthAdjust="spacingAndGlyphs" fill="#000">CXCR3-PE</text>
<text x="323.2" y="217.9" font-size="6" textLength="25.6" lengthAdjust="spacingAndGlyphs" fill="#222">CD4-FITC</text>
<text x="323.7" y="277.2" font-size="6" textLength="26.3" lengthAdjust="spacingAndGlyphs" fill="#222">CD8-FITC</text>
<text x="68.8" y="312.6" font-size="6.6" textLength="40.7" lengthAdjust="spacingAndGlyphs" font-weight="bold" stroke="none" fill="#111">CD4+ T cells</text>
<text x="198.2" y="312.3" font-size="5.8" textLength="35.8" lengthAdjust="spacingAndGlyphs" font-weight="bold" stroke="none" fill="#111">CD8+ T cells</text>
<line x1="20.7" y1="305.5" x2="20.7" y2="344.7" stroke="#999" stroke-width="0.6"/>
<line x1="20.7" y1="344.7" x2="141.0" y2="344.7" stroke="#222" stroke-width="0.8"/>
<line x1="18.8" y1="344.7" x2="20.7" y2="344.7" stroke="#444" stroke-width="0.6"/>
<text x="12.7" y="346.9" font-size="6.2" textLength="3.2" lengthAdjust="spacingAndGlyphs" fill="#333">0</text>
<line x1="18.8" y1="325.6" x2="20.7" y2="325.6" stroke="#444" stroke-width="0.6"/>
<text x="12.7" y="327.8" font-size="6.2" textLength="3.2" lengthAdjust="spacingAndGlyphs" fill="#333">5</text>
<line x1="18.8" y1="306.5" x2="20.7" y2="306.5" stroke="#444" stroke-width="0.6"/>
<text x="9.5" y="308.7" font-size="6.2" textLength="6.4" lengthAdjust="spacingAndGlyphs" fill="#333">10</text>
<rect x="23.4" y="335.9" width="2.8" height="8.8" fill="#808080" stroke="#777" stroke-width="0.3"/>
<line x1="24.8" y1="331.7" x2="24.8" y2="340.1" stroke="#333" stroke-width="0.6"/>
<line x1="23.7" y1="331.7" x2="25.9" y2="331.7" stroke="#333" stroke-width="0.6"/>
<line x1="23.7" y1="340.1" x2="25.9" y2="340.1" stroke="#333" stroke-width="0.6"/>
<rect x="30.8" y="342.0" width="2.8" height="2.7" fill="#808080" stroke="#777" stroke-width="0.3"/>
<line x1="32.2" y1="339.7" x2="32.2" y2="344.3" stroke="#333" stroke-width="0.6"/>
<line x1="31.1" y1="339.7" x2="33.3" y2="339.7" stroke="#333" stroke-width="0.6"/>
<text transform="translate(26.7 373.0) rotate(-90)" font-size="5.8" textLength="18.4" lengthAdjust="spacingAndGlyphs" fill="#333">DMSO</text>
<text transform="translate(34.8 376.8) rotate(-90)" font-size="5.2" textLength="25.8" lengthAdjust="spacingAndGlyphs" fill="#444">AS-605240</text>
<path d="M23.2 374v3.2q0 2.2 2.2 2.2h9.6q2.2 0 2.2 -2.2v-3.2M30.2 379.4v4" fill="none" stroke="#444" stroke-width="0.6"/>
<rect x="44.8" y="338.6" width="2.8" height="6.1" fill="#808080" stroke="#777" stroke-width="0.3"/>
<line x1="46.2" y1="332.5" x2="46.2" y2="344.7" stroke="#333" stroke-width="0.6"/>
<line x1="45.1" y1="332.5" x2="47.3" y2="332.5" stroke="#333" stroke-width="0.6"/>
<line x1="45.1" y1="344.7" x2="47.3" y2="344.7" stroke="#333" stroke-width="0.6"/>
<rect x="52.2" y="338.6" width="2.8" height="6.1" fill="#808080" stroke="#777" stroke-width="0.3"/>
<line x1="53.6" y1="333.6" x2="53.6" y2="343.6" stroke="#333" stroke-width="0.6"/>
<line x1="52.5" y1="333.6" x2="54.7" y2="333.6" stroke="#333" stroke-width="0.6"/>
<line x1="52.5" y1="343.6" x2="54.7" y2="343.6" stroke="#333" stroke-width="0.6"/>
<text transform="translate(48.1 373.0) rotate(-90)" font-size="5.8" textLength="18.4" lengthAdjust="spacingAndGlyphs" fill="#333">DMSO</text>
<text transform="translate(56.2 376.8) rotate(-90)" font-size="5.2" textLength="25.8" lengthAdjust="spacingAndGlyphs" fill="#444">AS-605240</text>
<path d="M44.6 374v3.2q0 2.2 2.2 2.2h9.6q2.2 0 2.2 -2.2v-3.2M51.7 379.4v4" fill="none" stroke="#444" stroke-width="0.6"/>
<rect x="65.4" y="321.4" width="2.8" height="23.3" fill="#808080" stroke="#777" stroke-width="0.3"/>
<line x1="66.8" y1="311.1" x2="66.8" y2="331.7" stroke="#333" stroke-width="0.6"/>
<line x1="65.7" y1="311.1" x2="67.9" y2="311.1" stroke="#333" stroke-width="0.6"/>
<line x1="65.7" y1="331.7" x2="67.9" y2="331.7" stroke="#333" stroke-width="0.6"/>
<rect x="72.9" y="330.6" width="2.8" height="14.1" fill="#808080" stroke="#777" stroke-width="0.3"/>
<line x1="74.3" y1="324.5" x2="74.3" y2="336.7" stroke="#333" stroke-width="0.6"/>
<line x1="73.2" y1="324.5" x2="75.4" y2="324.5" stroke="#333" stroke-width="0.6"/>
<line x1="73.2" y1="336.7" x2="75.4" y2="336.7" stroke="#333" stroke-width="0.6"/>
<text transform="translate(68.7 373.0) rotate(-90)" font-size="5.8" textLength="18.4" lengthAdjust="spacingAndGlyphs" fill="#333">DMSO</text>
<text transform="translate(76.9 376.8) rotate(-90)" font-size="5.2" textLength="25.8" lengthAdjust="spacingAndGlyphs" fill="#444">AS-605240</text>
<path d="M65.2 374v3.2q0 2.2 2.2 2.2h9.7q2.2 0 2.2 -2.2v-3.2M72.3 379.4v4" fill="none" stroke="#444" stroke-width="0.6"/>
<line x1="88.0" y1="344.1" x2="88.0" y2="344.7" stroke="#333" stroke-width="0.6"/>
<line x1="86.9" y1="344.1" x2="89.1" y2="344.1" stroke="#333" stroke-width="0.6"/>
<rect x="94.0" y="344.1" width="2.8" height="0.6" fill="#808080" stroke="#777" stroke-width="0.3"/>
<line x1="95.4" y1="343.6" x2="95.4" y2="344.7" stroke="#333" stroke-width="0.6"/>
<line x1="94.3" y1="343.6" x2="96.5" y2="343.6" stroke="#333" stroke-width="0.6"/>
<text transform="translate(89.9 373.0) rotate(-90)" font-size="5.8" textLength="18.4" lengthAdjust="spacingAndGlyphs" fill="#333">DMSO</text>
<text transform="translate(98.0 376.8) rotate(-90)" font-size="5.2" textLength="25.8" lengthAdjust="spacingAndGlyphs" fill="#444">AS-605240</text>
<path d="M86.4 374v3.2q0 2.2 2.2 2.2h9.6q2.2 0 2.2 -2.2v-3.2M93.5 379.4v4" fill="none" stroke="#444" stroke-width="0.6"/>
<line x1="108.6" y1="344.2" x2="108.6" y2="344.7" stroke="#333" stroke-width="0.6"/>
<line x1="107.5" y1="344.2" x2="109.7" y2="344.2" stroke="#333" stroke-width="0.6"/>
<rect x="114.6" y="344.2" width="2.8" height="0.5" fill="#808080" stroke="#777" stroke-width="0.3"/>
<line x1="116.0" y1="343.8" x2="116.0" y2="344.7" stroke="#333" stroke-width="0.6"/>
<line x1="114.9" y1="343.8" x2="117.1" y2="343.8" stroke="#333" stroke-width="0.6"/>
<text transform="translate(110.5 373.0) rotate(-90)" font-size="5.8" textLength="18.4" lengthAdjust="spacingAndGlyphs" fill="#333">DMSO</text>
<text transform="translate(118.6 376.8) rotate(-90)" font-size="5.2" textLength="25.8" lengthAdjust="spacingAndGlyphs" fill="#444">AS-605240</text>
<path d="M107.0 374v3.2q0 2.2 2.2 2.2h9.6q2.2 0 2.2 -2.2v-3.2M114.0 379.4v4" fill="none" stroke="#444" stroke-width="0.6"/>
<line x1="129.8" y1="344.2" x2="129.8" y2="344.7" stroke="#333" stroke-width="0.6"/>
<line x1="128.7" y1="344.2" x2="130.9" y2="344.2" stroke="#333" stroke-width="0.6"/>
<rect x="136.1" y="344.2" width="2.8" height="0.5" fill="#808080" stroke="#777" stroke-width="0.3"/>
<line x1="137.5" y1="343.7" x2="137.5" y2="344.7" stroke="#333" stroke-width="0.6"/>
<line x1="136.4" y1="343.7" x2="138.6" y2="343.7" stroke="#333" stroke-width="0.6"/>
<text transform="translate(131.7 373.0) rotate(-90)" font-size="5.8" textLength="18.4" lengthAdjust="spacingAndGlyphs" fill="#333">DMSO</text>
<text transform="translate(140.1 376.8) rotate(-90)" font-size="5.2" textLength="25.8" lengthAdjust="spacingAndGlyphs" fill="#444">AS-605240</text>
<path d="M128.2 374v3.2q0 2.2 2.2 2.2h9.9q2.2 0 2.2 -2.2v-3.2M135.4 379.4v4" fill="none" stroke="#444" stroke-width="0.6"/>
<text x="24.2" y="391.5" font-size="6.4" textLength="15.1" lengthAdjust="spacingAndGlyphs" fill="#333">CCR4</text>
<text x="44.8" y="391.5" font-size="6.4" textLength="16.2" lengthAdjust="spacingAndGlyphs" fill="#333">CCR5</text>
<text x="66.0" y="391.5" font-size="6.4" textLength="15.0" lengthAdjust="spacingAndGlyphs" fill="#333">CCR7</text>
<text x="86.6" y="391.5" font-size="6.4" textLength="20.1" lengthAdjust="spacingAndGlyphs" fill="#333">CXCR6</text>
<text x="109.2" y="391.5" font-size="6.4" textLength="19.5" lengthAdjust="spacingAndGlyphs" fill="#333">CCR10</text>
<text x="131.4" y="391.5" font-size="6.4" textLength="16.5" lengthAdjust="spacingAndGlyphs" fill="#333">CCR1</text>
<line x1="151.7" y1="305.5" x2="151.7" y2="344.7" stroke="#999" stroke-width="0.6"/>
<line x1="151.7" y1="344.7" x2="275.0" y2="344.7" stroke="#222" stroke-width="0.8"/>
<line x1="149.8" y1="344.7" x2="151.7" y2="344.7" stroke="#444" stroke-width="0.6"/>
<text x="143.7" y="346.9" font-size="6.2" textLength="3.2" lengthAdjust="spacingAndGlyphs" fill="#333">0</text>
<line x1="149.8" y1="325.6" x2="151.7" y2="325.6" stroke="#444" stroke-width="0.6"/>
<text x="143.7" y="327.8" font-size="6.2" textLength="3.2" lengthAdjust="spacingAndGlyphs" fill="#333">1</text>
<line x1="149.8" y1="306.5" x2="151.7" y2="306.5" stroke="#444" stroke-width="0.6"/>
<text x="143.7" y="308.7" font-size="6.2" textLength="3.2" lengthAdjust="spacingAndGlyphs" fill="#333">2</text>
<rect x="153.9" y="344.1" width="2.8" height="0.6" fill="#808080" stroke="#777" stroke-width="0.3"/>
<line x1="155.3" y1="343.6" x2="155.3" y2="344.7" stroke="#333" stroke-width="0.6"/>
<line x1="154.2" y1="343.6" x2="156.4" y2="343.6" stroke="#333" stroke-width="0.6"/>
<rect x="161.6" y="339.9" width="2.8" height="4.8" fill="#808080" stroke="#777" stroke-width="0.3"/>
<line x1="163.0" y1="336.1" x2="163.0" y2="343.7" stroke="#333" stroke-width="0.6"/>
<line x1="161.9" y1="336.1" x2="164.1" y2="336.1" stroke="#333" stroke-width="0.6"/>
<line x1="161.9" y1="343.7" x2="164.1" y2="343.7" stroke="#333" stroke-width="0.6"/>
<text transform="translate(157.2 373.0) rotate(-90)" font-size="5.8" textLength="18.4" lengthAdjust="spacingAndGlyphs" fill="#333">DMSO</text>
<text transform="translate(165.6 376.8) rotate(-90)" font-size="5.2" textLength="25.8" lengthAdjust="spacingAndGlyphs" fill="#444">AS-605240</text>
<path d="M153.7 374v3.2q0 2.2 2.2 2.2h9.9q2.2 0 2.2 -2.2v-3.2M160.9 379.4v4" fill="none" stroke="#444" stroke-width="0.6"/>
<rect x="175.9" y="338.6" width="2.8" height="6.1" fill="#808080" stroke="#777" stroke-width="0.3"/>
<line x1="177.3" y1="333.2" x2="177.3" y2="343.9" stroke="#333" stroke-width="0.6"/>
<line x1="176.2" y1="333.2" x2="178.4" y2="333.2" stroke="#333" stroke-width="0.6"/>
<line x1="176.2" y1="343.9" x2="178.4" y2="343.9" stroke="#333" stroke-width="0.6"/>
<rect x="183.1" y="335.9" width="2.8" height="8.8" fill="#808080" stroke="#777" stroke-width="0.3"/>
<line x1="184.5" y1="333.0" x2="184.5" y2="338.8" stroke="#333" stroke-width="0.6"/>
<line x1="183.4" y1="333.0" x2="185.6" y2="333.0" stroke="#333" stroke-width="0.6"/>
<line x1="183.4" y1="338.8" x2="185.6" y2="338.8" stroke="#333" stroke-width="0.6"/>
<text transform="translate(179.2 373.0) rotate(-90)" font-size="5.8" textLength="18.4" lengthAdjust="spacingAndGlyphs" fill="#333">DMSO</text>
<text transform="translate(187.1 376.8) rotate(-90)" font-size="5.2" textLength="25.8" lengthAdjust="spacingAndGlyphs" fill="#444">AS-605240</text>
<path d="M175.7 374v3.2q0 2.2 2.2 2.2h9.4q2.2 0 2.2 -2.2v-3.2M182.7 379.4v4" fill="none" stroke="#444" stroke-width="0.6"/>
<rect x="197.4" y="340.9" width="2.8" height="3.8" fill="#808080" stroke="#777" stroke-width="0.3"/>
<line x1="198.8" y1="339.0" x2="198.8" y2="342.8" stroke="#333" stroke-width="0.6"/>
<line x1="197.7" y1="339.0" x2="199.9" y2="339.0" stroke="#333" stroke-width="0.6"/>
<line x1="197.7" y1="342.8" x2="199.9" y2="342.8" stroke="#333" stroke-width="0.6"/>
<rect x="204.8" y="336.7" width="2.8" height="8.0" fill="#808080" stroke="#777" stroke-width="0.3"/>
<line x1="206.2" y1="334.0" x2="206.2" y2="339.4" stroke="#333" stroke-width="0.6"/>
<line x1="205.1" y1="334.0" x2="207.3" y2="334.0" stroke="#333" stroke-width="0.6"/>
<line x1="205.1" y1="339.4" x2="207.3" y2="339.4" stroke="#333" stroke-width="0.6"/>
<text transform="translate(200.7 373.0) rotate(-90)" font-size="5.8" textLength="18.4" lengthAdjust="spacingAndGlyphs" fill="#333">DMSO</text>
<text transform="translate(208.8 376.8) rotate(-90)" font-size="5.2" textLength="25.8" lengthAdjust="spacingAndGlyphs" fill="#444">AS-605240</text>
<path d="M197.2 374v3.2q0 2.2 2.2 2.2h9.6q2.2 0 2.2 -2.2v-3.2M204.2 379.4v4" fill="none" stroke="#444" stroke-width="0.6"/>
<rect x="218.8" y="342.8" width="2.8" height="1.9" fill="#808080" stroke="#777" stroke-width="0.3"/>
<line x1="220.2" y1="340.9" x2="220.2" y2="344.7" stroke="#333" stroke-width="0.6"/>
<line x1="219.1" y1="340.9" x2="221.3" y2="340.9" stroke="#333" stroke-width="0.6"/>
<rect x="226.2" y="342.4" width="2.8" height="2.3" fill="#808080" stroke="#777" stroke-width="0.3"/>
<line x1="227.6" y1="340.9" x2="227.6" y2="343.9" stroke="#333" stroke-width="0.6"/>
<line x1="226.5" y1="340.9" x2="228.7" y2="340.9" stroke="#333" stroke-width="0.6"/>
<text transform="translate(222.1 373.0) rotate(-90)" font-size="5.8" textLength="18.4" lengthAdjust="spacingAndGlyphs" fill="#333">DMSO</text>
<text transform="translate(230.2 376.8) rotate(-90)" font-size="5.2" textLength="25.8" lengthAdjust="spacingAndGlyphs" fill="#444">AS-605240</text>
<path d="M218.6 374v3.2q0 2.2 2.2 2.2h9.6q2.2 0 2.2 -2.2v-3.2M225.6 379.4v4" fill="none" stroke="#444" stroke-width="0.6"/>
<rect x="240.6" y="343.6" width="2.8" height="1.1" fill="#808080" stroke="#777" stroke-width="0.3"/>
<line x1="242.0" y1="342.0" x2="242.0" y2="344.7" stroke="#333" stroke-width="0.6"/>
<line x1="240.9" y1="342.0" x2="243.1" y2="342.0" stroke="#333" stroke-width="0.6"/>
<rect x="247.6" y="343.6" width="2.8" height="1.1" fill="#808080" stroke="#777" stroke-width="0.3"/>
<line x1="249.0" y1="342.4" x2="249.0" y2="344.7" stroke="#333" stroke-width="0.6"/>
<line x1="247.9" y1="342.4" x2="250.1" y2="342.4" stroke="#333" stroke-width="0.6"/>
<text transform="translate(243.9 373.0) rotate(-90)" font-size="5.8" textLength="18.4" lengthAdjust="spacingAndGlyphs" fill="#333">DMSO</text>
<text transform="translate(251.6 376.8) rotate(-90)" font-size="5.2" textLength="25.8" lengthAdjust="spacingAndGlyphs" fill="#444">AS-605240</text>
<path d="M240.4 374v3.2q0 2.2 2.2 2.2h9.2q2.2 0 2.2 -2.2v-3.2M247.2 379.4v4" fill="none" stroke="#444" stroke-width="0.6"/>
<rect x="262.0" y="342.4" width="2.8" height="2.3" fill="#808080" stroke="#777" stroke-width="0.3"/>
<line x1="263.4" y1="339.0" x2="263.4" y2="344.7" stroke="#333" stroke-width="0.6"/>
<line x1="262.3" y1="339.0" x2="264.5" y2="339.0" stroke="#333" stroke-width="0.6"/>
<rect x="269.6" y="342.8" width="2.8" height="1.9" fill="#808080" stroke="#777" stroke-width="0.3"/>
<line x1="271.0" y1="340.5" x2="271.0" y2="344.7" stroke="#333" stroke-width="0.6"/>
<line x1="269.9" y1="340.5" x2="272.1" y2="340.5" stroke="#333" stroke-width="0.6"/>
<text transform="translate(265.3 373.0) rotate(-90)" font-size="5.8" textLength="18.4" lengthAdjust="spacingAndGlyphs" fill="#333">DMSO</text>
<text transform="translate(273.6 376.8) rotate(-90)" font-size="5.2" textLength="25.8" lengthAdjust="spacingAndGlyphs" fill="#444">AS-605240</text>
<path d="M261.8 374v3.2q0 2.2 2.2 2.2h9.8q2.2 0 2.2 -2.2v-3.2M268.9 379.4v4" fill="none" stroke="#444" stroke-width="0.6"/>
<text x="156.0" y="391.5" font-size="6.4" textLength="16.0" lengthAdjust="spacingAndGlyphs" fill="#333">CCR4</text>
<text x="178.0" y="391.5" font-size="6.4" textLength="16.6" lengthAdjust="spacingAndGlyphs" fill="#333">CCR5</text>
<text x="197.4" y="391.5" font-size="6.4" textLength="15.9" lengthAdjust="spacingAndGlyphs" fill="#333">CCR7</text>
<text x="218.6" y="391.5" font-size="6.4" textLength="20.9" lengthAdjust="spacingAndGlyphs" fill="#333">CXCR6</text>
<text x="242.0" y="391.5" font-size="6.4" textLength="20.0" lengthAdjust="spacingAndGlyphs" fill="#333">CCR10</text>
<text x="264.3" y="391.5" font-size="6.4" textLength="15.7" lengthAdjust="spacingAndGlyphs" fill="#333">CCR1</text>
<text transform="translate(5.1 333.0) rotate(-90)" font-size="4.8" textLength="14.1" lengthAdjust="spacingAndGlyphs" font-weight="bold" stroke="none" fill="#222">FOLD</text>
<text transform="translate(10.7 344.5) rotate(-90)" font-size="4.8" textLength="34.7" lengthAdjust="spacingAndGlyphs" font-weight="bold" stroke="none" fill="#222">INDUCTION</text>
<text x="324.6" y="310.3" font-size="6.6" textLength="31.6" lengthAdjust="spacingAndGlyphs" font-weight="bold" stroke="none" fill="#111">Tbet mRNA</text>
<line x1="311.0" y1="322.0" x2="311.0" y2="373.6" stroke="#222" stroke-width="0.7"/>
<line x1="311.0" y1="373.6" x2="382.6" y2="373.6" stroke="#222" stroke-width="0.7"/>
<line x1="308.4" y1="373.6" x2="311.0" y2="373.6" stroke="#222" stroke-width="0.6"/>
<text x="303.4" y="375.9" font-size="6.4" textLength="3.2" lengthAdjust="spacingAndGlyphs" fill="#222">0</text>
<line x1="308.4" y1="356.9" x2="311.0" y2="356.9" stroke="#222" stroke-width="0.6"/>
<text x="303.4" y="359.2" font-size="6.4" textLength="3.2" lengthAdjust="spacingAndGlyphs" fill="#222">5</text>
<line x1="308.4" y1="340.2" x2="311.0" y2="340.2" stroke="#222" stroke-width="0.6"/>
<text x="300.2" y="342.5" font-size="6.4" textLength="6.4" lengthAdjust="spacingAndGlyphs" fill="#222">10</text>
<line x1="308.4" y1="323.5" x2="311.0" y2="323.5" stroke="#222" stroke-width="0.6"/>
<text x="300.2" y="325.8" font-size="6.4" textLength="6.4" lengthAdjust="spacingAndGlyphs" fill="#222">15</text>
<text transform="translate(294.0 371.6) rotate(-90)" font-size="3.8" textLength="45.6" lengthAdjust="spacingAndGlyphs" font-weight="bold" stroke="none" fill="#222">FOLD INDUCTION</text>
<rect x="327.0" y="342.2" width="20.6" height="31.4" fill="#000" stroke="#000" stroke-width="0.3"/>
<line x1="337.5" y1="327.6" x2="337.5" y2="343.0" stroke="#222" stroke-width="0.6"/>
<line x1="336.0" y1="327.6" x2="339.0" y2="327.6" stroke="#222" stroke-width="0.6"/>
<rect x="347.6" y="366.1" width="20.1" height="7.5" fill="#fff" stroke="#111" stroke-width="0.7"/>
<line x1="356.2" y1="366.1" x2="359.4" y2="366.1" stroke="#111" stroke-width="0.9"/>
<line x1="352.3" y1="321.5" x2="365.8" y2="321.5" stroke="#333" stroke-width="0.7"/>
<text x="357.8" y="321.9" font-size="4.6" textLength="2.0" lengthAdjust="spacingAndGlyphs" fill="#333">*</text>
<text x="368.8" y="333.7" font-size="5.2" textLength="14.6" lengthAdjust="spacingAndGlyphs" fill="#444">DMSO</text>
<rect x="390.5" y="327.8" width="6.0" height="6.6" fill="#000" stroke="#000" stroke-width="0.3"/>
<text x="361.4" y="343.3" font-size="5.2" textLength="23.9" lengthAdjust="spacingAndGlyphs" fill="#444">AS-605240</text>
<rect x="390.8" y="338.0" width="5.5" height="5.8" fill="#fff" stroke="#111" stroke-width="0.9"/>
<path d="M436.0 350.2L436.6 350.1L437.2 350.3L437.8 350.6L438.4 349.3L439.0 349.0L439.6 349.0L440.2 349.8L440.8 348.0L441.4 349.1L442.0 348.5L442.6 346.7L443.2 347.4L443.8 346.8L444.4 345.9L445.0 347.2L445.6 342.9L446.2 341.5L446.8 344.7L447.4 341.4L448.0 339.7L448.6 338.6L449.2 337.0L449.8 337.9L450.4 332.9L451.0 331.2L451.6 331.2L452.2 329.2L452.8 329.1L453.4 326.8L454.0 322.8L454.6 320.3L455.2 321.3L455.8 320.3L456.4 314.3L457.0 315.7L457.6 314.6L458.2 314.5L458.8 314.7L459.4 319.4L460.0 321.2L460.6 321.0L461.2 325.1L461.8 326.0L462.4 328.2L463.0 332.4L463.6 335.3L464.2 338.6L464.8 342.9L465.4 346.7L466.0 349.8L466.6 350.1L467.2 350.3L467.8 350.1L468.4 349.3L469.0 349.3L469.6 350.5L470.2 350.5L470.8 350.8L471.4 349.8L472.0 350.0L472.6 351.3L473.2 350.8L473.8 351.0L474.4 350.1L475.0 350.6L475.6 351.5L476.2 351.1L476.8 351.7L477.4 350.5L478.0 351.0L478.6 351.6L479.2 351.0L479.8 351.6L480.4 351.5L481.0 351.2L481.6 351.6L481.6 352.4L436.0 352.4Z" fill="#000" stroke="#000" stroke-width="0.6" stroke-linejoin="round" opacity="1"/>
<path d="M440.0 351.1L440.6 351.2L441.2 351.2L441.8 352.1L442.4 351.2L443.0 351.5L443.6 350.2L444.2 350.9L444.8 351.4L445.4 350.6L446.0 351.4L446.6 351.1L447.2 349.9L447.8 348.8L448.4 350.5L449.0 348.8L449.6 348.4L450.2 350.1L450.8 350.3L451.4 350.2L452.0 350.5L452.6 348.4L453.2 348.1L453.8 348.1L454.4 350.4L455.0 347.9L455.6 347.0L456.2 345.5L456.8 344.5L457.4 343.4L458.0 343.8L458.6 341.9L459.2 341.7L459.8 344.0L460.4 339.2L461.0 341.6L461.6 340.2L462.2 338.2L462.8 337.2L463.4 337.1L464.0 335.1L464.6 332.1L465.2 331.6L465.8 330.0L466.4 330.4L467.0 333.4L467.6 330.4L468.2 328.4L468.8 330.5L469.4 332.1L470.0 330.1L470.6 331.4L471.2 328.1L471.8 327.9L472.4 330.9L473.0 327.7L473.6 328.9L474.2 329.2L474.8 328.1L475.4 327.2L476.0 326.9L476.6 331.8L477.2 330.3L477.8 331.6L478.4 329.1L479.0 331.4L479.6 330.8L480.2 329.4L480.8 331.0L481.4 333.4L482.0 334.4L482.6 337.6L483.2 341.9L483.8 341.6L484.4 346.3L485.0 345.8L485.6 347.2L486.2 348.9L486.8 349.3L487.4 349.1L488.0 350.5L488.6 351.0" fill="none" stroke="#aaa" stroke-width="0.9" stroke-linejoin="round" opacity="1"/>
<path d="M442.0 352.1L442.6 352.1L443.2 352.3L443.8 351.2L444.4 351.8L445.0 352.2L445.6 352.2L446.2 350.6L446.8 351.4L447.4 351.2L448.0 350.9L448.6 351.8L449.2 350.7L449.8 350.4L450.4 351.4L451.0 350.4L451.6 349.1L452.2 348.8L452.8 349.1L453.4 347.3L454.0 348.9L454.6 349.0L455.2 347.5L455.8 348.5L456.4 348.3L457.0 346.0L457.6 346.0L458.2 342.3L458.8 341.1L459.4 345.9L460.0 341.2L460.6 340.2L461.2 343.8L461.8 342.4L462.4 338.1L463.0 338.8L463.6 337.8L464.2 337.5L464.8 335.6L465.4 338.4L466.0 336.7L466.6 337.0L467.2 335.4L467.8 334.6L468.4 333.8L469.0 338.5L469.6 337.4L470.2 336.0L470.8 333.0L471.4 332.8L472.0 332.2L472.6 333.0L473.2 331.0L473.8 332.0L474.4 331.1L475.0 330.7L475.6 333.0L476.2 331.4L476.8 331.2L477.4 330.1L478.0 330.8L478.6 331.9L479.2 328.6L479.8 326.8L480.4 328.9L481.0 327.9L481.6 329.9L482.2 327.1L482.8 333.1L483.4 329.5L484.0 334.1L484.6 335.0L485.2 335.7L485.8 340.7L486.4 341.5L487.0 340.2L487.6 344.1L488.2 346.6L488.8 346.3L489.4 348.0L490.0 350.4L490.6 351.5L491.2 351.8" fill="none" stroke="#111" stroke-width="1.1" stroke-linejoin="round" opacity="1"/>
<rect x="435.6" y="309.9" width="57.8" height="43.4" fill="none" stroke="#333" stroke-width="0.8"/>
<text x="436.6" y="358.8" font-size="3.4" text-anchor="middle" fill="#444">10<tspan dy="-1.4" font-size="2.4">0</tspan></text>
<text x="450.7" y="358.8" font-size="3.4" text-anchor="middle" fill="#444">10<tspan dy="-1.4" font-size="2.4">1</tspan></text>
<text x="464.8" y="358.8" font-size="3.4" text-anchor="middle" fill="#444">10<tspan dy="-1.4" font-size="2.4">2</tspan></text>
<text x="478.9" y="358.8" font-size="3.4" text-anchor="middle" fill="#444">10<tspan dy="-1.4" font-size="2.4">3</tspan></text>
<text x="493.0" y="358.8" font-size="3.4" text-anchor="middle" fill="#444">10<tspan dy="-1.4" font-size="2.4">4</tspan></text>
<path d="M433.6 312h1.4M433.6 320h1.4M433.6 328h1.4M433.6 336h1.4M433.6 344h1.4M433.6 352h1.4" stroke="#888" stroke-width="0.6" opacity="0.7"/>
<text x="460.6" y="361.8" font-size="2.8" textLength="8.4" lengthAdjust="spacingAndGlyphs" fill="#666">FL2-H</text>
<line x1="435.0" y1="364.2" x2="493.6" y2="364.2" stroke="#555" stroke-width="0.6"/>
<path d="M491.1 362.9L494.1 364.2L491.1 365.5" fill="none" stroke="#555" stroke-width="0.6"/>
<text x="448.0" y="372.0" font-size="6" textLength="29.6" lengthAdjust="spacingAndGlyphs" font-weight="bold" stroke="none" fill="#111">CXCR3 -PE</text>
<text x="411.6" y="383.6" font-size="5.0" textLength="13.8" lengthAdjust="spacingAndGlyphs" fill="#555">siRNA</text>
<rect x="431.2" y="380.0" width="6.4" height="3.8" fill="#fff" stroke="#aaa" stroke-width="0.9"/>
<text x="444.6" y="383.6" font-size="5.0" textLength="23.4" lengthAdjust="spacingAndGlyphs" fill="#555">Vector Ctrl.</text>
<rect x="472.4" y="379.8" width="6.4" height="4.0" fill="#fff" stroke="#111" stroke-width="1.3"/>
<text x="486.7" y="383.6" font-size="5.0" textLength="22.6" lengthAdjust="spacingAndGlyphs" fill="#555">Isotype ctrl</text>
<rect x="512.6" y="379.4" width="6.8" height="5.0" fill="#000" stroke="#000" stroke-width="0.3"/>
</g>
</svg>
</body></html>
